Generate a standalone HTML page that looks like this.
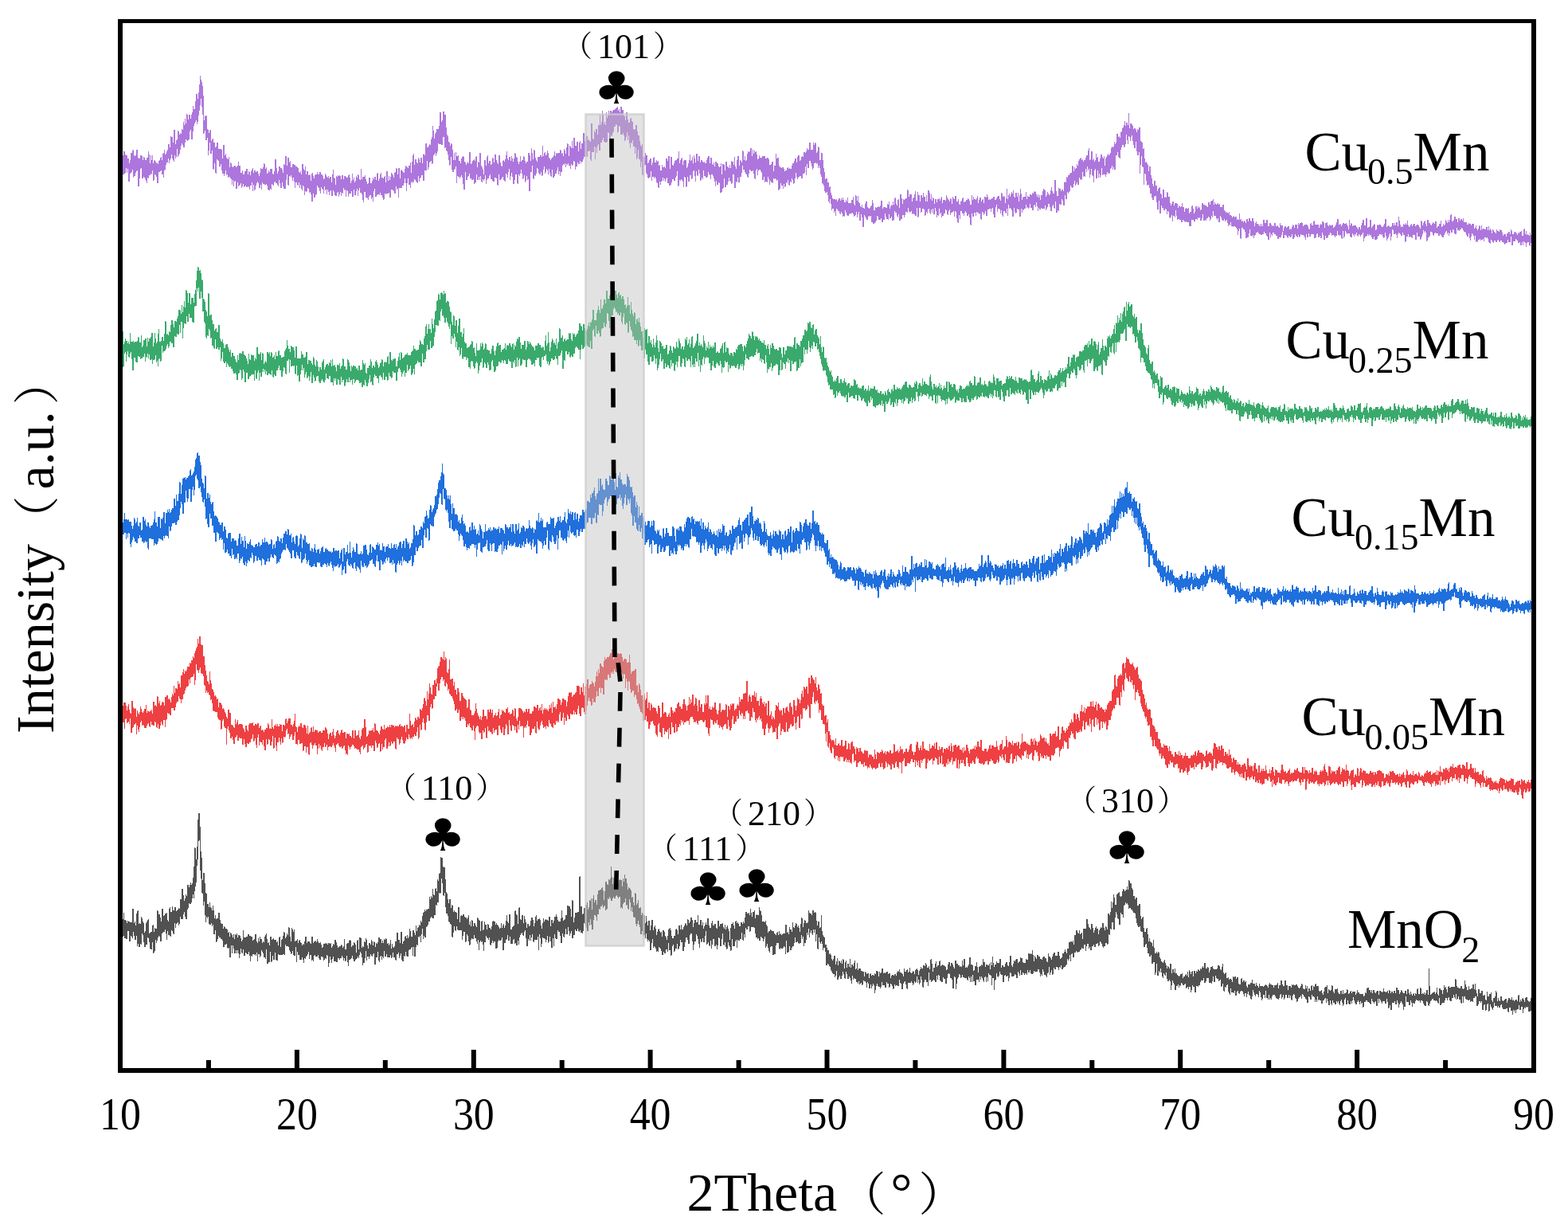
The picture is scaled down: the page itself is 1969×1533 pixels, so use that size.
<!DOCTYPE html>
<html><head><meta charset="utf-8"><style>
html,body{margin:0;padding:0;background:#fff;}
svg{display:block;}
text{font-family:'Liberation Serif','Noto Serif CJK SC',serif;fill:#000;}
.cl{font-family:'DejaVu Sans',sans-serif;}
</style></head><body>
<svg width="1969" height="1533" viewBox="0 0 1969 1533">
<rect width="1969" height="1533" fill="#fff"/>
<g fill="none" stroke-width="1.5" stroke-linejoin="round" shape-rendering="crispEdges" transform="translate(151,0) scale(0.221875,0.5)">
<path d="M0,398l1,-6 1,22 1,-16 1,18 1,-5 1,-22 1,27 1,-2 1,-28 1,23 1,16 1,-13 1,-15 1,18 1,-19 1,10 1,31 1,-5 1,-41 1,20 1,19 1,-49 1,54 1,-45 1,30 1,-24 1,26 1,-2 1,-4 1,16 1,-42 1,21 1,-8 1,10 1,-12 1,10 1,11 1,-30 1,41 1,-16 1,3 1,-13 1,7 1,-15 1,18 1,7 1,-8 1,4 1,35 1,-39 1,2 1,2 1,7 1,-1 1,-15 1,23 1,-22 1,-1 1,-8 1,30 1,-24 1,-24 1,35 1,-6 1,16 1,-18 1,-7 1,-9 1,21 1,-10 1,0 1,18 1,-47 1,18 1,48 1,-40 1,-4 1,31 1,-18 1,-22 1,8 1,42 1,-33 1,23 1,-21 1,23 1,-27 1,2 1,-8 1,-9 1,37 1,-18 1,-20 1,-13 1,17 1,4 1,4 1,-2 1,26 1,-25 1,25 1,-29 1,26 1,43 1,-65 1,33 1,-35 1,23 1,-19 1,-4 1,47 1,-38 1,-4 1,14 1,-14 1,19 1,-10 1,-22 1,14 1,-14 1,15 1,-12 1,11 1,4 1,16 1,-10 1,32 1,-11 1,-32 1,6 1,11 1,-1 1,-24 1,46 1,-45 1,17 1,-3 1,4 1,-13 1,25 1,22 1,-26 1,-17 1,-3 1,13 1,11 1,-24 1,20 1,-20 1,56 1,-32 1,-18 1,7 1,-19 1,34 1,-8 1,2 1,-12 1,34 1,-36 1,-29 1,31 1,8 1,17 1,-23 1,-5 1,29 1,-13 1,6 1,5 1,-14 1,5 1,-27 1,-10 1,22 1,17 1,7 1,-13 1,-6 1,0 1,-7 1,-20 1,26 1,10 1,-11 1,5 1,3 1,16 1,12 1,-41 1,17 1,-16 1,-4 1,-2 1,-1 1,31 1,-32 1,22 1,-19 1,32 1,-21 1,-6 1,4 1,8 1,13 1,-19 1,25 1,-33 1,18 1,-1 1,21 1,11 1,-46 1,29 1,-7 1,-21 1,5 1,12 1,-25 1,18 1,7 1,-27 1,11 1,-5 1,-6 1,1 1,16 1,7 1,0 1,-30 1,21 1,-23 1,10 1,1 1,6 1,-1 1,3 1,-11 1,32 1,-27 1,-12 1,20 1,11 1,-42 1,59 1,-29 1,8 1,-33 1,9 1,-22 1,25 1,23 1,-37 1,6 1,-1 1,14 1,-15 1,12 1,-7 1,15 1,-25 1,3 1,-3 1,4 1,2 1,13 1,-27 1,4 1,12 1,-19 1,2 1,6 1,12 1,-23 1,-10 1,11 1,10 1,23 1,-15 1,-8 1,-1 1,2 1,-15 1,7 1,19 1,-53 1,15 1,-15 1,43 1,-6 1,4 1,1 1,-10 1,-6 1,22 1,-46 1,51 1,-34 1,28 1,4 1,-17 1,-18 1,42 1,2 1,-50 1,36 1,-63 1,7 1,44 1,-1 1,-14 1,25 1,-19 1,27 1,-7 1,-14 1,-21 1,20 1,-14 1,12 1,-19 1,11 1,6 1,-19 1,11 1,-16 1,47 1,-63 1,11 1,17 1,30 1,-25 1,23 1,-19 1,-2 1,-26 1,36 1,-26 1,17 1,-25 1,19 1,-24 1,25 1,1 1,3 1,-10 1,-8 1,-5 1,10 1,7 1,-33 1,20 1,13 1,4 1,-2 1,-33 1,25 1,-10 1,-35 1,10 1,51 1,-39 1,14 1,-11 1,5 1,18 1,0 1,-57 1,28 1,-10 1,1 1,11 1,-17 1,25 1,13 1,-26 1,22 1,-58 1,50 1,15 1,-5 1,-16 1,-28 1,7 1,-10 1,27 1,22 1,-13 1,-20 1,-1 1,-27 1,39 1,-20 1,-8 1,-2 1,16 1,-13 1,20 1,-10 1,13 1,-7 1,-15 1,-13 1,43 1,-26 1,43 1,-47 1,-19 1,20 1,-9 1,-6 1,41 1,-61 1,39 1,-1 1,9 1,-37 1,31 1,-33 1,20 1,-18 1,30 1,-14 1,10 1,-20 1,-14 1,20 1,-6 1,-30 1,11 1,28 1,-7 1,-49 1,73 1,-51 1,52 1,-41 1,-18 1,5 1,4 1,22 1,-34 1,8 1,32 1,-29 1,16 1,-36 1,-17 1,-9 1,32 1,16 1,-28 1,7 1,-49 1,55 1,-21 1,-11 1,3 1,-8 1,22 1,-19 1,22 1,-27 1,52 1,7 1,-12 1,-12 1,33 1,-35 1,52 1,41 1,-17 1,8 1,-22 1,29 1,-23 1,15 1,-1 1,4 1,-35 1,10 1,16 1,-13 1,16 1,-27 1,34 1,22 1,-58 1,37 1,-3 1,10 1,-11 1,7 1,6 1,6 1,-16 1,9 1,51 1,-57 1,46 1,0 1,-25 1,19 1,-34 1,2 1,-6 1,23 1,-25 1,15 1,-18 1,47 1,-31 1,19 1,21 1,-21 1,-2 1,-6 1,17 1,1 1,-20 1,-1 1,1 1,24 1,-27 1,29 1,18 1,-29 1,56 1,-54 1,7 1,-9 1,-8 1,10 1,-8 1,29 1,17 1,-7 1,-17 1,-8 1,-4 1,5 1,57 1,-53 1,18 1,0 1,-18 1,-22 1,27 1,-18 1,30 1,-11 1,-27 1,15 1,25 1,-4 1,2 1,-12 1,16 1,-27 1,30 1,-19 1,19 1,-16 1,28 1,-37 1,19 1,-17 1,26 1,-33 1,30 1,0 1,-11 1,5 1,21 1,-42 1,23 1,1 1,26 1,-28 1,24 1,10 1,0 1,-31 1,-7 1,38 1,-68 1,27 1,48 1,-23 1,0 1,-22 1,-5 1,43 1,-25 1,18 1,-34 1,5 1,-10 1,35 1,-21 1,15 1,-20 1,41 1,-22 1,-6 1,-10 1,8 1,7 1,-2 1,1 1,5 1,25 1,-43 1,16 1,-21 1,46 1,-18 1,-2 1,-1 1,7 1,5 1,-6 1,16 1,-33 1,-1 1,1 1,38 1,-2 1,-25 1,19 1,-21 1,17 1,26 1,-24 1,3 1,-9 1,-4 1,17 1,5 1,-6 1,-24 1,2 1,45 1,-24 1,-16 1,11 1,5 1,-26 1,25 1,4 1,-22 1,28 1,-22 1,-9 1,11 1,21 1,-1 1,13 1,8 1,-44 1,18 1,-23 1,-6 1,26 1,-5 1,17 1,-11 1,-16 1,38 1,-59 1,21 1,3 1,1 1,1 1,31 1,-23 1,-25 1,20 1,-8 1,21 1,-9 1,17 1,-19 1,3 1,-6 1,10 1,22 1,3 1,-5 1,-16 1,7 1,-28 1,31 1,-15 1,-3 1,19 1,-22 1,0 1,4 1,7 1,-8 1,27 1,-9 1,2 1,-21 1,-9 1,29 1,4 1,-33 1,18 1,4 1,3 1,8 1,3 1,-16 1,17 1,-44 1,19 1,-13 1,26 1,-17 1,3 1,21 1,2 1,-10 1,-1 1,-4 1,18 1,-38 1,11 1,4 1,-7 1,35 1,-31 1,22 1,-11 1,-4 1,-1 1,-8 1,8 1,-11 1,27 1,-14 1,0 1,-24 1,13 1,11 1,-13 1,0 1,40 1,-55 1,38 1,-1 1,-23 1,-1 1,26 1,-19 1,-7 1,41 1,-17 1,-25 1,-6 1,46 1,-6 1,-22 1,-5 1,23 1,-22 1,8 1,-12 1,-1 1,-7 1,27 1,-18 1,-8 1,10 1,3 1,-14 1,24 1,-7 1,10 1,-20 1,8 1,10 1,-5 1,-1 1,14 1,-21 1,27 1,-4 1,-21 1,3 1,-6 1,-8 1,7 1,22 1,-39 1,31 1,1 1,19 1,-36 1,9 1,-22 1,28 1,3 1,-9 1,-6 1,-16 1,23 1,-28 1,39 1,-3 1,-35 1,32 1,-42 1,7 1,44 1,-48 1,36 1,-1 1,-25 1,10 1,27 1,0 1,-12 1,4 1,-32 1,20 1,-5 1,7 1,13 1,-16 1,3 1,20 1,-11 1,4 1,-21 1,20 1,20 1,-47 1,26 1,0 1,-2 1,-10 1,33 1,-29 1,-14 1,15 1,-6 1,-6 1,14 1,-24 1,48 1,-29 1,-2 1,-2 1,-14 1,30 1,-31 1,20 1,6 1,9 1,2 1,-26 1,14 1,4 1,8 1,2 1,-25 1,16 1,-5 1,-1 1,-18 1,17 1,-13 1,17 1,-2 1,3 1,-52 1,15 1,17 1,12 1,4 1,9 1,-24 1,-12 1,32 1,-12 1,-5 1,3 1,3 1,-3 1,17 1,9 1,-21 1,-13 1,8 1,-11 1,-4 1,25 1,-17 1,-15 1,33 1,-11 1,18 1,-35 1,33 1,-5 1,11 1,4 1,4 1,-48 1,30 1,5 1,-16 1,11 1,3 1,-29 1,20 1,-5 1,4 1,7 1,-3 1,-6 1,23 1,-4 1,10 1,-59 1,28 1,-20 1,19 1,-24 1,-1 1,57 1,-54 1,22 1,-48 1,32 1,2 1,23 1,-22 1,-10 1,12 1,7 1,-3 1,-10 1,4 1,-13 1,-9 1,17 1,-25 1,66 1,-48 1,28 1,-18 1,14 1,-23 1,-8 1,19 1,-6 1,-3 1,-14 1,38 1,-16 1,11 1,-17 1,6 1,9 1,-4 1,-11 1,8 1,-2 1,-5 1,24 1,-27 1,33 1,-14 1,-24 1,2 1,15 1,14 1,-25 1,1 1,-4 1,35 1,-37 1,33 1,7 1,-4 1,20 1,-36 1,3 1,8 1,-25 1,-1 1,23 1,14 1,-19 1,14 1,-32 1,3 1,26 1,-15 1,18 1,-11 1,23 1,-41 1,21 1,-11 1,23 1,-16 1,10 1,0 1,-7 1,-7 1,15 1,20 1,-12 1,-20 1,16 1,-24 1,17 1,-9 1,0 1,13 1,14 1,-11 1,15 1,6 1,-30 1,-33 1,45 1,-20 1,11 1,13 1,2 1,-38 1,10 1,20 1,10 1,-17 1,-6 1,45 1,-52 1,18 1,-25 1,10 1,-20 1,36 1,-13 1,38 1,-6 1,-11 1,-5 1,15 1,-40 1,45 1,-37 1,-9 1,28 1,-29 1,39 1,-9 1,-6 1,-4 1,4 1,-14 1,32 1,-20 1,-13 1,30 1,12 1,-4 1,-16 1,-21 1,23 1,-9 1,0 1,0 1,31 1,-31 1,19 1,-19 1,-15 1,20 1,45 1,-69 1,8 1,23 1,2 1,-7 1,23 1,-13 1,-28 1,20 1,-8 1,18 1,-2 1,23 1,-29 1,-9 1,22 1,0 1,-15 1,-24 1,23 1,-24 1,49 1,-4 1,-45 1,8 1,8 1,-14 1,4 1,-12 1,6 1,12 1,13 1,-6 1,1 1,9 1,-28 1,15 1,7 1,-6 1,14 1,-14 1,1 1,9 1,-14 1,27 1,-46 1,31 1,21 1,-45 1,26 1,-23 1,1 1,25 1,-29 1,29 1,3 1,-2 1,-4 1,5 1,3 1,-31 1,8 1,12 1,5 1,16 1,-7 1,-17 1,-3 1,-7 1,5 1,8 1,3 1,-12 1,23 1,-40 1,3 1,34 1,-22 1,5 1,2 1,-14 1,1 1,41 1,-36 1,22 1,-16 1,17 1,-26 1,22 1,-11 1,-8 1,8 1,-15 1,11 1,16 1,11 1,-33 1,40 1,-26 1,5 1,0 1,-16 1,-7 1,16 1,-4 1,-3 1,22 1,-18 1,15 1,-11 1,-2 1,20 1,11 1,-18 1,-34 1,24 1,6 1,-5 1,-8 1,-28 1,22 1,26 1,-17 1,9 1,7 1,5 1,-19 1,-12 1,11 1,5 1,24 1,-21 1,12 1,8 1,3 1,-12 1,-5 1,3 1,-33 1,4 1,-3 1,29 1,8 1,-24 1,-2 1,1 1,23 1,-38 1,13 1,6 1,-12 1,43 1,-12 1,-24 1,-11 1,1 1,-4 1,34 1,4 1,-33 1,0 1,11 1,0 1,33 1,-20 1,-1 1,-6 1,14 1,-19 1,-1 1,-17 1,43 1,-8 1,-8 1,-4 1,7 1,-19 1,7 1,-8 1,7 1,13 1,-16 1,15 1,6 1,-32 1,14 1,16 1,-18 1,4 1,-15 1,19 1,29 1,-43 1,-2 1,24 1,-11 1,3 1,12 1,-14 1,17 1,-31 1,18 1,3 1,3 1,-9 1,29 1,-20 1,-32 1,33 1,12 1,-16 1,-22 1,14 1,20 1,-15 1,1 1,18 1,-11 1,5 1,-2 1,-16 1,18 1,0 1,-10 1,-11 1,-4 1,2 1,-19 1,56 1,-30 1,28 1,-38 1,8 1,14 1,-17 1,12 1,-22 1,14 1,9 1,1 1,4 1,-16 1,21 1,8 1,-25 1,25 1,-13 1,-21 1,23 1,-27 1,-8 1,8 1,22 1,-13 1,-11 1,0 1,19 1,-3 1,-15 1,41 1,-51 1,17 1,2 1,17 1,-26 1,19 1,-16 1,0 1,4 1,-3 1,9 1,10 1,1 1,9 1,-27 1,0 1,-10 1,-20 1,42 1,4 1,14 1,-27 1,9 1,-5 1,7 1,30 1,-41 1,-13 1,43 1,-23 1,40 1,-21 1,-39 1,35 1,-19 1,16 1,-11 1,2 1,-20 1,-8 1,24 1,-14 1,28 1,7 1,-22 1,30 1,-33 1,33 1,-37 1,4 1,20 1,-1 1,0 1,-10 1,25 1,-28 1,34 1,-30 1,-9 1,31 1,-32 1,19 1,-25 1,-8 1,35 1,6 1,-10 1,-21 1,16 1,15 1,-7 1,-18 1,14 1,1 1,-1 1,6 1,15 1,-11 1,-24 1,-8 1,30 1,-14 1,2 1,10 1,21 1,-57 1,25 1,-9 1,-9 1,24 1,-5 1,-6 1,-3 1,3 1,0 1,-21 1,18 1,-7 1,14 1,22 1,-39 1,27 1,8 1,-31 1,-1 1,31 1,-15 1,-5 1,20 1,-3 1,-50 1,44 1,-24 1,0 1,19 1,-13 1,19 1,-2 1,9 1,-11 1,-2 1,14 1,-17 1,-20 1,-7 1,30 1,-12 1,-6 1,-19 1,42 1,-44 1,54 1,-15 1,3 1,6 1,-8 1,-24 1,20 1,23 1,-47 1,6 1,17 1,4 1,-17 1,43 1,-36 1,-3 1,10 1,-24 1,-1 1,21 1,8 1,-31 1,16 1,2 1,24 1,-27 1,6 1,-2 1,-4 1,8 1,3 1,-39 1,53 1,-30 1,-4 1,3 1,7 1,24 1,-6 1,-16 1,21 1,-28 1,16 1,-27 1,19 1,12 1,-22 1,22 1,-1 1,-1 1,21 1,-17 1,-31 1,7 1,5 1,0 1,-9 1,17 1,-30 1,36 1,3 1,-2 1,-22 1,12 1,4 1,9 1,-34 1,20 1,-15 1,5 1,15 1,-19 1,5 1,26 1,-37 1,20 1,-21 1,43 1,-50 1,34 1,-9 1,5 1,-3 1,2 1,3 1,-42 1,40 1,-11 1,3 1,-4 1,22 1,-34 1,14 1,-10 1,7 1,8 1,0 1,36 1,-32 1,-40 1,21 1,27 1,-21 1,-2 1,2 1,20 1,-19 1,5 1,-1 1,12 1,-1 1,3 1,-40 1,41 1,-42 1,16 1,-4 1,21 1,4 1,-12 1,-4 1,-17 1,27 1,6 1,-14 1,0 1,9 1,-1 1,-12 1,5 1,-4 1,-3 1,-11 1,13 1,-3 1,-13 1,14 1,-28 1,41 1,-10 1,-28 1,39 1,-1 1,21 1,-42 1,19 1,-6 1,-29 1,12 1,14 1,-6 1,2 1,-9 1,9 1,-20 1,1 1,-7 1,21 1,25 1,-26 1,-14 1,18 1,7 1,-12 1,-26 1,61 1,-21 1,-1 1,7 1,-3 1,-6 1,-5 1,0 1,-9 1,2 1,19 1,-46 1,39 1,-2 1,14 1,-5 1,-52 1,-14 1,28 1,11 1,-3 1,12 1,13 1,-33 1,10 1,3 1,-11 1,6 1,3 1,24 1,-50 1,24 1,7 1,22 1,-6 1,8 1,-46 1,10 1,10 1,-18 1,16 1,31 1,-45 1,16 1,11 1,-14 1,-29 1,17 1,-8 1,48 1,-6 1,-3 1,-1 1,-16 1,-8 1,21 1,3 1,-36 1,21 1,2 1,-16 1,-19 1,42 1,-6 1,1 1,-14 1,-1 1,0 1,-8 1,7 1,21 1,-4 1,-22 1,8 1,32 1,-65 1,6 1,26 1,-3 1,-1 1,-25 1,31 1,-14 1,18 1,-16 1,10 1,-37 1,-22 1,66 1,-59 1,18 1,25 1,-37 1,20 1,9 1,-4 1,-10 1,-17 1,24 1,29 1,-33 1,-1 1,27 1,-14 1,-12 1,3 1,8 1,-40 1,14 1,12 1,17 1,-5 1,-10 1,-26 1,14 1,24 1,-20 1,-7 1,-12 1,21 1,-32 1,-8 1,45 1,20 1,-38 1,12 1,-4 1,-62 1,58 1,5 1,-10 1,0 1,17 1,-30 1,17 1,1 1,4 1,-13 1,-19 1,5 1,21 1,8 1,-27 1,-21 1,6 1,51 1,-21 1,8 1,-11 1,-10 1,-6 1,-25 1,20 1,32 1,-17 1,-7 1,-25 1,14 1,1 1,4 1,3 1,-26 1,-7 1,17 1,26 1,-27 1,3 1,-10 1,-11 1,-33 1,78 1,-35 1,-17 1,43 1,-22 1,-20 1,21 1,32 1,-56 1,7 1,-10 1,44 1,-20 1,-18 1,31 1,-15 1,17 1,-61 1,42 1,2 1,17 1,-19 1,9 1,-25 1,35 1,27 1,-81 1,10 1,53 1,-27 1,-4 1,32 1,-7 1,6 1,-8 1,9 1,25 1,-38 1,5 1,20 1,-13 1,18 1,-26 1,32 1,-8 1,20 1,-12 1,-19 1,2 1,25 1,31 1,-45 1,20 1,-23 1,35 1,10 1,-20 1,-15 1,15 1,-12 1,-3 1,-15 1,31 1,-25 1,44 1,-38 1,51 1,-34 1,-14 1,9 1,18 1,26 1,-2 1,-6 1,-10 1,-5 1,1 1,16 1,-38 1,28 1,2 1,-13 1,14 1,5 1,-18 1,7 1,4 1,-31 1,29 1,3 1,-3 1,-20 1,65 1,-39 1,8 1,4 1,-37 1,26 1,1 1,-29 1,41 1,-27 1,26 1,11 1,-24 1,-10 1,25 1,-29 1,34 1,8 1,-15 1,-22 1,33 1,-7 1,-4 1,-4 1,-15 1,25 1,-4 1,-13 1,-22 1,21 1,24 1,-36 1,15 1,-2 1,-27 1,41 1,-4 1,2 1,29 1,-10 1,-56 1,30 1,48 1,-67 1,24 1,2 1,-2 1,-10 1,-11 1,19 1,-14 1,5 1,-5 1,33 1,-3 1,-12 1,18 1,-40 1,37 1,-30 1,17 1,8 1,-25 1,-10 1,15 1,-12 1,22 1,8 1,-25 1,10 1,-5 1,13 1,-15 1,12 1,-47 1,24 1,17 1,-13 1,34 1,-25 1,8 1,8 1,-10 1,-7 1,-8 1,9 1,16 1,-22 1,36 1,-20 1,7 1,-32 1,42 1,-28 1,0 1,-16 1,32 1,0 1,-34 1,19 1,39 1,-21 1,-34 1,36 1,-7 1,23 1,-29 1,3 1,-4 1,-27 1,4 1,-11 1,25 1,2 1,12 1,6 1,-9 1,-8 1,29 1,0 1,-8 1,-2 1,-33 1,13 1,18 1,-25 1,17 1,12 1,1 1,-38 1,46 1,-30 1,-35 1,49 1,-10 1,10 1,-11 1,-6 1,27 1,0 1,-9 1,-15 1,35 1,-14 1,10 1,-26 1,20 1,-19 1,8 1,3 1,9 1,2 1,1 1,2 1,-2 1,-3 1,-11 1,-7 1,1 1,-26 1,32 1,-3 1,5 1,-4 1,-9 1,-8 1,15 1,28 1,-38 1,-4 1,13 1,12 1,-5 1,3 1,-49 1,52 1,-22 1,24 1,-31 1,9 1,-13 1,11 1,-8 1,17 1,3 1,7 1,-27 1,-9 1,12 1,19 1,-6 1,7 1,-8 1,19 1,-29 1,4 1,-8 1,7 1,-7 1,-2 1,35 1,-20 1,-22 1,47 1,-55 1,20 1,-7 1,-6 1,10 1,39 1,-23 1,22 1,-28 1,-15 1,3 1,15 1,-5 1,-34 1,55 1,-23 1,6 1,-30 1,22 1,-10 1,7 1,14 1,-3 1,19 1,-37 1,18 1,11 1,15 1,11 1,-50 1,13 1,7 1,-11 1,5 1,5 1,-32 1,-10 1,46 1,-9 1,23 1,-21 1,7 1,-11 1,-16 1,21 1,19 1,-25 1,-2 1,-5 1,18 1,-7 1,13 1,-23 1,1 1,24 1,-1 1,-21 1,-4 1,-12 1,22 1,-24 1,46 1,-31 1,-13 1,14 1,25 1,-21 1,-6 1,3 1,33 1,-29 1,-4 1,-19 1,3 1,12 1,18 1,-25 1,7 1,-27 1,47 1,-56 1,49 1,7 1,-3 1,10 1,-41 1,17 1,6 1,-3 1,7 1,-26 1,4 1,-10 1,21 1,4 1,-28 1,17 1,0 1,39 1,-24 1,-21 1,23 1,-4 1,-7 1,-6 1,21 1,-39 1,10 1,-5 1,3 1,40 1,-27 1,16 1,11 1,-9 1,15 1,-33 1,46 1,-38 1,-24 1,45 1,-10 1,-24 1,12 1,-1 1,29 1,-64 1,2 1,41 1,-6 1,14 1,-26 1,-9 1,6 1,-1 1,-11 1,21 1,6 1,11 1,-12 1,-15 1,53 1,-27 1,-20 1,16 1,-16 1,5 1,18 1,-17 1,6 1,-7 1,-11 1,33 1,-10 1,-18 1,23 1,-42 1,33 1,-13 1,11 1,-6 1,-1 1,0 1,-11 1,14 1,-8 1,-8 1,8 1,23 1,-15 1,-17 1,45 1,-25 1,-11 1,33 1,-51 1,44 1,-8 1,-2 1,-30 1,10 1,11 1,0 1,-7 1,44 1,-40 1,6 1,-3 1,-7 1,1 1,7 1,13 1,8 1,-34 1,16 1,9 1,2 1,-6 1,22 1,-28 1,-18 1,23 1,-8 1,-18 1,-16 1,21 1,14 1,59 1,-57 1,-5 1,-26 1,27 1,-6 1,14 1,-2 1,-19 1,12 1,13 1,-10 1,-47 1,43 1,-14 1,-13 1,23 1,-26 1,25 1,-3 1,3 1,22 1,-22 1,-10 1,47 1,-52 1,36 1,-54 1,20 1,30 1,4 1,-37 1,5 1,40 1,-11 1,-9 1,7 1,7 1,-23 1,-1 1,-6 1,16 1,-7 1,0 1,-4 1,1 1,5 1,-9 1,-11 1,25 1,-25 1,25 1,12 1,-12 1,10 1,-15 1,-20 1,32 1,2 1,-14 1,22 1,-3 1,-4 1,2 1,-40 1,6 1,27 1,-4 1,-4 1,-22 1,4 1,1 1,40 1,-13 1,-7 1,-53 1,64 1,-26 1,2 1,6 1,-2 1,-18 1,16 1,2 1,0 1,-19 1,25 1,-33 1,17 1,34 1,-5 1,-21 1,-2 1,-14 1,-2 1,11 1,20 1,-26 1,17 1,-10 1,-14 1,21 1,-24 1,-7 1,20 1,21 1,16 1,0 1,-39 1,25 1,-5 1,-6 1,-4 1,1 1,-8 1,33 1,-17 1,16 1,-7 1,-11 1,-8 1,-2 1,20 1,18 1,-34 1,-8 1,6 1,10 1,-11 1,11 1,9 1,-10 1,-18 1,13 1,-1 1,-14 1,49 1,-39 1,32 1,-18 1,-25 1,-3 1,49 1,-58 1,26 1,9 1,-24 1,8 1,-2 1,20 1,16 1,-20 1,3 1,-32 1,15 1,11 1,-8 1,22 1,-19 1,7 1,-13 1,-11 1,14 1,14 1,-33 1,5 1,47 1,-25 1,-26 1,42 1,-39 1,12 1,10 1,-23 1,53 1,-43 1,-20 1,53 1,-20 1,-30 1,28 1,10 1,-14 1,25 1,-11 1,-10 1,-23 1,13 1,12 1,-4 1,-5 1,-8 1,15 1,-16 1,8 1,10 1,2 1,-37 1,18 1,-14 1,11 1,8 1,2 1,-6 1,-1 1,25 1,-31 1,9 1,-1 1,4 1,0 1,-11 1,-17 1,40 1,-47 1,31 1,-34 1,33 1,10 1,1 1,-26 1,29 1,0 1,-11 1,-2 1,-1 1,20 1,-22 1,19 1,-42 1,-2 1,31 1,24 1,-40 1,17 1,4 1,7 1,-31 1,-7 1,38 1,-16 1,10 1,-49 1,58 1,-25 1,-7 1,22 1,-8 1,-6 1,-17 1,30 1,-21 1,16 1,-2 1,-49 1,41 1,11 1,0 1,7 1,-26 1,45 1,-52 1,4 1,-10 1,28 1,16 1,6 1,-32 1,10 1,-5 1,18 1,-51 1,25 1,22 1,-27 1,18 1,-6 1,7 1,-15 1,19 1,10 1,-19 1,-7 1,-22 1,5 1,-3 1,-8 1,19 1,27 1,-26 1,3 1,21 1,9 1,-34 1,8 1,17 1,-20 1,-5 1,30 1,-44 1,33 1,1 1,-13 1,-8 1,24 1,-7 1,-3 1,-1 1,-52 1,24 1,21 1,12 1,-22 1,7 1,-10 1,25 1,-28 1,-9 1,30 1,-40 1,25 1,-2 1,-11 1,9 1,-24 1,37 1,13 1,-2 1,2 1,-29 1,14 1,-1 1,-3 1,-5 1,10 1,-26 1,17 1,-12 1,0 1,20 1,-9 1,-12 1,4 1,13 1,-15 1,12 1,-12 1,17 1,16 1,11 1,-40 1,-6 1,-44 1,50 1,5 1,-13 1,27 1,-26 1,-4 1,-2 1,26 1,-3 1,-9 1,-11 1,29 1,-30 1,2 1,3 1,9 1,-35 1,11 1,8 1,50 1,-8 1,-34 1,-19 1,27 1,-24 1,15 1,-30 1,18 1,16 1,22 1,-27 1,-15 1,15 1,-12 1,22 1,-19 1,13 1,-19 1,0 1,-25 1,2 1,39 1,-23 1,14 1,29 1,-16 1,-64 1,-6 1,36 1,18 1,-20 1,19 1,-14 1,27 1,-19 1,10 1,-39 1,19 1,23 1,-39 1,15 1,-46 1,21 1,27 1,-6 1,11 1,11 1,-26 1,13 1,-17 1,11 1,30 1,-1 1,-46 1,47 1,-22 1,2 1,15 1,-35 1,31 1,-2 1,13 1,-73 1,31 1,34 1,-43 1,-9 1,57 1,-33 1,-15 1,25 1,-33 1,11 1,15 1,-32 1,20 1,-19 1,-13 1,53 1,-13 1,-35 1,18 1,22 1,21 1,-42 1,-6 1,64 1,-83 1,31 1,-1 1,1 1,-25 1,-1 1,28 1,9 1,20 1,-25 1,-8 1,11 1,-13 1,3 1,19 1,-50 1,16 1,6 1,-13 1,19 1,1 1,-13 1,2 1,20 1,-40 1,17 1,11 1,-15 1,1 1,-15 1,22 1,13 1,-36 1,18 1,2 1,19 1,-7 1,-36 1,31 1,31 1,-2 1,-19 1,6 1,12 1,-36 1,-14 1,23 1,-26 1,36 1,-10 1,-4 1,17 1,-20 1,1 1,-12 1,33 1,-1 1,21 1,-9 1,-41 1,-18 1,25 1,26 1,17 1,-24 1,-12 1,10 1,22 1,-15 1,-41 1,43 1,-29 1,0 1,13 1,5 1,14 1,15 1,-40 1,11 1,-16 1,38 1,21 1,-29 1,-19 1,26 1,13 1,-14 1,10 1,-48 1,6 1,-14 1,25 1,23 1,-32 1,30 1,-27 1,11 1,-11 1,49 1,-23 1,3 1,-18 1,20 1,4 1,-19 1,-9 1,49 1,-17 1,-18 1,26 1,-20 1,41 1,-36 1,-28 1,-8 1,31 1,4 1,0 1,25 1,-17 1,-12 1,-23 1,27 1,2 1,16 1,-23 1,14 1,-6 1,-11 1,4 1,37 1,-22 1,-17 1,24 1,-3 1,-8 1,-10 1,52 1,2 1,-59 1,37 1,-20 1,5 1,22 1,-3 1,-51 1,58 1,26 1,-44 1,12 1,-18 1,-18 1,64 1,-44 1,23 1,-5 1,3 1,-4 1,-27 1,25 1,3 1,-5 1,35 1,-14 1,-30 1,17 1,-7 1,5 1,20 1,28 1,-36 1,16 1,6 1,-8 1,-18 1,14 1,-22 1,26 1,-33 1,35 1,38 1,-37 1,11 1,-6 1,36 1,-1 1,-45 1,5 1,3 1,-4 1,0 1,2 1,6 1,8 1,-8 1,-8 1,-13 1,14 1,3 1,10 1,-10 1,20 1,10 1,-40 1,42 1,-26 1,2 1,27 1,-22 1,18 1,0 1,-21 1,7 1,27 1,-37 1,12 1,7 1,16 1,-40 1,6 1,14 1,19 1,-13 1,-21 1,22 1,-6 1,-25 1,12 1,17 1,-7 1,-7 1,13 1,-10 1,34 1,-17 1,0 1,8 1,-33 1,26 1,7 1,-20 1,13 1,6 1,-13 1,-27 1,-6 1,50 1,-20 1,11 1,-23 1,19 1,6 1,-29 1,33 1,-25 1,14 1,-23 1,33 1,6 1,-4 1,-41 1,26 1,14 1,16 1,-30 1,-8 1,7 1,-22 1,43 1,-22 1,-8 1,43 1,8 1,-52 1,12 1,25 1,-18 1,-7 1,-15 1,19 1,14 1,-12 1,5 1,22 1,-34 1,26 1,-18 1,-4 1,8 1,1 1,11 1,-38 1,28 1,-19 1,21 1,-23 1,4 1,16 1,-2 1,-1 1,6 1,7 1,-24 1,-8 1,27 1,-19 1,8 1,5 1,-7 1,21 1,-31 1,26 1,-5 1,-8 1,-16 1,8 1,-12 1,-18 1,46 1,-29 1,13 1,-18 1,13 1,-18 1,9 1,22 1,22 1,-25 1,-16 1,-25 1,19 1,20 1,0 1,28 1,-1 1,6 1,-40 1,21 1,16 1,-33 1,33 1,-12 1,7 1,-61 1,28 1,26 1,-34 1,5 1,24 1,-20 1,17 1,-26 1,33 1,-9 1,-15 1,19 1,-16 1,-7 1,21 1,-13 1,-17 1,40 1,-15 1,-8 1,-8 1,18 1,-34 1,40 1,-18 1,-6 1,-18 1,16 1,22 1,-20 1,-3 1,-1 1,-2 1,-6 1,20 1,-30 1,7 1,35 1,-28 1,53 1,-36 1,-48 1,52 1,8 1,-31 1,7 1,-3 1,3 1,10 1,24 1,-33 1,-15 1,22 1,3 1,20 1,-2 1,-36 1,-2 1,-11 1,32 1,9 1,11 1,-22 1,-7 1,21 1,13 1,-39 1,-1 1,54 1,-64 1,17 1,-11 1,-7 1,9 1,16 1,1 1,13 1,-23 1,-12 1,-5 1,9 1,33 1,-25 1,13 1,35 1,-35 1,-4 1,22 1,-17 1,-11 1,8 1,-11 1,19 1,-3 1,3 1,6 1,-25 1,-8 1,43 1,-31 1,19 1,-2 1,-38 1,19 1,7 1,-39 1,21 1,28 1,-32 1,-1 1,32 1,-33 1,19 1,14 1,11 1,-45 1,34 1,9 1,-35 1,-16 1,25 1,2 1,-7 1,10 1,2 1,-7 1,-4 1,-26 1,20 1,14 1,-25 1,37 1,-3 1,7 1,-7 1,-5 1,16 1,10 1,-46 1,4 1,2 1,6 1,-34 1,36 1,-4 1,2 1,-4 1,21 1,2 1,-8 1,-25 1,8 1,10 1,-21 1,12 1,-9 1,-14 1,32 1,-23 1,4 1,1 1,8 1,18 1,8 1,-25 1,36 1,-35 1,-4 1,3 1,-13 1,41 1,-25 1,-12 1,-4 1,18 1,-13 1,16 1,25 1,-23 1,1 1,-14 1,-2 1,16 1,-12 1,-4 1,-3 1,31 1,-14 1,15 1,-5 1,-1 1,2 1,-23 1,-2 1,33 1,-23 1,7 1,2 1,7 1,-9 1,-2 1,18 1,-24 1,-19 1,29 1,0 1,-32 1,33 1,-13 1,12 1,-28 1,-9 1,14 1,18 1,6 1,-19 1,25 1,-19 1,-1 1,16 1,6 1,-14 1,23 1,-11 1,-39 1,36 1,-13 1,16 1,-13 1,-11 1,13 1,-9 1,20 1,-12 1,2 1,-4 1,8 1,-9 1,19 1,-29 1,-2 1,18 1,18 1,-26 1,4 1,21 1,-10 1,19 1,-23 1,35 1,-14 1,-44 1,33 1,11 1,-11 1,-30 1,28 1,-9 1,-16 1,14 1,34 1,-31 1,6 1,-25 1,46 1,-22 1,-17 1,24 1,-6 1,17 1,-15 1,3 1,-3 1,5 1,14 1,-39 1,21 1,5 1,-1 1,39 1,-37 1,-35 1,54 1,-13 1,28 1,-40 1,17 1,-7 1,-11 1,12 1,-20 1,41 1,-58 1,37 1,20 1,-22 1,-7 1,-1 1,0 1,-26 1,23 1,2 1,-4 1,-7 1,13 1,27 1,-40 1,25 1,-42 1,22 1,-18 1,-9 1,6 1,36 1,14 1,-21 1,-5 1,-17 1,27 1,1 1,6 1,-9 1,-23 1,23 1,-17 1,14 1,-10 1,-6 1,-2 1,9 1,5 1,-22 1,20 1,17 1,1 1,-9 1,-6 1,-8 1,15 1,-24 1,-16 1,54 1,-34 1,0 1,-12 1,23 1,-29 1,8 1,5 1,7 1,2 1,4 1,-7 1,9 1,1 1,-21 1,15 1,-11 1,-25 1,67 1,9 1,-40 1,11 1,-12 1,20 1,-23 1,28 1,-1 1,-29 1,31 1,-40 1,26 1,3 1,-42 1,34 1,-13 1,14 1,-36 1,-9 1,39 1,1 1,24 1,-30 1,3 1,-9 1,21 1,-24 1,10 1,15 1,-8 1,-31 1,20 1,15 1,-3 1,6 1,-20 1,9 1,0 1,-20 1,-2 1,6 1,-1 1,-16 1,-17 1,-1 1,25 1,6 1,-7 1,18 1,3 1,-2 1,-4 1,6 1,-3 1,1 1,-30 1,37 1,-12 1,-13 1,9 1,-3 1,7 1,13 1,5 1,-32 1,26 1,-18 1,7 1,-11 1,-7 1,-13 1,22 1,34 1,-29 1,26 1,-59 1,26 1,0 1,27 1,-22 1,-30 1,34 1,-36 1,44 1,-11 1,-5 1,2 1,16 1,-8 1,-24 1,-22 1,43 1,-16 1,19 1,-4 1,14 1,-13 1,-23 1,4 1,20 1,0 1,-40 1,49 1,-10 1,-2 1,-1 1,20 1,2 1,-20 1,-35 1,49 1,-37 1,28 1,28 1,-33 1,-4 1,-5 1,-13 1,-12 1,46 1,-5 1,-33 1,34 1,-33 1,11 1,17 1,3 1,-20 1,38 1,-28 1,16 1,-5 1,3 1,-10 1,-11 1,20 1,-32 1,22 1,2 1,-9 1,-9 1,27 1,-21 1,16 1,-5 1,-6 1,4 1,-16 1,3 1,27 1,6 1,-6 1,3 1,-32 1,19 1,-13 1,-10 1,56 1,-34 1,15 1,-38 1,13 1,11 1,-19 1,19 1,-4 1,-20 1,51 1,-34 1,46 1,-29 1,28 1,-24 1,-10 1,-15 1,-6 1,43 1,-34 1,-4 1,26 1,10 1,16 1,-47 1,-3 1,-9 1,33 1,3 1,-16 1,-17 1,42 1,-9 1,-11 1,26 1,-19 1,-2 1,8 1,27 1,-26 1,-22 1,35 1,3 1,-27 1,18 1,-1 1,-11 1,5 1,20 1,-24 1,-23 1,22 1,6 1,18 1,-49 1,11 1,40 1,-20 1,-4 1,-1 1,13 1,-2 1,-13 1,17 1,-31 1,23 1,-17 1,24 1,-14 1,-9 1,2 1,14 1,6 1,-59 1,61 1,-13 1,7 1,6 1,-29 1,-19 1,52 1,-12 1,1 1,-8 1,-36 1,31 1,1 1,2 1,-3 1,48 1,-16 1,-24 1,-19 1,40 1,-11 1,27 1,-28 1,1 1,-25 1,2 1,35 1,-9 1,8 1,-33 1,35 1,-23 1,-3 1,2 1,30 1,-30 1,-2 1,10 1,-22 1,19 1,32 1,-36 1,7 1,13 1,-1 1,-30 1,26 1,9 1,-5 1,13 1,-37 1,31 1,-1 1,3 1,3 1,-33 1,-4 1,7 1,13 1,-3 1,10 1,-28 1,30 1,-35 1,16 1,-17 1,-1 1,29 1,-20 1,13 1,-17 1,-1 1,21 1,12 1,-7 1,12 1,-4 1,-8 1,-28 1,24 1,-5 1,0 1,-4 1,-13 1,30 1,-15 1,4 1,-19 1,8 1,-16 1,15 1,10 1,3 1,-18 1,4 1,10 1,8 1,-39 1,18 1,-2 1,33 1,-23 1,-15 1,2 1,-19 1,43 1,-7 1,-30 1,-7 1,15 1,-19 1,33 1,-11 1,-5 1,4 1,13 1,-3 1,7 1,-28 1,33 1,-13 1,5 1,13 1,-53 1,28 1,13 1,-21 1,29 1,-53 1,34 1,-3 1,1 1,-18 1,6 1,26 1,-13 1,-13 1,29 1,-12 1,-6 1,-4 1,-15 1,17 1,6 1,-30 1,51 1,-13 1,-22 1,20 1,-39 1,3 1,29 1,-12 1,13 1,-9 1,-17 1,35 1,-23 1,-6 1,-23 1,10 1,39 1,-4 1,-24 1,12 1,-5 1,-26 1,20 1,9 1,-20 1,10 1,34 1,-25 1,-31 1,6 1,-6 1,-8 1,21 1,14 1,-3 1,14 1,-43 1,43 1,-6 1,-17 1,-8 1,13 1,0 1,1 1,-24 1,-2 1,25 1,-43 1,32 1,-4 1,15 1,-9 1,-16 1,11 1,-4 1,24 1,-27 1,14 1,4 1,-21 1,26 1,16 1,-42 1,46 1,-38 1,24 1,-50 1,13 1,-9 1,26 1,-20 1,24 1,-19 1,34 1,-27 1,-6 1,16 1,-32 1,8 1,27 1,-12 1,6 1,0 1,19 1,-5 1,-18 1,25 1,-3 1,-22 1,11 1,-15 1,6 1,4 1,19 1,11 1,-51 1,31 1,-8 1,11 1,11 1,-8 1,1 1,-4 1,0 1,1 1,-1 1,20 1,-19 1,0 1,31 1,-24 1,31 1,-35 1,26 1,-49 1,58 1,16 1,-22 1,-1 1,6 1,-38 1,57 1,-24 1,-4 1,32 1,-42 1,37 1,-14 1,-12 1,6 1,7 1,21 1,11 1,-28 1,29 1,-19 1,0 1,22 1,-24 1,19 1,-29 1,11 1,-4 1,25 1,-10 1,2 1,-1 1,16 1,-1 1,-28 1,28 1,-1 1,16 1,2 1,0 1,-27 1,32 1,-35 1,18 1,-11 1,-11 1,14 1,0 1,3 1,11 1,3 1,5 1,5 1,-19 1,3 1,32 1,-30 1,9 1,-4 1,-2 1,9 1,4 1,10 1,-19 1,9 1,-11 1,0 1,12 1,18 1,-13 1,4 1,5 1,-27 1,10 1,-2 1,-2 1,-3 1,22 1,14 1,-27 1,2 1,7 1,-21 1,12 1,-1 1,12 1,-16 1,5 1,-4 1,6 1,6 1,7 1,-6 1,-12 1,-8 1,25 1,-1 1,-6 1,-20 1,30 1,-14 1,-4 1,8 1,16 1,-22 1,0 1,3 1,-11 1,10 1,11 1,-27 1,10 1,19 1,6 1,-17 1,-6 1,1 1,-10 1,40 1,-46 1,15 1,1 1,3 1,5 1,-7 1,-5 1,33 1,-6 1,-6 1,-5 1,-16 1,3 1,3 1,0 1,10 1,-1 1,1 1,-21 1,7 1,14 1,14 1,-17 1,-2 1,2 1,-2 1,14 1,-37 1,44 1,-4 1,-8 1,0 1,-8 1,-9 1,4 1,5 1,-9 1,24 1,-15 1,-10 1,20 1,-19 1,0 1,22 1,-12 1,1 1,-9 1,7 1,14 1,-12 1,-10 1,-9 1,8 1,9 1,11 1,-8 1,0 1,-29 1,41 1,-4 1,2 1,-4 1,-17 1,30 1,-1 1,-25 1,12 1,-3 1,-4 1,-5 1,21 1,-15 1,13 1,-44 1,28 1,11 1,-19 1,18 1,-16 1,13 1,-13 1,30 1,-15 1,-3 1,-32 1,24 1,1 1,-8 1,19 1,-21 1,3 1,17 1,3 1,-21 1,10 1,11 1,20 1,-32 1,11 1,-12 1,14 1,-1 1,4 1,0 1,-10 1,-5 1,12 1,-17 1,0 1,13 1,8 1,13 1,0 1,-26 1,44 1,-45 1,11 1,-4 1,0 1,6 1,2 1,-13 1,11 1,-6 1,10 1,0 1,3 1,-16 1,-14 1,29 1,-18 1,23 1,-39 1,34 1,-14 1,-6 1,17 1,11 1,-10 1,-19 1,12 1,-10 1,18 1,2 1,-3 1,-16 1,2 1,15 1,-16 1,10 1,3 1,-10 1,-3 1,17 1,-18 1,7 1,-4 1,5 1,9 1,-14 1,-9 1,7 1,-4 1,10 1,26 1,-20 1,7 1,-40 1,51 1,-32 1,12 1,-4 1,16 1,14 1,-10 1,-21 1,12 1,-3 1,8 1,-8 1,-9 1,28 1,-15 1,-6 1,-16 1,28 1,3 1,-20 1,-7 1,10 1,1 1,2 1,-17 1,19 1,-7 1,-9 1,9 1,10 1,-9 1,-12 1,18 1,-20 1,5 1,4 1,22 1,-15 1,9 1,-18 1,-6 1,3 1,10 1,17 1,-20 1,-13 1,1 1,16 1,12 1,-15 1,-26 1,17 1,24 1,-16 1,18 1,8 1,-10 1,-4 1,-14 1,12 1,-19 1,-1 1,8 1,-7 1,29 1,-18 1,6 1,-9 1,-1 1,-4 1,-4 1,5 1,0 1,10 1,-5 1,11 1,-19 1,2 1,19 1,-7 1,-8 1,-3 1,23 1,-17 1,-19 1,22 1,-10 1,15 1,10 1,-23 1,-12 1,21 1,-29 1,28 1,-5 1,4 1,-2 1,-7 1,4 1,0 1,18 1,-17 1,9 1,4 1,-5 1,-20 1,22 1,-8 1,-16 1,12 1,8 1,16 1,-16 1,-8 1,0 1,-21 1,46 1,-14 1,-24 1,17 1,18 1,-28 1,0 1,-2 1,4 1,1 1,3 1,-30 1,35 1,-16 1,16 1,-17 1,-3 1,1 1,13 1,-1 1,-1 1,-7 1,0 1,8 1,14 1,-17 1,-17 1,38 1,-29 1,-13 1,13 1,-2 1,22 1,1 1,-4 1,-1 1,0 1,22 1,-30 1,2 1,6 1,-32 1,-9 1,38 1,-8 1,-2 1,31 1,-32 1,-18 1,17 1,6 1,5 1,11 1,-23 1,6 1,1 1,-10 1,18 1,9 1,-37 1,5 1,17 1,20 1,-12 1,-21 1,28 1,-10 1,-27 1,10 1,18 1,-18 1,7 1,-11 1,-8 1,-1 1,31 1,-24 1,15 1,-14 1,-7 1,10 1,23 1,-55 1,40 1,3 1,-26 1,22 1,-16 1,21 1,-27 1,10 1,23 1,-5 1,-23 1,32 1,-25 1,-17 1,40 1,-16 1,-4 1,-4 1,20 1,-20 1,-16 1,35 1,-17 1,22 1,-12 1,18 1,-22 1,5 1,-1 1,-11 1,27 1,-11 1,-25 1,3 1,8 1,28 1,-21 1,-4 1,-22 1,34 1,-16 1,0 1,24 1,-51 1,60 1,-34 1,8 1,-9 1,11 1,-2 1,-10 1,7 1,9 1,-6 1,-5 1,-7 1,-19 1,60 1,-45 1,16 1,2 1,13 1,-39 1,29 1,-2 1,-5 1,-5 1,0 1,1 1,12 1,-8 1,-4 1,4 1,-7 1,19 1,8 1,-42 1,21 1,5 1,-6 1,-3 1,14 1,-25 1,19 1,2 1,5 1,-5 1,-4 1,-29 1,31 1,-3 1,-7 1,13 1,-24 1,30 1,-15 1,21 1,-2 1,11 1,-24 1,19 1,0 1,-2 1,-16 1,-3 1,-23 1,29 1,-3 1,13 1,-7 1,12 1,-27 1,17 1,0 1,-15 1,11 1,-15 1,-26 1,30 1,8 1,-4 1,-7 1,17 1,-23 1,-16 1,30 1,18 1,-13 1,17 1,-27 1,-8 1,18 1,-30 1,2 1,32 1,-11 1,13 1,6 1,-14 1,-13 1,17 1,-12 1,2 1,-14 1,24 1,-9 1,11 1,1 1,7 1,5 1,-12 1,1 1,-13 1,2 1,3 1,2 1,-18 1,17 1,-18 1,15 1,-6 1,18 1,-18 1,20 1,2 1,12 1,-20 1,-10 1,-9 1,0 1,30 1,-33 1,38 1,-21 1,7 1,-11 1,-6 1,-6 1,-3 1,6 1,9 1,-4 1,15 1,10 1,-20 1,5 1,-1 1,-14 1,-6 1,1 1,35 1,-41 1,50 1,-34 1,19 1,2 1,-19 1,10 1,18 1,-13 1,1 1,-3 1,-22 1,14 1,10 1,7 1,-32 1,4 1,9 1,18 1,-25 1,10 1,-2 1,7 1,1 1,-3 1,0 1,-19 1,-3 1,-9 1,20 1,16 1,-15 1,7 1,2 1,-6 1,23 1,-10 1,-7 1,-19 1,18 1,-16 1,24 1,-19 1,13 1,-2 1,-5 1,1 1,-9 1,18 1,-5 1,18 1,-38 1,13 1,2 1,16 1,-18 1,-1 1,21 1,-8 1,7 1,-11 1,0 1,10 1,-36 1,14 1,21 1,-7 1,-23 1,9 1,-2 1,9 1,-7 1,17 1,17 1,-42 1,16 1,5 1,-6 1,-10 1,-12 1,13 1,-6 1,28 1,-14 1,17 1,-25 1,0 1,0 1,40 1,-27 1,9 1,1 1,-6 1,34 1,-33 1,-24 1,39 1,-25 1,3 1,-3 1,-1 1,3 1,20 1,-21 1,33 1,-22 1,1 1,-9 1,-3 1,-4 1,13 1,-19 1,11 1,12 1,-16 1,15 1,-7 1,-2 1,-20 1,26 1,10 1,-5 1,-33 1,22 1,8 1,-1 1,-17 1,31 1,-24 1,7 1,10 1,-2 1,-18 1,-6 1,22 1,-18 1,13 1,-12 1,11 1,0 1,-13 1,10 1,-16 1,29 1,-6 1,5 1,9 1,-8 1,0 1,-10 1,-23 1,2 1,20 1,7 1,3 1,-27 1,21 1,18 1,-4 1,-25 1,16 1,-9 1,-7 1,0 1,25 1,24 1,-48 1,12 1,-2 1,-3 1,-5 1,7 1,-34 1,24 1,20 1,-4 1,-10 1,22 1,-12 1,-2 1,-34 1,47 1,-14 1,5 1,-21 1,9 1,-20 1,21 1,-13 1,21 1,2 1,0 1,-28 1,4 1,33 1,-17 1,3 1,-1 1,-16 1,21 1,-5 1,-26 1,33 1,-39 1,34 1,-10 1,1 1,13 1,-21 1,11 1,-1 1,-12 1,-6 1,33 1,-26 1,12 1,10 1,-11 1,-9 1,-14 1,31 1,-26 1,15 1,-11 1,43 1,-31 1,4 1,-7 1,1 1,-14 1,14 1,14 1,-7 1,-22 1,6 1,-3 1,12 1,8 1,11 1,-7 1,10 1,-22 1,-6 1,-3 1,5 1,-18 1,19 1,-2 1,5 1,-10 1,21 1,-21 1,8 1,-18 1,40 1,3 1,-25 1,-2 1,-23 1,34 1,-3 1,-4 1,2 1,-11 1,10 1,-11 1,17 1,-20 1,9 1,2 1,7 1,-20 1,20 1,-14 1,4 1,10 1,-7 1,-11 1,12 1,-15 1,30 1,-9 1,-16 1,8 1,-6 1,-3 1,1 1,-7 1,17 1,-1 1,-4 1,9 1,-16 1,32 1,-7 1,-33 1,10 1,10 1,29 1,-18 1,-23 1,40 1,-40 1,12 1,2 1,1 1,-2 1,0 1,-14 1,8 1,1 1,-13 1,4 1,3 1,0 1,-1 1,25 1,-13 1,-21 1,15 1,5 1,6 1,-23 1,-6 1,11 1,19 1,-11 1,-1 1,-9 1,2 1,2 1,9 1,4 1,15 1,-28 1,3 1,17 1,-7 1,-18 1,-16 1,4 1,8 1,14 1,-17 1,9 1,-3 1,42 1,-16 1,-22 1,15 1,-25 1,11 1,17 1,7 1,-26 1,-8 1,24 1,-1 1,7 1,-7 1,-7 1,6 1,8 1,-9 1,18 1,-9 1,-25 1,11 1,8 1,-30 1,-14 1,39 1,-9 1,18 1,18 1,-22 1,-16 1,-3 1,1 1,2 1,1 1,-3 1,-10 1,-3 1,35 1,-4 1,1 1,-23 1,16 1,-18 1,24 1,-20 1,16 1,6 1,-31 1,34 1,-41 1,19 1,24 1,-24 1,-15 1,12 1,27 1,17 1,-26 1,5 1,-42 1,41 1,-13 1,-12 1,5 1,7 1,8 1,-14 1,6 1,22 1,-8 1,-25 1,20 1,-25 1,11 1,31 1,-49 1,26 1,-13 1,2 1,4 1,-5 1,-2 1,25 1,-12 1,-2 1,-22 1,24 1,9 1,5 1,-17 1,4 1,1 1,-2 1,15 1,-4 1,-30 1,12 1,40 1,-45 1,7 1,-29 1,24 1,10 1,-1 1,13 1,-7 1,-1 1,-10 1,10 1,19 1,-14 1,1 1,-22 1,2 1,9 1,9 1,-16 1,24 1,-23 1,-8 1,13 1,15 1,-22 1,4 1,0 1,11 1,-20 1,26 1,-22 1,12 1,-28 1,22 1,-6 1,3 1,10 1,-11 1,19 1,-4 1,-13 1,7 1,-6 1,-11 1,2 1,3 1,18 1,4 1,1 1,-14 1,8 1,-10 1,-1 1,-9 1,-2 1,5 1,3 1,2 1,-15 1,30 1,-9 1,-1 1,12 1,-26 1,7 1,-10 1,20 1,7 1,-33 1,16 1,-3 1,-6 1,34 1,-35 1,-5 1,2 1,26 1,-32 1,28 1,-8 1,9 1,-11 1,12 1,-16 1,-15 1,18 1,4 1,14 1,-29 1,13 1,-3 1,8 1,-7 1,-3 1,-2 1,15 1,-5 1,-10 1,18 1,4 1,-27 1,39 1,-11 1,-17 1,1 1,9 1,-9 1,-4 1,1 1,-8 1,1 1,20 1,12 1,-18 1,12 1,-3 1,-12 1,18 1,-19 1,2 1,-8 1,-5 1,13 1,13 1,-4 1,-2 1,12 1,-35 1,34 1,1 1,-20 1,-27 1,34 1,-12 1,25 1,-36 1,17 1,-15 1,-11 1,31 1,-11 1,15 1,-2 1,-16 1,14 1,18 1,-16 1,2 1,-15 1,21 1,-27 1,30 1,-27 1,6 1,18 1,-35 1,17 1,-2 1,2 1,7 1,-21 1,24 1,-11 1,10 1,-3 1,-1 1,-3 1,-14 1,24 1,-13 1,-5 1,25 1,-19 1,5 1,16 1,7 1,-57 1,28 1,14 1,0 1,3 1,-36 1,5 1,21 1,-17 1,13 1,-8 1,17 1,-25 1,3 1,10 1,8 1,-13 1,-4 1,32 1,-19 1,16 1,-66 1,51 1,-20 1,12 1,4 1,-13 1,-7 1,16 1,3 1,33 1,-20 1,-2 1,-10 1,2 1,-9 1,16 1,-4 1,-13 1,4 1,31 1,-28 1,-26 1,3 1,32 1,1 1,-5 1,6 1,-2 1,-34 1,2 1,36 1,-21 1,21 1,-17 1,-15 1,20 1,-2 1,-11 1,2 1,-3 1,7 1,-14 1,-3 1,16 1,-9 1,18 1,-20 1,4 1,17 1,12 1,-8 1,-21 1,-27 1,22 1,-16 1,24 1,-10 1,-21 1,0 1,25 1,-4 1,-14 1,20 1,14 1,-4 1,-14 1,-36 1,37 1,-14 1,1 1,2 1,-23 1,19 1,-10 1,28 1,-20 1,12 1,-6 1,-30 1,39 1,-28 1,28 1,-21 1,20 1,-22 1,8 1,-5 1,-24 1,26 1,-4 1,-1 1,-21 1,33 1,-14 1,2 1,-12 1,3 1,-31 1,40 1,13 1,-43 1,4 1,-12 1,31 1,10 1,-22 1,-7 1,16 1,-7 1,12 1,-30 1,27 1,-11 1,0 1,-3 1,14 1,15 1,-11 1,-29 1,36 1,-19 1,14 1,-22 1,24 1,-44 1,9 1,-6 1,40 1,1 1,-15 1,-18 1,38 1,-32 1,6 1,7 1,-36 1,-2 1,15 1,24 1,-19 1,16 1,-41 1,38 1,0 1,-13 1,25 1,-4 1,-48 1,26 1,5 1,-1 1,21 1,-45 1,2 1,-4 1,21 1,-2 1,-14 1,23 1,-13 1,25 1,-5 1,-10 1,-13 1,-11 1,27 1,-13 1,16 1,9 1,-39 1,21 1,-8 1,5 1,-9 1,-15 1,25 1,-13 1,9 1,3 1,9 1,-29 1,-9 1,12 1,0 1,0 1,-13 1,19 1,6 1,10 1,-4 1,-28 1,-21 1,8 1,21 1,15 1,-12 1,22 1,18 1,-11 1,-17 1,-2 1,-13 1,22 1,-10 1,-7 1,-21 1,2 1,21 1,-28 1,26 1,23 1,-20 1,4 1,26 1,-7 1,-25 1,27 1,-10 1,-26 1,58 1,-42 1,-8 1,2 1,6 1,11 1,-19 1,16 1,-19 1,11 1,-10 1,8 1,-2 1,-23 1,47 1,11 1,-32 1,33 1,-47 1,-1 1,26 1,-29 1,28 1,0 1,-17 1,12 1,12 1,13 1,-18 1,2 1,-2 1,-19 1,10 1,17 1,-24 1,17 1,-27 1,44 1,-25 1,-18 1,25 1,-3 1,-2 1,-31 1,17 1,5 1,-18 1,1 1,27 1,0 1,-4 1,20 1,-38 1,17 1,18 1,1 1,-22 1,3 1,-23 1,35 1,-8 1,15 1,-19 1,11 1,-1 1,6 1,-6 1,-22 1,38 1,-21 1,-9 1,-17 1,-1 1,41 1,-20 1,-2 1,-6 1,-16 1,26 1,-3 1,20 1,-23 1,-25 1,26 1,7 1,-14 1,9 1,-6 1,-14 1,39 1,-37 1,-7 1,32 1,-13 1,10 1,-12 1,-22 1,35 1,-15 1,-14 1,30 1,-30 1,-18 1,21 1,17 1,-41 1,8 1,26 1,-20 1,40 1,-15 1,-32 1,38 1,-29 1,4 1,-21 1,27 1,-39 1,37 1,31 1,-30 1,-10 1,28 1,-40 1,-8 1,-2 1,21 1,-25 1,23 1,7 1,-10 1,-9 1,2 1,-34 1,33 1,-15 1,25 1,-24 1,3 1,33 1,-48 1,34 1,-18 1,33 1,-50 1,21 1,-18 1,38 1,11 1,-35 1,7 1,5 1,-21 1,23 1,-36 1,-5 1,34 1,-21 1,12 1,-28 1,30 1,-5 1,-21 1,19 1,9 1,-40 1,-2 1,40 1,-34 1,-1 1,12 1,-13 1,-9 1,52 1,-7 1,-49 1,-7 1,39 1,17 1,-36 1,4 1,-12 1,11 1,8 1,-27 1,4 1,14 1,-15 1,-3 1,29 1,-21 1,0 1,22 1,21 1,-18 1,-27 1,20 1,2 1,-51 1,26 1,28 1,-3 1,-10 1,8 1,7 1,-8 1,10 1,9 1,-27 1,-15 1,32 1,-21 1,-8 1,26 1,-22 1,-5 1,13 1,-5 1,0 1,1 1,-4 1,27 1,-14 1,13 1,10 1,-1 1,-28 1,38 1,0 1,-18 1,3 1,23 1,-33 1,-15 1,24 1,5 1,-26 1,29 1,-7 1,5 1,-16 1,8 1,-2 1,36 1,-16 1,-30 1,37 1,8 1,-21 1,-31 1,62 1,-13 1,-21 1,4 1,16 1,-10 1,-32 1,40 1,2 1,-53 1,58 1,17 1,39 1,-43 1,3 1,-40 1,16 1,20 1,-22 1,-12 1,30 1,-14 1,17 1,-30 1,23 1,12 1,7 1,-23 1,39 1,-22 1,-5 1,7 1,-24 1,52 1,37 1,-65 1,24 1,1 1,12 1,-4 1,4 1,-26 1,3 1,-3 1,9 1,19 1,-2 1,-27 1,13 1,-11 1,28 1,20 1,6 1,-38 1,23 1,-34 1,39 1,-6 1,15 1,-7 1,-25 1,20 1,8 1,-3 1,-20 1,0 1,11 1,-28 1,36 1,21 1,-13 1,-22 1,43 1,-26 1,2 1,9 1,-10 1,-10 1,14 1,-9 1,40 1,-31 1,9 1,-8 1,13 1,-2 1,25 1,-9 1,-6 1,-16 1,8 1,16 1,-23 1,3 1,3 1,-20 1,25 1,8 1,1 1,-11 1,-5 1,5 1,12 1,-19 1,-4 1,3 1,4 1,32 1,-23 1,14 1,-16 1,11 1,-4 1,35 1,-30 1,0 1,-18 1,1 1,9 1,-4 1,20 1,-17 1,-6 1,-8 1,38 1,-9 1,35 1,-39 1,8 1,-17 1,1 1,7 1,10 1,9 1,-13 1,8 1,2 1,5 1,-4 1,-12 1,20 1,-3 1,-9 1,-12 1,-18 1,37 1,-9 1,9 1,-10 1,21 1,-17 1,-10 1,8 1,10 1,-21 1,23 1,-18 1,22 1,-6 1,-14 1,-6 1,16 1,-7 1,11 1,19 1,-31 1,-21 1,21 1,-13 1,9 1,17 1,11 1,-3 1,2 1,-16 1,19 1,-35 1,28 1,-9 1,-14 1,43 1,-33 1,0 1,36 1,-20 1,16 1,-21 1,2 1,-7 1,0 1,0 1,22 1,-5 1,-8 1,-3 1,-11 1,42 1,-40 1,-6 1,26 1,-18 1,5 1,-2 1,3 1,19 1,-23 1,9 1,7 1,2 1,-6 1,15 1,-33 1,0 1,14 1,-10 1,4 1,1 1,-9 1,27 1,-18 1,20 1,-20 1,-8 1,37 1,-11 1,3 1,-12 1,-1 1,-1 1,21 1,-9 1,-17 1,13 1,11 1,-29 1,8 1,-7 1,9 1,10 1,-14 1,27 1,-8 1,-22 1,26 1,-20 1,22 1,-19 1,27 1,-37 1,13 1,-8 1,-13 1,23 1,15 1,-3 1,-3 1,7 1,-30 1,17 1,14 1,-7 1,-8 1,-1 1,14 1,-16 1,6 1,15 1,-17 1,7 1,4 1,7 1,-32 1,11 1,4 1,-1 1,-11 1,-1 1,25 1,-13 1,-1 1,20 1,-2 1,-1 1,2 1,1 1,-33 1,6 1,9 1,0 1,4 1,10 1,0 1,13 1,-10 1,-20 1,6 1,-9 1,5 1,29 1,-34 1,11 1,0 1,-7 1,12 1,-23 1,4 1,21 1,-33 1,26 1,-10 1,0 1,8 1,9 1,-2 1,-24 1,26 1,-9 1,6 1,-3 1,0 1,10 1,-10 1,-2 1,-2 1,4 1,-12 1,2 1,-8 1,-4 1,-3 1,29 1,-18 1,-1 1,8 1,-10 1,23 1,-25 1,4 1,8 1,-11 1,-7 1,4 1,3 1,19 1,-14 1,5 1,8 1,-21 1,13 1,4 1,-19 1,13 1,5 1,4 1,-15 1,3 1,18 1,3 1,-9 1,6 1,-23 1,6 1,-2 1,15 1,-19 1,2 1,-18 1,22 1,-3 1,-3 1,5 1,9 1,3 1,-29 1,37 1,-10 1,1 1,-27 1,16 1,-10 1,22 1,-13 1,-14 1,27 1,8 1,-24 1,9 1,-17 1,8 1,1 1,18 1,-27 1,19 1,-13 1,8 1,12 1,-17 1,4 1,9 1,0 1,-33 1,24 1,10 1,-5 1,7 1,-26 1,9 1,6 1,18 1,-35 1,32 1,-34 1,18 1,-26 1,23 1,-1 1,-15 1,13 1,13 1,-34 1,18 1,21 1,-22 1,6 1,-6 1,-14 1,-8 1,24 1,-5 1,-1 1,4 1,-1 1,11 1,8 1,-31 1,5 1,26 1,-3 1,-12 1,-13 1,26 1,-17 1,-6 1,30 1,-8 1,-7 1,-2 1,-10 1,5 1,27 1,-36 1,17 1,-21 1,28 1,-7 1,3 1,13 1,-16 1,-11 1,36 1,-35 1,-9 1,10 1,10 1,-11 1,5 1,5 1,9 1,-1 1,0 1,-6 1,-13 1,6 1,-6 1,23 1,5 1,-22 1,9 1,-3 1,20 1,-14 1,-16 1,16 1,-24 1,38 1,-16 1,4 1,-1 1,0 1,2 1,-12 1,3 1,16 1,-6 1,-6 1,17 1,-17 1,9 1,3 1,-5 1,7 1,-17 1,3 1,8 1,0 1,-9 1,14 1,2 1,-10 1,17 1,-4 1,-9 1,21 1,-29 1,22 1,-3 1,-23 1,25 1,-8 1,13 1,-3 1,-4 1,-4 1,3 1,-15 1,5 1,2 1,-3 1,12 1,-14 1,7 1,2 1,2 1,13 1,-16 1,0 1,4 1,-8 1,16 1,-17 1,22 1,-21 1,5 1,1 1,-10 1,12 1,8 1,-1 1,-6 1,-6 1,13 1,5 1,-23 1,18 1,3 1,-9 1,-4 1,-7 1,7 1,1 1,17 1,-11 1,-1 1,-5 1,7 1,28 1,-35 1,-2 1,26 1,-9 1,-4 1,-4 1,5 1,4 1,-15 1,-18 1,23 1,-6 1,20 1,-7 1,-3 1,14 1,20 1,-47 1,12 1,4 1,-5 1,2 1,-5 1,4 1,-6 1,14 1,-16 1,12 1,-2 1,1 1,2 1,1 1,-9 1,14 1,-6 1,-12 1,19 1,-9 1,-4 1,-4 1,12 1,-4 1,-5 1,20 1,-3 1,-6 1,-10 1,35 1,-27 1,5 1,-5 1,-19 1,12 1,16 1,-8 1,16 1,7 1,-26 1,0 1,-10 1,13 1,9 1,-13 1,18 1,-24 1,-11 1,9 1,9 1,6 1,-20 1,21 1,-9 1,5 1,17 1,3 1,-31 1,-2 1,-1 1,22 1,13 1,-23 1,16 1,-4 1,-31 1,36 1,-3 1,-14 1,6 1,-1 1,23 1,-39 1,12 1,9 1,11 1,-21 1,13 1,5 1,-18 1,-1 1,20 1,-18 1,-1 1,-8 1,-4 1,21 1,5 1,-3 1,-4 1,4 1,-7 1,-9 1,16 1,-12 1,12 1,-11 1,-3 1,16 1,2 1,-2 1,-2 1,-5 1,4 1,2 1,6 1,-18 1,2 1,-7 1,5 1,11 1,-6 1,-3 1,13 1,-8 1,13 1,-3 1,-22 1,11 1,-4 1,11 1,-12 1,7 1,10 1,0 1,-20 1,4 1,12 1,-29 1,11 1,14 1,-5 1,7 1,-10 1,14 1,-7 1,-12 1,-5 1,11 1,4 1,-15 1,23 1,-6 1,-10 1,16 1,6 1,-24 1,-13 1,35 1,-3 1,7 1,-23 1,8 1,-7 1,23 1,-12 1,20 1,-28 1,13 1,-8 1,-9 1,9 1,1 1,4 1,-18 1,-4 1,33 1,-32 1,17 1,8 1,-8 1,-13 1,8 1,6 1,1 1,10 1,-21 1,14 1,-2 1,-11 1,6 1,-10 1,13 1,-9 1,12 1,-3 1,-5 1,-6 1,3 1,-3 1,8 1,9 1,-25 1,2 1,6 1,-1 1,15 1,-10 1,-2 1,19 1,-2 1,-12 1,-7 1,18 1,3 1,-12 1,6 1,-17 1,3 1,28 1,-13 1,-13 1,20 1,-10 1,8 1,-17 1,21 1,-15 1,-2 1,10 1,-25 1,8 1,2 1,22 1,-23 1,-3 1,23 1,-4 1,-10 1,10 1,-9 1,2 1,-13 1,14 1,-14 1,13 1,0 1,1 1,2 1,-2 1,16 1,-14 1,-2 1,-8 1,7 1,2 1,3 1,-5 1,9 1,-4 1,-16 1,5 1,-2 1,-2 1,7 1,13 1,-5 1,-5 1,-6 1,2 1,3 1,1 1,12 1,-20 1,24 1,-8 1,-15 1,19 1,-11 1,-12 1,8 1,7 1,1 1,4 1,-12 1,14 1,-2 1,-9 1,14 1,-14 1,1 1,-5 1,17 1,-9 1,-2 1,-5 1,4 1,6 1,-16 1,16 1,-14 1,8 1,9 1,-24 1,33 1,-18 1,8 1,-22 1,17 1,-5 1,-5 1,21 1,-15 1,2 1,1 1,1 1,-19 1,22 1,-11 1,9 1,-8 1,3 1,10 1,-20 1,-5 1,9 1,0 1,17 1,3 1,-12 1,-6 1,12 1,-7 1,7 1,-11 1,-16 1,10 1,2 1,21 1,-3 1,-7 1,7 1,2 1,-25 1,4 1,-4 1,-7 1,10 1,7 1,-12 1,11 1,11 1,-19 1,5 1,-14 1,6 1,8 1,5 1,6 1,3 1,-11 1,3 1,-8 1,5 1,-9 1,23 1,-11 1,-6 1,0 1,9 1,11 1,-16 1,-13 1,6 1,8 1,21 1,-18 1,-13 1,4 1,6 1,0 1,-14 1,23 1,-2 1,-3 1,0 1,12 1,-26 1,7 1,6 1,0 1,-5 1,-1 1,1 1,5 1,2 1,-5 1,-2 1,1 1,15 1,-7 1,7 1,-15 1,-8 1,4 1,-12 1,8 1,1 1,16 1,-17 1,-2 1,0 1,14 1,1 1,-15 1,9 1,5 1,1 1,4 1,-21 1,9 1,10 1,-2 1,-27 1,12 1,15 1,13 1,-12 1,0 1,-11 1,24 1,-32 1,21 1,6 1,2 1,-11 1,-17 1,18 1,-6 1,-4 1,-6 1,3 1,11 1,-10 1,13 1,-19 1,8 1,6 1,1 1,13 1,-17 1,5 1,9 1,-15 1,14 1,-21 1,1 1,9 1,-1 1,-10 1,-4 1,18 1,15 1,-2 1,-15 1,13 1,-25 1,7 1,-11 1,9 1,-6 1,11 1,-20 1,31 1,-4 1,2 1,-26 1,13 1,11 1,-5 1,16 1,4 1,-23 1,4 1,-5 1,-2 1,17 1,-16 1,-14 1,28 1,-1 1,-6 1,-5 1,20 1,-10 1,-27 1,5 1,8 1,23 1,-28 1,19 1,-16 1,7 1,5 1,1 1,-13 1,12 1,6 1,-19 1,10 1,-7 1,-8 1,10 1,-2 1,9 1,-9 1,9 1,2 1,-17 1,3 1,10 1,-8 1,9 1,10 1,-20 1,8 1,-12 1,9 1,-10 1,10 1,12 1,-7 1,-1 1,2 1,-2 1,-7 1,1 1,16 1,-6 1,3 1,-16 1,1 1,22 1,-20 1,-4 1,14 1,-16 1,-2 1,24 1,-24 1,-6 1,13 1,6 1,-6 1,-3 1,2 1,4 1,-5 1,-20 1,25 1,4 1,-14 1,22 1,-22 1,4 1,-3 1,10 1,12 1,-18 1,17 1,2 1,-14 1,-13 1,2 1,18 1,-1 1,-13 1,14 1,-4 1,-1 1,1 1,19 1,-32 1,9 1,-10 1,14 1,-13 1,2 1,1 1,-8 1,4 1,-2 1,33 1,-10 1,-15 1,4 1,1 1,-13 1,5 1,4 1,6 1,-7 1,0 1,5 1,2 1,-16 1,2 1,14 1,6 1,3 1,-18 1,17 1,-14 1,-3 1,13 1,-2 1,2 1,-1 1,-4 1,5 1,3 1,-9 1,-1 1,-21 1,27 1,-5 1,-9 1,10 1,12 1,3 1,-17 1,-14 1,18 1,-17 1,33 1,-18 1,-12 1,24 1,-9 1,5 1,-10 1,-5 1,0 1,3 1,10 1,-15 1,15 1,-12 1,17 1,4 1,-11 1,-4 1,-9 1,-1 1,18 1,-13 1,-5 1,21 1,-17 1,-2 1,5 1,6 1,-1 1,-7 1,10 1,-3 1,-6 1,17 1,-16 1,9 1,8 1,-13 1,15 1,-15 1,9 1,-3 1,-1 1,4 1,-15 1,2 1,-3 1,13 1,-8 1,2 1,9 1,5 1,-8 1,-6 1,1 1,6 1,-6 1,-11 1,20 1,-9 1,5 1,-22 1,12 1,8 1,-10 1,0 1,-1 1,-18 1,13 1,22 1,17 1,-18 1,9 1,-26 1,6 1,1 1,-10 1,26 1,-3 1,-4 1,-6 1,2 1,11 1,-20 1,4 1,-2 1,-26 1,26 1,16 1,-16 1,3 1,7 1,-10 1,-2 1,1 1,14 1,-6 1,8 1,-13 1,-6 1,11 1,5 1,-7 1,-3 1,7 1,2 1,-1 1,5 1,-36 1,21 1,7 1,4 1,-14 1,4 1,17 1,-13 1,10 1,4 1,-19 1,4 1,-10 1,30 1,-14 1,6 1,-19 1,4 1,-8 1,2 1,6 1,3 1,-15 1,13 1,24 1,-35 1,26 1,-10 1,19 1,-17 1,8 1,-12 1,-1 1,-2 1,5 1,19 1,-19 1,0 1,1 1,-18 1,24 1,2 1,-24 1,21 1,-12 1,10 1,-16 1,4 1,16 1,-24 1,20 1,-2 1,-6 1,-6 1,-7 1,15 1,-10 1,3 1,-1 1,15 1,-3 1,5 1,-19 1,1 1,1 1,2 1,11 1,-7 1,-6 1,20 1,-7 1,8 1,-2 1,1 1,-14 1,-4 1,22 1,-29 1,6 1,-2 1,1 1,-8 1,13 1,5 1,-16 1,-15 1,29 1,3 1,0 1,-12 1,3 1,11 1,17 1,-29 1,-1 1,3 1,-3 1,20 1,7 1,-13 1,-18 1,6 1,12 1,-17 1,20 1,0 1,-12 1,0 1,-2 1,9 1,-11 1,-1 1,5 1,5 1,-7 1,28 1,-27 1,0 1,-5 1,21 1,-22 1,5 1,-1 1,0 1,1 1,-1 1,-8 1,-5 1,15 1,-4 1,4 1,-2 1,-1 1,5 1,8 1,-18 1,18 1,-25 1,20 1,-6 1,2 1,-7 1,14 1,-6 1,-6 1,-5 1,9 1,12 1,-8 1,-20 1,11 1,25 1,-16 1,3 1,-14 1,12 1,6 1,-7 1,-11 1,1 1,-25 1,38 1,-14 1,8 1,-5 1,-16 1,10 1,19 1,-8 1,5 1,-8 1,-3 1,14 1,4 1,-8 1,3 1,7 1,-15 1,-7 1,12 1,-6 1,-1 1,-2 1,7 1,-4 1,7 1,-7 1,-2 1,-9 1,25 1,-8 1,-15 1,23 1,-18 1,3 1,-9 1,0 1,18 1,23 1,-36 1,-8 1,16 1,-14 1,21 1,8 1,-19 1,-1 1,-1 1,20 1,-12 1,-24 1,13 1,3 1,7 1,2 1,-3 1,-7 1,6 1,17 1,-22 1,17 1,-9 1,3 1,-13 1,13 1,10 1,-18 1,6 1,-15 1,-1 1,15 1,-10 1,-7 1,11 1,5 1,17 1,-22 1,-4 1,16 1,-10 1,0 1,12 1,-23 1,11 1,-6 1,-7 1,5 1,6 1,14 1,-25 1,12 1,2 1,-5 1,17 1,-13 1,11 1,14 1,-22 1,-10 1,10 1,0 1,4 1,-17 1,16 1,1 1,-6 1,-1 1,-6 1,-2 1,-2 1,27 1,-17 1,10 1,-18 1,10 1,-3 1,7 1,-3 1,-8 1,22 1,-14 1,-2 1,23 1,-13 1,-12 1,23 1,-19 1,-23 1,1 1,15 1,21 1,-20 1,9 1,5 1,-19 1,11 1,-2 1,-10 1,9 1,-8 1,-6 1,14 1,-7 1,0 1,14 1,-15 1,12 1,-24 1,21 1,-10 1,-5 1,17 1,-2 1,-2 1,0 1,-6 1,12 1,5 1,-5 1,23 1,-22 1,-11 1,-4 1,24 1,-6 1,-31 1,8 1,10 1,2 1,20 1,-21 1,3 1,-14 1,13 1,7 1,8 1,-29 1,16 1,1 1,-13 1,11 1,-1 1,1 1,5 1,-11 1,11 1,-13 1,3 1,-2 1,14 1,-11 1,-9 1,16 1,4 1,-4 1,-19 1,28 1,-13 1,15 1,-22 1,13 1,-5 1,9 1,-21 1,1 1,8 1,9 1,1 1,-10 1,-7 1,-9 1,24 1,-10 1,14 1,-1 1,-9 1,6 1,1 1,-9 1,11 1,-2 1,-12 1,2 1,-3 1,12 1,-7 1,10 1,-8 1,14 1,-26 1,6 1,13 1,-19 1,10 1,6 1,-2 1,1 1,-5 1,15 1,-33 1,18 1,7 1,5 1,-14 1,21 1,-12 1,-3 1,-9 1,5 1,-4 1,25 1,-12 1,-5 1,-15 1,16 1,-6 1,8 1,-12 1,20 1,-18 1,-5 1,2 1,12 1,2 1,-11 1,-8 1,12 1,-22 1,23 1,-10 1,-2 1,8 1,-12 1,9 1,11 1,-2 1,8 1,-15 1,-7 1,7 1,-18 1,15 1,6 1,-13 1,16 1,13 1,-28 1,-4 1,4 1,10 1,-10 1,9 1,-20 1,9 1,16 1,-4 1,-32 1,42 1,-17 1,-1 1,11 1,8 1,-15 1,3 1,-2 1,-12 1,6 1,6 1,5 1,-8 1,6 1,5 1,-23 1,7 1,6 1,0 1,-3 1,0 1,-19 1,41 1,-21 1,18 1,-14 1,17 1,-12 1,10 1,-29 1,-3 1,12 1,7 1,-14 1,5 1,6 1,9 1,-9 1,2 1,-6 1,7 1,-14 1,6 1,-14 1,26 1,4 1,-13 1,4 1,-6 1,10 1,-1 1,-17 1,19 1,-18 1,5 1,8 1,-15 1,-3 1,11 1,-9 1,-1 1,17 1,-14 1,17 1,-9 1,-3 1,-3 1,5 1,-2 1,-11 1,27 1,-5 1,-3 1,3 1,-6 1,14 1,-20 1,3 1,5 1,5 1,-7 1,-1 1,18 1,-24 1,23 1,-4 1,11 1,-13 1,9 1,-16 1,-1 1,19 1,-22 1,19 1,9 1,-15 1,-6 1,14 1,-22 1,8 1,7 1,-17 1,2 1,20 1,-5 1,-4 1,-9 1,23 1,14 1,-40 1,14 1,-9 1,6 1,18 1,-1 1,-14 1,-10 1,18 1,-14 1,0 1,-7 1,13 1,-1 1,10 1,-5 1,-16 1,18 1,-20 1,13 1,14 1,-14 1,25 1,-26 1,11 1,-4 1,5 1,0 1,3 1,-2 1,-15 1,-6 1,40 1,-26 1,3 1,-8 1,21 1,-13 1,3 1,19 1,-16 1,-11 1,2 1,19 1,-11 1,-4 1,8 1,-13 1,-5 1,23 1,2 1,-32 1,19 1,12 1,-15 1,-5 1,2 1,0 1,0 1,10 1,11 1,-19 1,1 1,-16 1,9 1,6 1,12 1,0 1,1 1,4 1,-23 1,9 1,13 1,-21 1,-3 1,6 1,2 1,21 1,-20 1,-2 1,10 1,-13 1,3 1,12 1,-17 1,4 1,12 1,-7 1,10 1,-13 1,6 1,5 1,-22 1,22 1,-22 1,18 1,-5 1,-6 1,17 1,-1 1,-12 1,15 1,1 1,-29 1,28 1,8 1,-12 1,-13 1,11 1,5 1,-17 1,30 1,-34 1,2 1,2 1,9 1,-4 1,-5 1,20 1,-7 1,-2 1,-4 1,15 1,-3 1,-7 1,-1 1,9 1,-23 1,6 1,25 1,-4 1,-9 1,9 1,-16 1,8 1,-4 1,-9 1,19 1,-13 1,9 1,-5 1,0 1,-4 1,4 1,4 1,-9 1,18 1,-16 1,-12 1,20 1,-15 1,20 1,-11 1,-6 1,16 1,-20 1,10 1,-1 1,9 1,-17 1,8 1,2 1,2 1,1 1,-12 1,22 1,-29 1,17 1,-2 1,3 1,4 1,-5 1,9 1,-23 1,10 1,13 1,-3 1,-8 1,10 1,-17 1,20 1,-3 1,5 1,-4 1,-6 1,0 1,4 1,-1 1,-10 1,10 1,8 1,-1 1,-18 1,23 1,-14 1,9 1,-17 1,7 1,-1 1,14 1,-6 1,-5 1,-4 1,9 1,-4 1,8 1,-15 1,-6 1,6 1,-4 1,-1 1,1 1,9 1,-3 1,1 1,6 1,0 1,5 1,-24 1,12 1,5 1,7 1,-16 1,1 1,1 1,14 1,-16 1,-1 1,3 1,-1 1,-14 1,9 1,1 1,-6 1,3 1,13 1,5 1,12 1,-16 1,-10 1,5 1,1 1,9 1,-11 1,-4 1,6 1,-1 1,0 1,-10 1,16 1,2 1,3 1,-7 1,-2 1,-11 1,10 1,-1 1,-11 1,16 1,-1 1,-11 1,6 1,5 1,-4 1,7 1,0 1,-4 1,-5 1,11 1,-8 1,-3 1,-7 1,24 1,-22 1,8 1,-2 1,-1 1,14 1,-4 1,0 1,-4 1,-6 1,-9 1,8 1,7 1,-6 1,23 1,-12 1,-21 1,10 1,11 1,-10 1,1 1,12 1,-7 1,8 1,1 1,6 1,-21 1,10 1,2 1,-2 1,-4 1,6 1,-2 1,-27 1,30 1,-5 1,-1 1,4 1,-15 1,15 1,-4 1,2 1,7 1,9 1,-36 1,18 1,-1 1,-6 1,16 1,-15 1,6 1,-7 1,14 1,-11 1,-6 1,16 1,-9 1,-1 1,10 1,0 1,-12 1,8 1,2 1,11 1,-5 1,6 1,-31 1,19 1,3 1,-2 1,-13 1,7 1,9 1,-8 1,1 1,7 1,-3 1,-11 1,4 1,-8 1,-2 1,13 1,-13 1,14 1,7 1,-9 1,16" stroke="#ad76dc" vector-effect="non-scaling-stroke"/>
<path d="M0,845l1,28 1,3 1,4 1,20 1,-41 1,22 1,0 1,-5 1,-6 1,45 1,-58 1,3 1,12 1,-31 1,-7 1,46 1,40 1,-19 1,-26 1,-2 1,8 1,-12 1,17 1,-27 1,22 1,1 1,-8 1,5 1,-28 1,13 1,14 1,6 1,-1 1,23 1,-49 1,13 1,-10 1,28 1,-10 1,-1 1,-11 1,8 1,5 1,1 1,-16 1,0 1,-5 1,5 1,30 1,-26 1,29 1,-2 1,-6 1,-20 1,3 1,-34 1,24 1,16 1,-19 1,23 1,-23 1,18 1,-11 1,-7 1,10 1,31 1,1 1,-9 1,-3 1,-8 1,-14 1,61 1,-70 1,38 1,-15 1,-3 1,-2 1,8 1,-15 1,21 1,6 1,-36 1,0 1,23 1,-24 1,2 1,19 1,6 1,21 1,-19 1,4 1,-6 1,-3 1,-23 1,48 1,-51 1,10 1,15 1,11 1,-24 1,13 1,-27 1,-7 1,22 1,1 1,-3 1,20 1,7 1,-14 1,-5 1,-6 1,-1 1,-7 1,7 1,-7 1,38 1,-26 1,24 1,-54 1,35 1,-7 1,26 1,-3 1,4 1,-5 1,-3 1,-8 1,7 1,-11 1,16 1,-25 1,13 1,2 1,-20 1,-7 1,-3 1,26 1,-5 1,-13 1,5 1,23 1,16 1,-12 1,-44 1,18 1,-11 1,36 1,-5 1,-8 1,-10 1,25 1,-12 1,-1 1,-7 1,10 1,-37 1,23 1,-12 1,29 1,10 1,-6 1,-16 1,-2 1,-23 1,24 1,5 1,-11 1,-18 1,46 1,-4 1,8 1,-24 1,-14 1,-16 1,46 1,6 1,-15 1,13 1,-15 1,6 1,-52 1,67 1,9 1,-14 1,-27 1,12 1,-7 1,10 1,-5 1,10 1,4 1,-34 1,40 1,-32 1,11 1,-9 1,-34 1,53 1,-7 1,-13 1,8 1,-13 1,4 1,-6 1,7 1,37 1,-16 1,-19 1,11 1,16 1,-40 1,35 1,10 1,14 1,-44 1,27 1,-50 1,-25 1,45 1,-1 1,28 1,-10 1,3 1,-22 1,13 1,-24 1,6 1,8 1,33 1,-11 1,2 1,-15 1,-25 1,8 1,2 1,-11 1,5 1,4 1,-3 1,-15 1,37 1,-3 1,-11 1,4 1,-16 1,19 1,-18 1,9 1,13 1,-15 1,-14 1,-13 1,39 1,-27 1,-3 1,-40 1,54 1,-19 1,-7 1,38 1,-25 1,12 1,3 1,2 1,-12 1,8 1,-22 1,22 1,1 1,-6 1,-12 1,10 1,17 1,-29 1,21 1,1 1,3 1,-18 1,-16 1,21 1,-16 1,-2 1,20 1,-6 1,-10 1,2 1,7 1,-1 1,-32 1,22 1,-3 1,-11 1,35 1,-55 1,53 1,-7 1,-3 1,-33 1,5 1,14 1,-4 1,40 1,-26 1,8 1,-20 1,6 1,-15 1,0 1,17 1,-33 1,30 1,7 1,-35 1,27 1,-8 1,-1 1,-18 1,35 1,-31 1,2 1,22 1,-22 1,-13 1,19 1,2 1,10 1,2 1,4 1,-44 1,35 1,-25 1,18 1,-20 1,-24 1,12 1,13 1,11 1,-34 1,28 1,26 1,-45 1,14 1,-15 1,5 1,8 1,-9 1,14 1,-12 1,-27 1,15 1,6 1,13 1,1 1,46 1,-62 1,-1 1,19 1,18 1,-13 1,-3 1,3 1,-52 1,13 1,24 1,16 1,-35 1,-2 1,5 1,1 1,-4 1,37 1,-11 1,-72 1,29 1,6 1,14 1,9 1,-32 1,37 1,-42 1,-13 1,31 1,33 1,5 1,-46 1,21 1,-1 1,6 1,-13 1,-11 1,14 1,0 1,-40 1,53 1,2 1,-16 1,20 1,-11 1,-20 1,28 1,-23 1,0 1,27 1,-9 1,-39 1,10 1,21 1,-2 1,-29 1,0 1,59 1,-42 1,0 1,16 1,26 1,-44 1,37 1,-39 1,1 1,5 1,-23 1,4 1,-5 1,-4 1,20 1,-27 1,7 1,26 1,-37 1,-2 1,5 1,-15 1,-11 1,11 1,5 1,-22 1,20 1,-39 1,13 1,36 1,-58 1,48 1,-46 1,38 1,3 1,-1 1,-15 1,-14 1,-4 1,5 1,62 1,-55 1,-9 1,-4 1,39 1,-27 1,20 1,-11 1,2 1,2 1,30 1,1 1,10 1,-40 1,18 1,12 1,-9 1,42 1,12 1,-9 1,-21 1,0 1,9 1,22 1,0 1,16 1,-32 1,-6 1,51 1,-30 1,8 1,-5 1,23 1,-27 1,2 1,12 1,-11 1,65 1,-50 1,-4 1,21 1,7 1,-15 1,2 1,11 1,21 1,-48 1,49 1,-37 1,-67 1,8 1,20 1,58 1,-12 1,-18 1,11 1,23 1,-33 1,34 1,-18 1,13 1,10 1,14 1,-56 1,30 1,-16 1,-3 1,6 1,17 1,22 1,-34 1,2 1,51 1,-25 1,7 1,-20 1,-14 1,42 1,-29 1,-12 1,31 1,-16 1,43 1,-15 1,-2 1,-13 1,-3 1,8 1,-20 1,5 1,15 1,-23 1,25 1,7 1,17 1,-6 1,-12 1,-12 1,-10 1,24 1,-21 1,31 1,-20 1,14 1,8 1,-5 1,-16 1,27 1,-8 1,-52 1,18 1,12 1,24 1,-17 1,-2 1,4 1,7 1,-5 1,2 1,17 1,27 1,-16 1,-6 1,-13 1,9 1,5 1,-23 1,14 1,-16 1,-4 1,24 1,-10 1,1 1,1 1,7 1,30 1,-32 1,24 1,-7 1,15 1,4 1,-1 1,-7 1,-18 1,-10 1,31 1,-17 1,17 1,-39 1,10 1,37 1,6 1,-17 1,3 1,-41 1,41 1,4 1,-5 1,-5 1,-26 1,40 1,-23 1,-1 1,-11 1,23 1,16 1,-23 1,1 1,15 1,9 1,-34 1,3 1,6 1,-15 1,39 1,-4 1,-17 1,18 1,5 1,-8 1,-4 1,16 1,-17 1,-8 1,3 1,-16 1,13 1,21 1,10 1,-16 1,-12 1,18 1,-8 1,24 1,-42 1,25 1,-20 1,3 1,5 1,26 1,-25 1,17 1,-1 1,-6 1,1 1,-11 1,2 1,3 1,26 1,-7 1,-12 1,24 1,8 1,-19 1,-40 1,30 1,-9 1,-10 1,25 1,-5 1,11 1,-5 1,-18 1,-20 1,3 1,1 1,-9 1,23 1,15 1,-17 1,10 1,6 1,1 1,-2 1,-34 1,34 1,28 1,-23 1,9 1,10 1,-30 1,24 1,-31 1,-28 1,27 1,-18 1,21 1,13 1,-23 1,30 1,-16 1,-25 1,39 1,-3 1,-16 1,16 1,10 1,20 1,-62 1,13 1,28 1,-35 1,9 1,4 1,8 1,-7 1,-3 1,-5 1,17 1,-10 1,0 1,20 1,-15 1,1 1,30 1,-33 1,8 1,-36 1,60 1,-34 1,-13 1,3 1,12 1,3 1,-3 1,24 1,-28 1,-9 1,20 1,11 1,5 1,-27 1,-22 1,27 1,-5 1,19 1,1 1,-2 1,7 1,-15 1,-11 1,-20 1,16 1,29 1,-26 1,-6 1,32 1,-12 1,28 1,-40 1,-6 1,21 1,-10 1,-7 1,-13 1,27 1,-17 1,17 1,0 1,23 1,1 1,-33 1,-12 1,20 1,-52 1,62 1,-27 1,-14 1,0 1,18 1,17 1,-40 1,20 1,14 1,-26 1,31 1,27 1,-48 1,8 1,-26 1,3 1,32 1,10 1,-27 1,-22 1,33 1,-3 1,30 1,-16 1,-19 1,29 1,-25 1,5 1,-32 1,24 1,-10 1,21 1,-7 1,-26 1,36 1,-5 1,-4 1,16 1,-11 1,7 1,-8 1,7 1,-9 1,5 1,-8 1,-4 1,-4 1,31 1,-21 1,7 1,-2 1,-5 1,14 1,-20 1,5 1,-9 1,12 1,-34 1,55 1,-8 1,-4 1,-5 1,-23 1,5 1,23 1,-17 1,-21 1,23 1,24 1,-28 1,-24 1,39 1,-17 1,22 1,-20 1,5 1,-3 1,29 1,-28 1,-13 1,-13 1,6 1,0 1,13 1,2 1,-4 1,27 1,-28 1,13 1,-15 1,46 1,-33 1,-13 1,29 1,-32 1,41 1,-45 1,7 1,23 1,-19 1,2 1,16 1,9 1,11 1,-22 1,-34 1,28 1,5 1,1 1,-18 1,15 1,5 1,6 1,-33 1,15 1,-9 1,20 1,2 1,-22 1,10 1,-27 1,15 1,0 1,-17 1,35 1,-3 1,-20 1,17 1,6 1,12 1,-4 1,-6 1,-25 1,27 1,-14 1,5 1,1 1,-5 1,-9 1,26 1,20 1,-28 1,-10 1,25 1,-30 1,16 1,-7 1,-5 1,-9 1,23 1,-9 1,-13 1,11 1,-1 1,-11 1,-13 1,20 1,18 1,-37 1,4 1,22 1,-32 1,59 1,-25 1,-16 1,-12 1,-10 1,12 1,-31 1,42 1,-16 1,23 1,-36 1,6 1,27 1,-5 1,-14 1,5 1,-4 1,16 1,-23 1,6 1,52 1,-50 1,11 1,-11 1,8 1,8 1,2 1,-7 1,-12 1,30 1,-44 1,49 1,-19 1,-5 1,16 1,2 1,-16 1,19 1,-29 1,4 1,-18 1,32 1,13 1,-25 1,12 1,-9 1,-14 1,29 1,6 1,0 1,-12 1,4 1,-9 1,25 1,13 1,-48 1,11 1,-8 1,-21 1,42 1,-33 1,35 1,-14 1,8 1,-9 1,32 1,9 1,-19 1,2 1,2 1,-11 1,2 1,-17 1,12 1,-5 1,17 1,5 1,27 1,-50 1,6 1,27 1,-38 1,27 1,-16 1,18 1,-23 1,8 1,6 1,-39 1,32 1,-5 1,4 1,-2 1,-20 1,10 1,-10 1,23 1,13 1,-7 1,-8 1,-1 1,9 1,0 1,-21 1,23 1,5 1,19 1,-11 1,-12 1,3 1,-30 1,27 1,-3 1,11 1,-4 1,-15 1,-28 1,33 1,-13 1,9 1,35 1,-28 1,8 1,-13 1,18 1,-3 1,-4 1,0 1,1 1,15 1,-38 1,6 1,43 1,-29 1,21 1,-14 1,-2 1,-3 1,7 1,-3 1,-24 1,0 1,13 1,-7 1,20 1,-7 1,20 1,-30 1,44 1,-20 1,-10 1,11 1,-20 1,-3 1,22 1,-17 1,-26 1,18 1,17 1,10 1,-25 1,11 1,19 1,-30 1,16 1,24 1,-9 1,-27 1,1 1,0 1,4 1,-5 1,24 1,-6 1,-33 1,12 1,-3 1,7 1,4 1,11 1,5 1,-20 1,7 1,2 1,2 1,3 1,5 1,0 1,15 1,-6 1,6 1,-32 1,11 1,15 1,11 1,-7 1,-31 1,23 1,-5 1,1 1,13 1,-21 1,0 1,4 1,-21 1,25 1,9 1,0 1,-43 1,20 1,-16 1,-2 1,46 1,-23 1,-30 1,47 1,9 1,-3 1,-18 1,-8 1,9 1,14 1,-30 1,25 1,-14 1,-2 1,-5 1,4 1,-9 1,14 1,-19 1,8 1,14 1,-22 1,31 1,-33 1,9 1,5 1,12 1,9 1,-20 1,-10 1,5 1,4 1,-11 1,24 1,-17 1,-13 1,18 1,-2 1,0 1,12 1,2 1,-7 1,-29 1,45 1,8 1,-4 1,-2 1,-32 1,30 1,-26 1,34 1,-55 1,54 1,-39 1,23 1,24 1,-28 1,3 1,-1 1,-15 1,21 1,-9 1,11 1,-30 1,36 1,-8 1,4 1,-21 1,-5 1,25 1,-9 1,7 1,-14 1,9 1,1 1,18 1,-26 1,30 1,-37 1,1 1,-12 1,31 1,-13 1,16 1,-15 1,4 1,9 1,-6 1,-5 1,14 1,-25 1,-14 1,8 1,17 1,27 1,-4 1,-11 1,-13 1,-9 1,3 1,12 1,2 1,-15 1,4 1,-14 1,17 1,21 1,-14 1,-10 1,-10 1,29 1,-51 1,47 1,3 1,-7 1,-3 1,5 1,-18 1,9 1,30 1,-1 1,-33 1,-13 1,8 1,33 1,-33 1,21 1,-3 1,11 1,-22 1,-7 1,7 1,13 1,2 1,0 1,-12 1,-4 1,-4 1,-27 1,41 1,14 1,-10 1,-2 1,-16 1,-19 1,27 1,2 1,-21 1,22 1,5 1,-17 1,28 1,-26 1,9 1,1 1,-8 1,18 1,-17 1,-2 1,19 1,-33 1,28 1,5 1,-20 1,32 1,-40 1,16 1,11 1,-13 1,-10 1,23 1,-31 1,8 1,17 1,-11 1,7 1,3 1,5 1,11 1,-38 1,35 1,-35 1,22 1,-7 1,15 1,-3 1,-4 1,-18 1,1 1,14 1,1 1,-17 1,25 1,1 1,-4 1,-13 1,-3 1,14 1,1 1,8 1,-4 1,-32 1,6 1,2 1,33 1,-13 1,13 1,-22 1,0 1,-6 1,28 1,-14 1,12 1,-16 1,-2 1,16 1,-26 1,21 1,19 1,-40 1,17 1,-9 1,32 1,-64 1,11 1,30 1,-7 1,8 1,-12 1,-16 1,46 1,-20 1,-28 1,17 1,7 1,2 1,-31 1,30 1,9 1,-15 1,8 1,13 1,-4 1,-15 1,2 1,27 1,-20 1,-6 1,5 1,-15 1,36 1,-11 1,-31 1,20 1,-18 1,7 1,15 1,-13 1,12 1,-12 1,4 1,-21 1,17 1,0 1,-1 1,-1 1,2 1,5 1,-38 1,54 1,-12 1,-37 1,29 1,-11 1,-1 1,22 1,-23 1,10 1,-3 1,23 1,12 1,-38 1,-10 1,13 1,15 1,-5 1,-22 1,11 1,-4 1,1 1,11 1,-1 1,-3 1,-2 1,-23 1,32 1,-31 1,12 1,-11 1,8 1,-15 1,27 1,11 1,3 1,2 1,-25 1,-6 1,8 1,24 1,-1 1,-23 1,5 1,11 1,19 1,-27 1,10 1,-7 1,-14 1,19 1,-16 1,10 1,-21 1,27 1,-5 1,2 1,-11 1,-12 1,-4 1,32 1,3 1,-21 1,-9 1,-12 1,26 1,9 1,13 1,-17 1,-4 1,-2 1,6 1,-4 1,-9 1,12 1,-11 1,10 1,-6 1,26 1,-43 1,37 1,-26 1,11 1,-6 1,5 1,10 1,-13 1,-17 1,34 1,-19 1,-15 1,7 1,14 1,-14 1,20 1,-2 1,18 1,-58 1,40 1,7 1,-20 1,9 1,-17 1,2 1,12 1,5 1,-14 1,1 1,19 1,-8 1,-46 1,58 1,-15 1,6 1,-31 1,25 1,-15 1,9 1,25 1,-14 1,-12 1,-13 1,-2 1,1 1,0 1,22 1,-25 1,11 1,-13 1,11 1,11 1,5 1,5 1,-9 1,-8 1,-13 1,8 1,-11 1,33 1,-28 1,9 1,9 1,-4 1,16 1,-10 1,1 1,26 1,-32 1,2 1,16 1,-13 1,-5 1,9 1,-24 1,18 1,-14 1,4 1,8 1,1 1,-15 1,11 1,-33 1,15 1,3 1,17 1,-16 1,6 1,14 1,-17 1,8 1,16 1,-16 1,-31 1,28 1,11 1,19 1,-55 1,36 1,11 1,-10 1,2 1,-5 1,0 1,-23 1,24 1,8 1,-3 1,-13 1,-2 1,6 1,-14 1,1 1,-10 1,47 1,-50 1,21 1,-17 1,-1 1,0 1,38 1,-26 1,-18 1,44 1,-18 1,-1 1,-12 1,0 1,-17 1,24 1,1 1,4 1,-9 1,23 1,-36 1,1 1,32 1,-13 1,-18 1,-3 1,26 1,-11 1,17 1,-13 1,2 1,0 1,-9 1,-11 1,4 1,11 1,-23 1,31 1,23 1,-35 1,-1 1,18 1,-13 1,-26 1,28 1,6 1,17 1,-15 1,-38 1,39 1,-51 1,55 1,-5 1,-5 1,7 1,18 1,-44 1,-17 1,32 1,-4 1,4 1,-1 1,-4 1,4 1,3 1,-30 1,10 1,18 1,-2 1,-2 1,-8 1,-18 1,6 1,15 1,-2 1,-12 1,6 1,-4 1,9 1,11 1,-30 1,21 1,5 1,-38 1,33 1,-30 1,23 1,-37 1,22 1,31 1,-26 1,3 1,33 1,-37 1,9 1,4 1,-4 1,-25 1,7 1,-8 1,22 1,-6 1,1 1,-11 1,-4 1,32 1,-10 1,20 1,-43 1,7 1,-10 1,23 1,-40 1,15 1,39 1,0 1,-45 1,14 1,4 1,8 1,-4 1,-62 1,24 1,32 1,-25 1,-2 1,-5 1,11 1,-5 1,-4 1,24 1,-12 1,24 1,-23 1,-22 1,-16 1,27 1,9 1,25 1,-27 1,-3 1,-1 1,-18 1,26 1,-1 1,-2 1,-4 1,4 1,-14 1,27 1,-8 1,16 1,1 1,-27 1,-44 1,22 1,45 1,-22 1,-11 1,-20 1,52 1,-7 1,1 1,-2 1,-30 1,-2 1,16 1,-38 1,13 1,15 1,-30 1,-2 1,-13 1,11 1,10 1,-29 1,15 1,4 1,15 1,-18 1,14 1,-14 1,-30 1,28 1,-40 1,12 1,35 1,15 1,-41 1,10 1,-26 1,-20 1,45 1,-38 1,34 1,17 1,-18 1,24 1,-29 1,-20 1,-2 1,19 1,9 1,-15 1,14 1,-43 1,8 1,30 1,-9 1,-30 1,2 1,28 1,3 1,24 1,-5 1,-4 1,-12 1,-20 1,19 1,14 1,-44 1,55 1,-64 1,41 1,-7 1,18 1,18 1,7 1,-54 1,-17 1,43 1,-28 1,24 1,19 1,-16 1,-18 1,11 1,10 1,-11 1,19 1,-13 1,28 1,-49 1,53 1,-23 1,-4 1,-23 1,25 1,33 1,-39 1,10 1,-18 1,53 1,-38 1,-2 1,27 1,-27 1,28 1,-4 1,-24 1,13 1,9 1,56 1,-46 1,0 1,10 1,16 1,-32 1,16 1,-3 1,8 1,0 1,-7 1,11 1,14 1,-23 1,1 1,-33 1,33 1,-4 1,6 1,3 1,4 1,-16 1,15 1,7 1,-18 1,21 1,-9 1,35 1,-66 1,8 1,24 1,20 1,-11 1,-9 1,4 1,12 1,-12 1,28 1,-28 1,37 1,-49 1,-9 1,46 1,-30 1,26 1,-13 1,1 1,-49 1,68 1,23 1,-45 1,-9 1,14 1,17 1,20 1,-26 1,2 1,-30 1,38 1,-11 1,-6 1,-8 1,17 1,1 1,-13 1,7 1,40 1,-60 1,9 1,6 1,19 1,21 1,-70 1,35 1,18 1,7 1,-15 1,-1 1,26 1,-18 1,-7 1,4 1,16 1,-27 1,16 1,23 1,-33 1,19 1,-13 1,10 1,5 1,3 1,-1 1,6 1,-5 1,-17 1,-3 1,7 1,0 1,14 1,-18 1,24 1,21 1,-14 1,-9 1,-26 1,18 1,-23 1,58 1,-23 1,-15 1,18 1,-17 1,19 1,-2 1,-39 1,37 1,0 1,-45 1,12 1,10 1,14 1,9 1,-15 1,18 1,-14 1,-5 1,17 1,15 1,-45 1,26 1,5 1,19 1,-23 1,-13 1,0 1,25 1,-18 1,16 1,-7 1,4 1,-13 1,4 1,8 1,-43 1,24 1,6 1,3 1,-6 1,-9 1,28 1,-12 1,3 1,27 1,8 1,-55 1,24 1,-7 1,1 1,18 1,0 1,-34 1,28 1,-18 1,13 1,-17 1,-26 1,30 1,16 1,-23 1,10 1,2 1,-10 1,5 1,-23 1,8 1,-17 1,37 1,-6 1,-26 1,56 1,-1 1,-41 1,40 1,-19 1,-13 1,8 1,12 1,0 1,0 1,-32 1,3 1,28 1,-5 1,11 1,-49 1,45 1,-18 1,-19 1,30 1,20 1,-15 1,1 1,-3 1,-4 1,-22 1,6 1,6 1,17 1,-19 1,0 1,15 1,10 1,1 1,-33 1,27 1,-19 1,3 1,35 1,-38 1,6 1,23 1,-15 1,-3 1,1 1,24 1,-31 1,-6 1,13 1,5 1,-25 1,9 1,-14 1,3 1,-10 1,10 1,22 1,-24 1,-9 1,23 1,2 1,24 1,-11 1,-24 1,23 1,-2 1,29 1,-39 1,30 1,-27 1,32 1,-15 1,-1 1,-10 1,-2 1,-20 1,22 1,-31 1,31 1,15 1,-43 1,31 1,-37 1,49 1,-56 1,39 1,-7 1,4 1,-19 1,16 1,-25 1,28 1,8 1,-32 1,19 1,-3 1,4 1,13 1,-40 1,34 1,-12 1,21 1,-22 1,-1 1,-2 1,2 1,8 1,4 1,-16 1,20 1,-24 1,25 1,-19 1,13 1,-2 1,-5 1,4 1,15 1,-11 1,-11 1,-11 1,17 1,-6 1,14 1,-26 1,6 1,-18 1,23 1,10 1,8 1,-25 1,13 1,-11 1,31 1,-3 1,-40 1,17 1,5 1,6 1,15 1,-46 1,2 1,32 1,-22 1,9 1,-1 1,-14 1,10 1,-5 1,3 1,9 1,-26 1,42 1,-25 1,-4 1,4 1,0 1,-11 1,37 1,-14 1,-13 1,-7 1,7 1,26 1,17 1,-46 1,3 1,-7 1,-6 1,22 1,-25 1,7 1,3 1,32 1,-21 1,25 1,-16 1,-9 1,-6 1,18 1,-28 1,-1 1,34 1,-17 1,9 1,-14 1,40 1,-32 1,-16 1,-13 1,36 1,-27 1,0 1,4 1,25 1,-45 1,35 1,7 1,-17 1,41 1,-32 1,5 1,-7 1,-13 1,-24 1,23 1,9 1,0 1,20 1,-29 1,-8 1,4 1,10 1,3 1,-2 1,40 1,-38 1,17 1,-2 1,13 1,2 1,4 1,-12 1,-29 1,-5 1,32 1,1 1,-33 1,11 1,24 1,-16 1,4 1,-21 1,31 1,-29 1,0 1,-14 1,46 1,-15 1,6 1,-14 1,0 1,22 1,-9 1,-10 1,16 1,21 1,-14 1,-16 1,15 1,-31 1,24 1,-13 1,-7 1,-20 1,12 1,29 1,-15 1,-19 1,13 1,0 1,22 1,-18 1,19 1,-19 1,5 1,0 1,-27 1,28 1,0 1,16 1,-10 1,-3 1,-16 1,7 1,-1 1,-13 1,23 1,24 1,-29 1,13 1,-4 1,0 1,-23 1,40 1,-37 1,1 1,0 1,12 1,11 1,2 1,-15 1,32 1,-37 1,18 1,2 1,-16 1,18 1,-9 1,-25 1,28 1,-24 1,9 1,20 1,-25 1,15 1,-9 1,8 1,-21 1,16 1,-3 1,16 1,-35 1,27 1,2 1,-30 1,24 1,9 1,2 1,-13 1,17 1,15 1,-50 1,4 1,14 1,29 1,-18 1,25 1,-4 1,-42 1,-2 1,4 1,19 1,-6 1,-6 1,-5 1,4 1,9 1,-20 1,19 1,-18 1,17 1,13 1,-30 1,19 1,-10 1,10 1,-9 1,10 1,-1 1,-6 1,5 1,-33 1,15 1,4 1,11 1,-44 1,32 1,-5 1,14 1,-15 1,35 1,-12 1,0 1,-10 1,30 1,-44 1,14 1,2 1,-49 1,37 1,8 1,26 1,-45 1,37 1,18 1,-17 1,-17 1,14 1,-4 1,-2 1,-7 1,15 1,7 1,-18 1,-15 1,1 1,-5 1,-10 1,39 1,-18 1,12 1,-41 1,20 1,27 1,-43 1,48 1,-23 1,23 1,-20 1,-6 1,-5 1,15 1,-16 1,-9 1,39 1,-12 1,-20 1,15 1,-8 1,17 1,-19 1,1 1,9 1,-33 1,47 1,-18 1,9 1,2 1,9 1,-9 1,-13 1,4 1,-10 1,42 1,-36 1,0 1,-15 1,-3 1,-1 1,34 1,-22 1,11 1,-26 1,-30 1,44 1,21 1,-18 1,-22 1,11 1,23 1,-18 1,-11 1,14 1,9 1,-30 1,14 1,1 1,-8 1,7 1,-20 1,63 1,19 1,-66 1,10 1,12 1,-9 1,-10 1,15 1,5 1,-8 1,-11 1,-10 1,51 1,-23 1,-29 1,9 1,6 1,14 1,-1 1,-21 1,8 1,-11 1,10 1,-6 1,6 1,16 1,-29 1,6 1,30 1,-34 1,13 1,0 1,-14 1,30 1,-25 1,4 1,-7 1,-18 1,19 1,2 1,9 1,15 1,8 1,5 1,-31 1,-28 1,36 1,17 1,-9 1,-24 1,-3 1,4 1,-1 1,12 1,25 1,1 1,-29 1,-4 1,9 1,-33 1,9 1,11 1,9 1,4 1,16 1,-45 1,-2 1,9 1,-4 1,23 1,-15 1,19 1,-24 1,22 1,-16 1,0 1,5 1,-11 1,5 1,3 1,-17 1,32 1,-19 1,0 1,-12 1,28 1,-4 1,-25 1,34 1,-29 1,32 1,-29 1,-16 1,0 1,46 1,-61 1,47 1,-49 1,31 1,56 1,-21 1,-55 1,6 1,5 1,27 1,-43 1,40 1,-29 1,33 1,-14 1,-18 1,12 1,18 1,-17 1,30 1,-5 1,-43 1,38 1,-11 1,-39 1,44 1,-6 1,17 1,-15 1,-30 1,9 1,6 1,13 1,15 1,-2 1,0 1,-34 1,16 1,-3 1,11 1,6 1,-29 1,6 1,5 1,22 1,-22 1,7 1,-23 1,31 1,-39 1,46 1,-19 1,22 1,-42 1,-15 1,59 1,-14 1,-35 1,1 1,12 1,-2 1,-5 1,6 1,-24 1,29 1,16 1,-43 1,10 1,26 1,26 1,-25 1,-45 1,27 1,-18 1,1 1,1 1,-5 1,19 1,-49 1,42 1,-19 1,3 1,-1 1,19 1,-5 1,3 1,10 1,-11 1,23 1,-29 1,3 1,-5 1,-8 1,6 1,-2 1,2 1,4 1,2 1,-1 1,1 1,9 1,11 1,-54 1,22 1,23 1,-24 1,-18 1,-17 1,52 1,-5 1,-37 1,56 1,-42 1,21 1,-10 1,-16 1,30 1,-23 1,49 1,-45 1,12 1,-58 1,79 1,-35 1,17 1,-36 1,33 1,-7 1,-24 1,10 1,-15 1,23 1,24 1,-23 1,0 1,5 1,3 1,-40 1,34 1,-16 1,23 1,-55 1,32 1,-12 1,3 1,42 1,-20 1,-30 1,-4 1,56 1,-21 1,-7 1,-24 1,-7 1,8 1,-37 1,42 1,-3 1,9 1,-6 1,12 1,-10 1,1 1,-4 1,-21 1,33 1,-21 1,4 1,1 1,17 1,37 1,-51 1,-28 1,30 1,-3 1,-13 1,-19 1,56 1,-26 1,4 1,-20 1,-6 1,17 1,-7 1,-8 1,21 1,19 1,2 1,-40 1,14 1,-30 1,23 1,16 1,-2 1,-11 1,5 1,-24 1,13 1,3 1,12 1,-14 1,-3 1,21 1,-2 1,-41 1,24 1,12 1,8 1,7 1,-26 1,1 1,20 1,-35 1,16 1,-3 1,-4 1,37 1,-6 1,-17 1,-13 1,20 1,-20 1,33 1,-49 1,34 1,-1 1,-18 1,40 1,-21 1,-27 1,41 1,-9 1,-33 1,27 1,-8 1,8 1,-13 1,28 1,-5 1,27 1,-54 1,39 1,-34 1,56 1,-68 1,42 1,-34 1,11 1,31 1,-43 1,14 1,11 1,5 1,-15 1,17 1,-15 1,16 1,-13 1,4 1,38 1,-28 1,-21 1,15 1,28 1,-4 1,-28 1,9 1,17 1,-24 1,33 1,-42 1,27 1,-12 1,17 1,-13 1,-40 1,86 1,-61 1,31 1,-19 1,-3 1,20 1,-35 1,27 1,11 1,-7 1,-7 1,-2 1,21 1,9 1,-19 1,3 1,0 1,-44 1,46 1,16 1,10 1,-33 1,25 1,-34 1,26 1,-12 1,10 1,31 1,-7 1,-41 1,6 1,25 1,-15 1,14 1,-41 1,8 1,6 1,54 1,-16 1,-49 1,32 1,6 1,26 1,1 1,-9 1,5 1,-10 1,-33 1,57 1,-58 1,15 1,-18 1,21 1,24 1,-39 1,45 1,-5 1,-26 1,47 1,-27 1,14 1,-8 1,-48 1,51 1,-21 1,9 1,-28 1,10 1,10 1,18 1,17 1,-42 1,28 1,-14 1,1 1,24 1,-2 1,-27 1,45 1,-24 1,-22 1,28 1,9 1,4 1,-16 1,-7 1,11 1,16 1,-22 1,-25 1,24 1,44 1,-74 1,24 1,7 1,7 1,13 1,-9 1,7 1,-9 1,-36 1,25 1,28 1,7 1,-28 1,13 1,-5 1,-42 1,62 1,-6 1,2 1,-15 1,36 1,-28 1,6 1,-22 1,4 1,49 1,-70 1,52 1,-9 1,2 1,4 1,-10 1,8 1,-6 1,5 1,3 1,-38 1,15 1,-2 1,-4 1,12 1,7 1,-7 1,26 1,4 1,-31 1,11 1,-3 1,21 1,-19 1,-35 1,41 1,-25 1,9 1,15 1,-4 1,-19 1,17 1,-5 1,-3 1,5 1,5 1,12 1,-21 1,34 1,-16 1,-20 1,-2 1,-31 1,48 1,7 1,-18 1,-24 1,28 1,45 1,-36 1,17 1,-35 1,30 1,-14 1,23 1,-28 1,15 1,3 1,-11 1,1 1,1 1,-38 1,25 1,3 1,1 1,1 1,-28 1,12 1,12 1,13 1,6 1,4 1,-14 1,1 1,-10 1,-4 1,21 1,-30 1,25 1,-22 1,8 1,19 1,-8 1,-11 1,16 1,28 1,-48 1,15 1,25 1,-12 1,-4 1,-20 1,30 1,-36 1,5 1,3 1,0 1,33 1,5 1,-13 1,-41 1,19 1,24 1,5 1,-13 1,-4 1,-6 1,3 1,0 1,-1 1,14 1,-18 1,17 1,7 1,9 1,-27 1,-15 1,37 1,-19 1,25 1,-19 1,-35 1,17 1,-9 1,24 1,-21 1,1 1,14 1,3 1,19 1,-29 1,14 1,-11 1,-4 1,23 1,-7 1,-10 1,-6 1,-5 1,-11 1,11 1,40 1,-48 1,13 1,37 1,5 1,-46 1,-4 1,21 1,-25 1,39 1,-14 1,-13 1,18 1,-10 1,-37 1,43 1,-14 1,-17 1,50 1,-24 1,7 1,-4 1,6 1,-15 1,1 1,-1 1,-17 1,9 1,-32 1,42 1,-22 1,14 1,-11 1,-16 1,8 1,28 1,-10 1,-16 1,15 1,13 1,24 1,-12 1,-14 1,-17 1,34 1,-4 1,-24 1,17 1,-29 1,16 1,-1 1,0 1,9 1,-4 1,-9 1,19 1,-15 1,13 1,-21 1,24 1,-8 1,-6 1,32 1,-69 1,54 1,-21 1,12 1,-14 1,-6 1,19 1,-40 1,34 1,-41 1,32 1,21 1,-33 1,37 1,-22 1,1 1,4 1,-7 1,-17 1,13 1,3 1,20 1,-10 1,-36 1,34 1,-7 1,-7 1,30 1,-2 1,-28 1,17 1,-2 1,10 1,21 1,-54 1,3 1,16 1,-19 1,11 1,16 1,-47 1,64 1,-49 1,25 1,13 1,22 1,-41 1,2 1,4 1,0 1,1 1,-2 1,-12 1,19 1,29 1,-43 1,-6 1,13 1,-17 1,11 1,-5 1,-10 1,11 1,32 1,-25 1,-24 1,24 1,6 1,-35 1,53 1,-67 1,32 1,12 1,-21 1,23 1,-8 1,2 1,18 1,22 1,-27 1,-2 1,-28 1,22 1,-15 1,31 1,-21 1,54 1,-40 1,-12 1,0 1,1 1,11 1,-27 1,19 1,31 1,-30 1,16 1,-1 1,-18 1,-9 1,1 1,3 1,6 1,6 1,-15 1,-32 1,23 1,28 1,-24 1,43 1,-20 1,-29 1,18 1,10 1,-13 1,14 1,-11 1,17 1,-13 1,8 1,-6 1,3 1,-20 1,11 1,3 1,-9 1,21 1,-2 1,-18 1,7 1,1 1,-25 1,35 1,2 1,-14 1,1 1,7 1,16 1,3 1,-34 1,26 1,-35 1,8 1,14 1,4 1,-2 1,6 1,12 1,20 1,-28 1,-30 1,31 1,3 1,-29 1,40 1,-32 1,21 1,-18 1,18 1,-36 1,5 1,31 1,-11 1,24 1,-19 1,18 1,-16 1,-2 1,-5 1,-33 1,62 1,-50 1,17 1,-8 1,31 1,-21 1,15 1,-7 1,8 1,-21 1,16 1,-2 1,-1 1,8 1,-23 1,17 1,-19 1,30 1,-25 1,7 1,13 1,-15 1,24 1,-5 1,-13 1,12 1,-7 1,-17 1,8 1,4 1,-17 1,-4 1,11 1,21 1,-34 1,36 1,-18 1,9 1,32 1,-41 1,-25 1,9 1,-14 1,48 1,-26 1,3 1,33 1,-35 1,2 1,32 1,-15 1,-10 1,10 1,-5 1,-7 1,-34 1,32 1,6 1,7 1,-19 1,16 1,0 1,-14 1,20 1,-11 1,-6 1,-18 1,19 1,-5 1,-1 1,9 1,-10 1,22 1,-32 1,57 1,-21 1,-16 1,20 1,-3 1,-22 1,8 1,-5 1,10 1,-5 1,24 1,2 1,-27 1,-2 1,8 1,-1 1,15 1,-30 1,29 1,-9 1,2 1,-19 1,16 1,-13 1,25 1,-4 1,-10 1,10 1,0 1,-13 1,-7 1,10 1,5 1,-7 1,-16 1,31 1,-22 1,24 1,-21 1,7 1,-9 1,16 1,-6 1,16 1,-35 1,-9 1,9 1,30 1,-10 1,-5 1,-13 1,25 1,-10 1,-26 1,10 1,-16 1,3 1,29 1,6 1,-22 1,38 1,-59 1,40 1,-24 1,-14 1,17 1,31 1,-24 1,-27 1,6 1,41 1,-13 1,11 1,-22 1,-14 1,-10 1,54 1,-44 1,16 1,1 1,-21 1,21 1,-18 1,38 1,-29 1,46 1,-38 1,7 1,18 1,-18 1,-18 1,3 1,20 1,-34 1,9 1,1 1,0 1,-2 1,12 1,-8 1,7 1,-15 1,14 1,-6 1,-3 1,-13 1,34 1,-7 1,-4 1,-9 1,-22 1,33 1,-38 1,44 1,-16 1,13 1,9 1,-22 1,-41 1,23 1,25 1,8 1,-5 1,-46 1,51 1,-23 1,19 1,-34 1,20 1,-12 1,-8 1,-6 1,29 1,-21 1,34 1,-13 1,-18 1,-28 1,46 1,-22 1,36 1,-8 1,-40 1,19 1,29 1,-12 1,-7 1,-19 1,29 1,-14 1,20 1,-14 1,13 1,-22 1,-23 1,2 1,36 1,-33 1,12 1,10 1,3 1,-2 1,-19 1,-8 1,4 1,23 1,-21 1,17 1,18 1,-12 1,-1 1,-19 1,18 1,7 1,-10 1,8 1,-27 1,34 1,-27 1,23 1,-13 1,36 1,-47 1,8 1,9 1,14 1,-5 1,-20 1,32 1,14 1,-37 1,-11 1,1 1,39 1,-10 1,-29 1,13 1,-7 1,13 1,-10 1,31 1,-5 1,-38 1,-3 1,21 1,31 1,4 1,-27 1,20 1,-38 1,4 1,11 1,1 1,3 1,-2 1,-5 1,29 1,-29 1,7 1,-3 1,-7 1,34 1,24 1,-40 1,-25 1,6 1,-10 1,17 1,23 1,22 1,-34 1,32 1,-33 1,22 1,-9 1,-6 1,4 1,17 1,-13 1,0 1,-40 1,44 1,-16 1,5 1,-18 1,21 1,-14 1,20 1,-6 1,28 1,-68 1,59 1,-29 1,-3 1,30 1,-40 1,19 1,-9 1,-20 1,26 1,9 1,-26 1,-2 1,5 1,34 1,-17 1,16 1,-36 1,25 1,0 1,4 1,-22 1,27 1,-35 1,17 1,16 1,-17 1,11 1,-7 1,5 1,5 1,7 1,-34 1,12 1,-4 1,19 1,32 1,-59 1,12 1,8 1,5 1,-33 1,33 1,22 1,-28 1,-16 1,-9 1,27 1,-16 1,4 1,-1 1,4 1,21 1,-15 1,29 1,-19 1,16 1,-7 1,-19 1,10 1,0 1,-13 1,-1 1,-22 1,23 1,4 1,-8 1,21 1,-21 1,8 1,1 1,11 1,-18 1,0 1,30 1,-22 1,-7 1,-10 1,-4 1,0 1,1 1,-1 1,27 1,-9 1,-28 1,27 1,-6 1,-20 1,17 1,-20 1,28 1,-12 1,25 1,-4 1,-33 1,-2 1,29 1,1 1,-13 1,14 1,-21 1,24 1,-28 1,16 1,-22 1,60 1,-40 1,21 1,-20 1,9 1,4 1,-26 1,24 1,-29 1,3 1,17 1,-4 1,23 1,-11 1,-34 1,31 1,4 1,-27 1,28 1,-18 1,10 1,12 1,-60 1,30 1,28 1,-19 1,20 1,-29 1,26 1,-13 1,-3 1,6 1,-13 1,50 1,-47 1,-20 1,14 1,51 1,-41 1,0 1,29 1,-36 1,16 1,-30 1,56 1,-26 1,-26 1,6 1,19 1,-24 1,19 1,5 1,-11 1,15 1,-5 1,24 1,-36 1,17 1,-43 1,7 1,46 1,-22 1,-21 1,-1 1,24 1,-39 1,42 1,16 1,-39 1,15 1,-16 1,-26 1,18 1,-7 1,16 1,-14 1,-9 1,4 1,37 1,-9 1,-24 1,-26 1,41 1,-8 1,-18 1,33 1,-8 1,-36 1,17 1,-2 1,-16 1,6 1,48 1,-13 1,-9 1,-4 1,2 1,-50 1,35 1,-28 1,20 1,5 1,-4 1,8 1,10 1,13 1,-2 1,-41 1,-19 1,74 1,-39 1,5 1,23 1,-28 1,5 1,-25 1,19 1,11 1,-24 1,28 1,-20 1,-1 1,37 1,-13 1,-14 1,-10 1,-21 1,40 1,-6 1,-9 1,8 1,1 1,-4 1,-2 1,14 1,-7 1,-20 1,32 1,-4 1,10 1,-21 1,3 1,-19 1,-5 1,18 1,10 1,-19 1,19 1,-12 1,23 1,10 1,-10 1,-18 1,27 1,-9 1,-9 1,11 1,-10 1,9 1,-16 1,26 1,-11 1,17 1,-17 1,27 1,-14 1,1 1,0 1,-34 1,55 1,-27 1,11 1,1 1,-8 1,23 1,3 1,12 1,-30 1,9 1,11 1,13 1,-41 1,21 1,-27 1,50 1,9 1,-25 1,4 1,-11 1,16 1,-8 1,21 1,-24 1,2 1,21 1,-12 1,-13 1,26 1,-28 1,38 1,3 1,-30 1,12 1,7 1,-12 1,15 1,-13 1,17 1,22 1,-29 1,17 1,-24 1,28 1,-7 1,22 1,-2 1,-33 1,18 1,-3 1,-11 1,17 1,12 1,-29 1,34 1,8 1,-41 1,-5 1,10 1,15 1,-3 1,-2 1,-7 1,9 1,24 1,-1 1,-5 1,-24 1,16 1,11 1,-14 1,19 1,12 1,-6 1,-25 1,15 1,-13 1,5 1,1 1,2 1,-15 1,22 1,21 1,-6 1,-30 1,16 1,3 1,-22 1,19 1,-26 1,16 1,3 1,5 1,-2 1,19 1,-23 1,4 1,-29 1,16 1,5 1,6 1,13 1,-4 1,-18 1,7 1,0 1,4 1,-11 1,8 1,4 1,7 1,-15 1,-2 1,4 1,17 1,-33 1,18 1,18 1,3 1,-22 1,-8 1,24 1,3 1,-20 1,25 1,-30 1,18 1,1 1,3 1,-28 1,-1 1,29 1,-25 1,33 1,-42 1,18 1,27 1,-24 1,14 1,-13 1,15 1,-27 1,9 1,19 1,-28 1,19 1,4 1,-15 1,-1 1,24 1,16 1,-24 1,-14 1,-5 1,10 1,1 1,-4 1,-7 1,18 1,-3 1,-18 1,23 1,-20 1,31 1,-19 1,10 1,-13 1,6 1,14 1,-3 1,-13 1,-5 1,-4 1,-1 1,11 1,5 1,-15 1,23 1,-11 1,-8 1,-3 1,18 1,-15 1,17 1,-8 1,16 1,-29 1,26 1,-17 1,-12 1,-13 1,10 1,13 1,24 1,-23 1,12 1,-33 1,28 1,-2 1,-1 1,0 1,-15 1,22 1,1 1,-16 1,-5 1,33 1,-36 1,39 1,-26 1,4 1,3 1,1 1,-11 1,13 1,-16 1,6 1,12 1,-7 1,7 1,2 1,-3 1,-5 1,-9 1,7 1,13 1,-3 1,-15 1,10 1,7 1,3 1,6 1,-23 1,0 1,-9 1,0 1,-2 1,28 1,-7 1,9 1,-22 1,16 1,-1 1,-24 1,21 1,9 1,-11 1,6 1,7 1,-4 1,11 1,-17 1,-3 1,9 1,-19 1,26 1,-8 1,0 1,14 1,-22 1,13 1,-3 1,-15 1,36 1,-26 1,3 1,-16 1,19 1,3 1,-32 1,7 1,15 1,-8 1,27 1,-8 1,-10 1,15 1,-11 1,2 1,7 1,-27 1,13 1,-10 1,2 1,-9 1,13 1,8 1,1 1,6 1,-4 1,-7 1,6 1,-12 1,10 1,-19 1,11 1,0 1,12 1,18 1,-28 1,17 1,-23 1,35 1,-28 1,-20 1,30 1,-9 1,-2 1,15 1,18 1,-38 1,-6 1,27 1,-8 1,6 1,-23 1,20 1,16 1,-37 1,26 1,-4 1,15 1,-22 1,-5 1,14 1,-5 1,-11 1,26 1,-8 1,-10 1,2 1,-9 1,15 1,0 1,-6 1,8 1,8 1,-26 1,28 1,-14 1,-19 1,17 1,15 1,-24 1,10 1,-8 1,12 1,0 1,-3 1,-5 1,2 1,20 1,-24 1,-6 1,23 1,-1 1,-21 1,9 1,3 1,3 1,-4 1,13 1,19 1,-28 1,-21 1,0 1,13 1,4 1,-2 1,7 1,1 1,-12 1,-2 1,6 1,0 1,-2 1,16 1,-9 1,-19 1,7 1,1 1,-15 1,7 1,23 1,-11 1,1 1,-3 1,2 1,3 1,-13 1,-2 1,10 1,4 1,-2 1,-8 1,0 1,28 1,-22 1,1 1,-8 1,-9 1,36 1,-28 1,-2 1,-8 1,16 1,13 1,-4 1,5 1,-23 1,8 1,29 1,-20 1,-1 1,-8 1,6 1,6 1,-37 1,36 1,2 1,-13 1,17 1,3 1,-16 1,-16 1,11 1,1 1,8 1,-11 1,7 1,-10 1,-13 1,46 1,-15 1,1 1,5 1,-33 1,31 1,-12 1,-6 1,-12 1,8 1,-4 1,10 1,-5 1,-11 1,20 1,-3 1,9 1,-16 1,9 1,-4 1,-8 1,-4 1,4 1,5 1,1 1,5 1,17 1,-26 1,7 1,-6 1,-11 1,13 1,-2 1,-14 1,13 1,28 1,-35 1,15 1,8 1,-34 1,31 1,2 1,6 1,-17 1,-1 1,-26 1,19 1,9 1,1 1,-19 1,2 1,-15 1,38 1,3 1,-15 1,-9 1,12 1,2 1,-17 1,14 1,11 1,-7 1,-15 1,10 1,9 1,17 1,-20 1,-9 1,15 1,-19 1,-12 1,33 1,-4 1,-23 1,34 1,-37 1,3 1,28 1,-6 1,-5 1,-16 1,11 1,-6 1,-4 1,9 1,-4 1,30 1,-13 1,-20 1,14 1,-14 1,-4 1,20 1,-14 1,-5 1,4 1,11 1,-5 1,23 1,-46 1,4 1,37 1,-28 1,31 1,-39 1,2 1,15 1,-3 1,-23 1,4 1,22 1,-5 1,-3 1,-2 1,6 1,2 1,1 1,10 1,-3 1,-10 1,16 1,-11 1,23 1,-29 1,-11 1,-2 1,3 1,25 1,-30 1,7 1,21 1,-3 1,-19 1,4 1,-4 1,0 1,9 1,-6 1,14 1,-10 1,12 1,6 1,-7 1,-22 1,-14 1,25 1,8 1,1 1,-17 1,9 1,0 1,11 1,-7 1,-16 1,-4 1,-2 1,22 1,5 1,4 1,-19 1,-5 1,23 1,-12 1,-7 1,17 1,5 1,0 1,-21 1,-5 1,7 1,6 1,-2 1,10 1,-6 1,1 1,-4 1,-5 1,10 1,-14 1,26 1,6 1,-24 1,17 1,-11 1,-15 1,7 1,4 1,0 1,-38 1,24 1,-8 1,22 1,15 1,-25 1,5 1,4 1,6 1,-10 1,16 1,8 1,6 1,-15 1,0 1,13 1,-22 1,0 1,10 1,-5 1,-12 1,-8 1,22 1,3 1,-1 1,-9 1,7 1,-1 1,-12 1,6 1,4 1,28 1,-15 1,-28 1,9 1,-3 1,12 1,0 1,-8 1,13 1,-18 1,-1 1,37 1,-27 1,8 1,-11 1,1 1,-5 1,-4 1,7 1,10 1,-26 1,30 1,-10 1,5 1,-11 1,5 1,9 1,-8 1,-8 1,-8 1,11 1,9 1,16 1,4 1,-13 1,-7 1,10 1,-15 1,9 1,-10 1,22 1,-13 1,-3 1,-8 1,-2 1,24 1,-7 1,-25 1,7 1,28 1,-20 1,20 1,-17 1,-6 1,5 1,-10 1,38 1,-22 1,-12 1,9 1,5 1,-10 1,16 1,-41 1,41 1,12 1,-18 1,-9 1,1 1,-1 1,15 1,-14 1,9 1,-8 1,0 1,-27 1,23 1,6 1,11 1,-4 1,3 1,-30 1,33 1,-22 1,6 1,19 1,-39 1,12 1,16 1,0 1,9 1,-24 1,1 1,22 1,-29 1,17 1,11 1,-4 1,-3 1,0 1,-11 1,15 1,-4 1,-29 1,23 1,2 1,4 1,-4 1,-22 1,42 1,-18 1,-1 1,8 1,-10 1,-10 1,29 1,-11 1,-8 1,6 1,3 1,-6 1,4 1,-14 1,-2 1,-1 1,19 1,7 1,-18 1,12 1,-5 1,2 1,9 1,-28 1,12 1,8 1,-13 1,10 1,-5 1,-20 1,8 1,20 1,1 1,-22 1,-6 1,7 1,16 1,-4 1,20 1,0 1,-17 1,-7 1,5 1,-10 1,2 1,14 1,2 1,-9 1,-11 1,19 1,9 1,-9 1,-5 1,-7 1,2 1,22 1,-10 1,-22 1,2 1,13 1,-18 1,-1 1,36 1,-15 1,-24 1,4 1,-3 1,21 1,-6 1,-10 1,13 1,-2 1,-6 1,-14 1,34 1,-30 1,11 1,3 1,17 1,-18 1,5 1,-19 1,18 1,-29 1,50 1,-12 1,-10 1,-29 1,25 1,5 1,17 1,-9 1,-3 1,-29 1,20 1,15 1,-11 1,2 1,-2 1,-18 1,10 1,23 1,-20 1,-5 1,5 1,-15 1,29 1,-16 1,4 1,-11 1,-28 1,32 1,8 1,-21 1,30 1,-18 1,16 1,-13 1,-10 1,7 1,4 1,-5 1,-2 1,-5 1,33 1,-21 1,0 1,-5 1,7 1,3 1,-24 1,23 1,8 1,-19 1,21 1,-28 1,17 1,-22 1,35 1,-8 1,-6 1,-13 1,-21 1,27 1,16 1,-17 1,3 1,13 1,3 1,-27 1,25 1,-12 1,-13 1,11 1,-13 1,17 1,3 1,-3 1,5 1,-11 1,19 1,-25 1,23 1,-26 1,22 1,-1 1,8 1,-39 1,37 1,-12 1,6 1,-13 1,-6 1,-3 1,12 1,16 1,-18 1,9 1,7 1,-1 1,3 1,-23 1,8 1,-3 1,-1 1,1 1,8 1,15 1,-22 1,-7 1,2 1,3 1,16 1,-33 1,6 1,13 1,-6 1,1 1,14 1,-16 1,-11 1,26 1,-15 1,24 1,-27 1,23 1,-18 1,-11 1,18 1,-5 1,11 1,0 1,13 1,-16 1,-19 1,29 1,-17 1,10 1,-44 1,31 1,-1 1,0 1,-8 1,14 1,2 1,0 1,-22 1,8 1,12 1,-3 1,7 1,-7 1,13 1,-4 1,14 1,-45 1,31 1,-17 1,-15 1,15 1,15 1,-3 1,-5 1,4 1,-25 1,44 1,-4 1,-5 1,-22 1,9 1,8 1,5 1,-30 1,1 1,31 1,14 1,-46 1,30 1,-13 1,-12 1,6 1,-6 1,-4 1,18 1,0 1,-1 1,2 1,-8 1,5 1,5 1,5 1,-11 1,22 1,-30 1,16 1,2 1,6 1,-22 1,40 1,-37 1,-7 1,15 1,4 1,-10 1,-8 1,25 1,-21 1,7 1,18 1,-19 1,10 1,-17 1,-8 1,-13 1,23 1,-4 1,7 1,-3 1,-22 1,14 1,8 1,5 1,13 1,-8 1,-22 1,-4 1,42 1,-18 1,-32 1,18 1,9 1,-3 1,-16 1,12 1,-4 1,-10 1,18 1,7 1,13 1,-43 1,23 1,6 1,5 1,4 1,-24 1,-6 1,29 1,-19 1,8 1,4 1,10 1,-32 1,33 1,-20 1,19 1,-29 1,0 1,25 1,3 1,6 1,-25 1,4 1,-4 1,-16 1,-2 1,19 1,14 1,-11 1,12 1,-7 1,-7 1,18 1,-17 1,11 1,-18 1,5 1,10 1,-8 1,0 1,4 1,2 1,8 1,-9 1,12 1,-37 1,4 1,14 1,10 1,-26 1,31 1,-17 1,23 1,-26 1,10 1,2 1,-21 1,14 1,-6 1,-10 1,25 1,5 1,-1 1,-21 1,7 1,24 1,-32 1,13 1,0 1,-14 1,32 1,-31 1,-4 1,9 1,-6 1,21 1,-8 1,14 1,-17 1,-11 1,3 1,17 1,-23 1,9 1,41 1,-21 1,5 1,-29 1,9 1,7 1,17 1,-16 1,0 1,-15 1,16 1,37 1,-24 1,-10 1,-1 1,-4 1,-1 1,-13 1,17 1,-17 1,8 1,5 1,2 1,-11 1,36 1,-36 1,-6 1,3 1,-8 1,-23 1,27 1,-6 1,-5 1,17 1,22 1,-26 1,18 1,-33 1,27 1,4 1,-19 1,4 1,31 1,-15 1,-4 1,2 1,5 1,-26 1,13 1,-12 1,22 1,-9 1,24 1,-18 1,-5 1,14 1,-22 1,6 1,-8 1,18 1,-16 1,14 1,-19 1,28 1,-16 1,6 1,-5 1,-25 1,42 1,-34 1,-17 1,29 1,-3 1,10 1,4 1,7 1,-18 1,14 1,0 1,-13 1,-18 1,26 1,-12 1,-10 1,-5 1,15 1,7 1,-6 1,16 1,-12 1,-2 1,5 1,-13 1,27 1,-15 1,5 1,13 1,-22 1,35 1,-8 1,-18 1,18 1,-36 1,32 1,-12 1,-4 1,4 1,-9 1,-5 1,-5 1,19 1,0 1,-19 1,25 1,-11 1,2 1,-7 1,19 1,-26 1,22 1,2 1,-29 1,23 1,-27 1,17 1,3 1,-6 1,-16 1,9 1,-9 1,-15 1,40 1,4 1,-2 1,-19 1,13 1,15 1,-21 1,-22 1,24 1,14 1,-10 1,-4 1,-20 1,27 1,-10 1,22 1,-32 1,30 1,-30 1,23 1,-5 1,-7 1,4 1,7 1,-18 1,21 1,-21 1,-5 1,17 1,4 1,-14 1,16 1,-28 1,5 1,10 1,-11 1,13 1,-2 1,-12 1,2 1,14 1,-17 1,3 1,-1 1,7 1,24 1,-36 1,38 1,-22 1,-9 1,-6 1,-9 1,16 1,24 1,-11 1,-33 1,28 1,-6 1,-6 1,26 1,-39 1,12 1,-20 1,24 1,6 1,-11 1,7 1,2 1,-17 1,6 1,26 1,-7 1,-26 1,13 1,-17 1,-1 1,-5 1,30 1,-23 1,20 1,-18 1,25 1,-11 1,-16 1,-2 1,21 1,-6 1,-10 1,10 1,9 1,16 1,-41 1,4 1,-11 1,28 1,-8 1,-12 1,-1 1,10 1,-12 1,7 1,-7 1,-13 1,22 1,-7 1,7 1,-5 1,-5 1,-5 1,-24 1,32 1,-10 1,14 1,0 1,15 1,-27 1,2 1,15 1,-17 1,12 1,-20 1,18 1,-14 1,3 1,-16 1,26 1,-4 1,-28 1,1 1,34 1,-14 1,-2 1,-4 1,20 1,-42 1,24 1,9 1,-4 1,-18 1,17 1,-3 1,-25 1,9 1,28 1,-15 1,-4 1,19 1,11 1,-15 1,-16 1,4 1,36 1,-39 1,2 1,11 1,-25 1,42 1,-20 1,-22 1,8 1,-8 1,21 1,-10 1,-10 1,21 1,-16 1,6 1,-15 1,12 1,-21 1,-3 1,46 1,-14 1,-29 1,-2 1,17 1,-18 1,41 1,-32 1,-3 1,25 1,-23 1,24 1,-14 1,1 1,-6 1,-12 1,30 1,-2 1,-2 1,-29 1,11 1,9 1,-13 1,17 1,9 1,21 1,-57 1,25 1,-31 1,33 1,-15 1,-2 1,-21 1,9 1,21 1,-8 1,15 1,-32 1,8 1,12 1,8 1,-17 1,-14 1,-5 1,55 1,-32 1,-13 1,-1 1,3 1,19 1,6 1,0 1,-31 1,-13 1,32 1,-22 1,31 1,5 1,-8 1,-28 1,44 1,-7 1,1 1,-40 1,40 1,-40 1,40 1,-11 1,-6 1,-36 1,43 1,-19 1,25 1,-32 1,23 1,3 1,-18 1,7 1,6 1,2 1,4 1,-1 1,36 1,-73 1,32 1,37 1,-31 1,8 1,1 1,-45 1,65 1,-59 1,28 1,-8 1,13 1,8 1,-11 1,-16 1,8 1,2 1,-3 1,43 1,-29 1,-31 1,28 1,3 1,-41 1,45 1,14 1,-4 1,-24 1,23 1,-7 1,7 1,-4 1,6 1,-5 1,7 1,-28 1,-4 1,-4 1,25 1,-7 1,-25 1,12 1,15 1,-12 1,26 1,24 1,-36 1,-50 1,46 1,-9 1,-22 1,12 1,9 1,12 1,-21 1,10 1,8 1,2 1,-10 1,17 1,-1 1,-14 1,-14 1,-10 1,42 1,-28 1,5 1,28 1,-36 1,-6 1,29 1,-14 1,-12 1,26 1,-51 1,29 1,-13 1,20 1,-42 1,43 1,-27 1,32 1,-34 1,5 1,-18 1,23 1,-26 1,9 1,-3 1,20 1,-9 1,-9 1,14 1,-11 1,16 1,14 1,-28 1,-11 1,5 1,16 1,-14 1,15 1,-13 1,-5 1,-11 1,21 1,-5 1,-2 1,-1 1,-19 1,23 1,-28 1,12 1,49 1,-71 1,31 1,-1 1,-4 1,2 1,4 1,-2 1,-8 1,20 1,23 1,-71 1,5 1,14 1,5 1,-14 1,-1 1,37 1,-29 1,-36 1,32 1,7 1,-21 1,33 1,-14 1,10 1,-26 1,44 1,-36 1,-23 1,54 1,-8 1,2 1,-35 1,-4 1,28 1,-31 1,-18 1,38 1,-15 1,17 1,-16 1,-1 1,4 1,22 1,-24 1,9 1,-21 1,35 1,-45 1,-3 1,26 1,-30 1,17 1,19 1,-39 1,48 1,-40 1,-16 1,19 1,-5 1,24 1,14 1,-7 1,-4 1,-18 1,12 1,48 1,-34 1,-62 1,33 1,3 1,6 1,-18 1,30 1,-21 1,9 1,-35 1,18 1,36 1,-17 1,-13 1,-31 1,39 1,6 1,7 1,-39 1,19 1,11 1,-6 1,26 1,-12 1,-41 1,13 1,37 1,-35 1,7 1,7 1,-32 1,39 1,-11 1,15 1,3 1,-19 1,42 1,-24 1,27 1,-29 1,3 1,25 1,-24 1,-10 1,8 1,-22 1,44 1,-33 1,3 1,40 1,-23 1,3 1,2 1,34 1,-40 1,-5 1,-17 1,46 1,2 1,-7 1,-7 1,-2 1,0 1,25 1,-5 1,0 1,-10 1,1 1,-3 1,35 1,-26 1,22 1,-20 1,3 1,-21 1,45 1,-29 1,3 1,13 1,-4 1,22 1,-17 1,46 1,-56 1,-39 1,82 1,-27 1,-1 1,-2 1,5 1,-34 1,10 1,6 1,7 1,38 1,-29 1,-14 1,25 1,9 1,-18 1,37 1,-23 1,-15 1,11 1,12 1,-9 1,-12 1,18 1,28 1,-23 1,17 1,5 1,-12 1,-17 1,40 1,-36 1,0 1,19 1,-17 1,32 1,-27 1,33 1,-44 1,36 1,11 1,-41 1,-26 1,36 1,16 1,-14 1,13 1,3 1,-2 1,0 1,10 1,10 1,-27 1,25 1,-4 1,1 1,-19 1,35 1,-18 1,-2 1,-4 1,11 1,15 1,-43 1,28 1,3 1,31 1,-27 1,-8 1,26 1,-28 1,24 1,-14 1,1 1,29 1,-44 1,16 1,5 1,-15 1,10 1,12 1,0 1,2 1,0 1,-3 1,0 1,-15 1,12 1,4 1,-2 1,-17 1,19 1,6 1,1 1,-7 1,-2 1,0 1,9 1,-13 1,13 1,13 1,14 1,-18 1,24 1,-4 1,-19 1,12 1,-11 1,-1 1,-3 1,-8 1,-19 1,36 1,2 1,6 1,-10 1,-13 1,-17 1,11 1,-8 1,16 1,10 1,5 1,-6 1,27 1,9 1,-19 1,-3 1,-7 1,10 1,-14 1,-4 1,0 1,-3 1,4 1,13 1,-17 1,7 1,7 1,-8 1,-10 1,7 1,19 1,-23 1,7 1,9 1,12 1,-20 1,0 1,1 1,11 1,-22 1,30 1,-34 1,15 1,14 1,-20 1,7 1,7 1,6 1,-6 1,-8 1,7 1,-6 1,1 1,4 1,11 1,-22 1,18 1,3 1,-9 1,15 1,-5 1,0 1,-5 1,-13 1,22 1,13 1,-30 1,-13 1,2 1,36 1,-15 1,1 1,-19 1,1 1,-7 1,26 1,-12 1,4 1,30 1,-46 1,25 1,-1 1,14 1,-7 1,12 1,-4 1,-22 1,-1 1,-8 1,14 1,-20 1,12 1,18 1,-6 1,-2 1,-11 1,24 1,-19 1,15 1,-21 1,-8 1,4 1,12 1,7 1,-7 1,5 1,0 1,-4 1,12 1,-7 1,8 1,-15 1,12 1,-8 1,-7 1,2 1,-10 1,18 1,-5 1,9 1,6 1,-24 1,4 1,7 1,-6 1,16 1,-17 1,6 1,8 1,17 1,-29 1,4 1,10 1,-17 1,26 1,-25 1,25 1,-24 1,1 1,14 1,2 1,10 1,-2 1,-6 1,-17 1,6 1,1 1,-7 1,25 1,-28 1,-3 1,10 1,-7 1,19 1,16 1,-21 1,10 1,-21 1,12 1,-14 1,30 1,-49 1,27 1,6 1,-19 1,8 1,-13 1,21 1,10 1,1 1,-8 1,-3 1,8 1,-19 1,5 1,25 1,-16 1,-22 1,23 1,-7 1,10 1,-2 1,-16 1,1 1,25 1,-4 1,-16 1,-8 1,13 1,16 1,-3 1,-27 1,9 1,-1 1,9 1,-17 1,9 1,-6 1,9 1,-14 1,18 1,-31 1,15 1,13 1,-4 1,16 1,-5 1,-14 1,-17 1,34 1,-16 1,34 1,-37 1,30 1,-28 1,22 1,-12 1,13 1,-22 1,4 1,-9 1,7 1,16 1,-9 1,-15 1,17 1,0 1,-11 1,24 1,-4 1,-11 1,-5 1,12 1,2 1,-10 1,-11 1,31 1,-6 1,-30 1,6 1,7 1,-23 1,17 1,5 1,-8 1,-7 1,20 1,10 1,-9 1,-8 1,-3 1,10 1,-6 1,4 1,-7 1,29 1,-30 1,-2 1,-9 1,30 1,-23 1,7 1,8 1,-9 1,7 1,-1 1,-17 1,19 1,0 1,-7 1,10 1,-28 1,2 1,8 1,1 1,0 1,-5 1,5 1,-1 1,3 1,2 1,10 1,-34 1,10 1,-8 1,28 1,-11 1,-4 1,24 1,-3 1,-11 1,10 1,-28 1,25 1,8 1,-30 1,7 1,30 1,-29 1,9 1,10 1,-13 1,5 1,-1 1,-19 1,14 1,2 1,-10 1,19 1,-4 1,-16 1,13 1,-7 1,2 1,0 1,-11 1,25 1,-33 1,28 1,10 1,-29 1,-4 1,10 1,3 1,-8 1,-4 1,13 1,20 1,-36 1,14 1,-3 1,15 1,-10 1,-4 1,7 1,-10 1,21 1,-1 1,-15 1,4 1,13 1,-16 1,5 1,7 1,-14 1,-3 1,22 1,-14 1,9 1,8 1,-13 1,2 1,9 1,-39 1,24 1,0 1,-3 1,-1 1,7 1,5 1,-2 1,17 1,-31 1,8 1,0 1,29 1,-32 1,13 1,26 1,-29 1,-18 1,31 1,-7 1,-2 1,-3 1,7 1,-1 1,13 1,-16 1,23 1,-42 1,23 1,4 1,-15 1,17 1,13 1,-11 1,2 1,-6 1,2 1,15 1,-17 1,-10 1,4 1,-13 1,35 1,-29 1,13 1,15 1,-21 1,26 1,-26 1,1 1,29 1,-19 1,-13 1,20 1,-7 1,-1 1,2 1,8 1,-9 1,1 1,-5 1,-11 1,17 1,-2 1,9 1,-22 1,15 1,8 1,1 1,-1 1,0 1,-15 1,16 1,2 1,-15 1,-8 1,31 1,-20 1,-5 1,25 1,-26 1,10 1,-22 1,28 1,-10 1,7 1,-2 1,3 1,13 1,-8 1,-16 1,-5 1,8 1,1 1,12 1,24 1,-26 1,-22 1,1 1,16 1,-9 1,7 1,6 1,-5 1,21 1,-24 1,9 1,-4 1,5 1,-15 1,13 1,-8 1,23 1,-30 1,16 1,2 1,0 1,0 1,-9 1,15 1,-9 1,2 1,0 1,2 1,-13 1,-1 1,8 1,-2 1,-8 1,-5 1,15 1,7 1,2 1,-9 1,5 1,5 1,-8 1,-14 1,13 1,22 1,-11 1,-20 1,22 1,-21 1,10 1,-24 1,20 1,10 1,4 1,-15 1,8 1,-18 1,5 1,8 1,-8 1,-3 1,14 1,-12 1,3 1,-4 1,22 1,-10 1,3 1,2 1,-2 1,-6 1,24 1,-32 1,7 1,-3 1,15 1,-7 1,6 1,-26 1,37 1,-27 1,1 1,3 1,31 1,-31 1,8 1,-1 1,-7 1,23 1,-10 1,-8 1,-3 1,11 1,-14 1,-8 1,33 1,-1 1,-16 1,1 1,6 1,-13 1,-12 1,20 1,1 1,-4 1,-10 1,-7 1,25 1,-8 1,10 1,-13 1,-11 1,19 1,17 1,-14 1,-13 1,15 1,-9 1,5 1,16 1,-16 1,19 1,-36 1,-1 1,41 1,-21 1,-5 1,7 1,-30 1,29 1,-16 1,-5 1,21 1,-11 1,7 1,-6 1,1 1,25 1,-32 1,21 1,-8 1,8 1,-17 1,17 1,-18 1,9 1,-6 1,7 1,-9 1,4 1,23 1,-14 1,-10 1,6 1,-5 1,19 1,-5 1,2 1,-29 1,22 1,0 1,-3 1,24 1,-27 1,8 1,-2 1,7 1,-11 1,0 1,6 1,-5 1,12 1,-9 1,-14 1,8 1,-3 1,4 1,-8 1,9 1,7 1,-21 1,30 1,-8 1,-16 1,2 1,14 1,-10 1,3 1,-14 1,0 1,19 1,-15 1,26 1,-29 1,14 1,-6 1,21 1,-19 1,4 1,5 1,-1 1,-17 1,3 1,-3 1,18 1,-21 1,21 1,0 1,0 1,-11 1,20 1,-21 1,5 1,7 1,1 1,6 1,-5 1,-2 1,3 1,-24 1,33 1,-8 1,2 1,-10 1,12 1,-16 1,-17 1,24 1,-1 1,16 1,-23 1,4 1,-2 1,9 1,-3 1,-7 1,8 1,1 1,11 1,-19 1,10 1,11 1,-28 1,11 1,1 1,-14 1,27 1,-14 1,3 1,-18 1,10 1,-20 1,24 1,-8 1,4 1,-4 1,4 1,4 1,6 1,-13 1,0 1,1 1,4 1,13 1,-9 1,-2 1,15 1,-14 1,-6 1,13 1,4 1,-7 1,-21 1,9 1,30 1,-27 1,2 1,-7 1,11 1,4 1,-13 1,10 1,4 1,-19 1,20 1,-12 1,0 1,-2 1,19 1,5 1,-17 1,-7 1,-7 1,26 1,-14 1,-1 1,10 1,-13 1,13 1,-21 1,25 1,8 1,-28 1,11 1,-1 1,-6 1,-2 1,9 1,-1 1,-27 1,17 1,4 1,-16 1,11 1,2 1,6 1,0 1,12 1,-25 1,7 1,4 1,16 1,-24 1,20 1,-10 1,-2 1,15 1,-14 1,9 1,-18 1,21 1,-10 1,9 1,-18 1,14 1,-5 1,3 1,-21 1,24 1,-10 1,3 1,-13 1,13 1,10 1,-16 1,15 1,0 1,-20 1,12 1,1 1,-13 1,2 1,17 1,-3 1,10 1,-9 1,-3 1,19 1,-13 1,-11 1,-1 1,5 1,1 1,-7 1,4 1,-3 1,9 1,-21 1,12 1,6 1,-3 1,17 1,-5 1,-6 1,-21 1,12 1,-9 1,32 1,-20 1,-5 1,-4 1,5 1,6 1,-7 1,20 1,-8 1,-9 1,-1 1,-1 1,19 1,-6 1,-15 1,8 1,-5 1,-2 1,-14 1,28 1,11 1,-17 1,-11 1,-1 1,-2 1,5 1,9 1,0 1,8 1,-25 1,15 1,15 1,-8 1,-6 1,4 1,-7 1,2 1,9 1,-8 1,3 1,-1 1,-7 1,3 1,10 1,-13 1,18 1,-15 1,18 1,-28 1,7 1,-10 1,38 1,-28 1,11 1,-4 1,-5 1,-4 1,-4 1,8 1,2 1,7 1,-9 1,10 1,-25 1,19 1,3 1,-13 1,7 1,-4 1,10 1,-3 1,14 1,-21 1,1 1,8 1,-4 1,9 1,1 1,-6 1,-5 1,-5 1,4 1,-3 1,12 1,-11 1,10 1,13 1,-22 1,1 1,6 1,3 1,-9 1,-8 1,21 1,-7 1,7 1,-12 1,6 1,0 1,2 1,-1 1,-19 1,5 1,11 1,9 1,-14 1,16 1,-15 1,9 1,-6 1,-16 1,8 1,3 1,9 1,-5 1,5 1,-7 1,1 1,-10 1,10 1,5 1,-13 1,17 1,-15 1,8 1,-21 1,14 1,14 1,-17 1,12 1,-6 1,6 1,2 1,-16 1,10 1,0 1,-3 1,3 1,15 1,-22 1,5 1,22 1,2 1,-33 1,24 1,-5 1,-11 1,-2 1,0 1,3 1,6 1,14 1,-23 1,-6 1,-15 1,28 1,-2 1,10 1,-31 1,20 1,8 1,0 1,1 1,-16 1,9 1,0 1,1 1,3 1,-20 1,19 1,-10 1,13 1,-16 1,10 1,11 1,6 1,-23 1,4 1,1 1,6 1,4 1,-16 1,8 1,-4 1,2 1,8 1,-15 1,-6 1,3 1,9 1,-14 1,28 1,-6 1,-4 1,-10 1,4 1,-10 1,14 1,7 1,-4 1,-9 1,24 1,-24 1,1 1,-3 1,-13 1,21 1,-13 1,0 1,7 1,-10 1,9 1,8 1,-6 1,-5 1,7 1,2 1,12 1,-14 1,2 1,2 1,-2 1,9 1,7 1,-16 1,11 1,-14 1,14 1,-21 1,17 1,-7 1,3 1,8 1,-7 1,-17 1,7 1,8 1,-5 1,1 1,20 1,-17 1,-8 1,7 1,6 1,-1 1,-8 1,-3 1,10 1,-10 1,9 1,4 1,-22 1,-5 1,21 1,-8 1,-1 1,7 1,-7 1,5 1,-13 1,1 1,8 1,4 1,10 1,-10 1,21 1,-26 1,11 1,-5 1,6 1,-8 1,-16 1,14 1,10 1,-9 1,17 1,0 1,-3 1,-10 1,-8 1,4 1,0 1,8 1,-5 1,3 1,-3 1,1 1,5 1,-18 1,2 1,-3 1,25 1,-32 1,-3 1,19 1,10 1,-11 1,-6 1,26 1,-20 1,-8 1,10 1,10 1,-31 1,13 1,13 1,1 1,20 1,-26 1,1 1,0 1,15 1,-13 1,2 1,2 1,-1 1,2 1,2 1,-7 1,10 1,-15 1,2 1,4 1,-14 1,15 1,-2 1,-8 1,20 1,-27 1,11 1,12 1,-16 1,14 1,-19 1,12 1,22 1,-27 1,-6 1,0 1,9 1,-21 1,13 1,3 1,16 1,6 1,-12 1,21 1,-16 1,5 1,-12 1,2 1,5 1,-1 1,3 1,-6 1,3 1,-6 1,-14 1,10 1,10 1,-19 1,23 1,-11 1,-1 1,-13 1,15 1,-12 1,7 1,15 1,-7 1,-9 1,37 1,-19 1,-19 1,8 1,-6 1,19 1,1 1,-25 1,19 1,0 1,-4 1,-10 1,5 1,2 1,-1 1,-5 1,23 1,-25 1,-6 1,11 1,-4 1,8 1,-18 1,10 1,-3 1,2 1,6 1,10 1,-4 1,-7 1,0 1,-13 1,11 1,-2 1,-7 1,20 1,0 1,4 1,-3 1,6 1,-8 1,-12 1,-5 1,19 1,-8 1,-5 1,0 1,-2 1,-9 1,4 1,11 1,-11 1,8 1,-13 1,14 1,12 1,-19 1,14 1,10 1,-24 1,-4 1,14 1,8 1,-19 1,9 1,-1 1,5 1,11 1,-14 1,5 1,-2 1,5 1,-15 1,2 1,-2 1,10 1,-9 1,13 1,13 1,-31 1,18 1,-8 1,-8 1,10 1,7 1,-16 1,17 1,-3 1,-17 1,18 1,-8 1,-10 1,13 1,5 1,9 1,-10 1,-17 1,19 1,0 1,-4 1,-20 1,19 1,-13 1,17 1,-5 1,-16 1,38 1,-25 1,0 1,-6 1,6 1,6 1,-7 1,-1 1,-4 1,19 1,-3 1,-15 1,10 1,-6 1,16 1,7 1,-7 1,-28 1,22 1,-6 1,-26 1,30 1,5 1,-23 1,17 1,0 1,6 1,-28 1,23 1,14 1,-26 1,14 1,-18 1,6 1,4 1,-2 1,5 1,-7 1,19 1,-23 1,18 1,-10 1,2 1,-22 1,23 1,-4 1,-8 1,0 1,14 1,-19 1,18 1,2 1,3 1,-6 1,-3 1,2 1,9 1,-23 1,15 1,-15 1,12 1,-9 1,19 1,-7 1,-3 1,9 1,-19 1,18 1,-25 1,18 1,-1 1,9 1,-29 1,16 1,13 1,-9 1,-11 1,2 1,5 1,-7 1,24 1,-19 1,26 1,-20 1,5 1,-1 1,-3 1,-9 1,21 1,-11 1,3 1,-7 1,9 1,-22 1,17 1,1 1,-6 1,9 1,-16 1,12 1,12 1,-18 1,6 1,-8 1,20 1,4 1,-31 1,16 1,-16 1,14 1,7 1,2 1,-1 1,-21 1,24 1,-16 1,11 1,1 1,8 1,-22 1,12 1,-21 1,21 1,-5 1,6 1,-6 1,-8 1,19 1,-17 1,5 1,24 1,-29 1,14 1,-12 1,9 1,-7 1,2 1,8 1,0 1,4 1,12 1,-11 1,-18 1,13 1,-4 1,-6 1,-7 1,15 1,-1 1,0 1,-26 1,35 1,4 1,-23 1,9 1,-3 1,10 1,-13 1,-9 1,18 1,-10 1,-5 1,14 1,-11 1,6 1,-19 1,22 1,-11 1,1 1,-7 1,11 1,9 1,-16 1,14 1,0 1,-4 1,-4 1,14 1,-2 1,-16 1,-8 1,7 1,-4 1,18 1,-14 1,18 1,-19 1,5 1,18 1,-28 1,10 1,8 1,-22 1,17 1,-16 1,28 1,-8 1,2 1,-15 1,-1 1,-9 1,22 1,-4 1,-13 1,32 1,-8 1,-9 1,-8 1,2 1,8 1,-7 1,4 1,2 1,-15 1,8 1,-3 1,1 1,-5 1,23 1,-8 1,-15 1,14 1,-15 1,14 1,12 1,-7 1,6 1,-22 1,29 1,-15 1,9 1,-5 1,-8 1,-5 1,20 1,-10 1,4 1,-7 1,0 1,3 1,-2 1,-5 1,-10 1,22 1,3 1,-14 1,-2 1,-15 1,1 1,23 1,-5 1,-1 1,25 1,0 1,-22 1,-9 1,5 1,16 1,-15 1,5 1,-5 1,-2 1,-1 1,-16 1,16 1,-7 1,-4 1,10 1,-4 1,7 1,-6 1,2 1,-3 1,14 1,-10 1,-4 1,-2 1,7 1,2 1,-2 1,3 1,-9 1,-3 1,-6 1,23 1,-11 1,-2 1,0 1,-13 1,27 1,16 1,-26 1,-1 1,-10 1,6 1,-6 1,26 1,-24 1,-8 1,14 1,-19 1,22 1,-4 1,-8 1,-10 1,19 1,-4 1,-10 1,30 1,-18 1,-3 1,5 1,-14 1,10 1,9 1,-7 1,-2 1,3 1,-9 1,10 1,1 1,-3 1,-5 1,12 1,-18 1,2 1,32 1,-25 1,11 1,-4 1,-5 1,-1 1,1 1,4 1,-2 1,-10 1,3 1,-1 1,11 1,-4 1,-2 1,-9 1,0 1,-11 1,9 1,16 1,16 1,-46 1,21 1,4 1,-24 1,20 1,14 1,-18 1,12 1,-2 1,-7 1,8 1,0 1,6 1,-19 1,7 1,10 1,-1 1,0 1,0 1,-18 1,-2 1,-3 1,21 1,-21 1,18 1,-14 1,3 1,3 1,4 1,-9 1,-13 1,22 1,-9 1,-12 1,24 1,-9 1,-1 1,3 1,-6 1,-3 1,19 1,-8 1,-6 1,4 1,-4 1,21 1,-20 1,4 1,-3 1,11 1,-17 1,9 1,2 1,2 1,2 1,-20 1,28 1,3 1,-7 1,-25 1,0 1,22 1,-18 1,25 1,0 1,-5 1,-11 1,16 1,-6 1,-1 1,-14 1,10 1,3 1,-9 1,39 1,-53 1,33 1,-7 1,2 1,4 1,-21 1,25 1,-16 1,17 1,-39 1,48 1,-32 1,-6 1,23 1,-6 1,15 1,-16 1,-2 1,15 1,-21 1,22 1,2 1,-4 1,-5 1,2 1,-8 1,25 1,-20 1,-1 1,-4 1,10 1,-7 1,15 1,-25 1,27 1,-6 1,-2 1,-5 1,-13 1,21 1,-2 1,-4 1,2 1,3 1,-10 1,-10 1,14 1,-3 1,-11 1,31 1,-9 1,-10 1,3 1,22 1,-14 1,-10 1,6 1,2 1,-5 1,3 1,9 1,-15 1,13 1,-10 1,-1 1,-1 1,-13 1,21 1,-7 1,-9 1,30 1,1 1,-11 1,-3 1,8 1,-27 1,19 1,5 1,-4 1,2 1,6 1,-17 1,11 1,-3 1,9 1,1 1,-20 1,2 1,15 1,-7 1,-20 1,24 1,11 1,-14 1,-14 1,9 1,0 1,10 1,-13 1,-7 1,14 1,-5 1,0 1,15 1,-9 1,2 1,-7 1,-1 1,7 1,7 1,-20 1,7 1,5 1,-6 1,15 1,-26 1,9 1,2 1,7 1,-3 1,-21 1,18 1,-6 1,22 1,-4 1,-8 1,4 1,-12 1,3 1,6 1,1 1,7 1,-9 1,14 1,0 1,3 1,-16 1,-6 1,0 1,3 1,4 1,-4 1,2 1,-4 1,7 1,14 1,-26 1,17 1,-9 1,-9 1,15 1,2 1,-2 1,-5 1,-2 1,12 1,11 1,-10 1,-21 1,28 1,-18 1,0 1,21 1,2 1,-17 1,-6 1,1 1,7 1,-12 1,20 1,-26 1,21 1,-11 1,-1 1,18 1,-13 1,-2 1,8 1,-8 1,8 1,9 1,-14 1,-1 1,17 1,-12 1,-7 1,-1 1,13 1,-5 1,1 1,4 1,0 1,-12 1,6 1,-7 1,6 1,-3 1,-5 1,1 1,3 1,18 1,-14 1,-19 1,16 1,16 1,-15 1,11 1,-16 1,4 1,-4 1,11 1,3 1,-3 1,-8 1,20 1,-16 1,-4 1,16 1,-9 1,-4 1,-3 1,7 1,-13 1,5 1,4 1,-3 1,1 1,9 1,8 1,-6 1,-23 1,36 1,-3 1,-14 1,-11 1,26 1,-6 1,-12 1,-3 1,-1 1,13 1,-11 1,13 1,0 1,-18 1,16 1,-12 1,0 1,-5 1,28 1,-7 1,-10 1,-7 1,20 1,-7 1,-7 1,19 1,-13 1,-7 1,-11 1,-8 1,33 1,-8 1,-2 1,-1 1,-11 1,4 1,2 1,-3 1,1 1,3 1,13 1,-13 1,20 1,-18 1,0 1,5 1,-10 1,4 1,3 1,-10 1,11 1,-4 1,-1 1,7 1,-18 1,14 1,11 1,-14 1,-5 1,-4 1,19 1,-7 1,-4 1,4 1,6 1,3 1,-8 1,-19 1,34 1,-11 1,-24 1,19 1,5 1,-22 1,33 1,-26 1,10 1,10 1,-12 1,0 1,-11 1,16 1,5 1,3 1,-2 1,-3 1,-6 1,12 1,-14 1,8 1,-14 1,5 1,6 1,6 1,-3 1,-7 1,8 1,8 1,-28 1,15 1,10 1,-5 1,-8 1,8 1,-11 1,3 1,2 1,-16 1,17 1,7 1,-7 1,13 1,-7 1,4 1,-12 1,-6 1,18 1,-21 1,23 1,-16 1,5 1,4 1,-5 1,3 1,1 1,-8 1,7 1,3 1,-8 1,-3 1,2 1,12 1,-9 1,5 1,8 1,-8 1,4 1,-16 1,-1 1,9 1,-8 1,8 1,1 1,-23 1,22 1,-6 1,6 1,0 1,-2 1,0 1,7 1,-17 1,0 1,3 1,14 1,-8" stroke="#3aaa6c" vector-effect="non-scaling-stroke"/>
<path d="M0,1286l1,6 1,24 1,-3 1,-1 1,15 1,-53 1,39 1,6 1,-18 1,22 1,-15 1,15 1,2 1,-9 1,25 1,-12 1,12 1,-8 1,-19 1,-7 1,2 1,-3 1,22 1,6 1,-44 1,28 1,19 1,-3 1,-15 1,-7 1,12 1,-19 1,28 1,20 1,-16 1,-3 1,-15 1,-14 1,33 1,-14 1,-11 1,36 1,-26 1,1 1,12 1,-30 1,23 1,-8 1,14 1,-22 1,15 1,3 1,-20 1,10 1,19 1,-22 1,47 1,-54 1,26 1,-13 1,49 1,-41 1,28 1,-19 1,-19 1,22 1,-11 1,-4 1,26 1,-26 1,8 1,-3 1,-1 1,-1 1,15 1,-16 1,-9 1,29 1,-5 1,-44 1,28 1,4 1,0 1,-5 1,9 1,21 1,-26 1,-5 1,-13 1,17 1,13 1,11 1,-29 1,28 1,8 1,-62 1,16 1,33 1,-27 1,17 1,2 1,-20 1,14 1,14 1,-4 1,-14 1,16 1,-25 1,13 1,-17 1,23 1,-29 1,23 1,4 1,-16 1,18 1,-7 1,14 1,-2 1,-10 1,-4 1,10 1,-12 1,19 1,1 1,4 1,4 1,-31 1,-22 1,16 1,-22 1,30 1,12 1,21 1,-7 1,-30 1,-12 1,7 1,23 1,-11 1,-28 1,12 1,39 1,-23 1,-14 1,36 1,-18 1,23 1,-26 1,-6 1,17 1,-20 1,-1 1,29 1,-20 1,-18 1,-2 1,8 1,58 1,-21 1,-39 1,18 1,14 1,-12 1,-14 1,1 1,15 1,-7 1,3 1,10 1,3 1,-15 1,5 1,0 1,-18 1,4 1,22 1,5 1,-30 1,12 1,-15 1,17 1,0 1,0 1,16 1,-4 1,-35 1,14 1,-15 1,21 1,34 1,-42 1,36 1,-57 1,30 1,-50 1,58 1,9 1,12 1,-23 1,-24 1,17 1,-21 1,16 1,26 1,-29 1,40 1,-25 1,16 1,-33 1,22 1,-19 1,31 1,-59 1,21 1,17 1,-9 1,20 1,-23 1,26 1,-51 1,22 1,-12 1,35 1,-19 1,6 1,21 1,-11 1,9 1,2 1,-20 1,-8 1,-4 1,-17 1,21 1,4 1,8 1,-3 1,20 1,-16 1,-27 1,45 1,-32 1,-24 1,35 1,-25 1,-23 1,26 1,29 1,8 1,-3 1,-14 1,-17 1,4 1,3 1,21 1,-10 1,-9 1,6 1,-27 1,-15 1,24 1,-6 1,32 1,6 1,-43 1,8 1,-28 1,29 1,15 1,-6 1,30 1,-62 1,3 1,29 1,0 1,-17 1,-23 1,25 1,9 1,13 1,-27 1,32 1,-42 1,12 1,-10 1,34 1,-12 1,-23 1,-9 1,11 1,16 1,-12 1,16 1,-22 1,-14 1,15 1,15 1,-5 1,-25 1,1 1,34 1,-3 1,-6 1,-34 1,42 1,-58 1,37 1,-14 1,18 1,-10 1,13 1,4 1,-29 1,19 1,26 1,-52 1,-21 1,21 1,17 1,-13 1,-10 1,50 1,-32 1,-17 1,9 1,0 1,32 1,-16 1,20 1,-39 1,-6 1,-19 1,26 1,26 1,-36 1,-45 1,35 1,-2 1,30 1,-42 1,26 1,-3 1,-1 1,-8 1,11 1,-16 1,-1 1,2 1,-23 1,-1 1,45 1,-5 1,17 1,-18 1,31 1,-87 1,46 1,-12 1,15 1,-24 1,14 1,-11 1,6 1,25 1,-61 1,51 1,-32 1,-14 1,22 1,1 1,-10 1,10 1,2 1,-18 1,37 1,-36 1,24 1,-36 1,57 1,-6 1,-11 1,-22 1,18 1,-39 1,53 1,-41 1,-5 1,-10 1,14 1,-2 1,15 1,5 1,-12 1,11 1,-43 1,30 1,7 1,-40 1,30 1,48 1,-49 1,20 1,-33 1,33 1,-25 1,-8 1,10 1,-11 1,12 1,-15 1,8 1,20 1,-30 1,18 1,-22 1,56 1,-10 1,-24 1,7 1,-35 1,-6 1,22 1,-5 1,-16 1,-5 1,22 1,-16 1,-21 1,-4 1,40 1,0 1,-29 1,23 1,1 1,-33 1,48 1,-63 1,60 1,-2 1,8 1,-38 1,8 1,13 1,-2 1,39 1,-79 1,18 1,49 1,10 1,-61 1,36 1,-4 1,27 1,-51 1,0 1,12 1,4 1,49 1,-17 1,4 1,-17 1,31 1,-9 1,19 1,6 1,7 1,-44 1,3 1,15 1,8 1,21 1,-35 1,2 1,10 1,13 1,-6 1,-9 1,13 1,-12 1,-42 1,9 1,67 1,-6 1,21 1,16 1,-48 1,0 1,5 1,-3 1,22 1,-19 1,3 1,53 1,-59 1,-16 1,34 1,-5 1,-6 1,59 1,-33 1,-38 1,28 1,-3 1,-6 1,-1 1,-25 1,15 1,7 1,24 1,-23 1,29 1,-9 1,13 1,-32 1,16 1,-7 1,21 1,-28 1,45 1,-10 1,-35 1,49 1,-57 1,4 1,22 1,-2 1,23 1,12 1,0 1,16 1,-11 1,-3 1,-18 1,8 1,10 1,-27 1,24 1,-22 1,7 1,53 1,-60 1,32 1,-31 1,36 1,-23 1,17 1,-29 1,8 1,20 1,-1 1,-23 1,7 1,11 1,16 1,-12 1,-13 1,-1 1,18 1,-11 1,35 1,-17 1,15 1,-33 1,6 1,-6 1,28 1,-20 1,6 1,-13 1,6 1,23 1,-9 1,-3 1,18 1,-11 1,-5 1,-26 1,30 1,-3 1,-5 1,18 1,-8 1,34 1,-29 1,8 1,4 1,-28 1,25 1,-35 1,32 1,-32 1,62 1,-56 1,47 1,-18 1,4 1,-11 1,34 1,-8 1,-12 1,-13 1,-1 1,27 1,-8 1,-2 1,5 1,-18 1,10 1,9 1,-33 1,43 1,3 1,-12 1,-13 1,-1 1,-15 1,-8 1,14 1,21 1,21 1,-28 1,14 1,-41 1,32 1,4 1,-11 1,-2 1,38 1,-25 1,0 1,-15 1,-3 1,15 1,-19 1,19 1,8 1,11 1,-39 1,6 1,16 1,-7 1,-9 1,31 1,-11 1,-3 1,-17 1,44 1,-43 1,12 1,14 1,-29 1,35 1,-12 1,-20 1,14 1,7 1,-10 1,29 1,3 1,-16 1,3 1,-4 1,-6 1,-6 1,1 1,-4 1,8 1,10 1,-35 1,17 1,10 1,-7 1,39 1,-6 1,-65 1,21 1,15 1,10 1,-16 1,-1 1,-3 1,8 1,17 1,-25 1,34 1,-52 1,31 1,1 1,6 1,-3 1,-3 1,3 1,-26 1,38 1,-3 1,-31 1,50 1,-26 1,-11 1,3 1,4 1,7 1,28 1,-40 1,-31 1,22 1,22 1,2 1,16 1,-30 1,9 1,10 1,22 1,-31 1,2 1,21 1,-25 1,-15 1,-7 1,5 1,4 1,-6 1,30 1,7 1,-38 1,6 1,17 1,-9 1,9 1,18 1,-42 1,20 1,-10 1,19 1,-40 1,26 1,0 1,-3 1,22 1,-30 1,14 1,-7 1,10 1,-16 1,5 1,0 1,7 1,-3 1,13 1,-21 1,6 1,8 1,-1 1,9 1,19 1,-20 1,-18 1,15 1,-7 1,3 1,-7 1,12 1,-2 1,6 1,-4 1,-23 1,7 1,20 1,-7 1,-15 1,10 1,15 1,-30 1,22 1,17 1,-4 1,-24 1,13 1,6 1,-19 1,17 1,3 1,-36 1,21 1,-11 1,18 1,14 1,-15 1,-13 1,-1 1,6 1,8 1,-14 1,-7 1,28 1,9 1,-3 1,-33 1,49 1,-38 1,20 1,-12 1,2 1,-35 1,9 1,8 1,6 1,24 1,-19 1,6 1,-26 1,41 1,-29 1,6 1,-11 1,11 1,-6 1,-24 1,64 1,-36 1,24 1,-15 1,-10 1,-15 1,0 1,18 1,8 1,-28 1,47 1,-35 1,16 1,-3 1,13 1,-16 1,-19 1,2 1,2 1,24 1,15 1,-25 1,26 1,-24 1,-1 1,13 1,-29 1,22 1,8 1,-30 1,27 1,-15 1,11 1,-18 1,-6 1,-3 1,-8 1,16 1,15 1,-5 1,14 1,-5 1,-4 1,4 1,-3 1,-8 1,20 1,-7 1,-20 1,11 1,-6 1,-10 1,6 1,13 1,-8 1,12 1,-10 1,-3 1,5 1,-1 1,12 1,-20 1,-13 1,3 1,17 1,-20 1,6 1,47 1,-28 1,-28 1,27 1,6 1,-43 1,29 1,2 1,3 1,-4 1,-2 1,34 1,-19 1,-31 1,9 1,17 1,-12 1,-12 1,40 1,-38 1,12 1,8 1,-21 1,-10 1,36 1,-2 1,-16 1,-6 1,9 1,11 1,-20 1,4 1,-1 1,12 1,-6 1,-23 1,13 1,8 1,1 1,-11 1,17 1,-38 1,14 1,-5 1,11 1,-6 1,11 1,14 1,-25 1,7 1,-15 1,-12 1,13 1,6 1,10 1,-10 1,0 1,-10 1,26 1,-10 1,16 1,-6 1,4 1,-44 1,45 1,-31 1,20 1,17 1,-31 1,8 1,24 1,3 1,-40 1,24 1,-22 1,42 1,-2 1,-18 1,-13 1,18 1,-33 1,60 1,-19 1,-10 1,3 1,14 1,-17 1,-4 1,-7 1,10 1,10 1,-18 1,-13 1,24 1,-22 1,22 1,-11 1,-2 1,35 1,-27 1,12 1,13 1,-5 1,-21 1,5 1,28 1,-25 1,-6 1,-4 1,-18 1,36 1,-22 1,-17 1,39 1,-36 1,16 1,5 1,23 1,-7 1,-5 1,4 1,6 1,-17 1,11 1,16 1,-3 1,-27 1,25 1,-25 1,32 1,-32 1,-16 1,21 1,0 1,9 1,-42 1,40 1,-1 1,19 1,-28 1,40 1,-32 1,-2 1,0 1,6 1,-1 1,-6 1,20 1,-43 1,50 1,-15 1,-32 1,38 1,6 1,0 1,-12 1,-4 1,2 1,-41 1,41 1,-6 1,5 1,-27 1,30 1,-8 1,21 1,-29 1,-1 1,-4 1,46 1,-7 1,-44 1,46 1,-23 1,3 1,-5 1,-5 1,-11 1,5 1,32 1,-13 1,7 1,-3 1,-16 1,-15 1,54 1,-29 1,1 1,8 1,-16 1,15 1,-3 1,9 1,-17 1,6 1,30 1,-19 1,-26 1,17 1,-3 1,-13 1,21 1,4 1,3 1,13 1,-32 1,1 1,4 1,23 1,-2 1,-16 1,15 1,-1 1,-27 1,-10 1,-7 1,16 1,37 1,-14 1,15 1,-41 1,10 1,8 1,3 1,20 1,-10 1,-2 1,-11 1,-6 1,14 1,-8 1,-18 1,13 1,12 1,-7 1,-3 1,16 1,-31 1,-2 1,28 1,-6 1,-9 1,19 1,-6 1,-11 1,10 1,-15 1,-4 1,13 1,17 1,8 1,-20 1,-24 1,3 1,-6 1,47 1,-28 1,-5 1,26 1,-43 1,30 1,-18 1,18 1,14 1,-9 1,-7 1,-14 1,26 1,-21 1,14 1,-17 1,11 1,-4 1,1 1,18 1,-20 1,-6 1,-11 1,38 1,-35 1,20 1,-5 1,7 1,19 1,-15 1,-26 1,13 1,-11 1,11 1,19 1,-19 1,-6 1,0 1,19 1,-21 1,34 1,-31 1,18 1,7 1,-27 1,17 1,-7 1,-3 1,-3 1,4 1,14 1,-23 1,9 1,6 1,16 1,-4 1,-13 1,-9 1,24 1,-18 1,-10 1,10 1,22 1,14 1,-21 1,-11 1,-23 1,32 1,6 1,3 1,-27 1,-7 1,37 1,-10 1,-16 1,11 1,13 1,-17 1,-16 1,-4 1,38 1,-8 1,0 1,-18 1,-10 1,18 1,16 1,-10 1,-7 1,11 1,-22 1,11 1,8 1,-26 1,31 1,-25 1,34 1,-1 1,-17 1,1 1,-3 1,6 1,7 1,-1 1,3 1,-12 1,3 1,-12 1,-15 1,32 1,-1 1,-11 1,-1 1,-22 1,62 1,-25 1,2 1,-2 1,3 1,9 1,-12 1,-6 1,-3 1,-10 1,23 1,-44 1,21 1,12 1,-16 1,14 1,-15 1,16 1,-3 1,12 1,21 1,-51 1,22 1,-1 1,-20 1,17 1,3 1,-15 1,-6 1,2 1,13 1,-34 1,29 1,-4 1,-1 1,24 1,-11 1,-13 1,-2 1,12 1,15 1,-3 1,-26 1,31 1,-58 1,35 1,-1 1,3 1,-10 1,17 1,9 1,-12 1,8 1,-6 1,-1 1,-2 1,17 1,-11 1,11 1,-33 1,-1 1,41 1,1 1,-51 1,37 1,-9 1,0 1,-23 1,5 1,21 1,-1 1,4 1,-16 1,7 1,8 1,-12 1,-10 1,11 1,4 1,24 1,6 1,-37 1,-29 1,43 1,-12 1,4 1,9 1,-10 1,22 1,-31 1,16 1,-14 1,8 1,7 1,15 1,-17 1,19 1,1 1,-32 1,29 1,-26 1,1 1,39 1,-23 1,-21 1,-2 1,6 1,-11 1,8 1,13 1,-9 1,-3 1,4 1,19 1,-16 1,-10 1,30 1,-6 1,-17 1,-1 1,25 1,-16 1,-14 1,20 1,-42 1,13 1,18 1,-24 1,35 1,2 1,6 1,-20 1,-31 1,16 1,-5 1,19 1,-13 1,-6 1,44 1,-9 1,-13 1,-1 1,15 1,-24 1,30 1,-29 1,1 1,21 1,2 1,-12 1,4 1,5 1,-7 1,-7 1,-12 1,9 1,-8 1,-6 1,23 1,-9 1,-30 1,23 1,11 1,4 1,-14 1,-2 1,12 1,3 1,-10 1,-7 1,8 1,-23 1,1 1,7 1,26 1,-25 1,-1 1,33 1,-20 1,-17 1,30 1,-20 1,-3 1,-2 1,11 1,-4 1,-8 1,41 1,-28 1,1 1,-6 1,18 1,-2 1,-33 1,12 1,-15 1,14 1,-14 1,23 1,-19 1,18 1,1 1,4 1,-33 1,44 1,2 1,-14 1,-18 1,32 1,-10 1,-31 1,10 1,27 1,25 1,-47 1,8 1,-4 1,3 1,7 1,-2 1,1 1,-15 1,23 1,-20 1,24 1,-5 1,-11 1,-8 1,-1 1,-17 1,41 1,9 1,-16 1,-11 1,9 1,-25 1,21 1,11 1,-11 1,-10 1,25 1,-7 1,11 1,-12 1,3 1,-17 1,12 1,-2 1,-21 1,3 1,19 1,-3 1,1 1,-10 1,-12 1,0 1,33 1,-18 1,11 1,-10 1,-23 1,21 1,-7 1,-4 1,21 1,-7 1,-4 1,6 1,-7 1,20 1,-29 1,36 1,-23 1,-6 1,7 1,14 1,-23 1,-4 1,14 1,-26 1,45 1,-11 1,-3 1,3 1,17 1,-39 1,8 1,18 1,-27 1,22 1,-7 1,1 1,2 1,-2 1,21 1,-46 1,15 1,5 1,-1 1,17 1,-3 1,-23 1,13 1,-5 1,50 1,-44 1,-24 1,20 1,17 1,-23 1,34 1,-18 1,-9 1,23 1,-36 1,23 1,-21 1,17 1,-7 1,-8 1,-9 1,6 1,13 1,27 1,-53 1,18 1,-8 1,32 1,-32 1,38 1,-11 1,-40 1,15 1,4 1,18 1,-3 1,4 1,20 1,-17 1,-12 1,5 1,-27 1,2 1,14 1,12 1,-15 1,-4 1,32 1,-6 1,-44 1,33 1,0 1,-3 1,-12 1,10 1,8 1,4 1,8 1,-15 1,3 1,-8 1,-19 1,-14 1,55 1,-33 1,14 1,9 1,-11 1,3 1,-30 1,28 1,-14 1,38 1,-4 1,-31 1,0 1,-10 1,32 1,-37 1,28 1,-3 1,19 1,-27 1,0 1,26 1,-23 1,9 1,3 1,-7 1,5 1,-19 1,11 1,-20 1,27 1,4 1,-4 1,-13 1,42 1,-22 1,-31 1,-12 1,29 1,-16 1,41 1,-47 1,-37 1,-6 1,54 1,-16 1,1 1,-2 1,35 1,-33 1,20 1,14 1,-40 1,-8 1,14 1,11 1,-29 1,32 1,-38 1,47 1,-16 1,6 1,10 1,-36 1,13 1,-11 1,7 1,2 1,17 1,-9 1,-18 1,23 1,-27 1,6 1,2 1,8 1,-27 1,27 1,-10 1,-11 1,31 1,-27 1,12 1,-2 1,-29 1,29 1,2 1,-3 1,4 1,-23 1,-4 1,6 1,-6 1,37 1,10 1,-39 1,-20 1,-4 1,31 1,-7 1,-20 1,2 1,0 1,7 1,1 1,3 1,-3 1,-11 1,-17 1,12 1,-2 1,10 1,30 1,-21 1,-44 1,16 1,-3 1,29 1,-1 1,-15 1,-5 1,4 1,16 1,2 1,0 1,-1 1,-23 1,0 1,4 1,50 1,-43 1,-7 1,-24 1,36 1,-22 1,3 1,3 1,-3 1,-29 1,45 1,-26 1,7 1,-16 1,38 1,-25 1,5 1,-9 1,28 1,-28 1,31 1,-11 1,2 1,-29 1,18 1,-22 1,43 1,-37 1,-5 1,7 1,-13 1,23 1,-24 1,18 1,-43 1,33 1,-1 1,-13 1,21 1,-29 1,28 1,-37 1,-2 1,13 1,18 1,-6 1,-28 1,32 1,-33 1,8 1,15 1,-38 1,23 1,-12 1,-6 1,-19 1,15 1,20 1,-40 1,-2 1,13 1,16 1,-12 1,-7 1,1 1,10 1,-31 1,39 1,2 1,-31 1,-6 1,14 1,6 1,-33 1,78 1,-101 1,49 1,13 1,-32 1,6 1,-11 1,4 1,18 1,-6 1,39 1,-19 1,19 1,7 1,-19 1,1 1,-7 1,23 1,-6 1,-6 1,-7 1,39 1,9 1,-48 1,51 1,-5 1,-24 1,24 1,-8 1,-24 1,27 1,8 1,-27 1,33 1,-21 1,22 1,-6 1,-21 1,-15 1,30 1,35 1,-26 1,10 1,31 1,-9 1,-36 1,-35 1,57 1,-36 1,33 1,5 1,-19 1,9 1,0 1,-1 1,27 1,-18 1,9 1,17 1,-62 1,39 1,-9 1,-18 1,13 1,14 1,-10 1,0 1,38 1,-55 1,26 1,5 1,2 1,19 1,-18 1,-5 1,10 1,-25 1,27 1,-20 1,27 1,1 1,-19 1,-15 1,32 1,6 1,-24 1,-7 1,-4 1,15 1,9 1,1 1,-4 1,13 1,2 1,-19 1,43 1,-49 1,13 1,6 1,19 1,-15 1,-14 1,19 1,4 1,-17 1,14 1,-13 1,-8 1,2 1,-16 1,16 1,-15 1,42 1,-5 1,-45 1,15 1,23 1,8 1,15 1,-20 1,-12 1,7 1,20 1,1 1,2 1,17 1,-54 1,42 1,-8 1,16 1,-25 1,-20 1,36 1,-3 1,-17 1,19 1,16 1,-10 1,-11 1,-14 1,43 1,-35 1,-9 1,30 1,-7 1,-22 1,38 1,-37 1,9 1,10 1,5 1,-12 1,24 1,-24 1,26 1,-9 1,-15 1,-26 1,-2 1,34 1,-12 1,-9 1,32 1,-29 1,-6 1,11 1,3 1,16 1,-30 1,5 1,1 1,-27 1,24 1,7 1,-8 1,28 1,-1 1,-1 1,-23 1,4 1,-10 1,-11 1,42 1,3 1,-18 1,25 1,-18 1,15 1,-30 1,-11 1,35 1,-10 1,0 1,-11 1,15 1,37 1,-50 1,32 1,-5 1,-18 1,-14 1,16 1,5 1,-10 1,-19 1,10 1,19 1,-3 1,4 1,-15 1,10 1,2 1,1 1,0 1,-43 1,28 1,11 1,5 1,20 1,-31 1,-2 1,5 1,-16 1,-8 1,23 1,33 1,-42 1,7 1,6 1,3 1,12 1,-11 1,-5 1,-2 1,4 1,14 1,-34 1,25 1,-14 1,9 1,-7 1,9 1,11 1,-32 1,-8 1,-14 1,40 1,-10 1,18 1,-30 1,2 1,-2 1,11 1,-4 1,11 1,1 1,-9 1,-11 1,23 1,-8 1,-1 1,31 1,-51 1,3 1,-1 1,52 1,-40 1,38 1,-19 1,-11 1,12 1,-37 1,30 1,-21 1,28 1,-18 1,-2 1,13 1,0 1,2 1,25 1,-20 1,-30 1,8 1,25 1,-2 1,-22 1,10 1,12 1,-34 1,7 1,14 1,-24 1,7 1,7 1,-7 1,10 1,21 1,-16 1,-12 1,48 1,-18 1,-38 1,15 1,-2 1,-4 1,23 1,-8 1,24 1,-28 1,36 1,-53 1,14 1,28 1,-15 1,-29 1,48 1,-17 1,-3 1,2 1,0 1,-12 1,-23 1,45 1,-23 1,-4 1,16 1,-1 1,7 1,-17 1,-14 1,24 1,-29 1,9 1,4 1,-1 1,26 1,-39 1,36 1,28 1,-32 1,-11 1,-12 1,10 1,-14 1,26 1,-4 1,4 1,-25 1,49 1,-16 1,-18 1,-6 1,15 1,-14 1,21 1,4 1,-26 1,-9 1,-15 1,43 1,-14 1,-10 1,8 1,34 1,-35 1,-19 1,46 1,-27 1,-17 1,40 1,-42 1,7 1,20 1,-5 1,-18 1,19 1,-16 1,26 1,-23 1,16 1,-26 1,43 1,-35 1,26 1,-15 1,-17 1,30 1,-5 1,-34 1,36 1,10 1,-26 1,14 1,-3 1,21 1,-13 1,3 1,-5 1,-20 1,20 1,-38 1,51 1,-10 1,-16 1,0 1,-6 1,28 1,-2 1,-6 1,-10 1,4 1,7 1,-15 1,5 1,-8 1,-8 1,41 1,-55 1,12 1,3 1,6 1,3 1,20 1,-2 1,13 1,-26 1,-6 1,-7 1,-3 1,11 1,31 1,-31 1,8 1,-34 1,31 1,18 1,-9 1,-13 1,4 1,10 1,-12 1,-5 1,5 1,3 1,28 1,-38 1,17 1,-28 1,34 1,-10 1,-22 1,38 1,-11 1,10 1,2 1,3 1,-31 1,-18 1,21 1,9 1,-20 1,21 1,6 1,-33 1,41 1,6 1,-17 1,-7 1,-3 1,4 1,-14 1,30 1,-24 1,14 1,-18 1,-7 1,19 1,-17 1,7 1,-11 1,1 1,21 1,10 1,-10 1,4 1,-8 1,10 1,-29 1,38 1,-15 1,-18 1,16 1,-40 1,22 1,2 1,26 1,1 1,-33 1,12 1,16 1,-22 1,9 1,-3 1,-9 1,50 1,-28 1,-5 1,-1 1,-17 1,35 1,-12 1,-25 1,1 1,23 1,-18 1,14 1,6 1,-12 1,30 1,-23 1,25 1,-26 1,5 1,-19 1,-3 1,19 1,19 1,-34 1,21 1,-10 1,4 1,-1 1,-6 1,-7 1,55 1,-81 1,21 1,17 1,-3 1,-5 1,-26 1,41 1,-17 1,7 1,-21 1,-11 1,-22 1,68 1,-9 1,-1 1,-19 1,-4 1,-10 1,14 1,9 1,-27 1,20 1,28 1,-56 1,37 1,-33 1,23 1,29 1,4 1,-34 1,-5 1,11 1,-28 1,29 1,41 1,-36 1,-1 1,4 1,20 1,-38 1,32 1,-5 1,-17 1,-9 1,19 1,-19 1,23 1,10 1,8 1,-39 1,32 1,-26 1,-9 1,13 1,5 1,5 1,-31 1,-1 1,2 1,-7 1,19 1,-13 1,1 1,12 1,-13 1,49 1,-9 1,-40 1,63 1,-31 1,-25 1,13 1,15 1,-31 1,36 1,-33 1,-6 1,20 1,-39 1,38 1,11 1,12 1,-6 1,1 1,-27 1,-24 1,29 1,-6 1,-2 1,10 1,8 1,3 1,-12 1,10 1,-26 1,-16 1,35 1,7 1,15 1,-31 1,7 1,-4 1,7 1,27 1,-14 1,-18 1,6 1,-7 1,-7 1,-9 1,40 1,-15 1,-11 1,-11 1,12 1,-20 1,19 1,8 1,13 1,27 1,-44 1,-35 1,52 1,-27 1,21 1,-37 1,23 1,-5 1,-1 1,-11 1,16 1,-11 1,-22 1,31 1,-6 1,-8 1,-1 1,24 1,-10 1,-9 1,31 1,-15 1,-16 1,-7 1,28 1,-20 1,-8 1,28 1,-32 1,49 1,-25 1,-7 1,-15 1,15 1,-24 1,53 1,-26 1,1 1,7 1,-48 1,63 1,-21 1,-18 1,46 1,-44 1,3 1,28 1,-8 1,-20 1,47 1,-39 1,2 1,18 1,-14 1,-7 1,7 1,-21 1,-29 1,39 1,-2 1,5 1,-32 1,58 1,-47 1,1 1,11 1,-22 1,28 1,-25 1,22 1,-31 1,27 1,1 1,22 1,-42 1,24 1,-21 1,42 1,-14 1,-4 1,10 1,-18 1,20 1,-45 1,35 1,12 1,-26 1,26 1,-27 1,11 1,-10 1,9 1,27 1,-27 1,20 1,-19 1,-30 1,38 1,-15 1,12 1,-18 1,37 1,6 1,-13 1,-9 1,2 1,-1 1,-18 1,6 1,-4 1,-20 1,29 1,1 1,-10 1,1 1,23 1,8 1,-4 1,6 1,-30 1,-12 1,6 1,22 1,-1 1,-31 1,34 1,-11 1,-26 1,31 1,-23 1,-3 1,19 1,-3 1,-4 1,0 1,-5 1,27 1,-38 1,-11 1,23 1,-15 1,-12 1,7 1,19 1,-22 1,40 1,-31 1,11 1,-6 1,12 1,1 1,-30 1,40 1,-11 1,1 1,14 1,-47 1,8 1,5 1,-11 1,-3 1,36 1,-29 1,17 1,-7 1,-3 1,7 1,-41 1,52 1,-31 1,20 1,-26 1,18 1,5 1,-21 1,-15 1,37 1,-3 1,-9 1,-6 1,-16 1,35 1,-17 1,-18 1,-20 1,40 1,8 1,-40 1,50 1,-38 1,50 1,-59 1,43 1,-3 1,4 1,-59 1,25 1,-6 1,-7 1,36 1,0 1,-54 1,54 1,12 1,-45 1,24 1,-54 1,42 1,0 1,-2 1,2 1,-20 1,12 1,27 1,-13 1,-10 1,10 1,5 1,34 1,-34 1,-6 1,-11 1,-14 1,-7 1,1 1,0 1,8 1,43 1,-88 1,71 1,-15 1,-8 1,4 1,-19 1,-4 1,31 1,-26 1,28 1,-6 1,-57 1,62 1,-31 1,-18 1,41 1,10 1,0 1,-34 1,18 1,-11 1,1 1,-23 1,77 1,-75 1,47 1,-2 1,10 1,8 1,-39 1,2 1,17 1,-15 1,1 1,-17 1,13 1,-13 1,20 1,-8 1,-11 1,16 1,-1 1,-12 1,-3 1,-30 1,26 1,6 1,11 1,-36 1,32 1,9 1,17 1,-30 1,13 1,-26 1,15 1,-6 1,-3 1,-12 1,4 1,30 1,-6 1,-6 1,-4 1,-7 1,-34 1,29 1,16 1,-27 1,19 1,-13 1,25 1,-19 1,-11 1,27 1,-36 1,40 1,-39 1,11 1,46 1,-33 1,24 1,-11 1,2 1,11 1,-77 1,42 1,18 1,3 1,-24 1,45 1,-53 1,35 1,4 1,-16 1,-3 1,3 1,21 1,-15 1,-14 1,-36 1,76 1,-31 1,-9 1,6 1,1 1,-9 1,26 1,-24 1,23 1,-19 1,3 1,-5 1,-33 1,55 1,-33 1,31 1,-47 1,29 1,7 1,-1 1,-34 1,-14 1,53 1,-5 1,3 1,-14 1,29 1,-18 1,-31 1,12 1,32 1,-17 1,-15 1,10 1,-11 1,52 1,-41 1,9 1,10 1,-5 1,35 1,-33 1,-25 1,17 1,3 1,-4 1,-16 1,26 1,-6 1,10 1,-18 1,-10 1,12 1,-14 1,21 1,-16 1,2 1,14 1,19 1,-25 1,34 1,-24 1,-52 1,5 1,52 1,-16 1,18 1,-27 1,17 1,-15 1,-25 1,16 1,23 1,16 1,-11 1,18 1,-54 1,30 1,-3 1,16 1,-14 1,8 1,2 1,4 1,-4 1,-10 1,50 1,-63 1,41 1,28 1,-24 1,10 1,-27 1,17 1,-32 1,82 1,-49 1,8 1,7 1,-36 1,45 1,-6 1,-27 1,34 1,-9 1,-40 1,31 1,3 1,-5 1,16 1,20 1,-7 1,-17 1,4 1,5 1,13 1,-48 1,49 1,-40 1,57 1,-23 1,2 1,14 1,7 1,6 1,-5 1,-9 1,-18 1,16 1,-44 1,31 1,9 1,-18 1,10 1,15 1,-20 1,25 1,9 1,-24 1,-14 1,29 1,-30 1,17 1,-6 1,14 1,-30 1,31 1,10 1,-6 1,-15 1,39 1,4 1,-51 1,-4 1,26 1,-18 1,13 1,10 1,-9 1,18 1,-18 1,2 1,1 1,43 1,-37 1,13 1,-30 1,14 1,30 1,-32 1,23 1,-7 1,21 1,-41 1,29 1,-27 1,11 1,10 1,12 1,-26 1,3 1,-22 1,41 1,1 1,-18 1,-4 1,10 1,-30 1,62 1,-52 1,43 1,4 1,-28 1,-1 1,24 1,-17 1,-16 1,-8 1,26 1,17 1,-34 1,59 1,-79 1,16 1,26 1,1 1,-17 1,18 1,-29 1,-4 1,35 1,-22 1,-26 1,10 1,41 1,-14 1,12 1,9 1,-33 1,14 1,4 1,-16 1,6 1,22 1,-27 1,19 1,10 1,-15 1,-8 1,22 1,-6 1,-7 1,6 1,-25 1,43 1,13 1,-45 1,12 1,7 1,-13 1,13 1,-30 1,32 1,7 1,-14 1,-11 1,13 1,-2 1,1 1,-12 1,11 1,-2 1,3 1,-3 1,30 1,-10 1,-28 1,31 1,-1 1,-7 1,-6 1,-10 1,5 1,13 1,-3 1,-5 1,-3 1,6 1,-40 1,23 1,6 1,7 1,22 1,-35 1,12 1,-13 1,0 1,31 1,-28 1,-10 1,6 1,3 1,20 1,-12 1,-32 1,25 1,17 1,-14 1,-14 1,23 1,-10 1,14 1,-8 1,10 1,-17 1,-14 1,25 1,-2 1,2 1,-8 1,26 1,12 1,-47 1,12 1,36 1,-32 1,-12 1,22 1,-24 1,2 1,6 1,23 1,-32 1,14 1,26 1,-29 1,19 1,-9 1,-6 1,4 1,-27 1,-17 1,64 1,-36 1,40 1,-48 1,-16 1,28 1,19 1,-23 1,-4 1,4 1,3 1,6 1,23 1,-13 1,-5 1,17 1,-6 1,14 1,-29 1,-5 1,10 1,-36 1,52 1,-46 1,37 1,-6 1,-2 1,-29 1,17 1,-25 1,33 1,-25 1,34 1,-37 1,31 1,-29 1,21 1,4 1,-36 1,42 1,-20 1,-8 1,-9 1,40 1,-8 1,-38 1,55 1,-46 1,0 1,3 1,11 1,12 1,16 1,-37 1,22 1,3 1,-11 1,3 1,27 1,-41 1,-3 1,-2 1,35 1,0 1,-53 1,40 1,-19 1,27 1,-17 1,-23 1,7 1,-2 1,9 1,31 1,-29 1,-10 1,-7 1,-20 1,36 1,18 1,-28 1,36 1,-14 1,1 1,-22 1,-32 1,61 1,-17 1,12 1,-53 1,72 1,-19 1,-47 1,-6 1,24 1,26 1,-27 1,20 1,-23 1,30 1,-21 1,-9 1,-1 1,-8 1,-1 1,9 1,6 1,-11 1,-18 1,40 1,-15 1,9 1,14 1,-20 1,-6 1,14 1,10 1,-40 1,35 1,3 1,-2 1,6 1,-29 1,14 1,2 1,-16 1,3 1,6 1,20 1,-36 1,24 1,5 1,2 1,20 1,-24 1,-27 1,42 1,-3 1,-20 1,4 1,9 1,19 1,-42 1,32 1,-40 1,55 1,-12 1,-10 1,-2 1,-33 1,35 1,-11 1,3 1,23 1,13 1,-25 1,-26 1,66 1,-54 1,-30 1,69 1,-30 1,2 1,-6 1,-5 1,4 1,-8 1,10 1,24 1,-21 1,-28 1,30 1,-14 1,-8 1,47 1,-37 1,19 1,28 1,-44 1,14 1,-16 1,30 1,-42 1,22 1,10 1,-7 1,-19 1,2 1,2 1,11 1,-8 1,14 1,7 1,3 1,-32 1,21 1,35 1,-28 1,-11 1,-30 1,37 1,-10 1,31 1,-34 1,20 1,-12 1,15 1,2 1,-26 1,23 1,-29 1,36 1,-20 1,18 1,-29 1,39 1,-26 1,-11 1,34 1,-20 1,2 1,25 1,-35 1,6 1,-6 1,19 1,-9 1,-12 1,14 1,1 1,10 1,-9 1,-22 1,31 1,-24 1,23 1,-11 1,29 1,-17 1,27 1,-37 1,11 1,27 1,-49 1,33 1,-20 1,6 1,11 1,-4 1,-37 1,17 1,1 1,5 1,5 1,17 1,-22 1,-7 1,39 1,-17 1,-42 1,24 1,8 1,-8 1,6 1,-6 1,22 1,-21 1,16 1,-41 1,46 1,-26 1,23 1,-16 1,14 1,-32 1,8 1,24 1,11 1,-19 1,-12 1,-33 1,32 1,8 1,11 1,-17 1,7 1,-5 1,1 1,-34 1,59 1,-11 1,-7 1,-1 1,1 1,6 1,-23 1,15 1,5 1,-21 1,11 1,18 1,1 1,-36 1,51 1,-7 1,-13 1,-20 1,9 1,23 1,-24 1,-10 1,13 1,-5 1,30 1,-25 1,-1 1,5 1,-9 1,-11 1,22 1,-19 1,11 1,-26 1,3 1,33 1,-8 1,-7 1,4 1,-16 1,51 1,-23 1,-18 1,-5 1,0 1,14 1,19 1,-16 1,18 1,-60 1,20 1,3 1,9 1,-9 1,-14 1,40 1,-8 1,-1 1,-17 1,-15 1,29 1,4 1,-18 1,-15 1,28 1,-29 1,-2 1,5 1,-2 1,-3 1,5 1,12 1,12 1,23 1,-37 1,0 1,-19 1,17 1,-20 1,17 1,-2 1,8 1,-14 1,-20 1,37 1,-13 1,-31 1,64 1,-3 1,-13 1,-24 1,-6 1,42 1,-9 1,-24 1,-2 1,-7 1,42 1,-28 1,23 1,-16 1,24 1,13 1,-40 1,-14 1,-11 1,27 1,-20 1,18 1,3 1,-10 1,-19 1,5 1,43 1,-35 1,-11 1,-7 1,30 1,13 1,-37 1,10 1,-2 1,1 1,5 1,13 1,-38 1,6 1,10 1,12 1,-1 1,-11 1,20 1,-42 1,48 1,-49 1,26 1,46 1,-23 1,-21 1,16 1,-10 1,20 1,-2 1,-2 1,-15 1,-26 1,42 1,-57 1,49 1,-9 1,-4 1,-21 1,19 1,-25 1,18 1,10 1,-25 1,-27 1,28 1,-5 1,34 1,0 1,-5 1,-28 1,51 1,-29 1,7 1,30 1,-19 1,-19 1,-2 1,10 1,7 1,2 1,-26 1,30 1,-3 1,-19 1,-6 1,44 1,-33 1,-16 1,7 1,11 1,0 1,20 1,-4 1,-26 1,10 1,-22 1,18 1,8 1,-13 1,42 1,-12 1,-41 1,19 1,23 1,-30 1,17 1,-3 1,16 1,-32 1,17 1,5 1,28 1,-46 1,39 1,-26 1,25 1,-27 1,40 1,-22 1,-12 1,10 1,7 1,7 1,-21 1,26 1,-18 1,7 1,1 1,15 1,-33 1,15 1,21 1,-30 1,-32 1,47 1,9 1,0 1,-30 1,21 1,-13 1,-6 1,2 1,19 1,2 1,-8 1,18 1,-41 1,16 1,8 1,-10 1,0 1,3 1,6 1,-3 1,5 1,1 1,-9 1,11 1,34 1,-3 1,-24 1,-15 1,17 1,22 1,-33 1,24 1,-20 1,-16 1,31 1,-37 1,33 1,24 1,-25 1,-19 1,12 1,7 1,8 1,-21 1,-4 1,0 1,15 1,-25 1,9 1,14 1,-3 1,9 1,-39 1,38 1,4 1,-15 1,-12 1,4 1,20 1,-13 1,-5 1,4 1,-18 1,-4 1,43 1,-25 1,-7 1,12 1,17 1,-34 1,7 1,8 1,30 1,-25 1,1 1,-19 1,22 1,12 1,-8 1,-24 1,20 1,1 1,7 1,-7 1,-36 1,22 1,18 1,-13 1,3 1,25 1,-51 1,56 1,-29 1,-9 1,31 1,-5 1,-22 1,47 1,-40 1,-9 1,14 1,-19 1,-5 1,6 1,-7 1,30 1,-10 1,-18 1,28 1,-5 1,-5 1,17 1,-16 1,4 1,14 1,-37 1,25 1,15 1,-52 1,35 1,11 1,-24 1,23 1,-7 1,-13 1,-12 1,5 1,27 1,3 1,6 1,-3 1,-42 1,34 1,-43 1,29 1,-18 1,-16 1,41 1,-4 1,-20 1,-8 1,31 1,-22 1,7 1,-2 1,-5 1,11 1,-20 1,48 1,-62 1,20 1,8 1,24 1,-8 1,1 1,-6 1,1 1,4 1,3 1,13 1,-49 1,22 1,-4 1,18 1,12 1,-52 1,55 1,-26 1,-20 1,0 1,19 1,4 1,-15 1,-12 1,31 1,10 1,3 1,-34 1,35 1,-34 1,-20 1,19 1,36 1,-48 1,-2 1,10 1,21 1,-15 1,6 1,11 1,-21 1,10 1,23 1,-15 1,-26 1,8 1,25 1,-24 1,1 1,10 1,32 1,-48 1,-28 1,37 1,16 1,-17 1,0 1,-9 1,-5 1,32 1,-47 1,36 1,-4 1,1 1,-3 1,6 1,-8 1,-10 1,17 1,0 1,-12 1,-19 1,28 1,-6 1,-29 1,8 1,6 1,25 1,-42 1,21 1,26 1,-35 1,24 1,-4 1,-40 1,38 1,-31 1,55 1,13 1,-28 1,5 1,13 1,-53 1,40 1,2 1,-25 1,24 1,0 1,-31 1,-6 1,1 1,10 1,0 1,5 1,42 1,-31 1,-21 1,-14 1,49 1,-28 1,8 1,4 1,-2 1,-3 1,16 1,-5 1,-23 1,20 1,-28 1,26 1,-32 1,5 1,-2 1,16 1,-5 1,-46 1,56 1,-8 1,-18 1,19 1,10 1,-22 1,4 1,30 1,-34 1,-10 1,-1 1,14 1,27 1,-32 1,65 1,-33 1,-3 1,-6 1,-22 1,15 1,11 1,-32 1,56 1,1 1,-21 1,-25 1,27 1,-4 1,0 1,5 1,-33 1,37 1,-8 1,-14 1,18 1,-1 1,20 1,-6 1,16 1,-43 1,27 1,6 1,-16 1,-13 1,17 1,-2 1,7 1,19 1,-31 1,20 1,-33 1,24 1,11 1,-2 1,3 1,-11 1,3 1,-4 1,-19 1,9 1,-10 1,38 1,-10 1,8 1,-12 1,15 1,-18 1,16 1,8 1,-8 1,1 1,0 1,16 1,-28 1,18 1,-22 1,18 1,8 1,-22 1,25 1,22 1,-59 1,29 1,-16 1,17 1,7 1,-9 1,13 1,5 1,6 1,-1 1,-29 1,44 1,-20 1,8 1,-1 1,5 1,-8 1,-6 1,5 1,-12 1,33 1,-27 1,12 1,13 1,-9 1,6 1,5 1,-2 1,-3 1,-22 1,40 1,-28 1,-10 1,33 1,0 1,-13 1,3 1,15 1,-7 1,-28 1,32 1,-2 1,-9 1,4 1,3 1,-2 1,-16 1,35 1,-43 1,27 1,0 1,-17 1,-5 1,23 1,15 1,-38 1,37 1,-15 1,9 1,-17 1,-7 1,16 1,9 1,8 1,-10 1,-7 1,16 1,-19 1,7 1,5 1,-2 1,-7 1,3 1,-27 1,46 1,-23 1,6 1,-6 1,-19 1,28 1,11 1,-7 1,-4 1,0 1,-8 1,10 1,-15 1,22 1,-8 1,-10 1,6 1,15 1,-29 1,20 1,-9 1,-6 1,4 1,-10 1,5 1,29 1,-20 1,11 1,-8 1,3 1,-10 1,12 1,0 1,11 1,-22 1,-2 1,13 1,-1 1,-12 1,2 1,8 1,-12 1,-7 1,28 1,-20 1,9 1,-8 1,3 1,-8 1,-2 1,2 1,25 1,-28 1,2 1,13 1,5 1,-18 1,7 1,-2 1,-8 1,21 1,-7 1,-5 1,17 1,-3 1,-13 1,4 1,-5 1,18 1,0 1,5 1,-14 1,-13 1,-4 1,30 1,-6 1,-21 1,13 1,-11 1,12 1,1 1,3 1,23 1,-11 1,-14 1,0 1,-4 1,16 1,-10 1,1 1,-21 1,25 1,4 1,0 1,-11 1,4 1,-6 1,-13 1,33 1,-22 1,-12 1,11 1,40 1,-33 1,-24 1,13 1,10 1,-2 1,15 1,-32 1,18 1,9 1,-24 1,37 1,-36 1,23 1,-7 1,-9 1,22 1,-23 1,1 1,30 1,-13 1,-2 1,12 1,-22 1,-6 1,10 1,10 1,-17 1,9 1,-6 1,30 1,-17 1,9 1,-6 1,-4 1,8 1,-15 1,32 1,-25 1,-22 1,38 1,-19 1,-21 1,19 1,7 1,-14 1,19 1,-2 1,-18 1,7 1,19 1,-26 1,28 1,-10 1,-7 1,19 1,-28 1,13 1,1 1,-2 1,-19 1,12 1,19 1,-26 1,26 1,-7 1,-12 1,-7 1,10 1,15 1,5 1,-7 1,-6 1,17 1,-32 1,19 1,13 1,-32 1,15 1,-5 1,-1 1,6 1,5 1,-11 1,10 1,-3 1,-5 1,-19 1,16 1,-9 1,32 1,-31 1,14 1,9 1,-5 1,3 1,13 1,-44 1,39 1,-6 1,-21 1,17 1,-5 1,0 1,-12 1,24 1,12 1,-29 1,-3 1,4 1,-7 1,53 1,-14 1,-17 1,-18 1,14 1,-10 1,-10 1,24 1,-13 1,3 1,8 1,9 1,-5 1,-34 1,29 1,-12 1,4 1,-8 1,-17 1,24 1,3 1,3 1,-16 1,2 1,7 1,-9 1,4 1,1 1,2 1,1 1,-4 1,-14 1,7 1,11 1,18 1,-17 1,-2 1,-22 1,21 1,1 1,16 1,7 1,-21 1,-1 1,-5 1,11 1,10 1,-14 1,21 1,-14 1,6 1,-10 1,12 1,-13 1,20 1,-31 1,2 1,-9 1,37 1,-21 1,-4 1,3 1,7 1,10 1,-23 1,7 1,11 1,-5 1,-20 1,16 1,-1 1,8 1,-29 1,29 1,-35 1,24 1,-4 1,12 1,-13 1,8 1,12 1,-12 1,1 1,5 1,11 1,-38 1,16 1,9 1,-10 1,-4 1,6 1,4 1,4 1,11 1,-1 1,-24 1,24 1,3 1,-6 1,-10 1,-9 1,0 1,3 1,0 1,0 1,-1 1,8 1,-4 1,-5 1,-8 1,30 1,-12 1,3 1,-16 1,15 1,-23 1,14 1,-22 1,6 1,12 1,4 1,-14 1,0 1,2 1,2 1,20 1,-11 1,11 1,-11 1,16 1,-18 1,3 1,-6 1,4 1,4 1,1 1,-10 1,17 1,-43 1,26 1,-1 1,22 1,-14 1,0 1,-17 1,29 1,3 1,-16 1,-6 1,14 1,-9 1,28 1,-45 1,-3 1,-6 1,39 1,-8 1,3 1,-13 1,2 1,17 1,-28 1,34 1,-34 1,9 1,8 1,-3 1,-3 1,-9 1,31 1,-32 1,11 1,5 1,-11 1,-1 1,10 1,19 1,-8 1,-11 1,-22 1,2 1,10 1,19 1,-30 1,6 1,30 1,-25 1,21 1,-6 1,-61 1,37 1,2 1,-13 1,-5 1,28 1,7 1,5 1,2 1,-13 1,-4 1,-1 1,-10 1,-14 1,21 1,3 1,8 1,-11 1,-4 1,-7 1,9 1,48 1,-45 1,-23 1,14 1,9 1,-8 1,8 1,-24 1,32 1,-2 1,1 1,-15 1,24 1,-24 1,-6 1,5 1,23 1,-20 1,-3 1,13 1,-18 1,8 1,-16 1,35 1,-32 1,13 1,-7 1,27 1,-20 1,-12 1,2 1,11 1,11 1,-17 1,-16 1,11 1,16 1,-10 1,6 1,24 1,-7 1,-5 1,3 1,-26 1,22 1,7 1,-3 1,-20 1,-5 1,28 1,-15 1,-5 1,17 1,-23 1,2 1,-25 1,29 1,16 1,-15 1,-13 1,26 1,-16 1,13 1,-38 1,24 1,-4 1,23 1,6 1,-15 1,0 1,-4 1,18 1,-30 1,32 1,-22 1,2 1,-17 1,5 1,9 1,-23 1,15 1,24 1,-14 1,5 1,-27 1,36 1,-7 1,6 1,-16 1,12 1,-15 1,14 1,-9 1,17 1,-39 1,32 1,10 1,-6 1,0 1,-7 1,-1 1,-7 1,-4 1,8 1,0 1,-11 1,18 1,-10 1,6 1,-5 1,1 1,-5 1,7 1,5 1,-6 1,-2 1,-3 1,-6 1,17 1,-23 1,3 1,27 1,-26 1,28 1,-19 1,1 1,-17 1,27 1,-1 1,10 1,-21 1,-11 1,5 1,23 1,-24 1,30 1,-11 1,-4 1,3 1,-18 1,-2 1,17 1,1 1,-6 1,-4 1,4 1,15 1,8 1,-19 1,-12 1,16 1,-9 1,-17 1,54 1,-46 1,26 1,-12 1,10 1,13 1,-34 1,13 1,-26 1,35 1,-28 1,19 1,11 1,-27 1,13 1,6 1,2 1,6 1,-27 1,-25 1,52 1,-4 1,-4 1,-10 1,16 1,-7 1,-9 1,-1 1,14 1,8 1,-8 1,-14 1,19 1,-21 1,29 1,-4 1,-17 1,-14 1,9 1,16 1,-5 1,-4 1,-8 1,13 1,-7 1,9 1,-29 1,30 1,-13 1,-6 1,23 1,5 1,-16 1,9 1,-9 1,13 1,-9 1,-2 1,-3 1,26 1,-35 1,-6 1,19 1,12 1,-33 1,5 1,13 1,4 1,-13 1,13 1,-8 1,-26 1,47 1,-12 1,4 1,-5 1,5 1,-17 1,-13 1,21 1,19 1,-16 1,-9 1,-5 1,-1 1,21 1,-11 1,21 1,-8 1,-28 1,47 1,-25 1,13 1,-16 1,7 1,8 1,-26 1,8 1,5 1,9 1,-12 1,2 1,-3 1,7 1,9 1,-30 1,14 1,2 1,17 1,-43 1,29 1,-13 1,16 1,4 1,-3 1,1 1,-8 1,-15 1,5 1,4 1,23 1,-8 1,-11 1,-11 1,6 1,-10 1,8 1,20 1,-26 1,23 1,-12 1,-8 1,-18 1,33 1,0 1,-20 1,15 1,1 1,-3 1,0 1,2 1,-11 1,21 1,5 1,-16 1,-4 1,6 1,-15 1,18 1,-12 1,0 1,15 1,-23 1,13 1,19 1,-34 1,23 1,-7 1,4 1,6 1,-26 1,25 1,-12 1,16 1,-4 1,-17 1,-2 1,12 1,-6 1,15 1,-16 1,-2 1,6 1,-2 1,-7 1,11 1,-3 1,17 1,-19 1,-2 1,11 1,-8 1,18 1,-8 1,-13 1,16 1,-2 1,22 1,-20 1,-13 1,0 1,-2 1,11 1,-12 1,19 1,-10 1,0 1,13 1,-16 1,16 1,-21 1,11 1,-17 1,19 1,-16 1,7 1,3 1,-9 1,-17 1,20 1,-6 1,19 1,-8 1,-19 1,18 1,2 1,9 1,-3 1,-28 1,12 1,27 1,-31 1,29 1,-13 1,-50 1,17 1,12 1,4 1,19 1,-17 1,28 1,-23 1,-10 1,15 1,19 1,-25 1,-14 1,37 1,-20 1,8 1,-5 1,0 1,-25 1,36 1,-39 1,-3 1,32 1,0 1,0 1,-12 1,-4 1,6 1,10 1,-5 1,12 1,-14 1,2 1,9 1,-11 1,-39 1,49 1,-16 1,-2 1,1 1,19 1,-2 1,-29 1,26 1,-12 1,13 1,16 1,-1 1,-48 1,44 1,-8 1,-10 1,-16 1,17 1,-10 1,9 1,-2 1,-11 1,7 1,6 1,-10 1,-3 1,10 1,11 1,-12 1,-3 1,15 1,7 1,-1 1,-8 1,10 1,-2 1,-16 1,9 1,-25 1,28 1,-14 1,6 1,1 1,6 1,-23 1,-1 1,10 1,13 1,-2 1,16 1,-28 1,0 1,19 1,0 1,-21 1,-6 1,3 1,15 1,-4 1,-4 1,4 1,-5 1,-2 1,15 1,7 1,-15 1,-6 1,38 1,-42 1,19 1,-2 1,-20 1,9 1,13 1,-8 1,8 1,15 1,-21 1,-8 1,2 1,7 1,-17 1,5 1,-12 1,9 1,14 1,17 1,-15 1,-11 1,23 1,-7 1,6 1,-32 1,23 1,-10 1,-13 1,13 1,6 1,-10 1,14 1,-8 1,14 1,-12 1,1 1,3 1,29 1,-59 1,0 1,31 1,-15 1,-16 1,44 1,-20 1,2 1,3 1,-32 1,31 1,3 1,-13 1,19 1,-6 1,12 1,-37 1,6 1,3 1,-8 1,49 1,-56 1,40 1,-11 1,-10 1,17 1,-4 1,-11 1,14 1,-13 1,20 1,-36 1,28 1,-14 1,-6 1,16 1,-34 1,17 1,25 1,-24 1,5 1,37 1,-36 1,-15 1,1 1,19 1,3 1,-12 1,9 1,9 1,-16 1,4 1,-10 1,8 1,-9 1,24 1,-37 1,14 1,2 1,7 1,-13 1,17 1,23 1,-41 1,15 1,3 1,10 1,-19 1,-8 1,26 1,-5 1,-7 1,5 1,-10 1,17 1,13 1,-18 1,-10 1,5 1,-2 1,-3 1,10 1,-22 1,20 1,-25 1,10 1,-5 1,9 1,-3 1,19 1,-7 1,16 1,-11 1,-20 1,-2 1,13 1,17 1,10 1,-40 1,18 1,0 1,-2 1,3 1,-18 1,13 1,7 1,12 1,-16 1,-10 1,24 1,-37 1,35 1,-6 1,-28 1,14 1,18 1,-2 1,2 1,-11 1,-7 1,13 1,-3 1,9 1,-17 1,-3 1,3 1,-12 1,-12 1,33 1,12 1,-27 1,28 1,-31 1,30 1,-36 1,32 1,-17 1,29 1,-32 1,-7 1,8 1,-1 1,19 1,-41 1,30 1,1 1,-11 1,-21 1,23 1,10 1,-39 1,16 1,22 1,-21 1,37 1,-20 1,2 1,-5 1,5 1,-8 1,4 1,-17 1,-1 1,18 1,-18 1,22 1,-21 1,3 1,-12 1,37 1,5 1,-10 1,-13 1,-6 1,44 1,-21 1,-3 1,4 1,-40 1,10 1,1 1,23 1,-1 1,-2 1,2 1,-2 1,2 1,22 1,1 1,-27 1,-6 1,12 1,-20 1,12 1,0 1,-1 1,3 1,-16 1,17 1,-1 1,18 1,-51 1,35 1,1 1,9 1,14 1,-5 1,-22 1,17 1,-24 1,8 1,-36 1,39 1,-7 1,0 1,15 1,-7 1,-19 1,20 1,-15 1,30 1,-20 1,-10 1,-9 1,7 1,28 1,-17 1,13 1,-34 1,23 1,-2 1,-1 1,-2 1,-15 1,41 1,-24 1,-30 1,16 1,18 1,-27 1,19 1,1 1,-3 1,-7 1,19 1,-21 1,-10 1,-3 1,47 1,-2 1,-19 1,-13 1,-30 1,50 1,-8 1,-6 1,25 1,-8 1,-21 1,0 1,24 1,-46 1,11 1,21 1,-21 1,21 1,-2 1,-23 1,33 1,-1 1,-41 1,34 1,-5 1,-20 1,35 1,-18 1,-25 1,15 1,6 1,33 1,-50 1,34 1,-34 1,27 1,-8 1,-4 1,-25 1,22 1,-1 1,9 1,-24 1,24 1,-25 1,23 1,-2 1,-3 1,14 1,-36 1,-6 1,44 1,-33 1,26 1,-50 1,44 1,9 1,-21 1,-2 1,10 1,4 1,-9 1,-5 1,7 1,-11 1,-14 1,21 1,-6 1,19 1,-26 1,20 1,4 1,-14 1,2 1,10 1,-5 1,10 1,-19 1,-17 1,14 1,42 1,-56 1,29 1,13 1,-48 1,55 1,-25 1,-14 1,-23 1,68 1,-26 1,-6 1,-10 1,-4 1,-2 1,30 1,-9 1,0 1,-15 1,-15 1,6 1,-11 1,10 1,0 1,30 1,2 1,-33 1,24 1,-18 1,2 1,-10 1,35 1,-43 1,6 1,1 1,28 1,-21 1,-5 1,-31 1,43 1,28 1,-25 1,-10 1,11 1,-1 1,-17 1,5 1,9 1,2 1,1 1,-6 1,-18 1,10 1,18 1,-8 1,-21 1,-3 1,-2 1,29 1,-10 1,-10 1,16 1,-36 1,20 1,42 1,-13 1,-35 1,13 1,3 1,-3 1,0 1,-1 1,-22 1,55 1,-15 1,-26 1,-5 1,-6 1,7 1,3 1,15 1,-17 1,-4 1,16 1,-31 1,22 1,0 1,-2 1,33 1,-32 1,12 1,-28 1,13 1,-5 1,32 1,-36 1,31 1,-15 1,-9 1,4 1,26 1,-23 1,2 1,4 1,-3 1,-13 1,-19 1,-10 1,33 1,-5 1,27 1,-14 1,8 1,-9 1,3 1,-6 1,-24 1,-7 1,30 1,-9 1,4 1,-29 1,17 1,-11 1,37 1,-13 1,-14 1,45 1,-53 1,21 1,-25 1,28 1,-52 1,62 1,9 1,-42 1,48 1,-45 1,11 1,10 1,15 1,-33 1,14 1,15 1,-48 1,34 1,7 1,-19 1,18 1,-23 1,0 1,26 1,-42 1,31 1,-19 1,7 1,11 1,-2 1,-6 1,-13 1,26 1,-12 1,-24 1,27 1,-16 1,-3 1,1 1,22 1,4 1,-27 1,7 1,-6 1,7 1,4 1,5 1,22 1,7 1,-35 1,13 1,-12 1,-4 1,38 1,-47 1,28 1,-10 1,0 1,-27 1,24 1,-3 1,30 1,-13 1,-12 1,-16 1,-13 1,17 1,17 1,-18 1,27 1,-18 1,-5 1,0 1,-30 1,38 1,-9 1,-6 1,-4 1,22 1,-38 1,30 1,-3 1,9 1,11 1,-17 1,15 1,-21 1,10 1,-16 1,3 1,-4 1,12 1,6 1,-21 1,4 1,-24 1,25 1,0 1,-12 1,-9 1,16 1,-17 1,48 1,-44 1,20 1,8 1,-3 1,6 1,-10 1,-18 1,29 1,-41 1,-5 1,26 1,-12 1,11 1,12 1,-24 1,14 1,11 1,-24 1,-12 1,12 1,5 1,-14 1,16 1,-15 1,32 1,-50 1,56 1,7 1,-32 1,-17 1,14 1,-20 1,-10 1,29 1,-11 1,-39 1,27 1,26 1,-35 1,20 1,12 1,-28 1,18 1,-6 1,-21 1,3 1,48 1,-28 1,-39 1,-12 1,50 1,-31 1,0 1,54 1,-30 1,4 1,25 1,-25 1,-26 1,24 1,-30 1,5 1,28 1,-1 1,-41 1,17 1,-13 1,60 1,-55 1,-18 1,41 1,13 1,-37 1,0 1,11 1,-28 1,23 1,23 1,-37 1,4 1,15 1,-46 1,49 1,-20 1,-1 1,37 1,-15 1,-8 1,-27 1,27 1,-37 1,43 1,-4 1,3 1,-5 1,-28 1,36 1,-12 1,-31 1,12 1,43 1,-50 1,5 1,-2 1,29 1,-11 1,6 1,-9 1,-36 1,56 1,-44 1,12 1,-14 1,30 1,-22 1,-22 1,38 1,-5 1,31 1,-48 1,15 1,-45 1,16 1,30 1,-1 1,-13 1,24 1,-26 1,31 1,-21 1,-11 1,34 1,-11 1,-12 1,-16 1,6 1,38 1,-3 1,0 1,-8 1,-9 1,-18 1,2 1,27 1,-15 1,11 1,-5 1,13 1,21 1,-18 1,6 1,-19 1,1 1,18 1,-23 1,-6 1,7 1,17 1,3 1,-25 1,22 1,32 1,-61 1,33 1,-22 1,17 1,-3 1,6 1,-2 1,21 1,-6 1,22 1,-33 1,-5 1,-17 1,30 1,-12 1,20 1,-21 1,10 1,32 1,-36 1,3 1,-7 1,20 1,-16 1,-2 1,30 1,20 1,-33 1,-7 1,-25 1,34 1,0 1,21 1,-26 1,-5 1,30 1,-17 1,3 1,23 1,-29 1,22 1,-7 1,13 1,-12 1,32 1,-20 1,-1 1,12 1,-11 1,4 1,-20 1,28 1,-14 1,34 1,-28 1,34 1,-37 1,11 1,24 1,-22 1,43 1,-65 1,25 1,15 1,-31 1,17 1,21 1,-14 1,-26 1,12 1,9 1,-1 1,-4 1,24 1,-11 1,18 1,15 1,-8 1,-21 1,20 1,10 1,-1 1,-50 1,83 1,-51 1,-8 1,15 1,-17 1,21 1,-10 1,7 1,6 1,-17 1,26 1,-15 1,16 1,-10 1,4 1,-11 1,-10 1,25 1,0 1,-10 1,5 1,7 1,6 1,-7 1,-13 1,15 1,3 1,12 1,7 1,-16 1,-9 1,-2 1,21 1,6 1,-30 1,-1 1,14 1,6 1,11 1,-24 1,29 1,-39 1,41 1,-19 1,13 1,1 1,-1 1,-10 1,1 1,24 1,-12 1,16 1,-34 1,21 1,-16 1,5 1,5 1,18 1,-29 1,26 1,-3 1,-16 1,27 1,-7 1,3 1,18 1,-44 1,33 1,-13 1,5 1,12 1,-27 1,23 1,-24 1,10 1,20 1,-17 1,26 1,-33 1,-15 1,30 1,-7 1,24 1,-34 1,16 1,0 1,-16 1,6 1,8 1,-13 1,21 1,1 1,-24 1,32 1,-5 1,-9 1,2 1,8 1,-11 1,-1 1,31 1,-4 1,-32 1,10 1,2 1,-6 1,14 1,-19 1,-15 1,25 1,11 1,-4 1,-15 1,10 1,7 1,7 1,-8 1,-10 1,6 1,-17 1,35 1,-25 1,2 1,-13 1,18 1,-3 1,-3 1,13 1,9 1,-9 1,-19 1,27 1,-33 1,16 1,-1 1,2 1,3 1,-6 1,12 1,0 1,-11 1,16 1,-3 1,-10 1,7 1,6 1,14 1,9 1,-18 1,17 1,-20 1,-3 1,-1 1,-10 1,4 1,17 1,-21 1,17 1,-4 1,7 1,-5 1,-8 1,21 1,-27 1,25 1,5 1,-11 1,-2 1,-12 1,29 1,-11 1,-13 1,-2 1,9 1,-2 1,3 1,16 1,-39 1,28 1,-3 1,11 1,-23 1,5 1,-9 1,20 1,-33 1,23 1,-9 1,-9 1,17 1,-11 1,0 1,26 1,-6 1,-13 1,5 1,-5 1,2 1,4 1,-10 1,-4 1,12 1,7 1,1 1,-20 1,2 1,5 1,19 1,-14 1,4 1,-15 1,8 1,5 1,-21 1,26 1,1 1,-1 1,-37 1,44 1,-31 1,17 1,3 1,-12 1,15 1,-2 1,9 1,-19 1,18 1,-17 1,-9 1,32 1,-22 1,1 1,-1 1,9 1,-11 1,-10 1,7 1,4 1,-20 1,23 1,-23 1,25 1,-17 1,8 1,-1 1,3 1,14 1,6 1,-18 1,-2 1,11 1,0 1,10 1,-23 1,-15 1,17 1,-4 1,19 1,-5 1,0 1,4 1,0 1,-30 1,18 1,0 1,-7 1,18 1,-22 1,20 1,-7 1,6 1,-8 1,-4 1,20 1,-22 1,10 1,14 1,-23 1,10 1,9 1,-16 1,5 1,-7 1,22 1,-19 1,11 1,-15 1,-1 1,16 1,-23 1,28 1,-4 1,-13 1,4 1,4 1,-8 1,6 1,-21 1,25 1,-18 1,5 1,4 1,-9 1,33 1,-17 1,-11 1,-10 1,-8 1,29 1,-5 1,3 1,-17 1,14 1,7 1,5 1,-6 1,-10 1,-9 1,-26 1,11 1,37 1,-26 1,0 1,6 1,5 1,-16 1,-2 1,28 1,-33 1,2 1,24 1,-6 1,-7 1,9 1,-2 1,1 1,-9 1,7 1,-8 1,1 1,-6 1,9 1,0 1,-7 1,2 1,-11 1,13 1,-1 1,-6 1,2 1,1 1,11 1,-5 1,-2 1,2 1,14 1,-18 1,1 1,-9 1,17 1,-11 1,-8 1,-11 1,32 1,-7 1,-20 1,19 1,6 1,-17 1,21 1,-11 1,-20 1,36 1,-26 1,7 1,-23 1,36 1,2 1,-9 1,-25 1,-1 1,24 1,-6 1,-11 1,18 1,-2 1,-7 1,21 1,-16 1,0 1,-4 1,19 1,6 1,-40 1,38 1,-5 1,-8 1,18 1,-34 1,12 1,0 1,21 1,-36 1,10 1,13 1,-21 1,25 1,-14 1,-9 1,22 1,7 1,-15 1,17 1,-25 1,-17 1,38 1,-12 1,20 1,-21 1,7 1,-11 1,9 1,-6 1,7 1,-31 1,38 1,0 1,4 1,3 1,-14 1,22 1,-6 1,-6 1,18 1,-25 1,13 1,8 1,-14 1,-14 1,12 1,15 1,-11 1,0 1,9 1,-10 1,9 1,18 1,-15 1,-10 1,10 1,-3 1,-8 1,15 1,14 1,-28 1,0 1,17 1,-5 1,-5 1,25 1,-12 1,-9 1,14 1,2 1,-15 1,6 1,-3 1,-4 1,16 1,-6 1,-13 1,2 1,16 1,-21 1,7 1,5 1,1 1,6 1,-2 1,-15 1,13 1,-5 1,3 1,-10 1,21 1,-10 1,-10 1,12 1,-6 1,-2 1,12 1,24 1,-30 1,12 1,-11 1,-1 1,10 1,-1 1,-1 1,-21 1,31 1,-11 1,0 1,18 1,-24 1,-6 1,14 1,2 1,-11 1,3 1,-2 1,23 1,0 1,-14 1,-6 1,-25 1,16 1,2 1,14 1,4 1,2 1,-8 1,5 1,-6 1,-6 1,-10 1,23 1,-5 1,-10 1,-4 1,11 1,-6 1,3 1,9 1,-15 1,13 1,-10 1,7 1,-1 1,-4 1,-1 1,16 1,-7 1,5 1,-15 1,10 1,-12 1,17 1,5 1,2 1,-3 1,-4 1,5 1,-21 1,-6 1,4 1,22 1,8 1,-23 1,9 1,-8 1,2 1,6 1,3 1,-23 1,13 1,10 1,5 1,-11 1,2 1,3 1,3 1,-7 1,9 1,-16 1,9 1,-8 1,21 1,0 1,-18 1,3 1,-1 1,-1 1,-7 1,3 1,-2 1,5 1,-6 1,25 1,-10 1,-16 1,17 1,-12 1,-1 1,-18 1,26 1,-6 1,9 1,-14 1,14 1,-1 1,-14 1,6 1,11 1,-16 1,19 1,-17 1,5 1,-17 1,2 1,19 1,-10 1,-2 1,-4 1,4 1,15 1,-22 1,20 1,0 1,-5 1,-6 1,-14 1,14 1,1 1,-1 1,16 1,-6 1,4 1,-11 1,8 1,-12 1,14 1,10 1,-23 1,21 1,7 1,4 1,-4 1,-20 1,-13 1,5 1,39 1,-34 1,-18 1,20 1,14 1,-27 1,16 1,-3 1,-7 1,21 1,-24 1,26 1,-35 1,23 1,-19 1,5 1,19 1,3 1,-10 1,-6 1,5 1,3 1,9 1,-4 1,-9 1,-12 1,20 1,-24 1,12 1,-7 1,19 1,-3 1,-10 1,4 1,14 1,-7 1,-12 1,-7 1,13 1,11 1,-25 1,4 1,15 1,7 1,-10 1,-19 1,36 1,-13 1,-4 1,6 1,0 1,-11 1,13 1,-3 1,9 1,-8 1,-4 1,12 1,-12 1,9 1,-1 1,9 1,-16 1,-4 1,-2 1,-4 1,23 1,-10 1,-6 1,-5 1,23 1,-11 1,-16 1,4 1,4 1,1 1,13 1,7 1,-12 1,-12 1,16 1,-16 1,7 1,5 1,-3 1,6 1,-31 1,12 1,9 1,-3 1,8 1,-23 1,2 1,21 1,-19 1,19 1,-14 1,8 1,-4 1,-4 1,11 1,-7 1,4 1,-12 1,23 1,7 1,-14 1,13 1,-18 1,20 1,-29 1,4 1,2 1,0 1,-13 1,12 1,2 1,1 1,-22 1,36 1,-17 1,-6 1,19 1,-21 1,13 1,-8 1,10 1,-13 1,-1 1,-3 1,29 1,-32 1,15 1,0 1,14 1,1 1,-8 1,-16 1,4 1,-3 1,-4 1,9 1,13 1,-21 1,19 1,-10 1,-7 1,19 1,-8 1,-6 1,-4 1,2 1,-2 1,2 1,8 1,15 1,-26 1,10 1,-15 1,6 1,10 1,4 1,-13 1,17 1,-15 1,0 1,27 1,-26 1,13 1,-7 1,-27 1,39 1,-18 1,6 1,18 1,7 1,-17 1,-23 1,24 1,-23 1,2 1,26 1,-10 1,-19 1,26 1,-3 1,-17 1,12 1,3 1,-2 1,1 1,-14 1,16 1,-30 1,27 1,8 1,2 1,-29 1,16 1,-6 1,12 1,8 1,-35 1,15 1,-6 1,7 1,8 1,-10 1,13 1,-7 1,2 1,-6 1,6 1,-10 1,16 1,-17 1,-5 1,13 1,12 1,1 1,-8 1,-4 1,4 1,-6 1,-9 1,31 1,-18 1,7 1,-8 1,1 1,-3 1,-1 1,7 1,-4 1,-18 1,18 1,7 1,11 1,-14 1,-25 1,11 1,18 1,-11 1,-7 1,-3 1,11 1,2 1,-8 1,-3 1,16 1,-13 1,14 1,-12 1,-7 1,17 1,-4 1,11 1,-16 1,2 1,-1 1,-6 1,16 1,-11 1,-2 1,-6 1,11 1,0 1,2 1,-8 1,19 1,-12 1,10 1,-8 1,-11 1,11 1,-6 1,-2 1,25 1,-16 1,6 1,2 1,-17 1,7 1,-1 1,12 1,-31 1,12 1,7 1,-3 1,11 1,-9 1,20 1,-10 1,-22 1,13 1,-7 1,8 1,5 1,-31 1,18 1,-1 1,0 1,14 1,-31 1,31 1,-2 1,4 1,-14 1,10 1,16 1,-30 1,11 1,-9 1,9 1,-6 1,2 1,8 1,-18 1,7 1,29 1,-31 1,8 1,-14 1,24 1,-2 1,-5 1,2 1,-17 1,4 1,-2 1,12 1,11 1,-6 1,-9 1,4 1,-2 1,4 1,-6 1,23 1,-26 1,9 1,-8 1,17 1,-18 1,10 1,-2 1,-10 1,19 1,-17 1,11 1,-14 1,-3 1,20 1,1 1,7 1,-9 1,-8 1,12 1,-8 1,-11 1,10 1,1 1,7 1,-23 1,25 1,-24 1,12 1,6 1,-7 1,13 1,-9 1,-6 1,-21 1,15 1,12 1,-9 1,-2 1,5 1,14 1,-13 1,-9 1,18 1,-6 1,-1 1,-1 1,-2 1,4 1,1 1,-4 1,-9 1,9 1,10 1,-5 1,-2 1,4 1,-7 1,6 1,-21 1,25 1,-9 1,6 1,-13 1,8 1,12 1,-19 1,12 1,3 1,-4 1,16 1,-11 1,-8 1,-7 1,-3 1,1 1,21 1,-22 1,15 1,-3 1,-9 1,18 1,-8 1,6 1,-11 1,-1 1,-2 1,5 1,10 1,6 1,-10 1,-28 1,18 1,6 1,8 1,-10 1,20 1,-8 1,-18 1,26 1,-22 1,3 1,-4 1,8 1,-5 1,-9 1,13 1,-8 1,-14 1,22 1,-1 1,17 1,-18 1,-8 1,4 1,-4 1,5 1,4 1,-16 1,10 1,3 1,9 1,6 1,-18 1,11 1,0 1,-7 1,0 1,4 1,11 1,-33 1,26 1,-15 1,3 1,-13 1,17 1,-5 1,-2 1,2 1,12 1,-4 1,11 1,-20 1,11 1,0 1,-6 1,1 1,-7 1,3 1,8 1,-8 1,1 1,1 1,3 1,-11 1,7 1,-2 1,-23 1,24 1,1 1,2 1,-4 1,16 1,-14 1,9 1,-11 1,18 1,-18 1,27 1,-27 1,13 1,15 1,-25 1,10 1,-7 1,-9 1,11 1,0 1,-7 1,11 1,-28 1,14 1,14 1,-17 1,5 1,16 1,-3 1,-11 1,2 1,5 1,-4 1,13 1,-15 1,11 1,4 1,0 1,-7 1,-6 1,11 1,-23 1,6 1,8 1,5 1,-6 1,-9 1,15 1,-8 1,8 1,-6 1,-7 1,13 1,-12 1,16 1,1 1,-22 1,-6 1,14 1,6 1,-4 1,-3 1,17 1,-2 1,-21 1,6 1,4 1,6 1,-25 1,0 1,9 1,3 1,1 1,-6 1,13 1,7 1,-4 1,-14 1,4 1,27 1,-21 1,0 1,13 1,-29 1,20 1,7 1,-14 1,19 1,-15 1,-16 1,18 1,-13 1,13 1,-2 1,6 1,-3 1,-4 1,-4 1,-2 1,0 1,6 1,5 1,-9 1,11 1,-14 1,2 1,11 1,-19 1,16 1,-12 1,13 1,-9 1,12 1,-11 1,-14 1,12 1,15 1,-18 1,4 1,-2 1,9 1,4 1,-19 1,-4 1,28 1,-39 1,26 1,3 1,5 1,-15 1,9 1,5 1,5 1,-2 1,-8 1,-2 1,18 1,-10 1,-7 1,7 1,-9 1,1 1,-8 1,9 1,2 1,-12 1,6 1,1 1,9 1,1 1,-2 1,2 1,0 1,-6 1,-23 1,30 1,10 1,-6 1,-25 1,16 1,-1 1,-7 1,-2 1,7 1,0 1,6 1,14 1,-3 1,-10 1,-12 1,28 1,-21 1,16 1,-6 1,-2 1,-11 1,4 1,-6 1,4 1,-6 1,16 1,-18 1,-5 1,21 1,-12 1,3 1,-16 1,26 1,-2 1,-11 1,13 1,-4 1,2 1,-1 1,-6 1,10 1,-5 1,-7 1,1 1,15 1,14 1,-42 1,38 1,-18 1,-22 1,24 1,-13 1,23 1,-31 1,10 1,-2 1,2 1,8 1,-11 1,4 1,-5 1,12 1,7 1,2 1,-19 1,8 1,6 1,-12 1,18 1,-18 1,1 1,12 1,-11 1,0 1,2 1,-9 1,-5 1,20 1,-3 1,-5 1,4 1,22 1,-29 1,-7 1,15 1,7 1,-15 1,9 1,-10 1,24 1,-9 1,-9 1,4 1,-8 1,-1 1,10 1,1 1,-7 1,-1 1,-2 1,28 1,-33 1,7 1,0 1,10 1,-8 1,10 1,-17 1,10 1,1 1,-4 1,-5 1,28 1,-21 1,-8 1,-9 1,9 1,12 1,-1 1,-6 1,6 1,-15 1,26 1,-28 1,18 1,-17 1,7 1,13 1,-3 1,0 1,-26 1,28 1,-10 1,0 1,8 1,-1 1,-6 1,8 1,-23 1,24 1,-1 1,-2 1,-18 1,11 1,7 1,7 1,-22 1,2 1,23 1,-14 1,8 1,-19 1,-10 1,36 1,-16 1,-5 1,19 1,-2 1,-30 1,19 1,-7 1,8 1,2 1,9 1,-21 1,20 1,-28 1,0 1,15 1,5 1,-14 1,5 1,15 1,-11 1,-1 1,11 1,-31 1,24 1,-2 1,-4 1,14 1,0 1,-5 1,-16 1,10 1,2 1,0 1,14 1,-30 1,-4 1,8 1,26 1,-16 1,1 1,-12 1,16 1,-8 1,26 1,-14 1,-24 1,6 1,15 1,-14 1,16 1,-8 1,12 1,-23 1,29 1,-17 1,35 1,-39 1,-27 1,28 1,-7 1,29 1,-16 1,-10 1,-4 1,22 1,-6 1,3 1,-5 1,3 1,-16 1,4 1,-3 1,8 1,0 1,-6 1,4 1,-8 1,3 1,14 1,-17 1,25 1,-16 1,3 1,-6 1,5 1,-7 1,22 1,-12 1,6 1,-12 1,10 1,-14 1,-1 1,8 1,-2 1,-1 1,8 1,-17 1,-3 1,28 1,-24 1,19 1,-11 1,-4 1,1 1,1 1,-3 1,5 1,15 1,-14 1,-10 1,11 1,-1 1,5 1,-18 1,11 1,8 1,-10 1,-4 1,11 1,-9 1,11 1,6 1,-18 1,1 1,20 1,9 1,-22 1,1 1,-9 1,-2 1,5 1,11 1,4 1,8 1,-19 1,5 1,0 1,-1 1,1 1,12 1,-31 1,10 1,5 1,-9 1,0 1,7 1,11 1,4 1,-15 1,8 1,5 1,-21 1,11 1,12 1,-19 1,17 1,-5 1,3 1,-21 1,18 1,11 1,-23 1,12 1,2 1,-25 1,14 1,-5 1,15 1,-8 1,13 1,-2 1,-15 1,11 1,-13 1,1 1,-3 1,17 1,5 1,-1 1,-24 1,13 1,-11 1,0 1,12 1,3 1,-4 1,-9 1,16 1,-21 1,8 1,5 1,23 1,-9 1,-23 1,-14 1,15 1,4 1,-5 1,11 1,-18 1,9 1,3 1,8 1,5 1,-9 1,-1 1,10 1,-18 1,-13 1,5 1,-1 1,32 1,-15 1,-2 1,1 1,-17 1,14 1,21 1,-24 1,40 1,-42 1,-9 1,27 1,-16 1,-14 1,13 1,-1 1,22 1,-7 1,-2 1,-3 1,-19 1,20 1,6 1,-5 1,-9 1,-7 1,9 1,7 1,4 1,-13 1,-9 1,8 1,-15 1,26 1,-21 1,17 1,-18 1,-18 1,40 1,1 1,-9 1,-5 1,6 1,-2 1,-9 1,4 1,-7 1,24 1,-21 1,19 1,-18 1,12 1,-6 1,-11 1,15 1,-15 1,8 1,-3 1,4 1,-7 1,2 1,4 1,-10 1,16 1,-15 1,2 1,10 1,-24 1,15 1,3 1,-5 1,-17 1,15 1,3 1,6 1,-16 1,26 1,-6 1,-3 1,2 1,-12 1,16 1,-1 1,-6 1,-3 1,10 1,5 1,-11 1,1 1,10 1,-14 1,7 1,0 1,4 1,0 1,2 1,-22 1,39 1,-13 1,-20 1,13 1,5 1,-15 1,38 1,-40 1,23 1,-7 1,-25 1,22 1,-1 1,-16 1,26 1,1 1,-10 1,4 1,-12 1,9 1,-1 1,3 1,2 1,-4 1,5 1,-6 1,1 1,-10 1,4 1,12 1,-10 1,-12 1,16 1,10 1,-26 1,22 1,-8 1,-13 1,6 1,-1 1,16 1,-15 1,12 1,9 1,-13 1,-8 1,2 1,0 1,15 1,-6 1,-6 1,-8 1,7 1,1 1,11 1,-9 1,-1 1,-6 1,14 1,5 1,2 1,-12 1,21 1,-13 1,5 1,6 1,-8 1,-10 1,12 1,-3 1,-10 1,18 1,-32 1,19 1,17 1,-15 1,-6 1,-8 1,14 1,-4 1,14 1,-5 1,-5 1,-2 1,6 1,-12 1,30 1,-21 1,6 1,0 1,-5 1,-5 1,22 1,-6 1,-20 1,3 1,-6 1,0 1,18 1,-17 1,3 1,6 1,0 1,26 1,-30 1,13 1,0 1,12 1,-17 1,7 1,-11 1,11 1,-3 1,-8 1,10 1,-4 1,-4 1,9 1,0 1,3 1,-16 1,16 1,-3 1,-8 1,3 1,12 1,-7 1,-6 1,-6 1,13 1,-5 1,-14 1,11 1,13 1,-13 1,10 1,-3 1,-2 1,-18 1,23 1,-6 1,-5 1,-15 1,12 1,14 1,-5 1,13 1,-11 1,3 1,1 1,-5 1,-8 1,-1 1,7 1,-1 1,-2 1,5 1,-16 1,25 1,-5 1,-1 1,-29 1,22 1,3 1,-5 1,10 1,-7 1,-1 1,-6 1,11 1,-1 1,-4 1,8 1,-19 1,8 1,26 1,-31 1,16 1,0 1,-11 1,28 1,-9 1,-15 1,-8 1,14 1,2 1,-3 1,4 1,-28 1,25 1,-14 1,3 1,0 1,4 1,11 1,-4 1,-9 1,6 1,11 1,-8 1,-14 1,18 1,-7 1,-6 1,4 1,4 1,-2 1,7 1,-13 1,8 1,-17 1,12 1,11 1,-3 1,-19 1,4 1,10 1,11 1,-10 1,4 1,-2 1,6 1,1 1,-17 1,11 1,-13 1,6 1,14 1,-11 1,-4 1,11 1,-13 1,4 1,11 1,9 1,0 1,-15 1,3 1,0 1,-6 1,-9 1,7 1,9 1,-12 1,-12 1,35 1,-18 1,20 1,-11 1,-5 1,7 1,4 1,-17 1,-4 1,21 1,4 1,-22 1,9 1,-17 1,10 1,8 1,-24 1,9 1,6 1,19 1,-13 1,-2 1,-11 1,20 1,-5 1,1 1,-1 1,3 1,-6 1,4 1,-13 1,21 1,-16 1,21 1,-17 1,-3 1,10 1,2 1,-6 1,12 1,-2 1,-7 1,4 1,4 1,-3 1,-3 1,-1 1,5 1,-7 1,-6 1,0 1,10 1,3 1,-8 1,6 1,-20 1,7 1,10 1,14 1,-17 1,6 1,-18 1,13 1,-1 1,9 1,-7 1,-3 1,1 1,-3 1,0 1,7 1,-1 1,0 1,-8 1,0 1,-2 1,-9 1,20 1,9 1,-16 1,-4 1,13 1,-9 1,14 1,0 1,-9 1,-14 1,13 1,1 1,1 1,-3 1,-3 1,-11 1,13 1,9 1,-9 1,-4 1,13 1,-8 1,8 1,-12 1,6 1,13 1,-13 1,7 1,-14 1,0 1,4 1,-2 1,-4 1,16 1,-7 1,-5 1,7 1,-11 1,11 1,5 1,-16 1,5 1,4 1,12 1,-5 1,-6 1,14 1,-13 1,2 1,-13 1,-4 1,15 1,3 1,-7 1,-1 1,6 1,-16 1,8 1,9 1,0 1,-13 1,2 1,-1 1,8 1,6 1,-3 1,-7 1,14 1,-26 1,10 1,18 1,-21 1,7 1,-4 1,6 1,6 1,-3 1,-1 1,-19 1,28 1,-14 1,-9 1,16 1,-18 1,11 1,-9 1,12 1,-11 1,8 1,-12 1,20 1,-7 1,1 1,-2 1,13 1,-25 1,22 1,-6 1,2 1,0" stroke="#1f6fdd" vector-effect="non-scaling-stroke"/>
<path d="M0,1789l1,11 1,-9 1,5 1,-18 1,-19 1,48 1,-31 1,28 1,-48 1,14 1,38 1,-22 1,7 1,-19 1,13 1,7 1,-8 1,26 1,-18 1,-6 1,-7 1,-15 1,29 1,-23 1,57 1,-33 1,-31 1,39 1,-19 1,0 1,8 1,10 1,-14 1,-16 1,14 1,-2 1,1 1,29 1,-10 1,-8 1,13 1,-6 1,-13 1,22 1,-10 1,-27 1,-6 1,21 1,-2 1,-6 1,16 1,17 1,-13 1,-1 1,0 1,-10 1,2 1,5 1,-4 1,-2 1,20 1,-20 1,46 1,-34 1,-13 1,8 1,16 1,-55 1,25 1,-8 1,48 1,-19 1,-30 1,18 1,0 1,-2 1,25 1,-37 1,5 1,31 1,0 1,-23 1,9 1,13 1,-36 1,11 1,-4 1,28 1,-7 1,0 1,-4 1,-3 1,41 1,-34 1,-3 1,-1 1,-15 1,-3 1,30 1,-25 1,22 1,-18 1,22 1,-16 1,36 1,-35 1,-7 1,14 1,15 1,-7 1,1 1,-6 1,-23 1,21 1,-2 1,-32 1,32 1,-18 1,18 1,-4 1,-15 1,6 1,-1 1,16 1,11 1,-7 1,-16 1,-1 1,5 1,6 1,5 1,-25 1,33 1,-10 1,-4 1,-12 1,11 1,-7 1,-18 1,45 1,-9 1,-13 1,11 1,-23 1,35 1,-55 1,29 1,7 1,-11 1,9 1,12 1,2 1,-29 1,18 1,-16 1,23 1,-30 1,28 1,-21 1,6 1,-7 1,8 1,-11 1,30 1,-29 1,3 1,18 1,14 1,-40 1,24 1,-12 1,-7 1,11 1,-2 1,-2 1,13 1,-26 1,21 1,9 1,4 1,-16 1,8 1,-16 1,12 1,-6 1,5 1,-33 1,21 1,28 1,-58 1,8 1,36 1,-9 1,-10 1,-14 1,21 1,16 1,-19 1,17 1,4 1,-42 1,35 1,-25 1,27 1,17 1,-38 1,-11 1,12 1,-7 1,45 1,-76 1,55 1,11 1,-23 1,11 1,-21 1,28 1,-43 1,24 1,-10 1,47 1,-43 1,-24 1,53 1,-29 1,-5 1,39 1,-38 1,-8 1,28 1,7 1,-9 1,1 1,-29 1,37 1,7 1,-14 1,-7 1,-29 1,19 1,35 1,-33 1,-23 1,38 1,4 1,-25 1,-9 1,28 1,-11 1,5 1,1 1,-1 1,-15 1,46 1,-24 1,1 1,-14 1,-37 1,7 1,48 1,-2 1,-26 1,-1 1,11 1,0 1,-41 1,20 1,13 1,9 1,-33 1,3 1,32 1,-3 1,-26 1,23 1,1 1,-30 1,-1 1,6 1,30 1,-19 1,8 1,-2 1,16 1,-22 1,4 1,2 1,-13 1,2 1,5 1,-5 1,-14 1,24 1,-27 1,-6 1,7 1,21 1,-8 1,6 1,-14 1,20 1,-26 1,-3 1,17 1,-40 1,35 1,24 1,-25 1,-5 1,-4 1,-7 1,32 1,-7 1,-16 1,-6 1,-16 1,36 1,-10 1,-11 1,-10 1,17 1,-20 1,0 1,30 1,-24 1,15 1,-40 1,7 1,11 1,-1 1,18 1,-15 1,-10 1,9 1,22 1,-36 1,23 1,10 1,-22 1,19 1,-4 1,-2 1,-14 1,37 1,-19 1,-12 1,-36 1,8 1,37 1,-9 1,22 1,-25 1,-27 1,-6 1,31 1,-3 1,-36 1,-7 1,34 1,26 1,-38 1,36 1,-16 1,11 1,-29 1,-14 1,23 1,-29 1,37 1,0 1,-3 1,7 1,-2 1,-37 1,16 1,-14 1,16 1,2 1,0 1,-33 1,13 1,34 1,-28 1,5 1,-4 1,-6 1,14 1,-27 1,17 1,11 1,-3 1,-8 1,4 1,18 1,-33 1,-16 1,35 1,-9 1,-23 1,31 1,-1 1,-28 1,11 1,-13 1,-2 1,-7 1,20 1,-2 1,21 1,-26 1,-1 1,-22 1,47 1,-29 1,12 1,-26 1,20 1,-1 1,12 1,7 1,-49 1,75 1,-18 1,-42 1,-22 1,21 1,-6 1,12 1,3 1,-20 1,-7 1,-10 1,12 1,-4 1,24 1,20 1,-36 1,-20 1,13 1,-33 1,27 1,5 1,52 1,-72 1,12 1,45 1,-29 1,35 1,-17 1,-16 1,-47 1,14 1,22 1,-19 1,2 1,56 1,-24 1,-4 1,-2 1,43 1,-66 1,12 1,18 1,39 1,-70 1,39 1,-37 1,41 1,11 1,16 1,-39 1,45 1,-5 1,-43 1,3 1,4 1,21 1,22 1,22 1,-28 1,17 1,5 1,-29 1,52 1,-32 1,3 1,-3 1,-2 1,-7 1,25 1,10 1,-9 1,16 1,-28 1,11 1,8 1,-17 1,18 1,-9 1,-2 1,18 1,-19 1,14 1,-11 1,3 1,19 1,-56 1,29 1,-7 1,17 1,22 1,8 1,-31 1,14 1,12 1,-34 1,15 1,21 1,-6 1,6 1,-5 1,-17 1,32 1,-6 1,-10 1,-5 1,40 1,-17 1,2 1,-28 1,24 1,-2 1,23 1,-29 1,-7 1,18 1,7 1,-27 1,28 1,-24 1,13 1,23 1,-27 1,21 1,-12 1,17 1,-16 1,10 1,-22 1,24 1,-9 1,-18 1,24 1,7 1,16 1,-5 1,-14 1,19 1,-24 1,28 1,-24 1,5 1,-22 1,12 1,30 1,-4 1,-28 1,-4 1,19 1,-22 1,35 1,27 1,-26 1,11 1,-43 1,38 1,-18 1,4 1,-4 1,15 1,-10 1,-17 1,14 1,-15 1,26 1,-8 1,-13 1,39 1,-40 1,13 1,-5 1,35 1,-3 1,-27 1,2 1,29 1,-34 1,16 1,-1 1,-7 1,20 1,47 1,-57 1,-5 1,23 1,-18 1,-3 1,11 1,-8 1,0 1,12 1,-20 1,-20 1,33 1,16 1,-22 1,10 1,13 1,-25 1,31 1,-23 1,-25 1,49 1,-12 1,25 1,-8 1,-19 1,9 1,17 1,-14 1,-1 1,-16 1,18 1,-15 1,21 1,-1 1,8 1,-29 1,25 1,-8 1,17 1,-30 1,32 1,8 1,-26 1,-12 1,23 1,-4 1,-10 1,0 1,-30 1,39 1,3 1,-13 1,-18 1,18 1,-4 1,10 1,1 1,-3 1,-6 1,-18 1,17 1,-25 1,38 1,-13 1,25 1,-34 1,12 1,-4 1,-12 1,-1 1,25 1,2 1,3 1,-30 1,15 1,15 1,2 1,-22 1,-11 1,15 1,-1 1,20 1,-10 1,-6 1,14 1,2 1,-33 1,24 1,6 1,-23 1,19 1,23 1,-40 1,14 1,3 1,-5 1,1 1,-8 1,9 1,10 1,2 1,-15 1,3 1,24 1,-26 1,12 1,-11 1,-11 1,-8 1,38 1,14 1,-34 1,12 1,-5 1,-11 1,19 1,-12 1,-10 1,30 1,2 1,-4 1,-25 1,30 1,-1 1,-20 1,-24 1,11 1,23 1,-5 1,5 1,-38 1,45 1,-35 1,7 1,-4 1,17 1,-7 1,-24 1,14 1,23 1,0 1,-22 1,15 1,-4 1,-6 1,6 1,-27 1,7 1,13 1,3 1,-3 1,-7 1,12 1,20 1,-28 1,-10 1,31 1,-15 1,15 1,-23 1,18 1,-21 1,-1 1,21 1,-29 1,49 1,-41 1,25 1,1 1,7 1,17 1,-48 1,-8 1,13 1,2 1,14 1,-10 1,-23 1,7 1,3 1,12 1,-2 1,-5 1,26 1,13 1,-20 1,-6 1,-19 1,35 1,-18 1,12 1,-23 1,18 1,-26 1,36 1,3 1,-25 1,21 1,-8 1,-8 1,-9 1,34 1,-19 1,-5 1,11 1,-5 1,-4 1,-10 1,20 1,-9 1,15 1,10 1,-12 1,-21 1,15 1,4 1,19 1,6 1,-50 1,22 1,-8 1,0 1,7 1,-23 1,6 1,13 1,-20 1,26 1,-5 1,-3 1,20 1,-19 1,-19 1,18 1,-31 1,14 1,-3 1,-2 1,16 1,8 1,5 1,-20 1,21 1,-9 1,-10 1,-7 1,1 1,14 1,-14 1,27 1,13 1,-14 1,-8 1,0 1,-17 1,28 1,-53 1,34 1,6 1,-17 1,9 1,-12 1,10 1,0 1,6 1,-1 1,36 1,-20 1,5 1,-30 1,26 1,-36 1,3 1,8 1,7 1,-15 1,25 1,-29 1,-3 1,42 1,-21 1,13 1,31 1,-58 1,27 1,-4 1,-15 1,-14 1,14 1,-1 1,30 1,-14 1,-2 1,-22 1,5 1,13 1,7 1,-12 1,-12 1,20 1,-27 1,26 1,16 1,-14 1,3 1,19 1,-23 1,-25 1,20 1,10 1,1 1,-1 1,-7 1,-6 1,3 1,14 1,9 1,-25 1,23 1,-8 1,-6 1,-27 1,25 1,-24 1,10 1,1 1,17 1,-26 1,10 1,-11 1,8 1,-8 1,26 1,-9 1,-18 1,-16 1,4 1,-3 1,19 1,-9 1,9 1,-8 1,4 1,6 1,-4 1,5 1,13 1,-6 1,-24 1,28 1,-17 1,-7 1,-10 1,25 1,-1 1,25 1,-12 1,-38 1,33 1,10 1,-11 1,7 1,-13 1,12 1,-20 1,6 1,13 1,-21 1,9 1,-9 1,5 1,14 1,-7 1,-1 1,13 1,11 1,1 1,-37 1,14 1,13 1,-11 1,-24 1,30 1,-29 1,23 1,-9 1,-33 1,21 1,22 1,-5 1,6 1,21 1,-33 1,40 1,-39 1,23 1,-10 1,20 1,-9 1,17 1,-29 1,5 1,13 1,-4 1,-20 1,15 1,-20 1,17 1,-21 1,15 1,7 1,11 1,-7 1,0 1,17 1,-25 1,-16 1,31 1,-4 1,13 1,-24 1,-25 1,25 1,1 1,22 1,-12 1,6 1,1 1,-32 1,30 1,-29 1,31 1,5 1,19 1,-3 1,-34 1,21 1,9 1,-56 1,31 1,18 1,-18 1,21 1,-28 1,-21 1,32 1,-10 1,-4 1,-10 1,57 1,-59 1,42 1,3 1,-4 1,-28 1,12 1,3 1,-9 1,14 1,-39 1,51 1,-9 1,-11 1,26 1,-26 1,-10 1,49 1,-41 1,-6 1,8 1,4 1,-20 1,9 1,17 1,-12 1,-5 1,-8 1,10 1,-1 1,-17 1,-5 1,42 1,-18 1,7 1,-3 1,1 1,23 1,-30 1,-1 1,-11 1,-12 1,19 1,26 1,-1 1,-13 1,-16 1,10 1,15 1,-15 1,15 1,-29 1,14 1,-5 1,25 1,-13 1,-23 1,8 1,28 1,-18 1,-4 1,-12 1,3 1,53 1,-17 1,-26 1,30 1,-25 1,-1 1,-4 1,8 1,-17 1,26 1,-2 1,-6 1,-15 1,5 1,28 1,-22 1,-17 1,34 1,-16 1,-1 1,-14 1,14 1,-10 1,34 1,-20 1,2 1,22 1,-41 1,43 1,-28 1,3 1,4 1,-11 1,-16 1,32 1,7 1,-22 1,16 1,-34 1,15 1,1 1,-2 1,10 1,6 1,-14 1,20 1,4 1,-47 1,12 1,8 1,24 1,-6 1,-33 1,9 1,9 1,6 1,-15 1,26 1,-20 1,34 1,-13 1,-10 1,9 1,-7 1,14 1,-17 1,12 1,-9 1,-15 1,24 1,2 1,-10 1,10 1,-10 1,-7 1,7 1,-21 1,12 1,-2 1,11 1,13 1,-20 1,-5 1,12 1,-1 1,10 1,-22 1,2 1,8 1,-10 1,-18 1,27 1,1 1,-11 1,18 1,5 1,-15 1,15 1,-4 1,-11 1,14 1,-13 1,19 1,-16 1,27 1,-16 1,-14 1,5 1,-22 1,29 1,-10 1,4 1,-22 1,26 1,-20 1,-12 1,30 1,-19 1,19 1,-13 1,8 1,-17 1,19 1,2 1,7 1,-6 1,-18 1,16 1,-9 1,20 1,-7 1,-26 1,32 1,1 1,-23 1,7 1,14 1,-12 1,-7 1,-19 1,38 1,-21 1,27 1,-36 1,26 1,-8 1,14 1,-22 1,-10 1,18 1,-2 1,-4 1,2 1,-2 1,-12 1,-3 1,15 1,18 1,-14 1,6 1,18 1,-10 1,8 1,-25 1,37 1,-26 1,-5 1,24 1,-39 1,-2 1,-1 1,20 1,32 1,-37 1,12 1,-13 1,10 1,-12 1,-5 1,-6 1,11 1,20 1,-18 1,10 1,-3 1,2 1,15 1,-12 1,-20 1,13 1,-6 1,16 1,-16 1,16 1,-11 1,5 1,-3 1,-11 1,2 1,-10 1,20 1,5 1,-34 1,30 1,-19 1,19 1,-10 1,9 1,0 1,5 1,3 1,-8 1,-17 1,32 1,-14 1,-29 1,20 1,4 1,-11 1,28 1,-8 1,-18 1,10 1,1 1,16 1,-2 1,4 1,-3 1,-27 1,-3 1,13 1,14 1,-7 1,13 1,-26 1,-18 1,17 1,10 1,-4 1,-3 1,10 1,10 1,-15 1,31 1,-30 1,-4 1,1 1,0 1,3 1,-11 1,23 1,-5 1,-25 1,8 1,-19 1,16 1,10 1,-29 1,8 1,-3 1,-5 1,51 1,-11 1,-33 1,37 1,3 1,-14 1,-10 1,-5 1,-40 1,35 1,12 1,20 1,-47 1,24 1,6 1,4 1,-11 1,6 1,-6 1,2 1,7 1,6 1,-5 1,5 1,3 1,19 1,-32 1,-10 1,15 1,3 1,-6 1,-12 1,16 1,-9 1,-17 1,33 1,3 1,-29 1,12 1,1 1,14 1,-19 1,-16 1,8 1,14 1,13 1,6 1,-28 1,-10 1,-3 1,22 1,7 1,-4 1,11 1,-41 1,31 1,-19 1,-3 1,19 1,-6 1,-9 1,42 1,-17 1,2 1,-10 1,-43 1,14 1,4 1,4 1,20 1,-6 1,-4 1,6 1,9 1,-3 1,-26 1,4 1,17 1,-5 1,25 1,-5 1,-22 1,-11 1,18 1,5 1,-19 1,24 1,-12 1,7 1,-8 1,11 1,-7 1,-12 1,2 1,5 1,-16 1,29 1,21 1,-18 1,-8 1,-14 1,-14 1,-6 1,15 1,10 1,14 1,2 1,-13 1,-23 1,50 1,-18 1,-19 1,18 1,-14 1,-14 1,41 1,-13 1,-9 1,2 1,-33 1,35 1,-6 1,-17 1,0 1,14 1,-15 1,20 1,-4 1,-12 1,-8 1,13 1,6 1,-6 1,37 1,-10 1,-33 1,36 1,-47 1,7 1,1 1,27 1,13 1,-33 1,3 1,20 1,-35 1,26 1,5 1,1 1,-20 1,-19 1,51 1,-43 1,33 1,-28 1,22 1,-16 1,-14 1,18 1,-9 1,25 1,-36 1,-3 1,31 1,-14 1,28 1,-14 1,-1 1,-10 1,-18 1,9 1,29 1,-19 1,5 1,-17 1,11 1,-14 1,34 1,-33 1,13 1,5 1,-22 1,9 1,8 1,39 1,-48 1,8 1,-14 1,4 1,15 1,2 1,0 1,-23 1,24 1,7 1,-4 1,-2 1,-23 1,13 1,-13 1,16 1,-3 1,-7 1,37 1,-44 1,32 1,8 1,-45 1,17 1,20 1,-32 1,11 1,18 1,-28 1,21 1,-10 1,11 1,0 1,-7 1,-17 1,18 1,-10 1,24 1,-17 1,-12 1,21 1,-6 1,-10 1,12 1,22 1,-22 1,-7 1,-14 1,42 1,-19 1,1 1,-13 1,21 1,-15 1,18 1,-10 1,4 1,-6 1,-2 1,-2 1,-12 1,-9 1,25 1,-21 1,25 1,-15 1,20 1,-7 1,-6 1,-6 1,4 1,-9 1,6 1,4 1,-8 1,9 1,-12 1,8 1,-44 1,32 1,19 1,10 1,-9 1,-6 1,-17 1,20 1,0 1,-13 1,-5 1,19 1,10 1,-5 1,-10 1,10 1,-29 1,23 1,-23 1,12 1,17 1,-1 1,-9 1,-5 1,2 1,-6 1,2 1,-1 1,-17 1,29 1,-9 1,-31 1,26 1,18 1,-5 1,-36 1,35 1,-6 1,-19 1,7 1,4 1,-10 1,-4 1,-5 1,16 1,-14 1,-4 1,-4 1,19 1,12 1,22 1,-27 1,-10 1,-9 1,7 1,-7 1,10 1,-19 1,-18 1,29 1,-2 1,-3 1,-14 1,-9 1,49 1,-20 1,-26 1,28 1,-9 1,-2 1,2 1,7 1,-2 1,-12 1,-18 1,11 1,-8 1,10 1,-23 1,33 1,-23 1,34 1,-25 1,-23 1,-13 1,52 1,-45 1,8 1,64 1,-58 1,3 1,37 1,-9 1,-23 1,-4 1,0 1,9 1,-6 1,-20 1,-23 1,57 1,-28 1,-5 1,-4 1,19 1,-17 1,2 1,24 1,-43 1,13 1,53 1,-53 1,-7 1,-31 1,56 1,-21 1,-8 1,17 1,5 1,-21 1,-1 1,1 1,-3 1,3 1,1 1,32 1,-16 1,14 1,-32 1,22 1,-20 1,-10 1,6 1,-22 1,3 1,19 1,-11 1,23 1,-12 1,-8 1,-5 1,-21 1,10 1,22 1,-8 1,14 1,-15 1,-14 1,8 1,0 1,-9 1,4 1,-11 1,5 1,1 1,-11 1,6 1,-7 1,-10 1,-14 1,24 1,-29 1,48 1,-6 1,15 1,-51 1,0 1,8 1,-15 1,41 1,-51 1,28 1,-18 1,20 1,-32 1,43 1,-35 1,29 1,-48 1,16 1,21 1,-6 1,-19 1,23 1,12 1,-45 1,25 1,-4 1,-16 1,50 1,-22 1,19 1,-23 1,-44 1,41 1,3 1,-3 1,15 1,-34 1,34 1,-12 1,40 1,-58 1,-13 1,13 1,23 1,-26 1,13 1,29 1,-13 1,24 1,2 1,1 1,-1 1,-3 1,-1 1,21 1,-42 1,38 1,-11 1,-32 1,-4 1,0 1,16 1,-2 1,-39 1,64 1,4 1,17 1,-34 1,19 1,-20 1,22 1,-12 1,27 1,-30 1,32 1,-29 1,-5 1,8 1,-13 1,-2 1,27 1,21 1,-24 1,10 1,-3 1,13 1,10 1,-36 1,29 1,-3 1,-35 1,47 1,5 1,-32 1,16 1,7 1,26 1,-50 1,1 1,38 1,-11 1,-16 1,3 1,18 1,-10 1,20 1,4 1,-21 1,-15 1,37 1,-52 1,60 1,-36 1,4 1,21 1,-39 1,26 1,-1 1,16 1,-13 1,10 1,0 1,-3 1,35 1,-48 1,19 1,-4 1,15 1,7 1,-2 1,-6 1,-4 1,-45 1,7 1,56 1,-58 1,36 1,-32 1,36 1,-17 1,24 1,-23 1,19 1,15 1,-19 1,-31 1,15 1,23 1,9 1,-46 1,4 1,17 1,23 1,9 1,-16 1,0 1,10 1,-3 1,-39 1,65 1,-18 1,-25 1,14 1,-17 1,15 1,-14 1,24 1,-27 1,39 1,-30 1,-8 1,42 1,-63 1,11 1,18 1,29 1,-22 1,-6 1,-4 1,32 1,-7 1,1 1,16 1,-40 1,41 1,-26 1,-4 1,8 1,6 1,-3 1,12 1,13 1,-5 1,-25 1,-4 1,-1 1,24 1,-11 1,1 1,0 1,0 1,-11 1,-7 1,41 1,-36 1,11 1,5 1,42 1,-61 1,-7 1,13 1,25 1,-59 1,21 1,35 1,-9 1,-32 1,6 1,16 1,16 1,-12 1,6 1,-17 1,13 1,6 1,6 1,-22 1,8 1,-6 1,25 1,-14 1,-4 1,0 1,31 1,-26 1,4 1,-8 1,-3 1,15 1,-22 1,38 1,-28 1,24 1,-12 1,-13 1,46 1,-26 1,-20 1,-8 1,23 1,-4 1,6 1,7 1,-16 1,-33 1,19 1,-6 1,21 1,20 1,-39 1,8 1,2 1,11 1,6 1,-13 1,-4 1,11 1,-21 1,10 1,-3 1,16 1,-17 1,4 1,43 1,-25 1,-5 1,-14 1,15 1,-13 1,8 1,0 1,-34 1,28 1,-11 1,9 1,24 1,-30 1,16 1,0 1,-31 1,19 1,19 1,-12 1,-6 1,-27 1,54 1,-22 1,4 1,5 1,-2 1,-20 1,2 1,18 1,-29 1,11 1,40 1,-60 1,50 1,-20 1,-5 1,2 1,-7 1,8 1,6 1,1 1,20 1,-34 1,-7 1,35 1,-1 1,-21 1,4 1,6 1,-16 1,-11 1,-2 1,40 1,-11 1,0 1,-4 1,-16 1,20 1,-13 1,7 1,11 1,-28 1,48 1,-44 1,21 1,-32 1,12 1,1 1,-21 1,38 1,-2 1,-2 1,-11 1,13 1,2 1,-2 1,-12 1,24 1,-32 1,29 1,-17 1,-9 1,-5 1,29 1,14 1,-19 1,-37 1,55 1,-38 1,11 1,13 1,-11 1,7 1,-7 1,-27 1,20 1,25 1,-30 1,44 1,-36 1,36 1,-55 1,38 1,-33 1,17 1,-5 1,-5 1,14 1,-5 1,-16 1,-13 1,33 1,-14 1,-20 1,3 1,26 1,11 1,-43 1,57 1,-44 1,51 1,-34 1,19 1,-20 1,1 1,-18 1,11 1,1 1,2 1,-9 1,10 1,16 1,-13 1,2 1,-5 1,28 1,-7 1,-23 1,14 1,-24 1,22 1,19 1,-39 1,17 1,-2 1,-16 1,-10 1,30 1,-19 1,6 1,20 1,-6 1,5 1,-10 1,13 1,-2 1,-9 1,-11 1,-21 1,53 1,-52 1,13 1,4 1,25 1,-19 1,16 1,-5 1,23 1,-22 1,2 1,20 1,-27 1,3 1,3 1,2 1,-3 1,0 1,-7 1,4 1,6 1,-26 1,37 1,-43 1,-7 1,12 1,16 1,-15 1,11 1,0 1,6 1,-31 1,12 1,31 1,-24 1,-5 1,29 1,-40 1,17 1,15 1,6 1,-33 1,20 1,14 1,-8 1,-22 1,3 1,29 1,-17 1,45 1,-60 1,21 1,-4 1,-9 1,27 1,-38 1,31 1,-18 1,0 1,21 1,-3 1,-1 1,-3 1,11 1,-11 1,-33 1,20 1,13 1,-26 1,14 1,-10 1,6 1,-3 1,10 1,3 1,-3 1,-20 1,-5 1,41 1,0 1,-3 1,-29 1,4 1,22 1,-23 1,8 1,19 1,-4 1,29 1,-41 1,-1 1,6 1,-15 1,9 1,35 1,-7 1,-3 1,-31 1,11 1,-5 1,-10 1,-6 1,34 1,1 1,-6 1,12 1,-29 1,15 1,-36 1,45 1,-47 1,31 1,-1 1,13 1,-28 1,-13 1,30 1,-2 1,-27 1,41 1,21 1,-7 1,-42 1,-2 1,6 1,14 1,1 1,-3 1,-37 1,44 1,-14 1,26 1,-24 1,6 1,-19 1,40 1,-36 1,16 1,-30 1,36 1,15 1,-51 1,15 1,-17 1,5 1,31 1,-3 1,-7 1,-19 1,26 1,-14 1,11 1,-38 1,26 1,9 1,-5 1,11 1,-13 1,-5 1,3 1,21 1,9 1,-35 1,34 1,-18 1,-27 1,36 1,-26 1,17 1,15 1,-13 1,-10 1,20 1,1 1,-40 1,12 1,37 1,-27 1,-8 1,10 1,-6 1,-6 1,-8 1,23 1,-11 1,-9 1,36 1,-12 1,13 1,-37 1,21 1,-7 1,-2 1,-17 1,24 1,-8 1,0 1,-20 1,-7 1,9 1,34 1,-30 1,18 1,-7 1,12 1,11 1,-50 1,39 1,-6 1,-10 1,33 1,-20 1,-2 1,-11 1,35 1,-62 1,40 1,-6 1,-2 1,2 1,14 1,2 1,-34 1,-3 1,9 1,7 1,-7 1,32 1,-42 1,27 1,-7 1,-16 1,29 1,-18 1,-4 1,8 1,0 1,7 1,-26 1,36 1,-42 1,3 1,-2 1,23 1,-7 1,-32 1,54 1,3 1,-35 1,-16 1,6 1,8 1,17 1,-34 1,9 1,12 1,2 1,-14 1,9 1,12 1,-2 1,5 1,18 1,-32 1,17 1,-9 1,4 1,-24 1,35 1,-16 1,-28 1,28 1,5 1,-14 1,7 1,-27 1,1 1,22 1,-5 1,45 1,-24 1,-11 1,18 1,-28 1,10 1,-24 1,27 1,-8 1,6 1,-10 1,7 1,28 1,-19 1,0 1,-3 1,3 1,3 1,-18 1,0 1,-12 1,6 1,27 1,-47 1,8 1,25 1,10 1,-10 1,5 1,17 1,-64 1,5 1,27 1,20 1,-42 1,17 1,6 1,-7 1,-6 1,-20 1,52 1,-21 1,-1 1,5 1,-16 1,32 1,-32 1,34 1,-42 1,7 1,-9 1,0 1,28 1,-1 1,-19 1,26 1,-28 1,-10 1,36 1,11 1,-35 1,29 1,0 1,-29 1,5 1,1 1,-23 1,48 1,-12 1,-32 1,49 1,-70 1,47 1,9 1,-16 1,10 1,-10 1,-5 1,-35 1,27 1,13 1,-20 1,28 1,-46 1,17 1,28 1,-14 1,30 1,5 1,-30 1,24 1,-31 1,43 1,-49 1,-14 1,33 1,-4 1,-36 1,22 1,28 1,-28 1,18 1,4 1,-26 1,-5 1,34 1,-7 1,9 1,-58 1,37 1,13 1,-10 1,2 1,4 1,-16 1,39 1,-20 1,-42 1,18 1,49 1,-66 1,14 1,31 1,-17 1,28 1,-36 1,-26 1,16 1,30 1,5 1,-14 1,1 1,-11 1,-40 1,44 1,8 1,-30 1,13 1,-7 1,10 1,-16 1,17 1,4 1,2 1,-25 1,32 1,-38 1,16 1,-6 1,13 1,17 1,-42 1,10 1,42 1,-13 1,-33 1,21 1,22 1,-56 1,9 1,7 1,12 1,-24 1,-1 1,5 1,33 1,-6 1,8 1,7 1,-37 1,19 1,3 1,9 1,-1 1,-16 1,23 1,-28 1,-9 1,-12 1,1 1,34 1,-48 1,6 1,15 1,13 1,-47 1,16 1,8 1,13 1,-9 1,-2 1,-12 1,46 1,-26 1,-40 1,19 1,27 1,-36 1,14 1,-5 1,17 1,-3 1,-23 1,34 1,-43 1,-15 1,41 1,31 1,-8 1,-27 1,-19 1,13 1,26 1,-50 1,53 1,-4 1,-15 1,-20 1,5 1,33 1,-26 1,-22 1,65 1,-27 1,-25 1,-5 1,28 1,-34 1,-10 1,-19 1,2 1,25 1,25 1,-10 1,13 1,-49 1,42 1,-22 1,-4 1,2 1,8 1,-28 1,52 1,-44 1,27 1,-39 1,20 1,-3 1,25 1,-13 1,-2 1,4 1,2 1,-32 1,41 1,-10 1,3 1,-30 1,3 1,41 1,-54 1,35 1,-29 1,-10 1,31 1,14 1,-3 1,-36 1,25 1,-7 1,-35 1,59 1,-22 1,-19 1,30 1,5 1,-25 1,14 1,-7 1,24 1,-22 1,11 1,-6 1,-31 1,28 1,3 1,-44 1,48 1,7 1,-28 1,21 1,-13 1,-8 1,-16 1,28 1,18 1,-9 1,-4 1,-6 1,-18 1,11 1,-13 1,-6 1,19 1,33 1,3 1,-18 1,30 1,-66 1,30 1,2 1,3 1,-16 1,13 1,-11 1,-7 1,10 1,-23 1,19 1,-20 1,46 1,-46 1,26 1,14 1,-26 1,-7 1,38 1,-14 1,-21 1,29 1,-15 1,24 1,-16 1,29 1,-15 1,-9 1,-19 1,10 1,19 1,1 1,-3 1,-31 1,23 1,0 1,-4 1,19 1,-38 1,71 1,-58 1,-1 1,-2 1,-9 1,0 1,20 1,27 1,-7 1,14 1,-19 1,6 1,-19 1,9 1,44 1,-51 1,-17 1,17 1,-3 1,3 1,14 1,-8 1,-25 1,-16 1,38 1,28 1,-38 1,55 1,-34 1,-2 1,13 1,2 1,13 1,17 1,-29 1,15 1,5 1,-34 1,-1 1,-7 1,25 1,5 1,-4 1,20 1,-25 1,3 1,-24 1,-2 1,49 1,-41 1,56 1,-30 1,-30 1,11 1,42 1,-4 1,-56 1,58 1,-16 1,20 1,-9 1,6 1,-11 1,14 1,-20 1,31 1,-16 1,-17 1,0 1,44 1,-20 1,-1 1,15 1,-18 1,19 1,-15 1,-28 1,54 1,-52 1,26 1,11 1,-14 1,35 1,-20 1,-24 1,20 1,-7 1,40 1,-25 1,6 1,-19 1,13 1,-14 1,9 1,22 1,-13 1,-2 1,17 1,13 1,13 1,-50 1,51 1,-35 1,-11 1,21 1,15 1,-27 1,-28 1,14 1,36 1,-20 1,34 1,-31 1,25 1,-41 1,7 1,-11 1,30 1,11 1,-20 1,-6 1,10 1,-41 1,68 1,3 1,-31 1,4 1,-4 1,12 1,3 1,-29 1,2 1,22 1,39 1,-20 1,-43 1,56 1,-18 1,-19 1,31 1,-16 1,-4 1,-6 1,0 1,20 1,-43 1,34 1,1 1,-26 1,8 1,26 1,-28 1,1 1,20 1,-2 1,-21 1,21 1,3 1,5 1,-32 1,39 1,-4 1,-30 1,6 1,9 1,24 1,-13 1,13 1,-42 1,17 1,1 1,16 1,18 1,-18 1,28 1,-33 1,-21 1,38 1,-31 1,54 1,-40 1,2 1,8 1,-18 1,7 1,10 1,-44 1,35 1,-13 1,17 1,3 1,-35 1,11 1,15 1,0 1,2 1,27 1,3 1,-8 1,-20 1,-3 1,-5 1,7 1,23 1,-10 1,2 1,27 1,-35 1,20 1,-71 1,17 1,31 1,-18 1,31 1,-30 1,30 1,-21 1,13 1,-24 1,34 1,-25 1,40 1,-54 1,21 1,-18 1,7 1,-9 1,2 1,44 1,-3 1,-24 1,-1 1,24 1,-19 1,23 1,-26 1,-8 1,23 1,6 1,-16 1,-3 1,13 1,-22 1,52 1,-45 1,-14 1,11 1,-15 1,29 1,-9 1,-10 1,25 1,-20 1,-2 1,2 1,36 1,-27 1,1 1,-40 1,35 1,-17 1,-11 1,0 1,15 1,5 1,-18 1,34 1,-8 1,6 1,7 1,-34 1,22 1,4 1,-8 1,3 1,-12 1,-12 1,50 1,-29 1,-3 1,-10 1,-7 1,15 1,12 1,-37 1,18 1,-15 1,0 1,-2 1,9 1,47 1,-22 1,-44 1,29 1,22 1,-37 1,8 1,9 1,0 1,-36 1,60 1,-48 1,44 1,-42 1,35 1,-22 1,9 1,15 1,-24 1,-17 1,10 1,35 1,-38 1,18 1,-15 1,7 1,15 1,-12 1,-14 1,32 1,-21 1,16 1,0 1,-20 1,-1 1,-17 1,36 1,-13 1,16 1,10 1,-9 1,-52 1,54 1,-29 1,25 1,0 1,-39 1,5 1,-5 1,43 1,-38 1,11 1,-5 1,3 1,18 1,-8 1,-8 1,18 1,-10 1,15 1,-5 1,-30 1,34 1,-5 1,-24 1,6 1,24 1,-4 1,-6 1,-28 1,48 1,-66 1,52 1,-30 1,-1 1,10 1,7 1,-21 1,26 1,3 1,-41 1,15 1,9 1,-5 1,5 1,18 1,-9 1,-12 1,5 1,-17 1,-21 1,54 1,-36 1,-9 1,36 1,14 1,-6 1,15 1,-40 1,7 1,1 1,-12 1,6 1,0 1,35 1,2 1,-26 1,9 1,-41 1,43 1,-40 1,36 1,15 1,-27 1,-6 1,-2 1,6 1,25 1,-1 1,15 1,-31 1,22 1,-2 1,-15 1,-3 1,-14 1,4 1,-19 1,48 1,-19 1,14 1,3 1,-22 1,-7 1,29 1,-11 1,-4 1,15 1,-22 1,-8 1,-6 1,29 1,-2 1,8 1,1 1,-15 1,-2 1,16 1,-1 1,6 1,2 1,-13 1,1 1,11 1,-22 1,11 1,5 1,-37 1,19 1,6 1,-12 1,18 1,8 1,-31 1,28 1,-57 1,36 1,-16 1,58 1,-29 1,11 1,-17 1,27 1,-28 1,8 1,29 1,-79 1,65 1,6 1,-13 1,-24 1,19 1,47 1,-49 1,36 1,-27 1,-10 1,0 1,-22 1,24 1,-3 1,8 1,-13 1,3 1,-11 1,4 1,4 1,10 1,6 1,-13 1,8 1,-26 1,28 1,-18 1,14 1,2 1,14 1,-16 1,17 1,-40 1,17 1,25 1,-40 1,26 1,-7 1,3 1,8 1,-43 1,32 1,-2 1,-2 1,-10 1,31 1,-5 1,3 1,-14 1,-5 1,8 1,5 1,-7 1,2 1,-7 1,24 1,-18 1,-1 1,5 1,7 1,-26 1,29 1,3 1,-15 1,23 1,-4 1,-7 1,-48 1,33 1,-1 1,21 1,-5 1,-5 1,1 1,-18 1,32 1,-2 1,-34 1,16 1,20 1,-39 1,16 1,-10 1,39 1,-32 1,23 1,-39 1,18 1,11 1,-18 1,17 1,-10 1,17 1,-14 1,13 1,-32 1,15 1,4 1,-20 1,33 1,-24 1,10 1,-33 1,22 1,-4 1,17 1,6 1,18 1,-21 1,9 1,-4 1,-11 1,-1 1,4 1,-8 1,9 1,-32 1,34 1,-22 1,10 1,4 1,4 1,20 1,-41 1,0 1,50 1,-33 1,3 1,-34 1,58 1,-53 1,40 1,-23 1,15 1,-16 1,15 1,-2 1,-3 1,-32 1,28 1,0 1,-1 1,-14 1,-5 1,-8 1,28 1,5 1,16 1,-31 1,14 1,-8 1,9 1,-8 1,-4 1,-6 1,13 1,-15 1,30 1,-12 1,-2 1,2 1,-4 1,-10 1,7 1,5 1,-12 1,-11 1,18 1,-23 1,5 1,30 1,-15 1,-11 1,-2 1,-3 1,4 1,2 1,-27 1,25 1,3 1,-13 1,26 1,-22 1,-8 1,8 1,3 1,22 1,-18 1,-21 1,29 1,-8 1,11 1,-12 1,-20 1,11 1,12 1,10 1,-13 1,13 1,-20 1,34 1,-61 1,32 1,4 1,-2 1,-6 1,25 1,-15 1,6 1,18 1,-32 1,-32 1,19 1,12 1,5 1,-2 1,10 1,-24 1,-19 1,0 1,36 1,-67 1,71 1,-16 1,4 1,3 1,-10 1,10 1,-9 1,3 1,23 1,-13 1,-17 1,23 1,-23 1,-15 1,22 1,-17 1,21 1,38 1,-28 1,7 1,-21 1,8 1,-12 1,31 1,-15 1,0 1,21 1,-14 1,-39 1,14 1,-7 1,21 1,1 1,-7 1,2 1,-24 1,19 1,11 1,5 1,5 1,-15 1,-35 1,26 1,-7 1,3 1,6 1,11 1,30 1,-19 1,-45 1,70 1,-34 1,12 1,8 1,-33 1,-3 1,13 1,27 1,1 1,-34 1,38 1,-45 1,37 1,-16 1,10 1,-2 1,5 1,-5 1,3 1,-15 1,-6 1,-1 1,0 1,34 1,-5 1,-45 1,42 1,-24 1,-24 1,35 1,3 1,16 1,6 1,-38 1,2 1,38 1,-16 1,-31 1,49 1,15 1,-53 1,21 1,1 1,7 1,21 1,-63 1,57 1,24 1,-38 1,-31 1,27 1,-11 1,-3 1,28 1,12 1,-14 1,1 1,-48 1,52 1,-6 1,-9 1,-7 1,12 1,6 1,-15 1,14 1,-6 1,18 1,-32 1,-5 1,-27 1,51 1,25 1,-28 1,19 1,-29 1,4 1,11 1,12 1,-23 1,7 1,-8 1,24 1,-22 1,-4 1,-14 1,13 1,19 1,-9 1,-2 1,2 1,14 1,-15 1,12 1,-21 1,39 1,-10 1,6 1,-8 1,-23 1,9 1,24 1,-1 1,-27 1,10 1,18 1,-29 1,19 1,-18 1,5 1,-1 1,-28 1,8 1,34 1,-55 1,46 1,-30 1,25 1,-1 1,-16 1,59 1,-38 1,3 1,-15 1,11 1,-42 1,-9 1,57 1,-15 1,-6 1,-17 1,21 1,-10 1,20 1,-5 1,-13 1,18 1,-27 1,15 1,-19 1,60 1,-33 1,-26 1,35 1,-2 1,17 1,-39 1,15 1,9 1,-23 1,4 1,5 1,24 1,-23 1,-4 1,20 1,-44 1,38 1,-24 1,37 1,6 1,-25 1,-13 1,-6 1,21 1,-13 1,36 1,-37 1,-17 1,23 1,-26 1,31 1,2 1,-5 1,-31 1,16 1,9 1,-12 1,43 1,4 1,-49 1,-2 1,41 1,-31 1,-6 1,34 1,5 1,-31 1,16 1,-9 1,-12 1,-15 1,-11 1,52 1,-6 1,-20 1,11 1,13 1,-3 1,-15 1,-22 1,36 1,-5 1,3 1,13 1,-28 1,27 1,-5 1,-15 1,-7 1,22 1,-10 1,13 1,-43 1,-18 1,21 1,6 1,13 1,-4 1,-7 1,-3 1,-11 1,12 1,20 1,7 1,17 1,-21 1,-20 1,-3 1,27 1,-23 1,5 1,-4 1,-15 1,-23 1,45 1,-1 1,-29 1,23 1,-3 1,-31 1,27 1,-11 1,11 1,-5 1,48 1,-16 1,-17 1,-3 1,-8 1,-3 1,-13 1,-8 1,9 1,3 1,23 1,-7 1,7 1,10 1,-60 1,43 1,-52 1,14 1,3 1,23 1,-22 1,11 1,3 1,-5 1,16 1,-18 1,15 1,-49 1,51 1,-10 1,-23 1,-14 1,44 1,-1 1,-25 1,35 1,-12 1,1 1,-7 1,-12 1,28 1,-16 1,-40 1,13 1,-10 1,27 1,-7 1,6 1,-7 1,-4 1,25 1,-15 1,7 1,13 1,-70 1,56 1,12 1,-31 1,36 1,-57 1,83 1,-76 1,25 1,-33 1,34 1,-12 1,-11 1,-32 1,47 1,23 1,-23 1,11 1,-37 1,-14 1,38 1,7 1,-18 1,-1 1,6 1,-4 1,-4 1,-20 1,4 1,11 1,-3 1,43 1,-17 1,-7 1,28 1,-49 1,37 1,-24 1,28 1,-58 1,50 1,-23 1,11 1,22 1,-5 1,-22 1,5 1,15 1,-3 1,5 1,-20 1,4 1,-12 1,37 1,-45 1,42 1,-24 1,50 1,-24 1,-5 1,6 1,15 1,-49 1,42 1,-27 1,16 1,-19 1,24 1,2 1,15 1,1 1,-44 1,44 1,21 1,-12 1,-4 1,-4 1,-2 1,18 1,-21 1,10 1,26 1,-44 1,37 1,-24 1,11 1,18 1,-1 1,-9 1,13 1,-7 1,-11 1,5 1,3 1,27 1,-38 1,28 1,35 1,-27 1,-8 1,-6 1,-1 1,18 1,-8 1,7 1,-15 1,-12 1,64 1,-26 1,27 1,-16 1,19 1,-39 1,11 1,-3 1,19 1,-27 1,19 1,7 1,-15 1,35 1,-25 1,-1 1,18 1,-15 1,20 1,0 1,-10 1,21 1,-30 1,4 1,-4 1,-1 1,11 1,-1 1,-3 1,8 1,-9 1,-6 1,18 1,-3 1,-12 1,9 1,10 1,-1 1,-7 1,28 1,-30 1,32 1,-28 1,17 1,-2 1,-36 1,31 1,-10 1,12 1,-8 1,-6 1,23 1,-23 1,0 1,0 1,12 1,-10 1,11 1,-18 1,40 1,-28 1,-11 1,-3 1,17 1,6 1,-3 1,-3 1,19 1,7 1,-37 1,9 1,-4 1,4 1,1 1,7 1,9 1,-30 1,15 1,-25 1,20 1,22 1,-26 1,19 1,5 1,-20 1,11 1,-9 1,-6 1,7 1,-4 1,19 1,-3 1,16 1,-33 1,12 1,-15 1,13 1,-8 1,27 1,-14 1,-9 1,-22 1,42 1,-9 1,-22 1,24 1,3 1,-10 1,24 1,-8 1,1 1,-14 1,0 1,15 1,-13 1,-13 1,32 1,-46 1,1 1,39 1,-27 1,11 1,-7 1,10 1,-8 1,27 1,-28 1,29 1,-31 1,11 1,5 1,-6 1,-25 1,45 1,-29 1,32 1,-27 1,-22 1,-4 1,18 1,8 1,3 1,-14 1,-2 1,7 1,4 1,1 1,-13 1,38 1,-3 1,-4 1,3 1,-27 1,8 1,13 1,-5 1,6 1,0 1,-7 1,11 1,-5 1,-12 1,-13 1,30 1,16 1,-26 1,1 1,-3 1,20 1,-36 1,20 1,-8 1,10 1,-3 1,-8 1,7 1,-6 1,20 1,-13 1,-13 1,17 1,-22 1,-2 1,22 1,9 1,-1 1,-15 1,14 1,-7 1,16 1,-29 1,10 1,16 1,5 1,-29 1,18 1,5 1,4 1,-16 1,-1 1,13 1,-20 1,32 1,-16 1,5 1,-11 1,-6 1,14 1,-25 1,5 1,21 1,-20 1,-6 1,36 1,-13 1,8 1,-19 1,8 1,-19 1,19 1,-20 1,37 1,-29 1,-7 1,42 1,-23 1,-1 1,-1 1,11 1,1 1,-3 1,-8 1,19 1,2 1,-9 1,-22 1,10 1,11 1,-6 1,8 1,-9 1,0 1,9 1,5 1,-28 1,16 1,9 1,-7 1,3 1,-10 1,10 1,15 1,-30 1,19 1,-12 1,-6 1,16 1,-3 1,12 1,-14 1,-6 1,8 1,-4 1,8 1,-2 1,-17 1,-17 1,33 1,-21 1,36 1,-11 1,9 1,-1 1,-17 1,-3 1,2 1,7 1,-1 1,-9 1,8 1,-26 1,24 1,14 1,0 1,-17 1,-6 1,-13 1,26 1,-14 1,8 1,-13 1,16 1,-17 1,-3 1,14 1,5 1,-14 1,-9 1,7 1,27 1,0 1,-24 1,11 1,-14 1,18 1,-31 1,21 1,-3 1,-3 1,-11 1,20 1,-8 1,4 1,10 1,12 1,-17 1,21 1,-34 1,-4 1,6 1,30 1,-13 1,-9 1,-18 1,38 1,-28 1,0 1,8 1,5 1,-15 1,6 1,-6 1,9 1,3 1,6 1,-21 1,-5 1,30 1,7 1,-10 1,-5 1,-2 1,9 1,-17 1,-10 1,5 1,4 1,5 1,10 1,-9 1,15 1,-10 1,-8 1,2 1,-19 1,29 1,-9 1,26 1,-37 1,8 1,-9 1,13 1,-3 1,8 1,5 1,1 1,-24 1,7 1,18 1,-27 1,17 1,-15 1,20 1,-12 1,-7 1,-24 1,56 1,-7 1,-3 1,-21 1,21 1,-16 1,10 1,0 1,-3 1,-17 1,21 1,-15 1,6 1,-15 1,19 1,-8 1,6 1,-10 1,31 1,-23 1,-2 1,-17 1,23 1,5 1,1 1,17 1,-35 1,1 1,13 1,-4 1,8 1,-7 1,-18 1,26 1,-37 1,12 1,22 1,-16 1,18 1,-26 1,1 1,-5 1,59 1,-47 1,16 1,-21 1,9 1,5 1,-20 1,27 1,-17 1,4 1,9 1,-8 1,4 1,-8 1,-4 1,6 1,7 1,-10 1,3 1,-7 1,10 1,24 1,-30 1,-8 1,11 1,-14 1,0 1,41 1,-11 1,-4 1,4 1,-22 1,3 1,12 1,9 1,-25 1,10 1,-8 1,-1 1,25 1,-16 1,1 1,-14 1,12 1,3 1,-27 1,43 1,-33 1,14 1,12 1,-16 1,-7 1,-18 1,30 1,3 1,-8 1,-7 1,18 1,-15 1,12 1,3 1,-16 1,1 1,12 1,-11 1,17 1,4 1,1 1,-15 1,-1 1,6 1,1 1,-9 1,11 1,-4 1,-13 1,2 1,33 1,-33 1,-2 1,5 1,-1 1,12 1,-34 1,37 1,-30 1,27 1,-21 1,-20 1,33 1,24 1,-40 1,26 1,-2 1,-25 1,29 1,-8 1,1 1,-16 1,23 1,-10 1,7 1,2 1,18 1,-30 1,-9 1,9 1,-8 1,-14 1,10 1,17 1,6 1,-21 1,28 1,-7 1,-6 1,8 1,-7 1,-25 1,29 1,-43 1,24 1,2 1,-4 1,20 1,-6 1,-18 1,2 1,10 1,4 1,-7 1,-8 1,16 1,-13 1,5 1,16 1,-16 1,11 1,3 1,25 1,-33 1,8 1,-18 1,0 1,29 1,-23 1,14 1,-4 1,-15 1,15 1,2 1,-7 1,-9 1,3 1,0 1,2 1,16 1,-1 1,-14 1,-24 1,29 1,-13 1,-1 1,9 1,13 1,-25 1,22 1,-25 1,18 1,4 1,-18 1,15 1,-8 1,3 1,10 1,-30 1,30 1,15 1,-31 1,-5 1,-7 1,34 1,-14 1,8 1,6 1,-41 1,21 1,2 1,3 1,6 1,-18 1,12 1,6 1,-10 1,3 1,10 1,-4 1,-33 1,17 1,8 1,-13 1,17 1,7 1,8 1,-26 1,35 1,-26 1,4 1,-11 1,8 1,6 1,-7 1,-2 1,-15 1,11 1,6 1,5 1,-8 1,27 1,-5 1,-30 1,6 1,4 1,-10 1,0 1,7 1,0 1,8 1,-20 1,10 1,14 1,-5 1,22 1,-17 1,7 1,-16 1,8 1,4 1,-4 1,-12 1,37 1,-18 1,-25 1,41 1,-5 1,-32 1,3 1,-5 1,16 1,24 1,-13 1,-7 1,-9 1,19 1,-30 1,-5 1,12 1,7 1,20 1,-22 1,-6 1,-7 1,11 1,10 1,-10 1,-5 1,27 1,-34 1,13 1,0 1,-21 1,23 1,-10 1,6 1,19 1,-20 1,-4 1,19 1,-8 1,-11 1,2 1,-23 1,27 1,-4 1,-11 1,21 1,-10 1,0 1,12 1,17 1,-22 1,11 1,-17 1,13 1,-3 1,-28 1,19 1,19 1,-24 1,12 1,10 1,-23 1,15 1,0 1,-30 1,10 1,20 1,-8 1,9 1,-6 1,1 1,-4 1,27 1,-43 1,19 1,32 1,-41 1,6 1,-4 1,-15 1,9 1,-6 1,30 1,-11 1,2 1,-25 1,55 1,-25 1,11 1,-18 1,18 1,-25 1,-5 1,6 1,3 1,-1 1,-8 1,23 1,-18 1,7 1,19 1,-19 1,6 1,-23 1,34 1,-15 1,4 1,-7 1,11 1,-8 1,-4 1,-2 1,-14 1,11 1,28 1,-3 1,-25 1,-2 1,36 1,-10 1,-22 1,10 1,-15 1,0 1,14 1,-6 1,4 1,-7 1,2 1,-22 1,27 1,-7 1,3 1,-14 1,34 1,-7 1,-17 1,4 1,7 1,-13 1,12 1,0 1,24 1,-6 1,-17 1,-8 1,8 1,12 1,-7 1,-23 1,21 1,12 1,-32 1,9 1,12 1,10 1,-15 1,4 1,2 1,-22 1,11 1,-1 1,9 1,5 1,-27 1,20 1,7 1,4 1,-3 1,-23 1,14 1,-25 1,17 1,24 1,-6 1,-9 1,-2 1,5 1,-22 1,16 1,-24 1,20 1,-1 1,-13 1,-3 1,5 1,6 1,4 1,12 1,-7 1,3 1,-37 1,19 1,20 1,-13 1,-2 1,-12 1,17 1,0 1,11 1,9 1,3 1,-38 1,25 1,9 1,-28 1,1 1,23 1,-35 1,44 1,-57 1,27 1,-17 1,29 1,-8 1,9 1,-4 1,-2 1,22 1,-19 1,4 1,-10 1,-3 1,32 1,-30 1,20 1,-21 1,2 1,14 1,13 1,-31 1,-4 1,0 1,19 1,-12 1,21 1,-21 1,10 1,-9 1,-8 1,28 1,-20 1,10 1,-5 1,0 1,8 1,-9 1,0 1,-9 1,5 1,28 1,-36 1,20 1,-15 1,24 1,-15 1,-8 1,-6 1,3 1,11 1,-25 1,22 1,18 1,-26 1,-4 1,10 1,14 1,-15 1,-1 1,-8 1,17 1,9 1,-34 1,36 1,-7 1,-10 1,-19 1,29 1,-7 1,19 1,-23 1,-4 1,-10 1,40 1,-31 1,-4 1,15 1,-16 1,5 1,-3 1,33 1,-39 1,16 1,-2 1,3 1,1 1,17 1,-50 1,49 1,-28 1,-8 1,5 1,2 1,0 1,6 1,7 1,12 1,8 1,-15 1,-9 1,8 1,4 1,-17 1,10 1,-12 1,7 1,0 1,-11 1,-8 1,10 1,16 1,-9 1,-19 1,29 1,4 1,-23 1,-7 1,19 1,-33 1,16 1,14 1,-6 1,4 1,12 1,2 1,-2 1,-13 1,-7 1,28 1,-14 1,2 1,-15 1,28 1,-13 1,-16 1,-4 1,6 1,-1 1,-3 1,3 1,14 1,20 1,-64 1,29 1,4 1,-11 1,23 1,-12 1,10 1,21 1,-36 1,16 1,-12 1,6 1,3 1,-7 1,31 1,-11 1,-40 1,31 1,-29 1,36 1,3 1,-28 1,20 1,-31 1,18 1,-10 1,19 1,-7 1,6 1,-20 1,12 1,1 1,-13 1,15 1,-6 1,-15 1,-4 1,54 1,-34 1,5 1,17 1,-31 1,13 1,10 1,-28 1,0 1,-1 1,38 1,-1 1,-24 1,17 1,-29 1,28 1,-15 1,-7 1,-7 1,9 1,-11 1,45 1,-24 1,-6 1,15 1,-11 1,9 1,-19 1,-2 1,24 1,1 1,-33 1,24 1,10 1,-16 1,2 1,0 1,8 1,-9 1,1 1,-1 1,-2 1,21 1,-10 1,-21 1,4 1,16 1,15 1,-27 1,6 1,-8 1,-7 1,-26 1,27 1,18 1,7 1,-7 1,-2 1,-21 1,8 1,23 1,-3 1,-14 1,-16 1,18 1,-9 1,8 1,-18 1,16 1,7 1,-8 1,4 1,-1 1,-6 1,-10 1,8 1,9 1,-6 1,8 1,-15 1,33 1,-20 1,-10 1,-5 1,19 1,-7 1,5 1,8 1,13 1,-34 1,1 1,0 1,22 1,0 1,-2 1,1 1,-19 1,10 1,-2 1,-1 1,-7 1,11 1,0 1,5 1,-33 1,17 1,-18 1,28 1,-5 1,-15 1,25 1,-14 1,9 1,-19 1,43 1,-50 1,18 1,3 1,-2 1,19 1,-7 1,-12 1,5 1,-9 1,-17 1,14 1,-5 1,15 1,-12 1,14 1,-20 1,21 1,-5 1,10 1,-12 1,10 1,-4 1,-6 1,-3 1,1 1,9 1,2 1,11 1,-18 1,-14 1,28 1,-14 1,-13 1,45 1,-24 1,-8 1,12 1,-29 1,16 1,-15 1,0 1,7 1,-24 1,46 1,-27 1,17 1,19 1,-5 1,-13 1,-14 1,12 1,-9 1,15 1,-31 1,22 1,-1 1,27 1,-38 1,14 1,-13 1,-2 1,-11 1,30 1,8 1,3 1,-30 1,5 1,7 1,-10 1,-3 1,4 1,26 1,11 1,-49 1,21 1,9 1,-19 1,12 1,16 1,-7 1,-16 1,5 1,23 1,-23 1,18 1,-27 1,26 1,-2 1,7 1,-6 1,-3 1,-15 1,15 1,-16 1,-2 1,-1 1,1 1,37 1,-65 1,12 1,1 1,22 1,3 1,-31 1,30 1,-10 1,21 1,4 1,-35 1,31 1,-19 1,-3 1,-26 1,27 1,26 1,-5 1,-22 1,21 1,-46 1,48 1,-5 1,-43 1,20 1,0 1,11 1,4 1,-8 1,-33 1,24 1,14 1,-25 1,25 1,-11 1,7 1,1 1,-1 1,1 1,3 1,-9 1,-20 1,14 1,10 1,-14 1,-32 1,43 1,-24 1,24 1,8 1,-5 1,27 1,-38 1,8 1,6 1,-15 1,25 1,-24 1,9 1,-13 1,-13 1,31 1,6 1,-13 1,-16 1,1 1,21 1,-10 1,-37 1,17 1,-14 1,42 1,-17 1,-12 1,37 1,-44 1,14 1,9 1,-21 1,5 1,-1 1,0 1,14 1,1 1,-15 1,20 1,-5 1,-18 1,10 1,2 1,13 1,-22 1,-12 1,10 1,17 1,6 1,-27 1,-2 1,1 1,45 1,-38 1,17 1,-19 1,8 1,-23 1,4 1,14 1,9 1,-8 1,-27 1,37 1,-9 1,-5 1,2 1,0 1,-14 1,8 1,-5 1,-23 1,13 1,10 1,-6 1,-10 1,6 1,9 1,-3 1,15 1,-26 1,17 1,-1 1,-2 1,-8 1,29 1,-10 1,-21 1,-27 1,13 1,30 1,-3 1,22 1,-15 1,-44 1,32 1,-7 1,-9 1,21 1,2 1,-26 1,21 1,-19 1,10 1,-13 1,-13 1,45 1,-21 1,11 1,-27 1,28 1,-23 1,5 1,25 1,-10 1,9 1,-12 1,5 1,-18 1,5 1,9 1,6 1,-35 1,-9 1,39 1,5 1,-23 1,28 1,-18 1,3 1,4 1,-54 1,52 1,-34 1,34 1,-30 1,11 1,5 1,-8 1,-10 1,9 1,-1 1,8 1,-29 1,25 1,-13 1,2 1,39 1,-24 1,10 1,-5 1,-21 1,11 1,-22 1,0 1,31 1,-11 1,3 1,-22 1,0 1,17 1,0 1,22 1,-40 1,-5 1,13 1,8 1,13 1,4 1,0 1,9 1,-19 1,-28 1,28 1,-28 1,26 1,-24 1,11 1,6 1,-7 1,29 1,-53 1,24 1,20 1,-19 1,49 1,-51 1,21 1,-21 1,7 1,3 1,-20 1,0 1,29 1,-44 1,25 1,12 1,-19 1,-2 1,1 1,25 1,21 1,-14 1,-23 1,-2 1,7 1,-20 1,24 1,5 1,-2 1,-15 1,-20 1,8 1,28 1,-7 1,-2 1,28 1,-21 1,7 1,-21 1,21 1,-32 1,14 1,-18 1,10 1,36 1,-48 1,48 1,-21 1,10 1,-20 1,48 1,-49 1,7 1,-4 1,-7 1,8 1,23 1,-5 1,-19 1,-8 1,15 1,-16 1,23 1,-16 1,-1 1,28 1,-30 1,45 1,-41 1,8 1,17 1,-11 1,-16 1,0 1,11 1,-2 1,14 1,-9 1,3 1,16 1,-27 1,13 1,-3 1,4 1,-17 1,0 1,-4 1,29 1,-1 1,-15 1,-1 1,-11 1,48 1,-20 1,-6 1,16 1,-41 1,-12 1,45 1,-18 1,6 1,-35 1,15 1,5 1,20 1,-32 1,-2 1,6 1,-8 1,-9 1,46 1,-33 1,0 1,18 1,-2 1,6 1,-23 1,-2 1,-10 1,8 1,16 1,-20 1,-28 1,44 1,-15 1,-18 1,18 1,-3 1,-31 1,44 1,-21 1,12 1,-14 1,26 1,-27 1,18 1,-34 1,-40 1,43 1,30 1,-24 1,24 1,-6 1,-36 1,20 1,-23 1,4 1,19 1,-3 1,-8 1,14 1,-8 1,-25 1,17 1,-28 1,40 1,-31 1,35 1,-51 1,28 1,-3 1,-4 1,16 1,-39 1,73 1,-57 1,-2 1,26 1,-20 1,-4 1,1 1,-21 1,42 1,-14 1,28 1,-29 1,-23 1,21 1,-15 1,10 1,-8 1,1 1,-37 1,62 1,-24 1,-41 1,8 1,23 1,38 1,-41 1,-5 1,16 1,-22 1,-3 1,4 1,5 1,-7 1,7 1,-4 1,-1 1,6 1,-39 1,40 1,9 1,-20 1,-3 1,-14 1,5 1,-13 1,49 1,-30 1,27 1,-2 1,-42 1,53 1,-27 1,22 1,-21 1,-4 1,-7 1,-7 1,2 1,2 1,16 1,25 1,-7 1,-17 1,25 1,-10 1,-31 1,2 1,-3 1,33 1,-10 1,-19 1,23 1,10 1,-42 1,53 1,-45 1,8 1,9 1,39 1,-29 1,-4 1,-15 1,-4 1,41 1,-15 1,-14 1,13 1,-19 1,73 1,-61 1,-2 1,10 1,3 1,-27 1,21 1,37 1,-53 1,44 1,-5 1,-47 1,37 1,10 1,-28 1,35 1,-30 1,38 1,-23 1,-11 1,12 1,18 1,10 1,-30 1,32 1,-14 1,-26 1,2 1,15 1,20 1,-9 1,12 1,-36 1,25 1,29 1,9 1,-42 1,4 1,31 1,-26 1,31 1,7 1,-5 1,-6 1,-7 1,1 1,-17 1,41 1,-32 1,0 1,9 1,25 1,-31 1,34 1,-5 1,-14 1,12 1,20 1,-22 1,20 1,-29 1,14 1,10 1,-31 1,26 1,7 1,-2 1,-3 1,-3 1,21 1,-16 1,18 1,-17 1,-13 1,37 1,-15 1,-9 1,20 1,0 1,1 1,-11 1,13 1,-37 1,19 1,-2 1,31 1,-2 1,-14 1,35 1,-27 1,27 1,-45 1,9 1,-2 1,14 1,26 1,-21 1,28 1,-3 1,-34 1,1 1,50 1,-29 1,5 1,-12 1,-10 1,28 1,-19 1,0 1,-4 1,26 1,-2 1,18 1,-38 1,32 1,-13 1,-1 1,-7 1,3 1,18 1,9 1,-22 1,8 1,-23 1,38 1,0 1,-12 1,11 1,4 1,-3 1,-21 1,7 1,-5 1,20 1,-4 1,-9 1,18 1,-12 1,25 1,-38 1,28 1,-10 1,5 1,-13 1,9 1,7 1,0 1,9 1,-1 1,12 1,-27 1,25 1,-22 1,18 1,-13 1,9 1,-12 1,7 1,-6 1,-4 1,19 1,-1 1,-28 1,25 1,2 1,8 1,-31 1,12 1,6 1,6 1,-4 1,6 1,-26 1,31 1,16 1,-10 1,-21 1,-14 1,30 1,-18 1,-14 1,18 1,35 1,-46 1,23 1,-5 1,-9 1,5 1,21 1,-17 1,-5 1,-6 1,32 1,-43 1,23 1,0 1,-1 1,1 1,2 1,7 1,-21 1,20 1,-8 1,7 1,4 1,4 1,-15 1,11 1,-15 1,8 1,10 1,-10 1,-6 1,12 1,3 1,-1 1,3 1,9 1,-22 1,25 1,-10 1,-9 1,7 1,2 1,-2 1,-4 1,-14 1,-6 1,29 1,-15 1,12 1,-18 1,-3 1,21 1,-10 1,-10 1,0 1,9 1,12 1,-12 1,4 1,-12 1,21 1,-10 1,20 1,-18 1,-1 1,-21 1,38 1,-17 1,11 1,-3 1,-18 1,31 1,8 1,-17 1,-16 1,-13 1,13 1,9 1,-1 1,1 1,17 1,-12 1,3 1,-10 1,-15 1,27 1,8 1,-1 1,3 1,-9 1,14 1,-31 1,15 1,-24 1,19 1,0 1,-6 1,-12 1,17 1,18 1,-9 1,0 1,-35 1,19 1,10 1,-5 1,3 1,1 1,8 1,-11 1,-17 1,39 1,-15 1,-23 1,21 1,23 1,-33 1,26 1,-22 1,-8 1,-2 1,31 1,-27 1,10 1,4 1,-18 1,5 1,5 1,6 1,0 1,-13 1,5 1,-13 1,27 1,-22 1,11 1,-18 1,18 1,1 1,10 1,-21 1,4 1,-10 1,1 1,8 1,-4 1,19 1,-28 1,21 1,-1 1,-18 1,33 1,-31 1,15 1,-2 1,1 1,0 1,-8 1,-18 1,26 1,10 1,-16 1,9 1,8 1,-26 1,19 1,-14 1,5 1,-2 1,-15 1,20 1,-19 1,26 1,-20 1,-3 1,-11 1,8 1,11 1,-9 1,21 1,-17 1,9 1,-1 1,2 1,-18 1,6 1,13 1,-13 1,17 1,-14 1,9 1,-13 1,-2 1,37 1,-40 1,18 1,5 1,-5 1,13 1,-23 1,7 1,18 1,-29 1,7 1,2 1,-8 1,9 1,0 1,5 1,-2 1,3 1,-10 1,10 1,-11 1,0 1,12 1,2 1,-14 1,11 1,-23 1,38 1,-10 1,-30 1,38 1,-1 1,-26 1,13 1,-13 1,-1 1,28 1,-13 1,2 1,-6 1,-13 1,16 1,-8 1,-10 1,7 1,6 1,0 1,-5 1,-10 1,5 1,19 1,-15 1,9 1,-10 1,14 1,-19 1,5 1,15 1,-15 1,6 1,30 1,-11 1,-14 1,1 1,11 1,-24 1,31 1,-46 1,5 1,-1 1,16 1,-3 1,-32 1,38 1,-15 1,-10 1,15 1,-25 1,20 1,22 1,-12 1,10 1,0 1,19 1,-22 1,16 1,-46 1,38 1,-16 1,7 1,-15 1,-1 1,26 1,-10 1,-15 1,-8 1,16 1,9 1,-16 1,8 1,-24 1,7 1,31 1,-7 1,-7 1,-5 1,-9 1,15 1,12 1,-14 1,12 1,-30 1,6 1,25 1,-39 1,16 1,15 1,8 1,-31 1,11 1,10 1,18 1,-30 1,24 1,-5 1,-28 1,28 1,4 1,1 1,-8 1,-1 1,2 1,9 1,0 1,-24 1,12 1,-14 1,28 1,-5 1,-20 1,6 1,9 1,13 1,-8 1,9 1,-18 1,24 1,-34 1,20 1,-12 1,21 1,-20 1,14 1,11 1,-29 1,27 1,-42 1,26 1,3 1,-14 1,16 1,-7 1,-8 1,24 1,-28 1,29 1,-11 1,-7 1,3 1,-4 1,22 1,11 1,-23 1,1 1,13 1,-10 1,2 1,7 1,-5 1,7 1,0 1,-13 1,-14 1,1 1,30 1,-8 1,8 1,10 1,-14 1,-16 1,22 1,-28 1,14 1,1 1,-5 1,9 1,1 1,-19 1,13 1,7 1,5 1,1 1,-13 1,1 1,8 1,-17 1,24 1,-10 1,9 1,1 1,-14 1,17 1,-14 1,-4 1,-5 1,29 1,-28 1,18 1,-3 1,3 1,4 1,-8 1,-5 1,21 1,-11 1,2 1,-1 1,-13 1,11 1,3 1,-18 1,18 1,-14 1,8 1,-2 1,18 1,-30 1,11 1,0 1,-2 1,23 1,-7 1,4 1,-32 1,9 1,10 1,-7 1,4 1,-10 1,3 1,11 1,4 1,8 1,9 1,-11 1,-7 1,-6 1,-1 1,8 1,8 1,-21 1,19 1,-43 1,34 1,4 1,2 1,-22 1,27 1,-9 1,-5 1,0 1,-7 1,24 1,4 1,-9 1,0 1,-14 1,-11 1,26 1,-22 1,23 1,-21 1,12 1,-10 1,-6 1,6 1,3 1,13 1,-8 1,-1 1,1 1,12 1,-14 1,15 1,-2 1,7 1,-22 1,-3 1,-8 1,24 1,-1 1,0 1,-30 1,33 1,-3 1,-3 1,16 1,2 1,-25 1,17 1,-17 1,-5 1,13 1,11 1,-11 1,14 1,-17 1,0 1,4 1,18 1,-17 1,18 1,-17 1,-13 1,24 1,-36 1,27 1,-11 1,3 1,-1 1,13 1,-12 1,3 1,22 1,-15 1,-1 1,-14 1,7 1,4 1,11 1,-1 1,-27 1,37 1,-3 1,-26 1,30 1,-10 1,-5 1,-14 1,-4 1,-5 1,17 1,18 1,-19 1,-7 1,-2 1,4 1,13 1,-15 1,9 1,-11 1,1 1,16 1,-32 1,32 1,-4 1,-1 1,1 1,-15 1,18 1,-2 1,-8 1,10 1,2 1,2 1,1 1,-11 1,9 1,-13 1,3 1,-1 1,-1 1,-1 1,5 1,0 1,-7 1,-8 1,14 1,4 1,-9 1,3 1,16 1,-4 1,-8 1,8 1,-9 1,-13 1,10 1,7 1,22 1,-25 1,-23 1,21 1,8 1,1 1,-22 1,18 1,3 1,-1 1,14 1,-21 1,3 1,12 1,3 1,-12 1,-1 1,-2 1,4 1,0 1,-21 1,36 1,-15 1,-1 1,11 1,-19 1,6 1,-17 1,29 1,-23 1,2 1,12 1,7 1,-18 1,8 1,-3 1,-6 1,3 1,-5 1,7 1,-4 1,15 1,-5 1,10 1,-11 1,3 1,7 1,-19 1,10 1,12 1,-30 1,7 1,13 1,-3 1,-13 1,26 1,-45 1,22 1,2 1,4 1,-10 1,11 1,7 1,-23 1,17 1,-1 1,-8 1,10 1,4 1,-13 1,-3 1,-1 1,1 1,27 1,-20 1,-2 1,-8 1,25 1,-12 1,2 1,-4 1,-5 1,8 1,4 1,2 1,4 1,-17 1,-2 1,2 1,13 1,-11 1,1 1,3 1,17 1,-30 1,1 1,35 1,-37 1,13 1,8 1,-25 1,16 1,0 1,-2 1,15 1,-11 1,12 1,-15 1,-5 1,4 1,6 1,2 1,4 1,-10 1,-5 1,6 1,-5 1,11 1,7 1,-12 1,-9 1,10 1,9 1,-6 1,-3 1,-7 1,4 1,11 1,-25 1,22 1,1 1,-6 1,-13 1,17 1,5 1,-24 1,2 1,11 1,-6 1,15 1,1 1,-19 1,9 1,-19 1,21 1,4 1,-7 1,4 1,-10 1,-5 1,16 1,0 1,-11 1,10 1,1 1,-13 1,14 1,10 1,-18 1,-4 1,13 1,-13 1,2 1,26 1,-26 1,10 1,-11 1,-1 1,6 1,3 1,6 1,-18 1,18 1,6 1,-35 1,13 1,-3 1,13 1,-1 1,2 1,-6 1,5 1,3 1,-2 1,-10 1,13 1,-28 1,21 1,2 1,1 1,-16 1,47 1,-8 1,-13 1,-6 1,-6 1,-1 1,-13 1,25 1,-19 1,5 1,8 1,-12 1,-3 1,8 1,-5 1,1 1,10 1,11 1,-14 1,12 1,5 1,-5 1,-26 1,20 1,0 1,-13 1,9 1,8 1,-18 1,11 1,-12 1,22 1,1 1,-14 1,-4 1,-7 1,8 1,-17 1,15 1,6 1,3 1,9 1,-14 1,8 1,-11 1,10 1,10 1,-5 1,-11 1,-5 1,-7 1,16 1,-12 1,8 1,13 1,-5 1,-14 1,-9 1,24 1,-21 1,21 1,-12 1,1 1,-1 1,4 1,-3 1,21 1,-21 1,-1 1,12 1,-6 1,13 1,-3 1,-8 1,-1 1,-4 1,23 1,-9 1,-16 1,10 1,-18 1,13 1,-9 1,23 1,-10 1,-21 1,13 1,-9 1,18 1,11 1,-17 1,15 1,-17 1,-8 1,11 1,-17 1,6 1,-1 1,3 1,13 1,6 1,1 1,-11 1,-1 1,8 1,-7 1,-34 1,31 1,23 1,-25 1,1 1,-6 1,-9 1,20 1,7 1,-21 1,8 1,-8 1,11 1,-4 1,7 1,3 1,-3 1,-5 1,12 1,10 1,-16 1,-3 1,2 1,-3 1,8 1,-23 1,-10 1,19 1,3 1,17 1,-7 1,-31 1,34 1,-13 1,22 1,-25 1,-1 1,14 1,3 1,6 1,-3 1,-9 1,-20 1,5 1,7 1,-2 1,20 1,-13 1,2 1,8 1,-10 1,-9 1,-5 1,1 1,19 1,1 1,-9 1,6 1,11 1,-15 1,-15 1,27 1,-11 1,-8 1,0 1,9 1,-8 1,16 1,-14 1,4 1,-6 1,-10 1,16 1,12 1,-14 1,16 1,-7 1,-6 1,1 1,16 1,-9 1,-35 1,28 1,-3 1,1 1,-9 1,-16 1,30 1,2 1,2 1,7 1,-14 1,1 1,-3 1,-2 1,-11 1,1 1,2 1,6 1,15 1,-33 1,26 1,-9 1,-7 1,15 1,-3 1,5 1,17 1,-41 1,23 1,-11 1,-12 1,13 1,4 1,1 1,-3 1,13 1,-22 1,1 1,7 1,10 1,-3 1,-32 1,29 1,10 1,-26 1,23 1,-9 1,23 1,-12 1,-11 1,9 1,4 1,-26 1,5 1,-2 1,6 1,9 1,-3 1,-1 1,10 1,-7 1,4 1,-6 1,4 1,-10 1,0 1,9 1,-11 1,28 1,-28 1,12 1,11 1,-30 1,46 1,-17 1,-5 1,-9 1,3 1,9 1,6 1,-12 1,-23 1,27 1,0 1,1 1,-4 1,8 1,-12 1,21 1,-9 1,-3 1,-15 1,21 1,3 1,-26 1,21 1,8 1,-21 1,9 1,-6 1,-8 1,4 1,8 1,-12 1,5 1,8 1,-32 1,19 1,8 1,-9 1,10 1,8 1,-6 1,-1 1,-10 1,6 1,2 1,-2 1,-1 1,12 1,-26 1,11 1,8 1,-18 1,-11 1,2 1,8 1,-5 1,12 1,4 1,7 1,-7 1,26 1,-36 1,20 1,-1 1,-2 1,13 1,-34 1,-1 1,23 1,0 1,-4 1,-5 1,-6 1,20 1,-18 1,9 1,-18 1,2 1,17 1,0 1,-6 1,23 1,-15 1,11 1,-23 1,-3 1,9 1,3 1,13 1,-11 1,-1 1,6 1,2 1,-20 1,27 1,-6 1,-20 1,3 1,18 1,-18 1,8 1,1 1,10 1,-16 1,-12 1,16 1,8 1,-25 1,18 1,10 1,-1 1,-18 1,14 1,-3 1,-16 1,3 1,30 1,-33 1,15 1,5 1,9 1,-10 1,-21 1,9 1,15 1,-3 1,-10 1,17 1,-4 1,-13 1,-4 1,27 1,-34 1,27 1,-9 1,-10 1,-2 1,-5 1,8 1,4 1,1 1,11 1,6 1,-20 1,17 1,-10 1,-3 1,-11 1,-7 1,10 1,12 1,2 1,-7 1,8 1,-4 1,-6 1,-17 1,37 1,-7 1,-2 1,-12 1,0 1,5 1,17 1,-18 1,21 1,-39 1,28 1,-2 1,3 1,-25 1,2 1,7 1,7 1,-14 1,5 1,-2 1,7 1,8 1,-8 1,3 1,-12 1,5 1,23 1,-16 1,2 1,0 1,-3 1,10 1,-11 1,15 1,1 1,-16 1,9 1,-9 1,-8 1,18 1,-16 1,6 1,-8 1,9 1,4 1,-5 1,-7 1,7 1,13 1,-8 1,-1 1,-6 1,-9 1,8 1,12 1,-11 1,5 1,3 1,-4 1,18 1,-9 1,2 1,-29 1,16 1,-4 1,15 1,-11 1,2 1,0 1,-11 1,-5 1,16 1,-6 1,5 1,9 1,-2 1,-25 1,20 1,2 1,-8 1,-10 1,23 1,-10 1,8 1,3 1,-8 1,-3 1,4 1,-15 1,10 1,1 1,3 1,9 1,3 1,-22 1,9 1,9 1,-11 1,-6 1,3 1,12 1,-9 1,-1 1,-8 1,17 1,-9 1,-3 1,3 1,12 1,5 1,-19 1,10 1,-8 1,2 1,-11 1,19 1,-13 1,14 1,-4 1,0 1,-2 1,8 1,-7 1,-11 1,-2 1,28 1,-22 1,0 1,-5 1,9 1,0 1,0 1,1 1,-9 1,16 1,-21 1,12 1,0 1,-16 1,24 1,-13 1,8 1,0 1,-4 1,9 1,-4 1,4 1,5 1,0 1,-2 1,-10 1,-8 1,3 1,12 1,13 1,-42 1,23 1,-2 1,-17 1,23 1,-6 1,-8 1,4 1,9 1,-9 1,-4 1,6 1,-5 1,6 1,-2 1,13 1,-18 1,30 1,-10 1,-22 1,10 1,-11 1,17 1,6 1,-14 1,-6 1,17 1,-10 1,11 1,-18 1,9 1,-3 1,13 1,-15 1,10 1,0 1,-19 1,-5 1,32 1,-4 1,1 1,-15 1,0 1,12 1,-10 1,-6 1,3 1,-5 1,7 1,8 1,-5 1,6 1,-14 1,12 1,-11 1,-5 1,16 1,-8 1,7 1,-11 1,19 1,-13 1,6 1,-10 1,5 1,3 1,-2 1,-7 1,-8 1,8 1,4 1,-2 1,1 1,-7 1,14 1,-1 1,-3 1,0 1,4 1,-7 1,4 1,-3 1,2 1,4 1,-2 1,-1 1,-7 1,13 1,-12 1,3 1,-3 1,14 1,-13 1,16 1,-4 1,-8 1,2 1,8 1,8 1,-16 1,-10 1,8 1,0 1,-12 1,20 1,-12 1,13 1,-9 1,-10 1,14 1,1 1,-14 1,20 1,-11 1,-3 1,8 1,-23 1,14 1,-13 1,8 1,7 1,13 1,-1 1,0 1,-18 1,-6 1,15 1,9 1,-9 1,-7 1,10 1,-4 1,0 1,13 1,-29 1,10 1,11 1,-10 1,7 1,19 1,-28 1,3 1,5 1,10 1,-6 1,-13 1,0 1,5 1,8 1,8 1,-25 1,18 1,-12 1,-3 1,6 1,5 1,-2 1,5 1,-18 1,0 1,20 1,-21 1,32 1,-25 1,-1 1,19 1,-15 1,17 1,-9 1,-8 1,8 1,-23 1,26 1,9 1,-17 1,-6 1,17 1,-4 1,9 1,-22 1,11 1,-3 1,-17 1,2 1,3 1,12 1,0 1,0 1,0 1,15 1,-44 1,24 1,-1 1,-7 1,7 1,-9 1,-1 1,5 1,-4 1,9 1,-9 1,20 1,-16 1,2 1,9 1,-9 1,7 1,-22 1,27 1,-12 1,-13 1,14 1,-9 1,19 1,-15 1,-8 1,11 1,24 1,-20 1,-11 1,9 1,0 1,-8 1,-9 1,29 1,-28 1,10 1,-5 1,19 1,-20 1,9 1,-5 1,-4 1,7 1,22 1,-32 1,8 1,-1 1,0 1,26 1,-24 1,14 1,-14 1,1 1,-6 1,15 1,-12 1,-12 1,15 1,0 1,-17 1,16 1,7 1,-23 1,23 1,-17 1,-3 1,24 1,8 1,-23 1,-1 1,-2 1,-15 1,20 1,6 1,8 1,-12 1,-11 1,20 1,-17 1,9 1,11 1,-14 1,-9 1,10 1,0 1,-7 1,9 1,-15 1,4 1,18 1,7 1,-10 1,-14 1,-2 1,0 1,2 1,9 1,17 1,-15 1,2 1,-21 1,13 1,0 1,8 1,-6 1,-1 1,26 1,-29 1,-14 1,27 1,-7 1,-12 1,24 1,-14 1,1 1,14 1,-8 1,-16 1,4 1,0 1,10 1,-8 1,0 1,9 1,-7 1,-1 1,-16 1,7 1,10 1,-4 1,-7 1,17 1,-6 1,-7 1,8 1,-15 1,37 1,-30 1,14 1,-14 1,23 1,-15 1,5 1,-6 1,-3 1,-4 1,12 1,0 1,3 1,-31 1,21 1,30 1,-21 1,-3 1,13 1,0 1,-21 1,12 1,-9 1,11 1,-7 1,5 1,-6 1,-6 1,11 1,-12 1,3 1,3 1,-9 1,16 1,5 1,-32 1,22 1,10 1,-28 1,-2 1,21 1,-7 1,6 1,4 1,6 1,-4 1,8 1,-2 1,-3 1,-7 1,-13 1,13 1,6 1,5 1,-6 1,1 1,4 1,-5 1,7 1,3 1,-28 1,44 1,-16 1,-7 1,16 1,-6 1,-17 1,-4 1,4 1,-3 1,2 1,13 1,-9 1,14 1,3 1,-19 1,-6 1,12 1,-4 1,2 1,9 1,7 1,1 1,-3 1,-9 1,11 1,-19 1,14 1,10 1,-4 1,-16 1,4 1,23 1,-26 1,-5 1,19 1,-10 1,-1 1,10 1,-12 1,7 1,-3 1,7 1,-4 1,-23 1,39 1,-16 1,-8 1,11 1,2 1,-2 1,-2 1,1 1,-6 1,4 1,-4 1,7 1,2 1,-1 1,11 1,-10 1,10 1,-1 1,-17 1,-6 1,9 1,16 1,-17 1,13 1,0 1,1 1,-9 1,7 1,-16 1,0 1,7 1,-2 1,10 1,-1 1,-10 1,11 1,2 1,9 1,-15 1,10 1,-21 1,30 1,-19 1,12 1,-16 1,-6 1,17 1,-3 1,12 1,-9 1,11 1,-20 1,-1 1,6 1,14 1,0 1,-17 1,7 1,9 1,-8 1,6 1,-2 1,3 1,-6 1,-10 1,0 1,12 1,-6 1,10 1,-11 1,6 1,5 1,-11 1,-8 1,4 1,11 1,-9 1,4 1,1 1,-5 1,16 1,2 1,-12 1,0 1,3 1,-3 1,2 1,4 1,-10 1,-1 1,4 1,18 1,-26 1,1 1,0 1,7 1,12 1,-23 1,-3 1,18 1,-23 1,9 1,11 1,-10 1,18 1,-10 1,10 1,-26 1,10 1,-2 1,21 1,-17 1,9 1,2 1,5 1,-19 1,-6 1,8 1,-2 1,1 1,5 1,-11 1,9 1,2 1,11 1,-11 1,-1 1,-1 1,7 1,1 1,2 1,-7 1,-12 1,12 1,8 1,-7 1,3 1,-5 1,-6 1,19 1,-12 1,-1 1,2 1,14 1,-19 1,19 1,-8 1,-3 1,-12 1,8 1,8 1,-6 1,-11 1,17 1,6 1,-11 1,-10 1,4 1,7 1,5 1,-24 1,14 1,8 1,-4 1,-10 1,23 1,-13 1,3 1,-11 1,-9 1,15 1,-3 1,20 1,-13 1,6 1,-2 1,2 1,2 1,-5 1,10 1,-17 1,2 1,3 1,7 1,-1 1,0 1,-6 1,-12 1,12 1,-1 1,5 1,-1 1,-5 1,14 1,-28 1,13 1,9 1,12 1,-16 1,8 1,-23 1,11 1,11 1,-21 1,13 1,-8 1,-9 1,16 1,-1 1,-3 1,3 1,-3 1,-2 1,1 1,7 1,1 1,-7 1,-7 1,10 1,-18 1,37 1,-21 1,6 1,-5 1,13 1,16 1,-40 1,21 1,3 1,-9 1,-8 1,9 1,1 1,-1 1,-20 1,16 1,-15 1,20 1,-12 1,7 1,3 1,-11 1,6 1,15 1,-11 1,-6 1,13 1,-1 1,-1 1,-19 1,9 1,-1 1,2 1,-8 1,13 1,-3 1,-5 1,-4 1,-7 1,23 1,4 1,-21 1,9 1,12 1,-7 1,4 1,-6 1,-9 1,-2 1,9 1,2 1,-15 1,-4 1,20 1,-7 1,10 1,-19 1,-3 1,19 1,4 1,-5 1,-8 1,17 1,-16 1,4 1,-2 1,3 1,1" stroke="#ee4042" vector-effect="non-scaling-stroke"/>
<path d="M0,2326l1,-3 1,9 1,-15 1,17 1,-16 1,-3 1,-18 1,15 1,30 1,27 1,-22 1,0 1,-37 1,22 1,-1 1,-3 1,22 1,-25 1,-14 1,-17 1,52 1,-18 1,-15 1,26 1,-27 1,11 1,32 1,-41 1,8 1,19 1,-29 1,22 1,-20 1,4 1,14 1,25 1,-27 1,-7 1,0 1,6 1,-10 1,0 1,18 1,-23 1,10 1,-9 1,15 1,-3 1,9 1,-21 1,1 1,32 1,6 1,9 1,-28 1,-18 1,16 1,4 1,12 1,0 1,-32 1,32 1,-27 1,16 1,4 1,-15 1,-9 1,24 1,13 1,-25 1,-24 1,-22 1,36 1,7 1,9 1,2 1,-16 1,10 1,7 1,-4 1,14 1,-31 1,17 1,-20 1,44 1,-23 1,3 1,-3 1,1 1,-1 1,-12 1,25 1,-21 1,-32 1,43 1,-6 1,3 1,39 1,-48 1,-39 1,56 1,9 1,-16 1,10 1,-9 1,16 1,-15 1,37 1,-56 1,42 1,-16 1,-10 1,10 1,-24 1,16 1,7 1,-4 1,29 1,-66 1,44 1,-40 1,34 1,-35 1,3 1,-1 1,34 1,-18 1,5 1,11 1,6 1,-21 1,-7 1,7 1,24 1,15 1,-22 1,21 1,-1 1,14 1,-13 1,7 1,-18 1,-10 1,-4 1,6 1,-3 1,-2 1,31 1,-21 1,-35 1,1 1,25 1,11 1,1 1,-24 1,4 1,15 1,3 1,-42 1,46 1,-5 1,-4 1,-1 1,20 1,-18 1,13 1,-8 1,-9 1,18 1,20 1,-26 1,-13 1,10 1,9 1,-3 1,24 1,-13 1,-28 1,9 1,9 1,-16 1,9 1,4 1,-7 1,16 1,-42 1,1 1,20 1,48 1,-10 1,-40 1,18 1,-7 1,-3 1,37 1,-55 1,9 1,8 1,-1 1,10 1,1 1,-26 1,3 1,3 1,-3 1,31 1,-27 1,-2 1,-9 1,31 1,-72 1,63 1,-30 1,15 1,16 1,-6 1,-23 1,0 1,20 1,-17 1,-22 1,-7 1,50 1,-26 1,29 1,-44 1,17 1,4 1,1 1,34 1,-36 1,-10 1,5 1,4 1,-11 1,23 1,4 1,1 1,-58 1,31 1,1 1,20 1,0 1,-34 1,19 1,5 1,-2 1,14 1,-11 1,-9 1,3 1,-21 1,20 1,12 1,-25 1,-12 1,4 1,20 1,-15 1,37 1,1 1,-30 1,46 1,-64 1,43 1,-17 1,-5 1,-4 1,14 1,2 1,-4 1,-5 1,-3 1,2 1,10 1,20 1,-36 1,33 1,-18 1,-37 1,-10 1,38 1,3 1,3 1,27 1,-29 1,7 1,-12 1,-25 1,14 1,19 1,-25 1,5 1,32 1,-29 1,-29 1,18 1,14 1,-21 1,6 1,6 1,24 1,19 1,-56 1,13 1,11 1,-4 1,-6 1,15 1,-38 1,31 1,-19 1,37 1,-30 1,14 1,6 1,-26 1,10 1,-13 1,24 1,4 1,-22 1,13 1,8 1,-30 1,23 1,1 1,-3 1,-1 1,-15 1,31 1,-41 1,38 1,-27 1,9 1,-17 1,16 1,-14 1,4 1,11 1,-6 1,-36 1,11 1,29 1,8 1,-28 1,-5 1,-13 1,45 1,-3 1,-21 1,-48 1,72 1,-4 1,-23 1,15 1,-44 1,30 1,-24 1,19 1,-4 1,17 1,-19 1,-2 1,-3 1,10 1,-7 1,-7 1,40 1,-9 1,-44 1,44 1,-23 1,38 1,-42 1,-3 1,-10 1,11 1,10 1,-21 1,-25 1,56 1,-59 1,55 1,-32 1,31 1,-44 1,-4 1,5 1,4 1,28 1,-18 1,-10 1,5 1,-7 1,33 1,-29 1,-22 1,32 1,-3 1,-6 1,24 1,-6 1,-36 1,23 1,-1 1,9 1,-7 1,-28 1,20 1,-8 1,-23 1,11 1,-13 1,8 1,40 1,-50 1,23 1,-49 1,35 1,24 1,-82 1,-25 1,71 1,-23 1,47 1,-3 1,-61 1,2 1,-3 1,17 1,-18 1,14 1,-9 1,-29 1,0 1,-8 1,30 1,-52 1,11 1,-6 1,-2 1,-54 1,36 1,-1 1,-45 1,36 1,7 1,5 1,17 1,-15 1,-17 1,18 1,42 1,13 1,35 1,-31 1,13 1,24 1,-36 1,58 1,-29 1,22 1,23 1,13 1,-21 1,2 1,6 1,-1 1,6 1,39 1,-32 1,-47 1,49 1,7 1,12 1,-1 1,-42 1,36 1,41 1,-39 1,7 1,13 1,38 1,-24 1,-47 1,34 1,23 1,-7 1,-32 1,32 1,5 1,6 1,-3 1,-4 1,-27 1,19 1,9 1,1 1,-7 1,0 1,-8 1,6 1,-11 1,23 1,17 1,-40 1,-12 1,44 1,-29 1,26 1,11 1,-3 1,-15 1,13 1,-10 1,-24 1,26 1,-2 1,17 1,2 1,-20 1,16 1,-28 1,4 1,-20 1,38 1,2 1,2 1,-18 1,22 1,-2 1,25 1,-32 1,-5 1,20 1,-19 1,26 1,-35 1,16 1,-6 1,5 1,15 1,-10 1,44 1,-26 1,2 1,-11 1,8 1,8 1,-38 1,16 1,33 1,-23 1,-15 1,-9 1,7 1,-23 1,47 1,10 1,-53 1,26 1,9 1,21 1,-4 1,-38 1,37 1,-20 1,0 1,-9 1,21 1,17 1,-4 1,-19 1,15 1,8 1,-36 1,31 1,-7 1,-18 1,34 1,-22 1,30 1,-22 1,30 1,-43 1,1 1,8 1,-5 1,-10 1,41 1,-11 1,4 1,-11 1,20 1,-2 1,-30 1,14 1,14 1,-34 1,13 1,22 1,1 1,-10 1,-24 1,24 1,16 1,-5 1,10 1,-34 1,13 1,-11 1,5 1,-11 1,20 1,0 1,-10 1,28 1,-10 1,-17 1,22 1,27 1,-43 1,33 1,-29 1,-19 1,4 1,7 1,18 1,-18 1,18 1,-23 1,43 1,-18 1,-14 1,11 1,-16 1,16 1,1 1,0 1,-7 1,-18 1,16 1,3 1,13 1,2 1,-23 1,15 1,19 1,-32 1,20 1,3 1,-36 1,30 1,0 1,0 1,-6 1,12 1,-34 1,-4 1,46 1,-32 1,24 1,-7 1,2 1,-24 1,25 1,-15 1,7 1,-22 1,21 1,-9 1,42 1,-55 1,21 1,-14 1,-5 1,2 1,41 1,-29 1,-8 1,14 1,-11 1,14 1,-3 1,10 1,-16 1,7 1,7 1,13 1,-23 1,1 1,16 1,-25 1,13 1,2 1,-39 1,34 1,0 1,-11 1,15 1,-18 1,42 1,-34 1,9 1,0 1,18 1,-37 1,23 1,10 1,-16 1,2 1,-7 1,26 1,-23 1,9 1,-25 1,40 1,-39 1,28 1,12 1,-17 1,-6 1,9 1,-34 1,25 1,-3 1,-8 1,27 1,-24 1,-12 1,40 1,-17 1,-2 1,-22 1,61 1,-36 1,17 1,-6 1,12 1,-22 1,4 1,-18 1,-9 1,27 1,-3 1,22 1,-36 1,20 1,-20 1,25 1,-12 1,-4 1,10 1,-5 1,16 1,-32 1,13 1,-15 1,25 1,11 1,-29 1,17 1,-13 1,19 1,-43 1,31 1,-1 1,21 1,-10 1,-22 1,14 1,-8 1,3 1,0 1,-5 1,42 1,-36 1,17 1,-1 1,-1 1,-27 1,-6 1,36 1,-23 1,7 1,2 1,-15 1,24 1,-3 1,16 1,-49 1,36 1,-12 1,6 1,15 1,-19 1,-20 1,16 1,8 1,-16 1,14 1,-7 1,-4 1,-1 1,20 1,-2 1,-3 1,-18 1,20 1,-6 1,13 1,-6 1,-6 1,22 1,-30 1,-7 1,-12 1,37 1,-17 1,25 1,-31 1,39 1,-42 1,-2 1,-17 1,36 1,-3 1,-8 1,-11 1,4 1,24 1,-12 1,42 1,-36 1,-6 1,5 1,-12 1,21 1,-23 1,3 1,45 1,-33 1,21 1,-14 1,-6 1,-4 1,-4 1,11 1,3 1,-7 1,-28 1,17 1,37 1,-13 1,19 1,-33 1,6 1,-15 1,9 1,-20 1,19 1,-14 1,24 1,-30 1,39 1,-41 1,0 1,17 1,33 1,-39 1,-7 1,17 1,2 1,-3 1,-1 1,13 1,-17 1,-11 1,28 1,18 1,-27 1,-11 1,4 1,10 1,12 1,3 1,11 1,-44 1,31 1,-13 1,8 1,-9 1,0 1,3 1,4 1,-15 1,21 1,-19 1,-22 1,42 1,-38 1,16 1,-22 1,43 1,-17 1,12 1,1 1,-13 1,4 1,14 1,-28 1,-4 1,32 1,-34 1,-3 1,9 1,11 1,-21 1,9 1,26 1,-2 1,-3 1,-37 1,13 1,-1 1,8 1,-30 1,54 1,-18 1,-10 1,4 1,-5 1,3 1,-9 1,4 1,-7 1,7 1,-9 1,-3 1,22 1,-6 1,-15 1,-9 1,8 1,-5 1,15 1,5 1,-15 1,-1 1,-2 1,26 1,-11 1,-27 1,-8 1,23 1,-8 1,0 1,7 1,22 1,11 1,-31 1,11 1,23 1,-19 1,25 1,-28 1,0 1,21 1,6 1,-62 1,48 1,-25 1,4 1,-23 1,36 1,16 1,-23 1,14 1,-10 1,-19 1,48 1,-43 1,-19 1,9 1,43 1,12 1,-21 1,0 1,-2 1,-11 1,11 1,-2 1,-8 1,-2 1,8 1,-4 1,7 1,40 1,-45 1,7 1,-18 1,21 1,-11 1,15 1,2 1,11 1,-15 1,-9 1,8 1,15 1,-32 1,22 1,6 1,-7 1,-24 1,24 1,24 1,-25 1,13 1,-30 1,18 1,14 1,-30 1,13 1,26 1,-23 1,-10 1,17 1,-2 1,-7 1,5 1,15 1,-27 1,-4 1,28 1,-27 1,44 1,-28 1,-15 1,13 1,-10 1,-12 1,40 1,-36 1,32 1,6 1,-10 1,-1 1,-43 1,36 1,-5 1,-19 1,35 1,-19 1,-12 1,25 1,-7 1,-3 1,10 1,-29 1,21 1,-7 1,9 1,-18 1,0 1,16 1,-8 1,-13 1,42 1,-31 1,-7 1,23 1,4 1,-22 1,23 1,-14 1,6 1,8 1,0 1,-21 1,-5 1,14 1,21 1,4 1,-57 1,39 1,-17 1,11 1,-17 1,31 1,12 1,-12 1,-21 1,-2 1,16 1,-27 1,21 1,11 1,-1 1,-7 1,-9 1,-11 1,3 1,-9 1,37 1,-37 1,33 1,4 1,-12 1,-19 1,-2 1,28 1,-13 1,-23 1,41 1,-4 1,-15 1,5 1,-15 1,-6 1,14 1,15 1,6 1,-24 1,25 1,2 1,-32 1,4 1,1 1,31 1,-40 1,37 1,-10 1,-5 1,0 1,-17 1,10 1,-8 1,26 1,-4 1,3 1,-4 1,-6 1,10 1,-7 1,1 1,-15 1,23 1,-2 1,-28 1,19 1,19 1,-4 1,-6 1,-17 1,14 1,-25 1,31 1,-21 1,-2 1,-10 1,10 1,26 1,-35 1,29 1,-16 1,-14 1,17 1,-4 1,-5 1,8 1,12 1,-13 1,-7 1,-5 1,24 1,-16 1,46 1,-38 1,-19 1,46 1,-20 1,-16 1,-8 1,1 1,12 1,16 1,-14 1,-4 1,-13 1,19 1,19 1,-20 1,-4 1,6 1,26 1,-9 1,-24 1,-3 1,16 1,-18 1,17 1,3 1,3 1,-19 1,-10 1,14 1,11 1,-2 1,-5 1,23 1,-33 1,-8 1,-6 1,47 1,-51 1,31 1,0 1,4 1,-11 1,21 1,-40 1,40 1,8 1,-10 1,-30 1,2 1,27 1,-17 1,-6 1,4 1,5 1,4 1,-4 1,15 1,-20 1,-5 1,21 1,-22 1,29 1,-17 1,-14 1,7 1,20 1,-2 1,-3 1,-10 1,-9 1,25 1,-2 1,-29 1,3 1,15 1,5 1,-4 1,6 1,-17 1,12 1,-12 1,7 1,14 1,-5 1,-21 1,34 1,-11 1,-15 1,15 1,-40 1,35 1,-3 1,9 1,11 1,-27 1,16 1,-3 1,12 1,-14 1,-11 1,10 1,2 1,-8 1,-2 1,-5 1,-11 1,43 1,-12 1,-33 1,22 1,-16 1,49 1,-33 1,18 1,-27 1,6 1,-25 1,39 1,-21 1,6 1,14 1,-40 1,47 1,-45 1,32 1,-2 1,12 1,-11 1,-11 1,18 1,-13 1,-8 1,6 1,5 1,7 1,-9 1,-11 1,-3 1,17 1,15 1,-18 1,7 1,-2 1,-10 1,-16 1,18 1,27 1,-26 1,-17 1,21 1,17 1,-35 1,27 1,-7 1,2 1,9 1,2 1,-9 1,-1 1,8 1,-5 1,-7 1,-2 1,2 1,-30 1,35 1,4 1,-12 1,12 1,-15 1,18 1,-11 1,-3 1,-2 1,8 1,-9 1,3 1,-34 1,31 1,-12 1,7 1,-1 1,-24 1,17 1,-6 1,25 1,-11 1,10 1,10 1,-8 1,1 1,-14 1,4 1,37 1,-44 1,16 1,-4 1,9 1,-11 1,28 1,-10 1,-41 1,34 1,-5 1,-1 1,11 1,-10 1,-2 1,-25 1,11 1,3 1,-24 1,7 1,6 1,18 1,22 1,-20 1,5 1,-20 1,3 1,22 1,-17 1,0 1,11 1,4 1,2 1,-7 1,6 1,8 1,-20 1,-18 1,30 1,-28 1,8 1,21 1,-19 1,0 1,-1 1,3 1,-9 1,7 1,7 1,10 1,-36 1,9 1,8 1,4 1,18 1,-24 1,-1 1,19 1,-16 1,4 1,4 1,-11 1,1 1,6 1,-17 1,16 1,13 1,-5 1,7 1,23 1,-38 1,8 1,7 1,-17 1,20 1,-7 1,-24 1,0 1,34 1,-11 1,2 1,-3 1,-20 1,5 1,7 1,-15 1,15 1,5 1,-4 1,8 1,-4 1,22 1,-54 1,11 1,41 1,6 1,-51 1,21 1,-17 1,21 1,-7 1,-21 1,18 1,20 1,-13 1,-7 1,17 1,-12 1,25 1,-27 1,17 1,-29 1,-6 1,36 1,-31 1,29 1,8 1,-27 1,-9 1,14 1,-10 1,14 1,-28 1,2 1,20 1,1 1,7 1,-9 1,-1 1,22 1,-42 1,29 1,-30 1,20 1,-3 1,-3 1,14 1,4 1,5 1,3 1,-18 1,23 1,-33 1,0 1,16 1,11 1,-2 1,-12 1,6 1,-3 1,-10 1,27 1,-17 1,-15 1,19 1,7 1,-4 1,-32 1,16 1,18 1,-11 1,14 1,-1 1,7 1,-5 1,-11 1,-17 1,21 1,-14 1,13 1,-8 1,3 1,-4 1,9 1,-9 1,20 1,-15 1,10 1,-9 1,-9 1,5 1,18 1,-16 1,-10 1,-4 1,37 1,-44 1,10 1,35 1,-26 1,-5 1,13 1,-4 1,1 1,-2 1,7 1,-51 1,4 1,47 1,-25 1,4 1,8 1,10 1,-23 1,8 1,-15 1,16 1,28 1,-12 1,0 1,5 1,0 1,-28 1,22 1,1 1,-14 1,4 1,0 1,-41 1,46 1,-25 1,14 1,-7 1,39 1,-30 1,7 1,-15 1,16 1,26 1,-40 1,3 1,-11 1,10 1,23 1,-28 1,23 1,-29 1,36 1,-31 1,5 1,-7 1,-15 1,36 1,-1 1,-1 1,-18 1,-5 1,26 1,9 1,-24 1,11 1,-36 1,32 1,-4 1,4 1,20 1,-15 1,1 1,-1 1,-16 1,-17 1,6 1,23 1,-27 1,16 1,-37 1,24 1,5 1,20 1,-11 1,-33 1,33 1,-15 1,-4 1,22 1,4 1,-3 1,0 1,-9 1,-8 1,-5 1,14 1,-7 1,38 1,-32 1,-30 1,16 1,-9 1,33 1,-35 1,18 1,16 1,-7 1,-17 1,6 1,42 1,-49 1,1 1,27 1,-24 1,5 1,-34 1,30 1,-2 1,-15 1,3 1,17 1,-9 1,10 1,12 1,-41 1,1 1,12 1,0 1,0 1,-15 1,2 1,2 1,19 1,-28 1,20 1,-7 1,1 1,-10 1,20 1,-9 1,-4 1,-10 1,39 1,-50 1,31 1,-19 1,13 1,-6 1,-1 1,-2 1,-8 1,-16 1,-5 1,18 1,-1 1,3 1,-6 1,41 1,-63 1,17 1,-10 1,8 1,11 1,6 1,-39 1,57 1,-23 1,32 1,-54 1,10 1,-19 1,39 1,-23 1,-7 1,-6 1,7 1,25 1,-39 1,15 1,19 1,-2 1,4 1,-1 1,-9 1,-7 1,-20 1,15 1,-10 1,2 1,13 1,8 1,-6 1,-18 1,-35 1,39 1,2 1,10 1,-2 1,-6 1,-16 1,20 1,-48 1,15 1,-12 1,18 1,-11 1,41 1,-38 1,1 1,-8 1,34 1,-58 1,71 1,-53 1,16 1,10 1,-5 1,4 1,2 1,-29 1,33 1,-9 1,23 1,-53 1,16 1,-20 1,1 1,-9 1,31 1,-29 1,15 1,23 1,-26 1,9 1,9 1,-23 1,21 1,-53 1,17 1,39 1,-47 1,17 1,2 1,-2 1,-21 1,2 1,25 1,-34 1,-11 1,0 1,46 1,-19 1,-29 1,46 1,-38 1,4 1,-53 1,7 1,44 1,0 1,-1 1,-26 1,-20 1,-1 1,60 1,-16 1,-24 1,22 1,-4 1,-9 1,31 1,1 1,31 1,-61 1,26 1,-34 1,5 1,39 1,-13 1,31 1,-9 1,-22 1,45 1,-15 1,3 1,35 1,-9 1,-21 1,4 1,-7 1,48 1,-16 1,-4 1,16 1,-10 1,-8 1,-11 1,9 1,29 1,-12 1,-4 1,11 1,7 1,14 1,0 1,-27 1,-7 1,-20 1,53 1,-45 1,39 1,-16 1,29 1,-20 1,-16 1,-2 1,35 1,-10 1,-17 1,28 1,-44 1,78 1,-35 1,-38 1,30 1,-6 1,-6 1,34 1,9 1,-37 1,-12 1,14 1,-17 1,15 1,-1 1,-1 1,-10 1,1 1,7 1,37 1,-44 1,5 1,-5 1,20 1,-9 1,21 1,-10 1,9 1,-7 1,3 1,-9 1,2 1,12 1,10 1,-9 1,-14 1,-1 1,-31 1,30 1,-3 1,21 1,8 1,-18 1,0 1,16 1,-8 1,-8 1,3 1,-19 1,26 1,7 1,-9 1,1 1,-3 1,-23 1,26 1,-16 1,49 1,-54 1,38 1,5 1,-24 1,5 1,-32 1,39 1,-26 1,25 1,-2 1,5 1,-19 1,-16 1,30 1,-2 1,-7 1,4 1,-7 1,43 1,-58 1,32 1,-20 1,-1 1,20 1,-28 1,11 1,14 1,-4 1,-1 1,16 1,-22 1,17 1,-35 1,7 1,51 1,-63 1,35 1,16 1,-27 1,20 1,-8 1,36 1,-38 1,-3 1,-16 1,25 1,3 1,-4 1,-11 1,30 1,-16 1,2 1,11 1,-40 1,-3 1,37 1,-13 1,-21 1,41 1,-6 1,-22 1,29 1,-13 1,-16 1,3 1,3 1,13 1,-9 1,7 1,-26 1,31 1,1 1,-8 1,12 1,-30 1,18 1,1 1,6 1,-20 1,17 1,-12 1,28 1,-31 1,6 1,4 1,27 1,-63 1,52 1,-10 1,-28 1,-3 1,2 1,0 1,13 1,53 1,-73 1,39 1,-18 1,31 1,-10 1,7 1,-21 1,2 1,1 1,9 1,-10 1,23 1,-12 1,-23 1,22 1,-38 1,8 1,-2 1,42 1,-19 1,2 1,5 1,21 1,-17 1,-18 1,7 1,44 1,-45 1,18 1,-28 1,-1 1,-16 1,49 1,-23 1,6 1,-1 1,3 1,-17 1,7 1,-15 1,16 1,6 1,-8 1,6 1,3 1,-7 1,-4 1,19 1,-33 1,27 1,-18 1,-7 1,32 1,3 1,-28 1,13 1,0 1,7 1,2 1,-12 1,-10 1,16 1,22 1,-8 1,-5 1,17 1,-26 1,19 1,-8 1,-19 1,-11 1,38 1,-36 1,6 1,-8 1,-3 1,15 1,20 1,-46 1,48 1,4 1,-24 1,21 1,-6 1,-27 1,12 1,-27 1,41 1,-15 1,-8 1,8 1,21 1,-16 1,13 1,-4 1,25 1,-56 1,-5 1,49 1,-29 1,-3 1,43 1,-39 1,-16 1,24 1,14 1,-19 1,-18 1,13 1,21 1,-1 1,-21 1,-7 1,16 1,4 1,11 1,-7 1,-8 1,-4 1,-10 1,17 1,-14 1,25 1,-4 1,-36 1,19 1,-8 1,13 1,-7 1,9 1,-5 1,11 1,-17 1,7 1,-16 1,48 1,10 1,-50 1,-13 1,3 1,18 1,17 1,-10 1,1 1,-18 1,9 1,26 1,-42 1,32 1,-22 1,17 1,-7 1,-31 1,44 1,-35 1,24 1,-48 1,7 1,17 1,4 1,2 1,5 1,9 1,-4 1,9 1,0 1,-28 1,41 1,-17 1,-30 1,40 1,-57 1,20 1,20 1,-3 1,16 1,-4 1,-4 1,4 1,-1 1,-10 1,33 1,-11 1,-4 1,14 1,1 1,-13 1,1 1,13 1,-38 1,0 1,-3 1,31 1,-21 1,11 1,-23 1,13 1,4 1,-12 1,14 1,13 1,-19 1,26 1,3 1,-80 1,55 1,21 1,-12 1,-14 1,0 1,-33 1,19 1,-26 1,75 1,-51 1,-4 1,35 1,-18 1,-13 1,26 1,-14 1,4 1,4 1,28 1,-51 1,17 1,-23 1,-33 1,41 1,32 1,-11 1,-1 1,-5 1,-20 1,-6 1,25 1,0 1,7 1,-7 1,-12 1,2 1,6 1,-13 1,2 1,-21 1,43 1,-2 1,0 1,-7 1,15 1,-4 1,-18 1,15 1,-11 1,-11 1,-7 1,-11 1,34 1,-24 1,-1 1,23 1,-13 1,13 1,-16 1,37 1,1 1,-5 1,-9 1,17 1,7 1,-34 1,44 1,-14 1,1 1,-21 1,-6 1,-13 1,34 1,-26 1,27 1,-29 1,18 1,-9 1,23 1,-23 1,9 1,-20 1,3 1,10 1,-7 1,0 1,-2 1,30 1,-10 1,-36 1,8 1,19 1,-2 1,-33 1,29 1,7 1,-2 1,5 1,-31 1,-3 1,37 1,-15 1,14 1,17 1,-17 1,7 1,-11 1,0 1,-20 1,35 1,-39 1,29 1,-2 1,-25 1,37 1,-33 1,27 1,-53 1,29 1,31 1,-16 1,-14 1,-9 1,38 1,-44 1,36 1,-8 1,5 1,3 1,-40 1,27 1,-10 1,58 1,-69 1,29 1,-21 1,4 1,-21 1,17 1,15 1,-19 1,34 1,-14 1,-15 1,28 1,15 1,9 1,-42 1,20 1,-21 1,5 1,5 1,-6 1,5 1,-21 1,-3 1,34 1,-20 1,-26 1,34 1,-26 1,39 1,-27 1,11 1,3 1,-7 1,22 1,-8 1,-1 1,-18 1,7 1,-27 1,15 1,41 1,-30 1,4 1,0 1,-22 1,32 1,-38 1,9 1,19 1,7 1,-4 1,-15 1,40 1,-33 1,-20 1,49 1,-4 1,-32 1,13 1,11 1,-48 1,24 1,7 1,-5 1,9 1,8 1,-1 1,18 1,-35 1,13 1,-13 1,-16 1,67 1,-53 1,-14 1,23 1,-18 1,6 1,26 1,6 1,-12 1,-3 1,4 1,-19 1,49 1,-55 1,-6 1,32 1,-11 1,-17 1,22 1,-36 1,16 1,-7 1,16 1,27 1,-40 1,4 1,-21 1,21 1,6 1,32 1,-53 1,3 1,27 1,0 1,-21 1,-1 1,5 1,-1 1,16 1,6 1,-18 1,-4 1,4 1,-1 1,20 1,-24 1,11 1,-10 1,13 1,20 1,-24 1,-8 1,3 1,-6 1,-6 1,59 1,-57 1,43 1,-65 1,45 1,9 1,-2 1,-2 1,-4 1,-10 1,12 1,0 1,-22 1,1 1,37 1,-40 1,23 1,-12 1,-2 1,23 1,-19 1,-16 1,9 1,0 1,-9 1,4 1,17 1,-8 1,-23 1,9 1,30 1,7 1,-28 1,-15 1,22 1,3 1,-52 1,2 1,31 1,-26 1,27 1,-7 1,34 1,-11 1,12 1,-15 1,-45 1,35 1,36 1,-10 1,-11 1,-43 1,5 1,23 1,3 1,-12 1,33 1,-28 1,6 1,11 1,-15 1,-1 1,-47 1,83 1,10 1,-34 1,1 1,25 1,-23 1,-7 1,0 1,8 1,5 1,16 1,-33 1,-4 1,14 1,-18 1,28 1,-12 1,-28 1,26 1,-2 1,-9 1,-9 1,28 1,10 1,-6 1,-34 1,11 1,-15 1,8 1,-7 1,2 1,35 1,-39 1,17 1,8 1,-9 1,18 1,12 1,-27 1,8 1,17 1,-134 1,127 1,-4 1,4 1,4 1,-42 1,27 1,-13 1,36 1,-64 1,49 1,-4 1,-25 1,23 1,-4 1,26 1,-25 1,1 1,-9 1,7 1,20 1,-18 1,-11 1,-11 1,-5 1,6 1,15 1,-30 1,17 1,15 1,5 1,-16 1,5 1,-8 1,25 1,-52 1,7 1,45 1,-11 1,-20 1,13 1,23 1,-32 1,-31 1,34 1,36 1,-19 1,-23 1,9 1,-19 1,17 1,-10 1,-6 1,-7 1,6 1,38 1,-10 1,-52 1,7 1,23 1,16 1,-35 1,-5 1,17 1,-26 1,31 1,8 1,24 1,-12 1,-11 1,7 1,-20 1,48 1,-29 1,-12 1,-34 1,42 1,-3 1,-47 1,58 1,-29 1,6 1,10 1,2 1,-15 1,-15 1,30 1,-27 1,6 1,1 1,-15 1,17 1,-13 1,34 1,-22 1,-1 1,34 1,-20 1,-6 1,-11 1,2 1,-12 1,6 1,-23 1,48 1,-17 1,-41 1,38 1,-13 1,1 1,-25 1,12 1,31 1,1 1,-14 1,7 1,-40 1,25 1,-16 1,3 1,16 1,11 1,-29 1,14 1,14 1,-41 1,25 1,0 1,-27 1,41 1,-16 1,-18 1,41 1,-14 1,-2 1,4 1,-5 1,13 1,-4 1,0 1,-7 1,1 1,9 1,-33 1,18 1,-7 1,33 1,-22 1,-14 1,-33 1,24 1,4 1,39 1,-52 1,33 1,-1 1,2 1,-42 1,14 1,-8 1,13 1,2 1,-9 1,22 1,-33 1,8 1,-21 1,38 1,-26 1,22 1,-21 1,28 1,-40 1,43 1,-18 1,6 1,2 1,-67 1,16 1,68 1,-32 1,13 1,-38 1,32 1,19 1,-33 1,10 1,14 1,-11 1,16 1,-5 1,-41 1,27 1,13 1,0 1,3 1,-20 1,25 1,1 1,-35 1,-1 1,12 1,18 1,0 1,-16 1,2 1,4 1,8 1,-30 1,-11 1,9 1,17 1,-9 1,-32 1,27 1,21 1,12 1,-7 1,-8 1,20 1,-36 1,31 1,-12 1,-9 1,6 1,8 1,-33 1,41 1,-17 1,10 1,-18 1,-14 1,4 1,62 1,-23 1,-32 1,17 1,-28 1,35 1,-2 1,36 1,-38 1,26 1,-30 1,27 1,-58 1,0 1,35 1,-24 1,-4 1,47 1,3 1,-30 1,-12 1,6 1,-32 1,36 1,22 1,-24 1,20 1,-3 1,-41 1,42 1,10 1,-36 1,49 1,-20 1,-32 1,16 1,11 1,17 1,-3 1,-25 1,10 1,6 1,30 1,-52 1,8 1,12 1,6 1,-25 1,18 1,-12 1,12 1,-6 1,7 1,-16 1,2 1,29 1,-7 1,29 1,-21 1,-2 1,-8 1,4 1,1 1,7 1,-10 1,19 1,-21 1,-3 1,30 1,4 1,4 1,0 1,10 1,-10 1,-8 1,9 1,-8 1,-9 1,28 1,-13 1,-25 1,-21 1,56 1,-8 1,-45 1,49 1,-24 1,32 1,20 1,-29 1,1 1,-3 1,-11 1,36 1,-17 1,-24 1,12 1,-28 1,47 1,2 1,-12 1,9 1,-25 1,7 1,32 1,-3 1,-24 1,0 1,33 1,-15 1,-32 1,33 1,23 1,9 1,-14 1,-27 1,17 1,19 1,-25 1,-17 1,15 1,-20 1,3 1,1 1,6 1,33 1,-40 1,18 1,32 1,5 1,-18 1,-30 1,32 1,-35 1,36 1,-18 1,28 1,-3 1,8 1,3 1,-17 1,-9 1,-11 1,-15 1,33 1,1 1,0 1,-17 1,-4 1,42 1,-23 1,15 1,10 1,4 1,-38 1,14 1,-10 1,12 1,-28 1,13 1,28 1,-18 1,-3 1,29 1,2 1,-7 1,-6 1,34 1,-23 1,-29 1,3 1,-11 1,41 1,-14 1,-3 1,3 1,5 1,-46 1,33 1,-15 1,6 1,22 1,-20 1,42 1,-36 1,29 1,-31 1,-1 1,10 1,-21 1,18 1,28 1,-24 1,-26 1,52 1,-43 1,37 1,-15 1,-13 1,37 1,-12 1,-10 1,16 1,14 1,-24 1,-3 1,-20 1,34 1,-27 1,40 1,-9 1,-42 1,27 1,-3 1,-28 1,10 1,31 1,-34 1,38 1,-6 1,-9 1,-5 1,10 1,13 1,-33 1,3 1,-6 1,-3 1,44 1,-36 1,17 1,3 1,1 1,-17 1,43 1,-1 1,-42 1,8 1,1 1,26 1,-51 1,21 1,-2 1,15 1,-28 1,19 1,-16 1,-6 1,14 1,38 1,-34 1,29 1,-20 1,-3 1,-8 1,19 1,-20 1,27 1,-6 1,-5 1,-1 1,-3 1,12 1,-18 1,-2 1,28 1,-29 1,-8 1,10 1,2 1,-2 1,6 1,-32 1,22 1,3 1,13 1,11 1,-52 1,42 1,-18 1,-20 1,45 1,-15 1,-15 1,47 1,-26 1,-11 1,-10 1,9 1,-2 1,10 1,6 1,-3 1,-14 1,14 1,-13 1,0 1,-1 1,2 1,2 1,-9 1,37 1,-2 1,-20 1,0 1,5 1,-7 1,3 1,-8 1,-17 1,38 1,-10 1,-15 1,-22 1,46 1,-31 1,17 1,-8 1,-21 1,8 1,5 1,19 1,-21 1,11 1,3 1,20 1,-11 1,-15 1,-6 1,-5 1,-19 1,9 1,39 1,-8 1,-16 1,-13 1,16 1,0 1,-18 1,14 1,-8 1,-17 1,10 1,31 1,-25 1,14 1,3 1,-22 1,27 1,-10 1,0 1,-9 1,7 1,37 1,-24 1,-8 1,-19 1,-4 1,-2 1,-5 1,51 1,-21 1,2 1,-10 1,-8 1,-19 1,7 1,25 1,-7 1,-18 1,26 1,-23 1,23 1,-15 1,-13 1,26 1,-7 1,15 1,-34 1,-15 1,22 1,17 1,-36 1,39 1,16 1,-34 1,16 1,-14 1,-7 1,-10 1,-1 1,28 1,-31 1,28 1,-6 1,3 1,-20 1,-15 1,20 1,-5 1,23 1,-24 1,1 1,1 1,-10 1,51 1,-34 1,12 1,13 1,31 1,-12 1,-6 1,-17 1,-27 1,18 1,19 1,-11 1,-37 1,26 1,8 1,17 1,-30 1,22 1,-43 1,33 1,-17 1,11 1,7 1,-28 1,25 1,-13 1,7 1,-6 1,19 1,-24 1,27 1,-52 1,23 1,15 1,19 1,-4 1,-17 1,1 1,1 1,40 1,-43 1,8 1,13 1,-30 1,-11 1,30 1,1 1,-35 1,25 1,-1 1,30 1,-6 1,-11 1,-3 1,-2 1,-9 1,-5 1,-6 1,-5 1,36 1,-8 1,-3 1,8 1,2 1,11 1,0 1,-37 1,13 1,1 1,0 1,-9 1,17 1,-22 1,-3 1,8 1,-5 1,-10 1,20 1,0 1,-2 1,-4 1,-8 1,47 1,-36 1,0 1,9 1,1 1,-36 1,47 1,-22 1,8 1,15 1,-2 1,14 1,-5 1,-37 1,28 1,20 1,-16 1,10 1,-11 1,-6 1,-9 1,8 1,-18 1,28 1,-1 1,-40 1,61 1,-11 1,-27 1,5 1,-34 1,19 1,15 1,4 1,-22 1,27 1,-24 1,-7 1,16 1,-9 1,9 1,11 1,5 1,-10 1,2 1,26 1,-54 1,34 1,-12 1,-4 1,-5 1,0 1,23 1,13 1,-38 1,7 1,2 1,41 1,-25 1,-16 1,31 1,-5 1,-6 1,-48 1,35 1,-11 1,15 1,-22 1,11 1,-3 1,4 1,12 1,-25 1,-2 1,11 1,10 1,-4 1,-22 1,53 1,-52 1,39 1,-29 1,6 1,18 1,-18 1,-9 1,-4 1,-6 1,20 1,-8 1,10 1,1 1,-3 1,-11 1,21 1,6 1,16 1,-38 1,26 1,-3 1,-15 1,21 1,-11 1,-29 1,42 1,-4 1,-20 1,21 1,15 1,-40 1,14 1,11 1,-33 1,53 1,-50 1,-7 1,51 1,-29 1,17 1,-25 1,23 1,-29 1,19 1,4 1,-9 1,-3 1,21 1,7 1,-5 1,10 1,-15 1,-1 1,9 1,13 1,-38 1,41 1,-54 1,1 1,9 1,12 1,-33 1,4 1,5 1,16 1,-9 1,6 1,15 1,-5 1,-36 1,18 1,40 1,-43 1,10 1,31 1,1 1,-14 1,-18 1,17 1,4 1,-31 1,23 1,-7 1,2 1,-26 1,-10 1,17 1,20 1,8 1,-27 1,-3 1,49 1,-30 1,-5 1,-25 1,28 1,-17 1,-8 1,38 1,-19 1,-11 1,12 1,-2 1,22 1,-34 1,7 1,21 1,-14 1,-3 1,-2 1,-2 1,-7 1,30 1,-35 1,20 1,-25 1,3 1,9 1,-11 1,23 1,0 1,-7 1,12 1,-23 1,-2 1,39 1,-44 1,33 1,-15 1,7 1,-21 1,25 1,-24 1,11 1,-1 1,22 1,-31 1,0 1,2 1,-16 1,-16 1,9 1,28 1,-37 1,40 1,-19 1,-8 1,-4 1,31 1,-3 1,-34 1,30 1,-5 1,5 1,-15 1,14 1,1 1,-31 1,26 1,2 1,-2 1,-20 1,20 1,-21 1,40 1,-35 1,32 1,-8 1,-45 1,33 1,-22 1,21 1,-13 1,12 1,3 1,10 1,-20 1,20 1,-12 1,9 1,-27 1,-6 1,10 1,26 1,-27 1,-9 1,20 1,7 1,0 1,-31 1,25 1,-5 1,6 1,9 1,21 1,-30 1,6 1,1 1,-8 1,-8 1,40 1,8 1,-54 1,48 1,-37 1,21 1,-23 1,49 1,-24 1,-19 1,-14 1,55 1,-28 1,-20 1,27 1,-19 1,-20 1,3 1,-17 1,81 1,-33 1,-34 1,46 1,-12 1,-24 1,-3 1,-11 1,4 1,41 1,17 1,-22 1,-15 1,0 1,33 1,-5 1,11 1,-1 1,1 1,-11 1,-4 1,23 1,-22 1,-25 1,32 1,5 1,4 1,-30 1,13 1,-22 1,18 1,8 1,8 1,-37 1,50 1,15 1,-20 1,12 1,-19 1,-28 1,46 1,-4 1,-25 1,-13 1,24 1,-7 1,-2 1,10 1,-2 1,0 1,27 1,-34 1,43 1,-46 1,-1 1,24 1,-10 1,37 1,-44 1,-8 1,15 1,-19 1,41 1,-12 1,-3 1,-3 1,3 1,-23 1,37 1,-5 1,-7 1,-18 1,-1 1,19 1,6 1,-11 1,39 1,-57 1,17 1,18 1,-6 1,10 1,-34 1,5 1,1 1,21 1,22 1,-46 1,7 1,1 1,5 1,11 1,-13 1,7 1,1 1,-17 1,5 1,-11 1,8 1,12 1,-14 1,3 1,-12 1,10 1,8 1,8 1,-1 1,-14 1,7 1,-9 1,3 1,-13 1,16 1,20 1,6 1,-16 1,-15 1,16 1,-21 1,8 1,7 1,7 1,10 1,-29 1,21 1,-12 1,23 1,-33 1,9 1,-9 1,13 1,17 1,-14 1,-1 1,-2 1,-16 1,10 1,-9 1,18 1,-19 1,10 1,21 1,-13 1,-10 1,5 1,-1 1,37 1,-29 1,-5 1,-36 1,23 1,-24 1,30 1,2 1,-12 1,2 1,35 1,11 1,-36 1,-13 1,27 1,-4 1,0 1,8 1,15 1,-14 1,-11 1,-7 1,-7 1,-20 1,41 1,-34 1,40 1,-39 1,29 1,-29 1,-1 1,49 1,-12 1,-25 1,1 1,13 1,16 1,-22 1,5 1,-20 1,27 1,4 1,-54 1,57 1,-21 1,-16 1,-8 1,34 1,3 1,-13 1,-13 1,20 1,-18 1,-13 1,10 1,-14 1,17 1,4 1,7 1,-16 1,27 1,-45 1,45 1,-3 1,-22 1,-7 1,2 1,12 1,15 1,-12 1,3 1,-19 1,-9 1,41 1,-19 1,-15 1,13 1,14 1,-16 1,25 1,-26 1,0 1,6 1,13 1,6 1,-25 1,22 1,-43 1,24 1,-10 1,-2 1,14 1,-41 1,22 1,14 1,15 1,-31 1,3 1,1 1,12 1,0 1,-8 1,5 1,12 1,-12 1,36 1,-45 1,10 1,-27 1,0 1,-1 1,55 1,-7 1,-12 1,-32 1,17 1,25 1,-1 1,-25 1,-6 1,-7 1,21 1,-13 1,-7 1,20 1,-11 1,18 1,-16 1,-14 1,5 1,9 1,-4 1,-39 1,23 1,3 1,11 1,28 1,-59 1,8 1,38 1,-33 1,-4 1,-8 1,11 1,10 1,14 1,-1 1,5 1,-35 1,19 1,13 1,-21 1,20 1,16 1,-53 1,24 1,-30 1,24 1,0 1,22 1,-29 1,17 1,-26 1,46 1,-48 1,18 1,7 1,15 1,-28 1,-13 1,11 1,16 1,44 1,-52 1,4 1,30 1,-17 1,15 1,-11 1,6 1,4 1,-13 1,14 1,-17 1,56 1,-36 1,-6 1,1 1,-25 1,36 1,-6 1,-3 1,-5 1,-7 1,10 1,23 1,-6 1,-11 1,-9 1,6 1,24 1,-36 1,14 1,-46 1,31 1,11 1,9 1,-4 1,12 1,-14 1,23 1,-19 1,6 1,30 1,-13 1,2 1,-21 1,13 1,13 1,-23 1,15 1,-10 1,18 1,-1 1,-3 1,3 1,3 1,4 1,-4 1,-8 1,35 1,14 1,-30 1,-11 1,37 1,-13 1,17 1,-13 1,-7 1,-9 1,-3 1,25 1,-27 1,2 1,2 1,24 1,-19 1,23 1,5 1,-18 1,-6 1,10 1,14 1,-18 1,-12 1,31 1,-7 1,-20 1,28 1,0 1,7 1,-25 1,19 1,10 1,-2 1,-1 1,-8 1,15 1,-24 1,16 1,-24 1,34 1,-10 1,-24 1,30 1,5 1,-22 1,-14 1,-8 1,25 1,27 1,-5 1,2 1,-27 1,14 1,6 1,-6 1,-4 1,-3 1,-5 1,6 1,-16 1,15 1,-3 1,-19 1,39 1,11 1,-9 1,-21 1,-2 1,10 1,-9 1,1 1,24 1,-38 1,24 1,11 1,-30 1,10 1,-10 1,9 1,-2 1,26 1,-15 1,2 1,18 1,-44 1,28 1,-2 1,-13 1,-5 1,28 1,-17 1,-9 1,13 1,-1 1,-7 1,-18 1,30 1,-27 1,15 1,8 1,0 1,10 1,9 1,-11 1,-10 1,-1 1,23 1,-13 1,-26 1,20 1,-18 1,-6 1,25 1,-1 1,-6 1,5 1,5 1,0 1,-5 1,9 1,0 1,-19 1,-4 1,35 1,-18 1,-17 1,29 1,-4 1,-17 1,19 1,-10 1,-7 1,15 1,8 1,-45 1,26 1,-1 1,6 1,-9 1,-1 1,3 1,12 1,23 1,-18 1,-28 1,21 1,4 1,-24 1,17 1,-15 1,13 1,-3 1,22 1,-30 1,27 1,-2 1,-4 1,-18 1,-11 1,14 1,-21 1,31 1,12 1,-2 1,-2 1,-17 1,22 1,-21 1,-2 1,12 1,17 1,2 1,-10 1,-12 1,-23 1,4 1,38 1,-23 1,30 1,-3 1,-20 1,2 1,-11 1,26 1,-29 1,17 1,-12 1,18 1,-15 1,28 1,-36 1,14 1,-15 1,9 1,24 1,-5 1,-4 1,10 1,-15 1,-13 1,27 1,7 1,-21 1,20 1,-18 1,-10 1,2 1,-5 1,20 1,-4 1,-9 1,2 1,9 1,-5 1,8 1,-9 1,9 1,-8 1,9 1,-7 1,-14 1,9 1,7 1,-14 1,23 1,-17 1,11 1,-7 1,24 1,-10 1,-4 1,-7 1,-12 1,15 1,-12 1,16 1,-18 1,7 1,7 1,4 1,1 1,5 1,-12 1,8 1,15 1,-25 1,-2 1,-1 1,6 1,-9 1,-5 1,9 1,15 1,-17 1,16 1,12 1,-18 1,13 1,-11 1,-1 1,2 1,1 1,-17 1,1 1,10 1,-8 1,17 1,-10 1,-7 1,16 1,-14 1,18 1,2 1,-29 1,48 1,-12 1,-16 1,6 1,5 1,-20 1,18 1,-27 1,10 1,-2 1,-16 1,9 1,17 1,3 1,-14 1,11 1,-13 1,-10 1,6 1,6 1,20 1,-2 1,-16 1,17 1,4 1,-7 1,-28 1,23 1,-12 1,-1 1,12 1,-17 1,34 1,-28 1,-9 1,22 1,-12 1,4 1,-4 1,-2 1,1 1,12 1,-31 1,7 1,23 1,3 1,5 1,-26 1,19 1,2 1,-2 1,-12 1,20 1,0 1,-5 1,-24 1,13 1,13 1,-12 1,-12 1,32 1,-33 1,32 1,-25 1,12 1,-13 1,-10 1,8 1,15 1,-1 1,-7 1,12 1,-26 1,27 1,-10 1,-5 1,-7 1,4 1,-4 1,20 1,1 1,-3 1,13 1,-32 1,16 1,10 1,-1 1,-12 1,8 1,-1 1,-1 1,1 1,-8 1,12 1,-2 1,-17 1,5 1,9 1,6 1,4 1,-26 1,20 1,-2 1,-9 1,-3 1,27 1,-15 1,-9 1,19 1,-7 1,-2 1,-17 1,9 1,7 1,-4 1,-16 1,20 1,0 1,7 1,-22 1,5 1,4 1,-10 1,9 1,1 1,-16 1,-1 1,10 1,19 1,-1 1,-32 1,10 1,25 1,-8 1,-8 1,-8 1,8 1,-17 1,12 1,5 1,-24 1,24 1,-5 1,8 1,0 1,-11 1,-8 1,25 1,0 1,-14 1,10 1,-13 1,-6 1,3 1,9 1,26 1,-10 1,5 1,-30 1,22 1,-17 1,9 1,4 1,-11 1,9 1,-3 1,-28 1,28 1,-1 1,1 1,-10 1,4 1,-3 1,-10 1,21 1,0 1,8 1,-10 1,3 1,-21 1,20 1,-26 1,16 1,29 1,-24 1,-23 1,29 1,3 1,-4 1,-3 1,-16 1,13 1,3 1,-18 1,8 1,17 1,-3 1,-6 1,-27 1,26 1,-6 1,2 1,-10 1,23 1,-3 1,-17 1,7 1,-8 1,0 1,11 1,-12 1,15 1,8 1,-9 1,-14 1,9 1,19 1,-32 1,14 1,8 1,-19 1,26 1,-10 1,-2 1,-6 1,12 1,-6 1,-10 1,13 1,-22 1,15 1,13 1,-18 1,-2 1,14 1,-12 1,-6 1,-8 1,16 1,-10 1,-3 1,14 1,0 1,15 1,-18 1,9 1,-4 1,-2 1,-2 1,2 1,8 1,-13 1,24 1,-31 1,27 1,-23 1,8 1,-4 1,-11 1,10 1,4 1,-20 1,15 1,5 1,-2 1,10 1,-24 1,9 1,-10 1,17 1,11 1,-11 1,-9 1,37 1,-38 1,-15 1,24 1,15 1,-7 1,-31 1,20 1,-12 1,5 1,19 1,-30 1,25 1,6 1,-2 1,-18 1,-19 1,24 1,10 1,-7 1,0 1,17 1,0 1,-13 1,-12 1,-7 1,-1 1,29 1,14 1,-25 1,-14 1,6 1,-13 1,6 1,-1 1,4 1,5 1,-4 1,10 1,12 1,-19 1,-5 1,13 1,-14 1,18 1,-43 1,54 1,-29 1,-14 1,30 1,-9 1,-18 1,39 1,-13 1,-5 1,7 1,-8 1,1 1,1 1,-8 1,21 1,-9 1,-18 1,14 1,-14 1,17 1,12 1,-9 1,-5 1,-10 1,14 1,13 1,-40 1,-9 1,42 1,-10 1,-9 1,11 1,-2 1,-17 1,-1 1,14 1,-17 1,33 1,-16 1,-8 1,0 1,-4 1,13 1,-19 1,16 1,7 1,0 1,-20 1,13 1,-28 1,28 1,13 1,-26 1,34 1,-14 1,7 1,-28 1,29 1,3 1,5 1,-31 1,32 1,-41 1,11 1,19 1,-28 1,12 1,-12 1,27 1,-10 1,-7 1,-7 1,9 1,-12 1,15 1,16 1,-28 1,3 1,-5 1,21 1,-18 1,15 1,6 1,18 1,-32 1,6 1,-5 1,14 1,-9 1,8 1,3 1,-13 1,-1 1,5 1,-11 1,4 1,7 1,-5 1,-17 1,0 1,5 1,2 1,-13 1,8 1,18 1,0 1,-1 1,1 1,7 1,-23 1,23 1,4 1,-6 1,-15 1,17 1,-31 1,23 1,7 1,10 1,-36 1,25 1,3 1,-20 1,1 1,24 1,25 1,-23 1,-29 1,6 1,-1 1,3 1,5 1,-6 1,5 1,8 1,4 1,-15 1,-17 1,22 1,-30 1,44 1,26 1,-40 1,8 1,-9 1,6 1,-17 1,25 1,-35 1,17 1,-3 1,17 1,-19 1,20 1,-10 1,-13 1,-4 1,11 1,-5 1,13 1,-10 1,2 1,10 1,-8 1,-10 1,12 1,-11 1,7 1,-9 1,26 1,-20 1,10 1,-15 1,10 1,1 1,-8 1,14 1,-32 1,25 1,-5 1,4 1,8 1,-3 1,9 1,-12 1,-31 1,28 1,7 1,-21 1,19 1,-32 1,28 1,-3 1,20 1,-15 1,-9 1,1 1,5 1,8 1,-16 1,14 1,12 1,-11 1,-13 1,28 1,-20 1,0 1,6 1,15 1,-17 1,3 1,-20 1,24 1,-5 1,-12 1,-10 1,21 1,-4 1,2 1,13 1,-50 1,60 1,-31 1,11 1,0 1,-8 1,9 1,-6 1,10 1,-27 1,15 1,27 1,-37 1,15 1,-2 1,-15 1,13 1,1 1,2 1,-1 1,0 1,22 1,-5 1,-1 1,-20 1,14 1,-12 1,6 1,3 1,17 1,-38 1,46 1,-4 1,-35 1,5 1,0 1,19 1,-40 1,29 1,-18 1,11 1,-8 1,1 1,25 1,-14 1,9 1,6 1,-13 1,5 1,-2 1,15 1,-29 1,8 1,7 1,-22 1,12 1,-2 1,5 1,-12 1,23 1,5 1,-5 1,-27 1,16 1,-5 1,-8 1,-6 1,21 1,-2 1,-16 1,14 1,-2 1,17 1,-5 1,-42 1,33 1,0 1,23 1,-32 1,6 1,-9 1,-13 1,33 1,-5 1,7 1,-19 1,17 1,-21 1,21 1,-2 1,-3 1,19 1,-10 1,-20 1,-11 1,27 1,-13 1,-7 1,11 1,12 1,-27 1,37 1,-37 1,-1 1,14 1,-11 1,15 1,-7 1,-10 1,-4 1,25 1,0 1,-6 1,2 1,-7 1,7 1,-7 1,10 1,3 1,-31 1,9 1,11 1,4 1,30 1,-26 1,-10 1,-4 1,6 1,-35 1,24 1,27 1,-13 1,0 1,-9 1,0 1,11 1,17 1,25 1,-33 1,-23 1,4 1,8 1,-1 1,-17 1,23 1,-5 1,18 1,-28 1,4 1,-4 1,-6 1,-10 1,27 1,-1 1,-17 1,7 1,3 1,6 1,12 1,-21 1,-11 1,25 1,-26 1,25 1,5 1,-12 1,-1 1,-15 1,14 1,-2 1,2 1,-26 1,1 1,18 1,16 1,-4 1,-8 1,-1 1,13 1,-7 1,10 1,-1 1,-20 1,7 1,4 1,7 1,-3 1,-16 1,11 1,29 1,-25 1,6 1,3 1,-7 1,-12 1,4 1,1 1,3 1,8 1,-24 1,24 1,-13 1,-7 1,0 1,7 1,-16 1,1 1,33 1,-22 1,-1 1,3 1,-6 1,18 1,5 1,-23 1,5 1,7 1,4 1,22 1,-9 1,-13 1,-6 1,-9 1,17 1,-9 1,-17 1,6 1,18 1,-4 1,-35 1,10 1,9 1,5 1,16 1,-16 1,15 1,6 1,-18 1,21 1,-18 1,3 1,-1 1,1 1,0 1,10 1,-19 1,24 1,-13 1,-15 1,-9 1,20 1,-5 1,0 1,6 1,11 1,-5 1,-25 1,13 1,-7 1,-2 1,27 1,-36 1,6 1,21 1,6 1,11 1,-41 1,-4 1,37 1,-23 1,2 1,9 1,4 1,-18 1,1 1,5 1,11 1,-18 1,-1 1,25 1,-15 1,21 1,-34 1,10 1,5 1,4 1,-3 1,-25 1,13 1,15 1,-12 1,4 1,20 1,-38 1,8 1,7 1,1 1,17 1,-16 1,0 1,-7 1,4 1,19 1,2 1,-23 1,1 1,11 1,15 1,-15 1,-10 1,10 1,-13 1,14 1,4 1,-7 1,13 1,-26 1,8 1,-15 1,5 1,6 1,6 1,19 1,-26 1,-2 1,17 1,-13 1,10 1,-21 1,6 1,8 1,-18 1,34 1,-46 1,26 1,9 1,-17 1,22 1,-19 1,0 1,-3 1,16 1,-33 1,32 1,-20 1,15 1,-17 1,38 1,-47 1,18 1,-6 1,33 1,-54 1,32 1,25 1,-27 1,-18 1,30 1,-7 1,2 1,-8 1,19 1,-20 1,4 1,6 1,8 1,-11 1,-22 1,8 1,30 1,-29 1,12 1,-13 1,4 1,-1 1,11 1,-8 1,14 1,9 1,-2 1,-18 1,-19 1,33 1,-18 1,-3 1,-11 1,29 1,-5 1,-4 1,5 1,8 1,-30 1,21 1,16 1,-34 1,12 1,12 1,-20 1,16 1,24 1,-40 1,9 1,13 1,-4 1,6 1,-22 1,23 1,13 1,-29 1,13 1,-19 1,7 1,-11 1,1 1,-4 1,33 1,-23 1,21 1,-10 1,-24 1,14 1,14 1,3 1,12 1,-19 1,4 1,-23 1,-1 1,2 1,25 1,-25 1,9 1,1 1,34 1,-15 1,-7 1,11 1,-20 1,-3 1,4 1,-5 1,2 1,21 1,-46 1,8 1,9 1,1 1,9 1,5 1,-24 1,8 1,11 1,2 1,22 1,-19 1,8 1,-6 1,-22 1,28 1,-6 1,-16 1,-2 1,3 1,5 1,14 1,-13 1,15 1,11 1,-33 1,-11 1,36 1,-24 1,-17 1,-1 1,14 1,18 1,-28 1,-6 1,19 1,5 1,-3 1,18 1,-30 1,7 1,2 1,-11 1,4 1,16 1,6 1,-2 1,0 1,-4 1,5 1,-12 1,13 1,-25 1,3 1,11 1,13 1,-3 1,-35 1,20 1,23 1,-27 1,-4 1,8 1,-9 1,7 1,17 1,2 1,-17 1,2 1,4 1,5 1,-13 1,-2 1,10 1,-6 1,6 1,-12 1,27 1,-21 1,17 1,-5 1,2 1,7 1,-5 1,-32 1,22 1,-1 1,-3 1,1 1,2 1,9 1,-11 1,13 1,-30 1,-11 1,24 1,-16 1,8 1,-11 1,31 1,-18 1,-8 1,15 1,-7 1,16 1,-24 1,8 1,-2 1,-10 1,15 1,-5 1,-19 1,28 1,-22 1,-1 1,18 1,-4 1,-31 1,29 1,-10 1,-23 1,14 1,8 1,2 1,5 1,-26 1,42 1,-33 1,-13 1,23 1,5 1,-28 1,22 1,1 1,-21 1,6 1,19 1,-22 1,-2 1,22 1,-28 1,21 1,18 1,-11 1,-4 1,5 1,0 1,-6 1,-22 1,12 1,-15 1,-11 1,40 1,-19 1,-19 1,9 1,4 1,-14 1,15 1,-29 1,49 1,-44 1,8 1,38 1,-5 1,7 1,-47 1,5 1,16 1,24 1,-8 1,-9 1,-25 1,25 1,-8 1,25 1,-50 1,20 1,26 1,-28 1,10 1,12 1,-8 1,-24 1,25 1,12 1,-34 1,29 1,-34 1,5 1,9 1,21 1,-13 1,8 1,7 1,-15 1,15 1,-22 1,5 1,-7 1,-24 1,10 1,22 1,4 1,-20 1,-16 1,38 1,-34 1,11 1,-14 1,9 1,-10 1,54 1,-30 1,11 1,-10 1,16 1,-35 1,-30 1,59 1,-33 1,15 1,10 1,-18 1,-6 1,-14 1,16 1,15 1,4 1,18 1,-46 1,51 1,-49 1,37 1,1 1,-28 1,11 1,-3 1,12 1,-15 1,-7 1,45 1,-49 1,34 1,-15 1,-16 1,-16 1,35 1,-8 1,1 1,-5 1,30 1,-26 1,-18 1,41 1,-28 1,24 1,-10 1,-3 1,15 1,-22 1,21 1,-31 1,27 1,11 1,-45 1,26 1,-9 1,15 1,-5 1,-15 1,-16 1,17 1,25 1,-4 1,-14 1,-6 1,11 1,-23 1,31 1,2 1,-13 1,13 1,-18 1,8 1,19 1,-6 1,-17 1,1 1,15 1,-15 1,9 1,-29 1,14 1,12 1,-20 1,13 1,-7 1,5 1,-20 1,16 1,21 1,-11 1,-4 1,-2 1,19 1,-21 1,16 1,-45 1,30 1,29 1,-22 1,-27 1,26 1,4 1,-27 1,13 1,19 1,11 1,-25 1,-11 1,5 1,2 1,-9 1,10 1,1 1,-20 1,39 1,-12 1,-20 1,1 1,8 1,-4 1,0 1,-5 1,35 1,-22 1,-13 1,-32 1,-6 1,22 1,-24 1,23 1,-7 1,4 1,19 1,13 1,-47 1,10 1,-10 1,31 1,-5 1,-10 1,-1 1,-23 1,41 1,-67 1,26 1,-11 1,34 1,-4 1,-12 1,-17 1,33 1,-18 1,-30 1,1 1,20 1,-7 1,9 1,-42 1,9 1,75 1,-13 1,-53 1,48 1,-41 1,9 1,4 1,-4 1,-2 1,-6 1,10 1,-8 1,4 1,9 1,-7 1,4 1,-6 1,15 1,-17 1,-32 1,40 1,-24 1,20 1,24 1,-33 1,22 1,-39 1,6 1,-20 1,56 1,-20 1,43 1,-45 1,-16 1,-9 1,27 1,5 1,-17 1,24 1,-18 1,-18 1,-2 1,15 1,5 1,-14 1,37 1,-19 1,-14 1,-17 1,47 1,-53 1,64 1,-69 1,32 1,-7 1,9 1,-33 1,34 1,3 1,-2 1,-14 1,-11 1,-2 1,6 1,-11 1,6 1,5 1,15 1,-12 1,17 1,-11 1,-23 1,1 1,16 1,-8 1,-17 1,29 1,12 1,-8 1,-15 1,-10 1,25 1,11 1,-24 1,34 1,-69 1,56 1,-5 1,0 1,-28 1,43 1,-16 1,-10 1,-5 1,1 1,-29 1,41 1,20 1,-16 1,-3 1,22 1,-51 1,24 1,12 1,-32 1,31 1,-13 1,32 1,-13 1,1 1,-22 1,37 1,1 1,0 1,-38 1,4 1,32 1,-23 1,-6 1,4 1,16 1,-1 1,6 1,15 1,-23 1,-21 1,50 1,-39 1,-8 1,38 1,-2 1,12 1,16 1,-1 1,-9 1,-37 1,8 1,-7 1,32 1,-20 1,39 1,-32 1,22 1,1 1,2 1,-49 1,54 1,-29 1,17 1,-12 1,7 1,18 1,-8 1,18 1,-26 1,12 1,-12 1,22 1,7 1,-5 1,-22 1,17 1,-20 1,-5 1,49 1,-13 1,-1 1,-7 1,13 1,-1 1,23 1,9 1,-18 1,-9 1,-6 1,4 1,-5 1,-1 1,11 1,18 1,-14 1,5 1,6 1,-33 1,35 1,1 1,-20 1,-18 1,15 1,17 1,15 1,1 1,-23 1,35 1,-19 1,-5 1,25 1,-28 1,19 1,-9 1,-14 1,-3 1,13 1,30 1,-22 1,7 1,-2 1,4 1,5 1,-16 1,19 1,-28 1,16 1,14 1,-5 1,-16 1,42 1,-7 1,-33 1,16 1,8 1,12 1,-26 1,-28 1,36 1,-15 1,14 1,2 1,-4 1,11 1,6 1,5 1,31 1,-26 1,4 1,-30 1,29 1,16 1,-38 1,9 1,-15 1,2 1,-6 1,22 1,-1 1,18 1,18 1,-34 1,-4 1,-6 1,43 1,-56 1,12 1,32 1,-25 1,19 1,-8 1,10 1,-21 1,30 1,-35 1,9 1,2 1,2 1,4 1,7 1,-14 1,10 1,3 1,-3 1,15 1,-22 1,16 1,-18 1,29 1,-13 1,22 1,-36 1,3 1,13 1,-16 1,23 1,-14 1,9 1,-22 1,6 1,-10 1,35 1,-26 1,14 1,15 1,0 1,-19 1,-4 1,8 1,3 1,-2 1,4 1,-4 1,15 1,7 1,-13 1,-5 1,-7 1,18 1,-22 1,35 1,-21 1,16 1,-28 1,17 1,12 1,-5 1,-11 1,5 1,-14 1,22 1,-4 1,-6 1,-25 1,42 1,-11 1,-13 1,45 1,-40 1,20 1,-17 1,11 1,-9 1,1 1,10 1,-7 1,-2 1,-16 1,16 1,1 1,-12 1,2 1,18 1,7 1,-7 1,-5 1,14 1,2 1,-37 1,27 1,-14 1,37 1,-23 1,-15 1,15 1,-10 1,14 1,-20 1,10 1,-4 1,23 1,-20 1,-4 1,12 1,7 1,-11 1,8 1,-14 1,18 1,-12 1,-3 1,24 1,-12 1,-8 1,-7 1,3 1,2 1,13 1,-8 1,12 1,-14 1,-1 1,-12 1,11 1,-7 1,-1 1,1 1,-3 1,20 1,-22 1,8 1,15 1,-9 1,13 1,-6 1,0 1,6 1,-17 1,-2 1,4 1,7 1,5 1,-17 1,16 1,1 1,-11 1,7 1,-15 1,11 1,6 1,-20 1,6 1,9 1,17 1,-15 1,-13 1,12 1,-8 1,20 1,0 1,-34 1,1 1,16 1,6 1,-9 1,9 1,17 1,-11 1,-17 1,16 1,-32 1,2 1,21 1,10 1,-5 1,-2 1,12 1,-28 1,42 1,-37 1,11 1,-15 1,6 1,29 1,-17 1,-26 1,-1 1,33 1,-12 1,1 1,1 1,-1 1,-9 1,3 1,16 1,5 1,-28 1,6 1,14 1,-29 1,15 1,3 1,-7 1,13 1,27 1,-45 1,13 1,-12 1,10 1,-3 1,-14 1,8 1,27 1,-32 1,-2 1,4 1,4 1,13 1,0 1,-27 1,41 1,-32 1,-7 1,21 1,-1 1,-18 1,34 1,-17 1,4 1,-9 1,15 1,-4 1,-28 1,6 1,3 1,18 1,-8 1,-10 1,5 1,4 1,-18 1,11 1,-13 1,28 1,-3 1,-22 1,26 1,-34 1,24 1,-19 1,20 1,-13 1,9 1,7 1,-5 1,3 1,-10 1,24 1,-47 1,37 1,-6 1,4 1,1 1,-21 1,25 1,2 1,-29 1,13 1,-1 1,-10 1,5 1,14 1,-3 1,1 1,-21 1,-1 1,21 1,3 1,0 1,-9 1,7 1,-9 1,8 1,-7 1,5 1,17 1,-15 1,0 1,-14 1,22 1,8 1,-12 1,-3 1,-10 1,-12 1,17 1,22 1,-34 1,15 1,12 1,-22 1,-12 1,13 1,9 1,-5 1,-4 1,-8 1,7 1,9 1,5 1,-14 1,25 1,-8 1,-15 1,15 1,-21 1,7 1,-4 1,8 1,1 1,-12 1,7 1,7 1,-14 1,19 1,-5 1,-8 1,14 1,-12 1,4 1,-14 1,19 1,-6 1,5 1,-26 1,30 1,6 1,-11 1,-10 1,-14 1,34 1,-22 1,13 1,4 1,-12 1,9 1,-2 1,-15 1,21 1,4 1,-8 1,4 1,19 1,-32 1,-14 1,29 1,-18 1,14 1,6 1,-39 1,22 1,25 1,-15 1,-10 1,24 1,-11 1,-5 1,37 1,-42 1,16 1,-3 1,3 1,14 1,-22 1,7 1,-4 1,-14 1,34 1,-22 1,6 1,3 1,-7 1,14 1,0 1,-11 1,6 1,-7 1,9 1,-3 1,-8 1,-3 1,22 1,9 1,-17 1,23 1,-19 1,2 1,-14 1,17 1,19 1,-28 1,12 1,-21 1,12 1,6 1,-17 1,-1 1,10 1,10 1,-7 1,4 1,13 1,-6 1,-17 1,4 1,7 1,10 1,-18 1,5 1,-21 1,14 1,24 1,-23 1,5 1,10 1,-5 1,3 1,4 1,-21 1,-12 1,10 1,6 1,1 1,29 1,-40 1,15 1,6 1,-3 1,12 1,-8 1,-16 1,1 1,19 1,-30 1,31 1,-17 1,17 1,-11 1,-4 1,13 1,-7 1,13 1,4 1,-14 1,11 1,-1 1,-9 1,-8 1,13 1,-9 1,10 1,-2 1,-8 1,8 1,-9 1,0 1,-18 1,12 1,12 1,-10 1,16 1,-12 1,4 1,-12 1,9 1,11 1,0 1,1 1,-26 1,26 1,11 1,-13 1,-5 1,-7 1,11 1,7 1,-7 1,2 1,-22 1,14 1,10 1,-13 1,16 1,-8 1,8 1,9 1,-18 1,2 1,0 1,4 1,-8 1,2 1,4 1,-7 1,-1 1,-5 1,-2 1,6 1,6 1,-12 1,1 1,24 1,-1 1,0 1,-17 1,-2 1,4 1,9 1,-22 1,31 1,8 1,-28 1,-1 1,16 1,5 1,-38 1,27 1,-18 1,12 1,2 1,-6 1,-3 1,5 1,-1 1,-2 1,3 1,-4 1,-6 1,20 1,-6 1,6 1,5 1,-3 1,-15 1,23 1,-20 1,9 1,4 1,-24 1,24 1,-3 1,4 1,-14 1,-5 1,12 1,1 1,-9 1,8 1,-11 1,13 1,-3 1,15 1,-14 1,-4 1,-3 1,3 1,-5 1,-8 1,14 1,-4 1,9 1,-12 1,1 1,12 1,-5 1,-5 1,-2 1,5 1,-6 1,33 1,-23 1,-6 1,4 1,20 1,-29 1,8 1,13 1,-11 1,8 1,-11 1,-5 1,14 1,-3 1,6 1,-14 1,15 1,-20 1,27 1,-16 1,-13 1,12 1,0 1,-14 1,9 1,2 1,-9 1,12 1,-2 1,-5 1,24 1,-5 1,-22 1,12 1,-4 1,5 1,18 1,-20 1,8 1,-14 1,2 1,-3 1,4 1,11 1,-9 1,-18 1,12 1,27 1,-16 1,-18 1,16 1,-6 1,-1 1,-9 1,35 1,-1 1,-5 1,-19 1,8 1,-9 1,12 1,-20 1,14 1,7 1,-11 1,-5 1,7 1,-6 1,9 1,-3 1,10 1,-7 1,0 1,-6 1,-4 1,-5 1,17 1,2 1,-9 1,7 1,8 1,-2 1,-14 1,5 1,-14 1,31 1,-24 1,1 1,7 1,14 1,-35 1,12 1,26 1,-23 1,8 1,16 1,-24 1,11 1,-6 1,11 1,5 1,-19 1,-10 1,17 1,3 1,-6 1,-10 1,7 1,2 1,-13 1,13 1,-26 1,33 1,-3 1,14 1,-16 1,2 1,-20 1,11 1,18 1,-19 1,-6 1,7 1,4 1,3 1,-5 1,-8 1,29 1,2 1,-13 1,-8 1,1 1,4 1,-12 1,-18 1,28 1,-3 1,-5 1,14 1,-5 1,-15 1,2 1,-4 1,10 1,0 1,10 1,-3 1,12 1,-15 1,7 1,2 1,-2 1,-9 1,3 1,-12 1,18 1,-7 1,-5 1,-7 1,27 1,-27 1,4 1,17 1,-13 1,9 1,-2 1,-8 1,0 1,-3 1,21 1,-8 1,16 1,-15 1,0 1,-21 1,8 1,11 1,6 1,-4 1,-14 1,9 1,2 1,-18 1,15 1,-9 1,17 1,-17 1,-5 1,14 1,-13 1,16 1,12 1,-9 1,-11 1,17 1,3 1,-13 1,-17 1,33 1,-16 1,4 1,19 1,-36 1,5 1,17 1,7 1,-18 1,-7 1,2 1,6 1,-8 1,9 1,11 1,0 1,-6 1,7 1,-1 1,-21 1,21 1,-8 1,2 1,-4 1,-13 1,18 1,-10 1,-11 1,30 1,-2 1,-32 1,20 1,-12 1,1 1,9 1,-5 1,11 1,-10 1,-2 1,6 1,0 1,5 1,-9 1,15 1,-14 1,-2 1,11 1,-7 1,-3 1,16 1,2 1,-28 1,22 1,-4 1,14 1,-22 1,7 1,-5 1,8 1,-19 1,8 1,21 1,10 1,-21 1,2 1,-6 1,2 1,8 1,-15 1,10 1,0 1,-9 1,-4 1,9 1,7 1,3 1,-9 1,-4 1,17 1,-3 1,6 1,-12 1,-15 1,-5 1,20 1,-2 1,-6 1,-13 1,17 1,3 1,1 1,4 1,-2 1,-5 1,-7 1,-1 1,7 1,-15 1,22 1,-11 1,8 1,-1 1,7 1,-13 1,9 1,15 1,-3 1,-16 1,-23 1,23 1,0 1,-6 1,-1 1,-10 1,37 1,-16 1,1 1,1 1,-2 1,-11 1,11 1,-22 1,2 1,17 1,15 1,-8 1,-5 1,-7 1,2 1,-3 1,13 1,7 1,-11 1,3 1,-9 1,2 1,15 1,-17 1,3 1,-6 1,20 1,-23 1,6 1,7 1,19 1,-17 1,3 1,2 1,-4 1,-3 1,0 1,10 1,-2 1,3 1,-17 1,2 1,-4 1,13 1,2 1,-7 1,7 1,-10 1,-17 1,23 1,-3 1,-13 1,12 1,-20 1,37 1,-20 1,-6 1,16 1,-31 1,23 1,1 1,-4 1,5 1,3 1,0 1,10 1,-11 1,-17 1,15 1,-3 1,26 1,-13 1,-1 1,1 1,-22 1,1 1,22 1,-15 1,-4 1,4 1,2 1,15 1,-24 1,-1 1,30 1,4 1,-15 1,-31 1,34 1,-13 1,-9 1,22 1,-3 1,-5 1,-11 1,9 1,7 1,9 1,-10 1,-3 1,-1 1,-7 1,18 1,-1 1,-10 1,19 1,-36 1,18 1,-8 1,19 1,-19 1,-3 1,11 1,-9 1,19 1,-2 1,-28 1,9 1,24 1,-11 1,4 1,-15 1,11 1,6 1,-10 1,6 1,-8 1,8 1,11 1,-21 1,26 1,-4 1,-12 1,-9 1,15 1,-7 1,-15 1,-2 1,20 1,-5 1,1 1,-3 1,0 1,5 1,1 1,-11 1,19 1,-2 1,-26 1,37 1,-27 1,2 1,18 1,2 1,-13 1,3 1,-12 1,-2 1,12 1,-13 1,4 1,4 1,-2 1,-1 1,-5 1,10 1,-3 1,0 1,5 1,13 1,-28 1,4 1,-11 1,5 1,21 1,-22 1,9 1,-1 1,4 1,-3 1,20 1,-20 1,16 1,-12 1,19 1,-16 1,1 1,-10 1,7 1,-12 1,30 1,-28 1,6 1,8 1,-17 1,20 1,3 1,-11 1,-4 1,21 1,-23 1,4 1,9 1,-9 1,-6 1,6 1,-9 1,0 1,8 1,-5 1,-1 1,17 1,-17 1,7 1,-8 1,12 1,12 1,-16 1,13 1,-13 1,8 1,-4 1,5 1,11 1,-21 1,13 1,6 1,-23 1,9 1,-17 1,27 1,-20 1,3 1,8 1,5 1,-13 1,-2 1,-2 1,12 1,9 1,-6 1,-5 1,5 1,5 1,7 1,-13 1,-10 1,13 1,-10 1,7 1,-4 1,6 1,-11 1,12 1,8 1,-20 1,4 1,12 1,-11 1,3 1,4 1,-11 1,-2 1,31 1,-20 1,9 1,-8 1,6 1,-6 1,-7 1,4 1,6 1,3 1,-9 1,0 1,0 1,-12 1,2 1,11 1,-1 1,-10 1,14 1,-13 1,3 1,10 1,-26 1,6 1,-1 1,22 1,3 1,-26 1,-7 1,15 1,-6 1,-4 1,3 1,27 1,-10 1,-2 1,-2 1,-15 1,27 1,-17 1,9 1,10 1,4 1,-17 1,5 1,-6 1,-8 1,13 1,-20 1,11 1,5 1,-6 1,7 1,9 1,-17 1,2 1,7 1,-8 1,10 1,-20 1,28 1,-9 1,12 1,-17 1,13 1,1 1,-21 1,11 1,2 1,0 1,-12 1,13 1,-7 1,12 1,-16 1,3 1,3 1,22 1,-34 1,23 1,6 1,-31 1,11 1,-1 1,-3 1,7 1,0 1,-1 1,15 1,-4 1,-14 1,1 1,-1 1,7 1,-6 1,-11 1,8 1,9 1,-6 1,-5 1,-3 1,23 1,-5 1,0 1,-1 1,2 1,8 1,-26 1,8 1,-3 1,13 1,-9 1,-10 1,20 1,-9 1,0 1,-19 1,24 1,5 1,-12 1,5 1,-3 1,9 1,-21 1,7 1,-5 1,26 1,-26 1,11 1,-4 1,7 1,-9 1,7 1,-2 1,3 1,0 1,-7 1,-10 1,23 1,-12 1,15 1,-15 1,1 1,-5 1,34 1,-33 1,13 1,-22 1,33 1,-12 1,-15 1,28 1,-32 1,11 1,3 1,2 1,-10 1,-1 1,39 1,-37 1,8 1,2 1,-10 1,-5 1,6 1,8 1,11 1,-14 1,5 1,-4 1,-4 1,0 1,16 1,-24 1,25 1,-27 1,11 1,11 1,-16 1,-7 1,12 1,2 1,4 1,7 1,1 1,-19 1,25 1,-1 1,-20 1,-19 1,14 1,13 1,1 1,-21 1,4 1,19 1,-9 1,10 1,-25 1,9 1,22 1,-3 1,14 1,-27 1,-3 1,16 1,-17 1,4 1,3 1,11 1,-20 1,-2 1,3 1,10 1,-1 1,7 1,-25 1,3 1,2 1,12 1,6 1,-18 1,25 1,-20 1,11 1,12 1,-4 1,-9 1,-12 1,39 1,-31 1,-8 1,10 1,-5 1,9 1,16 1,-20 1,7 1,-23 1,3 1,-3 1,-1 1,11 1,-4 1,3 1,-2 1,13 1,-4 1,8 1,-14 1,3 1,2 1,-3 1,12 1,-29 1,13 1,6 1,-9 1,21 1,-6 1,10 1,-4 1,7 1,-24 1,13 1,-13 1,10 1,-4 1,-3 1,-11 1,6 1,13 1,-9 1,16 1,-18 1,18 1,-11 1,20 1,-16 1,-1 1,-7 1,12 1,-11 1,-5 1,19 1,-19 1,-2 1,3 1,17 1,3 1,-17 1,8 1,-5 1,3 1,-7 1,11 1,-13 1,-3 1,7 1,4 1,1 1,-2 1,2 1,-8 1,2 1,8 1,-4 1,-18 1,-4 1,16 1,5 1,-2 1,9 1,-15 1,8 1,1 1,-2 1,-6 1,12 1,-3 1,-2 1,-4 1,3 1,12 1,-34 1,11 1,-3 1,13 1,-8 1,16 1,-12 1,10 1,-9 1,-3 1,7 1,-8 1,0 1,14 1,-13 1,1 1,21 1,-10 1,0 1,-6 1,8 1,-5 1,-13 1,29 1,-22 1,7 1,-6 1,8 1,15 1,-24 1,10 1,-14 1,5 1,0 1,1 1,8 1,3 1,-10 1,-16 1,6 1,21 1,-8 1,6 1,-13 1,0 1,10 1,8 1,7 1,-31 1,-59 1,83 1,-27 1,8 1,20 1,-16 1,-2 1,5 1,-5 1,7 1,5 1,-5 1,-6 1,9 1,-11 1,-2 1,3 1,6 1,0 1,-6 1,-5 1,9 1,-5 1,-3 1,10 1,-13 1,4 1,14 1,-3 1,-1 1,-15 1,5 1,5 1,2 1,7 1,2 1,-15 1,13 1,-6 1,4 1,-4 1,4 1,-3 1,-14 1,5 1,-15 1,24 1,6 1,-8 1,12 1,-8 1,9 1,1 1,1 1,-11 1,-3 1,-3 1,2 1,-11 1,1 1,6 1,-17 1,22 1,-14 1,-5 1,36 1,-6 1,-5 1,3 1,4 1,-11 1,-13 1,-6 1,29 1,-17 1,-3 1,6 1,4 1,-6 1,2 1,4 1,-2 1,12 1,-22 1,-11 1,-9 1,31 1,-3 1,-3 1,11 1,-3 1,-3 1,-24 1,14 1,-15 1,8 1,9 1,-11 1,5 1,10 1,4 1,-3 1,-8 1,17 1,-8 1,-4 1,3 1,-2 1,5 1,-12 1,-14 1,10 1,13 1,-25 1,23 1,-8 1,-7 1,25 1,-10 1,-2 1,-17 1,24 1,-19 1,26 1,-18 1,12 1,-3 1,-12 1,-11 1,3 1,10 1,0 1,10 1,2 1,-20 1,2 1,5 1,-12 1,8 1,5 1,1 1,-8 1,11 1,-10 1,4 1,-11 1,5 1,20 1,1 1,-46 1,2 1,25 1,-10 1,17 1,-10 1,7 1,4 1,-18 1,31 1,-23 1,19 1,-9 1,11 1,-13 1,-11 1,13 1,4 1,-4 1,5 1,-8 1,16 1,-25 1,0 1,17 1,-17 1,0 1,24 1,-22 1,24 1,-11 1,-21 1,18 1,-14 1,37 1,-18 1,-22 1,24 1,-4 1,-7 1,-8 1,12 1,-8 1,14 1,16 1,-31 1,6 1,-8 1,15 1,-10 1,-5 1,2 1,15 1,-13 1,-25 1,32 1,1 1,-4 1,15 1,-12 1,-15 1,16 1,13 1,-20 1,2 1,0 1,11 1,-13 1,20 1,-21 1,1 1,13 1,-1 1,10 1,-1 1,-13 1,-20 1,15 1,-3 1,-4 1,7 1,-3 1,0 1,20 1,-23 1,12 1,16 1,-15 1,-2 1,-14 1,12 1,-6 1,14 1,-20 1,9 1,-8 1,0 1,30 1,-19 1,5 1,-9 1,-18 1,11 1,10 1,-4 1,15 1,-16 1,7 1,-10 1,6 1,-1 1,2 1,-21 1,28 1,-4 1,-3 1,-5 1,12 1,-5 1,4 1,1 1,2 1,23 1,-22 1,21 1,-18 1,14 1,1 1,-9 1,-14 1,2 1,-1 1,-13 1,26 1,-19 1,3 1,17 1,-2 1,-10 1,1 1,-2 1,4 1,-9 1,22 1,-17 1,9 1,0 1,-11 1,-3 1,17 1,-23 1,16 1,-3 1,4 1,-5 1,34 1,-29 1,-1 1,7 1,-10 1,6 1,2 1,9 1,3 1,-16 1,2 1,-9 1,14 1,-1 1,-1 1,4 1,-4 1,25 1,-17 1,-6 1,3 1,0 1,-3 1,8 1,-29 1,7 1,15 1,4 1,-3 1,-5 1,-1 1,-6 1,12 1,2 1,-7 1,28 1,-26 1,11 1,0 1,0 1,-26 1,16 1,2 1,6 1,-11 1,7 1,-23 1,27 1,-5 1,7 1,4 1,-13 1,2 1,14 1,-5 1,2 1,7 1,-5 1,1 1,-12 1,-4 1,2 1,-2 1,-7 1,10 1,0 1,-9 1,2 1,5 1,-11 1,4 1,16 1,1 1,-5 1,-7 1,-23 1,20 1,11 1,-3 1,0 1,6 1,-9 1,8 1,6 1,-5 1,-8 1,9 1,0 1,-17 1,12 1,1 1,1 1,-8 1,4 1,11 1,-9 1,4 1,-4 1,0 1,-5 1,8 1,-6 1,-8 1,8 1,-14 1,7 1,9 1,-5 1,6 1,-6 1,14 1,-5 1,-3 1,-4 1,0 1,4 1,13 1,-18 1,12 1,-12 1,11 1,-12 1,6 1,7 1,-15 1,20 1,-11 1,-11 1,7 1,16 1,-23 1,6 1,-4 1,19 1,0 1,-9 1,4 1,-1 1,-3 1,2 1,-2 1,-8 1,9 1,3 1,-8 1,23 1,-19 1,-4 1,-10 1,0 1,17 1,-6 1,10 1,-4 1,-1 1,-12 1,8 1,0 1,3 1,-12 1,7 1,6 1,12 1,-17 1,9 1,-22 1,23 1,-10 1,28 1,-24 1,-9 1,5 1,16 1,-17 1,-7 1,16 1,-4 1,16 1,-23 1,11 1,-2 1,-2 1,-9 1,16 1,5 1,-8 1,1 1,15 1,-30 1,-1 1,5 1,-3 1,14 1,6 1,-19 1,17 1,-17 1,3 1,2 1,13 1,-18 1,8 1,-10 1,-13 1,23 1,-13 1,13 1,-5 1,0 1,6 1,-7 1,7 1,11 1,-7 1,-17 1,14 1,-3 1,-1 1,-6 1,12 1,-6 1,5 1,-12 1,11 1,-4 1,-1 1,-12 1,16 1,19 1,-29 1,18 1,-16 1,-5 1,10 1,2 1,-1 1,1 1,6 1,-1 1,2 1,-23 1,24 1,-4 1,-2 1,-5 1,-4 1,7 1,-18 1,15 1,-2 1,7 1,3 1,-14 1,8 1,-5 1,0 1,3 1,-5 1,19 1,-14 1,1 1,17 1,-12 1,1 1,-7 1,-3 1,22 1,-15 1,-4 1,0 1,7 1,-12 1,-3 1,-5 1,8 1,22 1,-12 1,0 1,-2 1,-8 1,9 1,-6 1,3 1,5 1,-5 1,5 1,-8 1,3 1,-3" stroke="#515151" vector-effect="non-scaling-stroke"/>
</g>
<rect x="735.5" y="143.5" width="73" height="1044" fill="rgba(189,189,189,0.44)" stroke="rgba(205,205,205,0.8)" stroke-width="2.5"/>
<g fill="none" stroke="#000" stroke-width="5.6" stroke-dasharray="23.8 21">
<line x1="768" y1="174" x2="772" y2="826"/>
<line x1="776.2" y1="832" x2="779" y2="856.5"/>
<line x1="779" y1="869" x2="773.7" y2="1117"/>
</g>
<g fill="#000">
<rect x="148" y="24" width="1781" height="5"/>
<rect x="148" y="1341" width="1781" height="6"/>
<rect x="148" y="24" width="6" height="1323"/>
<rect x="1923" y="24" width="6" height="1323"/>
<rect x="148.0" y="1318" width="6" height="24"/>
<rect x="258.9" y="1331" width="6" height="11"/>
<rect x="369.9" y="1318" width="6" height="24"/>
<rect x="480.8" y="1331" width="6" height="11"/>
<rect x="591.8" y="1318" width="6" height="24"/>
<rect x="702.7" y="1331" width="6" height="11"/>
<rect x="813.6" y="1318" width="6" height="24"/>
<rect x="924.6" y="1331" width="6" height="11"/>
<rect x="1035.5" y="1318" width="6" height="24"/>
<rect x="1146.4" y="1331" width="6" height="11"/>
<rect x="1257.4" y="1318" width="6" height="24"/>
<rect x="1368.3" y="1331" width="6" height="11"/>
<rect x="1479.2" y="1318" width="6" height="24"/>
<rect x="1590.2" y="1331" width="6" height="11"/>
<rect x="1701.1" y="1318" width="6" height="24"/>
<rect x="1812.1" y="1331" width="6" height="11"/>
<rect x="1923.0" y="1318" width="6" height="24"/>
</g>
<g style="font-size:57px">
<text transform="translate(151.0,1417.5) scale(0.91,1)" text-anchor="middle">10</text>
<text transform="translate(372.9,1417.5) scale(0.91,1)" text-anchor="middle">20</text>
<text transform="translate(594.8,1417.5) scale(0.91,1)" text-anchor="middle">30</text>
<text transform="translate(816.6,1417.5) scale(0.91,1)" text-anchor="middle">40</text>
<text transform="translate(1038.5,1417.5) scale(0.91,1)" text-anchor="middle">50</text>
<text transform="translate(1260.4,1417.5) scale(0.91,1)" text-anchor="middle">60</text>
<text transform="translate(1482.2,1417.5) scale(0.91,1)" text-anchor="middle">70</text>
<text transform="translate(1704.1,1417.5) scale(0.91,1)" text-anchor="middle">80</text>
<text transform="translate(1926.0,1417.5) scale(0.91,1)" text-anchor="middle">90</text>
</g>
<text x="862.5" y="1520" style="font-size:68px">2Theta<tspan style="font-size:58px" dx="3">（</tspan><tspan dx="6">°</tspan><tspan style="font-size:58px" dx="8">）</tspan></text>
<text transform="translate(67,921) rotate(-90)" style="font-size:68px">Intensity<tspan style="font-size:58px" dx="2.6">（</tspan><tspan dx="8">a.u.</tspan><tspan style="font-size:58px" dx="8">）</tspan></text>
<g style="font-size:69px">
<text x="1638.5" y="213.5">Cu<tspan dx="-2" dy="17.5" style="font-size:46px">0.5</tspan><tspan dy="-17.5">Mn</tspan></text>
<text x="1614.5" y="450">Cu<tspan dx="-2" dy="17.5" style="font-size:46px">0.25</tspan><tspan dy="-17.5">Mn</tspan></text>
<text x="1621.5" y="672.5">Cu<tspan dx="-1" dy="17.5" style="font-size:46px">0.15</tspan><tspan dy="-17.5">Mn</tspan></text>
<text x="1634.5" y="923">Cu<tspan dx="-1.5" dy="17.5" style="font-size:46px">0.05</tspan><tspan dy="-17.5">Mn</tspan></text>
<text x="1692" y="1190">MnO<tspan dx="-2.5" dy="17.5" style="font-size:46px">2</tspan></text>
</g>
<g style="font-size:44px" text-anchor="middle">
<text x="782.0" y="73.0"><tspan dy="-2" style="font-size:37px">（</tspan><tspan dx="6" dy="2">101</tspan><tspan dx="4" dy="-2" style="font-size:37px">）</tspan></text>
<text x="560.0" y="1003.5"><tspan dy="-2" style="font-size:37px">（</tspan><tspan dx="6" dy="2">110</tspan><tspan dx="4" dy="-2" style="font-size:37px">）</tspan></text>
<text x="887.0" y="1079.5"><tspan dy="-2" style="font-size:37px">（</tspan><tspan dx="6" dy="2">111</tspan><tspan dx="4" dy="-2" style="font-size:37px">）</tspan></text>
<text x="971.0" y="1036.0"><tspan dy="-2" style="font-size:37px">（</tspan><tspan dx="6" dy="2">210</tspan><tspan dx="4" dy="-2" style="font-size:37px">）</tspan></text>
<text x="1415.0" y="1020.0"><tspan dy="-2" style="font-size:37px">（</tspan><tspan dx="6" dy="2">310</tspan><tspan dx="4" dy="-2" style="font-size:37px">）</tspan></text>
</g>
<g class="cl" style="font-size:56px" text-anchor="middle">
<text class="cl" transform="translate(774.0,130.0) scale(1.15,1)">♣</text>
<text class="cl" transform="translate(556.0,1068.0) scale(1.15,1)">♣</text>
<text class="cl" transform="translate(889.0,1135.5) scale(1.15,1)">♣</text>
<text class="cl" transform="translate(950.0,1131.5) scale(1.15,1)">♣</text>
<text class="cl" transform="translate(1415.0,1084.0) scale(1.15,1)">♣</text>
</g>
</svg>
</body></html>
